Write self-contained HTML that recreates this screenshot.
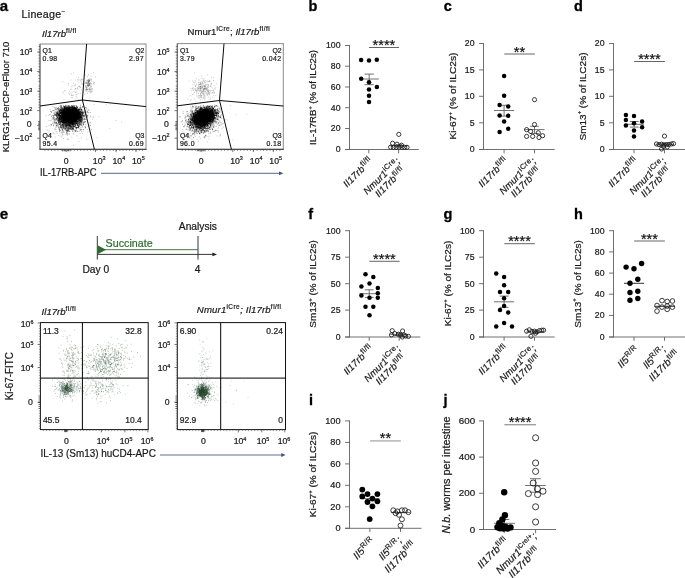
<!DOCTYPE html><html><head><meta charset="utf-8"><title>Figure</title><style>html,body{margin:0;padding:0;background:#fff;}svg{display:block;font-family:"Liberation Sans", sans-serif;will-change:transform;}</style></head><body>
<svg width="685" height="578" viewBox="0 0 685 578">
<rect width="685" height="578" fill="#fff"/>
<text x="-0.30" y="10.90" font-size="15" text-anchor="start" fill="#000" stroke="#000" stroke-width="0.3" font-weight="bold">a</text>
<text x="21.60" y="18.30" font-size="10.7" text-anchor="start" fill="#1a1a1a" stroke="#1a1a1a" stroke-width="0.22" letter-spacing="0.25">Lineage<tspan font-size="6.5" dy="-4.20" font-style="normal" letter-spacing="0.45">−</tspan></text>
<path d="M68.8 116.8h.1M68.9 113.6h.1M65.0 114.0h.1M76.4 116.5h.1M76.0 115.8h.1M72.4 115.5h.1M60.9 118.1h.1M73.0 116.7h.1M60.7 108.0h.1M65.2 113.0h.1M71.9 114.6h.1M73.1 112.3h.1M71.9 116.3h.1M66.5 121.5h.1M73.3 119.5h.1M66.7 111.9h.1M68.3 114.4h.1M73.7 115.8h.1M67.7 111.1h.1M67.3 119.6h.1M65.7 115.8h.1M72.6 109.0h.1M70.5 119.9h.1M58.9 113.5h.1M69.6 111.6h.1M73.0 114.6h.1M62.0 118.0h.1M73.9 118.5h.1M78.3 116.2h.1M70.9 109.7h.1M73.6 112.4h.1M67.7 109.9h.1M64.8 112.7h.1M77.4 106.9h.1M62.0 115.7h.1M78.3 117.1h.1M72.2 111.9h.1M63.9 118.6h.1M76.4 115.4h.1M71.6 116.5h.1M79.1 117.2h.1M73.1 116.9h.1M61.4 119.8h.1M75.5 116.9h.1M59.1 112.3h.1M74.9 107.7h.1M69.2 118.8h.1M62.9 121.1h.1M73.3 114.2h.1M72.0 117.3h.1M70.9 119.3h.1M66.5 113.2h.1M76.0 114.9h.1M65.3 118.5h.1M78.4 113.1h.1M62.5 114.3h.1M69.4 113.6h.1M78.1 110.8h.1M77.3 109.9h.1M65.8 117.3h.1M76.5 118.2h.1M72.1 115.4h.1M71.1 117.0h.1M69.2 115.9h.1M73.4 114.8h.1M74.5 117.0h.1M81.5 116.1h.1M67.8 113.3h.1M70.1 118.4h.1M68.3 116.3h.1M63.9 115.8h.1M72.4 115.7h.1M67.8 117.4h.1M71.8 112.8h.1M83.8 116.2h.1M67.1 114.4h.1M68.9 114.6h.1M54.9 112.9h.1M75.8 110.2h.1M69.8 118.5h.1M75.0 120.6h.1M60.7 113.4h.1M68.3 117.2h.1M76.3 109.2h.1M74.0 109.0h.1M71.2 119.5h.1M69.4 115.5h.1M74.7 115.4h.1M69.7 120.8h.1M76.1 113.7h.1M85.6 110.3h.1M75.3 113.8h.1M70.9 117.5h.1M71.4 117.3h.1M61.6 108.9h.1M73.6 111.0h.1M64.5 109.1h.1M77.3 117.7h.1M78.4 111.1h.1M70.2 110.4h.1M74.5 121.0h.1M65.2 120.9h.1M75.7 114.1h.1M59.2 120.3h.1M69.7 112.4h.1M72.4 116.4h.1M78.6 110.8h.1M76.6 120.6h.1M78.3 114.1h.1M66.0 118.8h.1M70.8 115.3h.1M78.2 113.8h.1M57.3 113.3h.1M59.8 118.0h.1M72.0 112.4h.1M70.1 118.0h.1M70.6 120.0h.1M69.9 118.9h.1M78.6 121.1h.1M66.4 118.2h.1M59.7 110.6h.1M59.2 119.0h.1M63.3 114.8h.1M69.1 114.7h.1M66.9 115.7h.1M80.2 115.0h.1M73.2 118.7h.1M69.1 109.9h.1M67.1 119.0h.1M61.0 112.5h.1M75.8 117.9h.1M70.2 117.9h.1M71.1 110.2h.1M61.4 112.3h.1M75.4 112.6h.1M65.1 111.8h.1M61.6 114.3h.1M63.6 116.2h.1M57.0 116.1h.1M66.6 107.2h.1M74.3 113.7h.1M57.7 111.4h.1M71.8 113.0h.1M74.6 117.7h.1M73.9 116.1h.1M77.7 117.4h.1M72.7 106.7h.1M75.2 119.9h.1M68.5 113.0h.1M81.1 107.9h.1M72.8 124.3h.1M65.0 117.5h.1M80.8 114.3h.1M73.3 118.3h.1M65.1 114.5h.1M71.8 118.0h.1M70.0 114.0h.1M64.5 113.4h.1M75.2 115.2h.1M65.4 111.5h.1M85.1 119.2h.1M73.7 116.7h.1M79.6 116.5h.1M69.8 116.8h.1M59.3 118.8h.1M72.0 112.1h.1M77.6 121.9h.1M62.3 112.2h.1M71.8 115.5h.1M68.0 111.0h.1M82.1 118.8h.1M63.5 109.6h.1M79.7 118.7h.1M80.4 118.0h.1M65.3 115.8h.1M58.1 111.9h.1M69.9 116.8h.1M66.1 114.3h.1M72.8 116.3h.1M73.8 115.6h.1M68.4 117.9h.1M70.5 111.6h.1M66.7 114.8h.1M69.6 115.4h.1M70.2 115.5h.1M69.4 109.9h.1M72.6 118.9h.1M72.6 114.1h.1M72.7 111.0h.1M59.6 115.0h.1M65.0 117.7h.1M64.4 121.0h.1M68.1 109.5h.1M65.9 116.8h.1M73.0 115.5h.1M78.5 117.6h.1M70.1 117.1h.1M79.5 118.6h.1M75.9 110.6h.1M69.4 117.6h.1M68.5 119.0h.1M73.5 118.3h.1M69.0 124.7h.1M77.1 114.0h.1M70.7 124.9h.1M68.3 118.2h.1M75.7 114.8h.1M63.7 115.5h.1M72.2 119.2h.1M74.6 114.9h.1M75.0 116.9h.1M71.4 115.0h.1M68.8 117.5h.1M64.3 112.3h.1M70.2 109.1h.1M67.8 107.0h.1M66.4 117.0h.1M73.4 114.6h.1M68.9 109.3h.1M80.4 116.8h.1M76.3 111.4h.1M69.2 107.7h.1M74.6 118.4h.1M59.6 114.6h.1M73.7 107.9h.1M60.0 110.6h.1M66.7 109.3h.1M70.4 115.8h.1M73.8 117.5h.1M78.6 119.3h.1M62.9 112.8h.1M64.3 110.6h.1M69.7 114.8h.1M72.9 108.6h.1M63.3 114.7h.1M69.1 113.6h.1M69.8 111.8h.1M74.1 116.2h.1M69.7 112.2h.1M64.7 114.9h.1M61.8 115.6h.1M71.0 109.4h.1M68.8 113.6h.1M72.8 117.2h.1M70.0 111.5h.1M69.4 114.5h.1M74.3 115.9h.1M66.2 109.5h.1M68.1 111.9h.1M64.0 114.3h.1M67.5 115.2h.1M73.1 113.2h.1M83.2 113.5h.1M76.4 115.3h.1M66.0 115.8h.1M73.6 123.9h.1M72.0 119.8h.1M74.5 118.5h.1M73.1 114.2h.1M73.1 110.6h.1M76.8 110.8h.1M71.6 123.1h.1M68.9 114.9h.1M76.7 114.9h.1M65.7 115.8h.1M73.5 117.6h.1M65.9 121.6h.1M79.5 114.9h.1M71.7 113.1h.1M78.1 112.1h.1M74.0 112.9h.1M66.3 117.6h.1M77.7 114.8h.1M66.4 118.0h.1M69.9 116.0h.1M78.7 119.2h.1M67.3 123.7h.1M70.2 117.9h.1M66.6 114.6h.1M60.4 121.8h.1M77.8 110.1h.1M61.8 108.5h.1M76.8 113.0h.1M69.9 113.6h.1M69.5 110.6h.1M70.3 109.2h.1M69.8 116.0h.1M72.8 113.9h.1M65.1 115.4h.1M67.5 120.9h.1M74.5 114.4h.1M67.6 112.1h.1M65.0 113.4h.1M71.9 116.8h.1M73.4 123.0h.1M66.3 114.9h.1M85.8 107.5h.1M67.3 115.5h.1M71.1 116.4h.1M68.9 116.2h.1M70.5 117.8h.1M59.6 111.3h.1M70.2 110.8h.1M64.3 117.2h.1M66.6 117.3h.1M74.4 116.0h.1M73.0 114.4h.1M62.3 114.7h.1M72.7 112.7h.1M69.6 117.7h.1M65.3 117.3h.1M80.6 112.6h.1M71.0 114.2h.1M78.8 116.0h.1M75.2 112.1h.1M70.1 114.8h.1M60.3 120.4h.1M75.2 108.0h.1M74.4 114.3h.1M72.7 116.2h.1M61.8 114.0h.1M78.6 112.6h.1M64.5 109.5h.1M63.4 116.1h.1M79.7 116.5h.1M71.6 123.5h.1M67.3 112.2h.1M73.2 116.9h.1M64.5 110.2h.1M71.8 115.8h.1M62.9 114.0h.1M67.2 116.6h.1M69.5 114.5h.1M68.2 118.9h.1M78.0 113.4h.1M74.9 111.8h.1M70.6 117.7h.1M78.7 113.3h.1M69.8 115.6h.1M61.8 114.9h.1M66.4 116.2h.1M63.9 107.1h.1M70.4 115.8h.1M67.1 118.3h.1M68.7 112.4h.1M72.9 108.7h.1M66.4 114.7h.1M75.0 114.2h.1M71.9 112.2h.1M71.9 121.3h.1M66.4 124.0h.1M66.6 114.9h.1M71.2 118.8h.1M63.3 106.6h.1M73.6 117.9h.1M73.7 125.1h.1M71.3 115.8h.1M75.4 116.2h.1M79.5 110.0h.1M74.7 113.3h.1M75.4 123.2h.1M70.2 113.8h.1M67.4 111.5h.1M66.7 117.3h.1M70.4 115.1h.1M69.2 118.4h.1M73.0 114.2h.1M73.9 114.2h.1M63.7 120.5h.1M72.8 111.1h.1M76.2 116.1h.1M61.4 121.1h.1M72.1 118.3h.1M71.3 114.2h.1M61.5 118.6h.1M70.4 113.7h.1M72.2 115.1h.1M74.0 113.4h.1M70.0 106.5h.1M67.8 117.4h.1M77.7 113.4h.1M69.5 121.0h.1M68.4 117.7h.1M79.6 115.0h.1M77.1 112.0h.1M71.4 114.5h.1M70.8 119.2h.1M83.6 112.2h.1M67.0 116.7h.1M64.3 116.7h.1M73.4 113.7h.1M73.2 108.8h.1M74.5 108.8h.1M66.3 112.6h.1M68.0 118.1h.1M70.7 113.2h.1M73.2 121.0h.1M70.2 116.2h.1M77.1 115.8h.1M63.0 124.5h.1M82.6 107.1h.1M70.0 116.4h.1M75.6 117.4h.1M68.7 110.7h.1M70.8 118.8h.1M64.1 110.8h.1M70.1 107.2h.1M68.7 113.1h.1M72.7 112.1h.1M65.3 113.3h.1M69.9 112.2h.1M70.3 117.7h.1M76.8 121.4h.1M65.8 113.2h.1M56.3 122.2h.1M66.1 114.7h.1M73.1 109.5h.1M72.8 114.7h.1M60.0 115.9h.1M76.9 107.5h.1M74.7 115.6h.1M72.9 116.5h.1M77.5 113.9h.1M75.1 113.2h.1M74.3 111.6h.1M69.6 121.6h.1M72.7 114.2h.1M63.8 111.7h.1M71.3 118.5h.1M72.6 116.8h.1M70.0 120.1h.1M68.0 112.7h.1M75.2 115.0h.1M68.6 112.6h.1M68.8 117.2h.1M72.2 110.1h.1M72.6 115.5h.1M64.6 117.8h.1M68.6 113.5h.1M74.7 120.0h.1M66.3 116.5h.1M65.3 123.8h.1M67.4 119.5h.1M66.6 118.0h.1M67.8 116.8h.1M69.7 112.2h.1M82.3 115.1h.1M61.0 118.1h.1M60.6 119.3h.1M67.0 115.4h.1M77.3 115.3h.1M62.4 108.2h.1M76.8 117.7h.1M65.6 118.2h.1M73.0 117.3h.1M57.6 113.6h.1M75.2 117.7h.1M71.1 116.7h.1M84.5 111.1h.1M68.4 114.9h.1M75.2 113.1h.1M76.6 111.7h.1M71.7 112.7h.1M71.1 112.1h.1M61.3 119.1h.1M71.9 112.6h.1M71.3 118.7h.1M64.7 114.4h.1M73.2 116.9h.1M68.3 106.6h.1M77.2 116.1h.1M70.3 113.7h.1M71.7 113.1h.1M64.5 111.9h.1M66.9 112.4h.1M63.7 117.3h.1M62.9 117.4h.1M64.5 116.2h.1M77.9 115.6h.1M66.1 115.0h.1M71.0 108.0h.1M66.8 115.4h.1M67.6 115.1h.1M74.3 117.8h.1M75.3 117.1h.1M68.6 114.7h.1M68.7 113.6h.1M69.2 108.1h.1M68.3 114.7h.1M64.7 114.7h.1M73.1 114.2h.1M69.0 107.7h.1M75.7 125.2h.1M56.2 115.3h.1M73.1 113.6h.1M73.3 106.1h.1M75.0 116.3h.1M70.3 112.5h.1M73.8 112.9h.1M71.4 112.8h.1M57.6 114.7h.1M71.3 117.7h.1M65.3 114.7h.1M73.7 115.4h.1M77.2 122.6h.1M65.1 107.3h.1M75.0 120.8h.1M75.4 118.0h.1M66.7 112.0h.1M75.2 111.2h.1M60.0 110.9h.1M84.2 122.3h.1M66.4 112.0h.1M71.5 111.9h.1M77.5 114.5h.1M64.1 119.9h.1M66.9 115.7h.1M70.1 113.6h.1M72.0 112.1h.1M59.9 106.2h.1M63.1 111.8h.1M70.1 115.0h.1M73.3 115.3h.1M65.8 112.0h.1M58.3 114.1h.1M72.9 116.9h.1M69.5 114.1h.1M75.4 114.9h.1M74.3 117.1h.1M71.4 119.9h.1M67.0 113.4h.1M65.7 111.7h.1M78.9 121.7h.1M70.3 117.0h.1M76.8 117.9h.1M76.9 109.9h.1M66.6 116.6h.1M78.2 115.2h.1M65.4 113.4h.1M66.5 111.5h.1M78.6 112.4h.1M70.3 123.2h.1M76.8 116.1h.1M66.8 116.4h.1M79.3 117.2h.1M77.3 115.2h.1M73.1 114.0h.1M72.6 119.9h.1M62.2 114.6h.1M71.5 112.6h.1M68.5 117.9h.1M81.4 117.3h.1M72.0 108.7h.1M81.0 115.1h.1M70.0 110.4h.1M69.9 110.5h.1M70.6 116.6h.1M70.4 115.9h.1M65.4 120.4h.1M66.5 107.7h.1M69.1 111.8h.1M64.5 113.4h.1M71.8 110.2h.1M69.4 120.4h.1M74.0 114.2h.1M70.9 114.3h.1M69.9 117.7h.1M70.1 111.3h.1M73.8 112.4h.1M71.0 123.3h.1M64.3 110.4h.1M59.7 116.2h.1M66.6 107.5h.1M61.9 117.2h.1M65.9 113.4h.1M72.1 120.1h.1M81.1 118.8h.1M71.0 115.5h.1M80.3 120.4h.1M68.5 116.6h.1M71.8 115.0h.1M67.4 109.6h.1M67.2 108.8h.1M77.1 116.9h.1M63.4 120.2h.1M75.2 107.4h.1M80.5 118.0h.1M81.8 110.0h.1M73.2 116.5h.1M71.3 115.5h.1M76.1 109.0h.1M63.2 109.4h.1M67.1 112.4h.1M72.3 115.8h.1M70.4 112.2h.1M67.7 118.5h.1M74.5 115.2h.1M68.4 120.9h.1M66.9 117.3h.1M76.7 113.8h.1M74.8 110.4h.1M75.9 115.6h.1M61.3 117.4h.1M65.2 119.8h.1M66.4 114.2h.1M71.8 113.5h.1M71.7 112.6h.1M74.0 114.8h.1M76.7 114.9h.1M60.2 115.2h.1M72.8 119.0h.1M64.1 120.8h.1M69.3 124.1h.1M69.4 117.5h.1M68.1 110.4h.1M76.3 118.3h.1M78.8 118.1h.1M67.0 108.3h.1M66.6 112.2h.1M65.6 117.1h.1M72.0 113.7h.1M71.2 114.2h.1M71.4 117.7h.1M75.6 112.1h.1M61.8 120.4h.1M70.8 119.1h.1M61.0 113.5h.1M70.4 109.2h.1M67.3 117.6h.1M76.2 121.0h.1M65.4 109.3h.1M73.1 118.5h.1M71.3 109.7h.1M74.6 117.9h.1M73.3 112.9h.1M71.9 117.9h.1M67.1 107.6h.1M72.0 116.7h.1M70.3 118.3h.1M66.9 114.5h.1M68.5 117.0h.1M79.1 113.8h.1M81.7 120.8h.1M74.6 117.1h.1M80.1 114.1h.1M69.6 110.7h.1M72.8 120.0h.1M73.2 116.5h.1M69.1 115.5h.1M62.2 118.9h.1M67.9 110.5h.1M66.0 111.6h.1M75.0 118.9h.1M62.6 118.4h.1M75.2 112.5h.1M61.9 111.9h.1M66.7 116.1h.1M68.2 106.9h.1M71.5 108.8h.1M75.3 110.1h.1M66.3 111.5h.1M67.2 119.9h.1M75.0 117.1h.1M72.0 108.8h.1M67.3 112.6h.1M64.7 116.8h.1M66.0 112.0h.1M64.4 106.8h.1M73.5 120.0h.1M71.2 111.0h.1M55.1 115.5h.1M77.0 116.0h.1M75.4 120.6h.1M76.5 113.1h.1M76.1 117.8h.1M61.6 113.2h.1M62.2 114.4h.1M73.4 110.6h.1M58.7 119.9h.1M72.3 120.5h.1M62.8 118.9h.1M81.8 122.6h.1M69.0 115.8h.1M69.3 118.7h.1M76.0 115.1h.1M62.6 117.7h.1M67.6 117.3h.1M71.7 121.1h.1M76.6 113.0h.1M72.2 121.7h.1M67.2 116.5h.1M76.9 119.7h.1M73.1 109.7h.1M63.1 115.8h.1M72.4 124.7h.1M65.4 119.2h.1M74.5 108.3h.1M65.6 115.4h.1M67.4 114.2h.1M72.8 111.6h.1M72.8 112.3h.1M67.1 116.9h.1M67.0 115.9h.1M79.2 114.9h.1M69.4 117.7h.1M68.2 119.0h.1M63.0 117.2h.1M67.3 111.7h.1M80.1 111.5h.1M80.0 117.4h.1M78.3 111.0h.1M76.9 120.5h.1M69.5 114.3h.1M84.0 115.5h.1M67.8 112.3h.1M72.7 116.1h.1M71.2 121.5h.1M68.4 116.6h.1M78.4 110.9h.1M76.0 121.9h.1M62.6 110.5h.1M64.4 107.6h.1M72.7 107.6h.1M73.0 120.5h.1M61.2 113.6h.1M59.5 117.8h.1M66.1 113.8h.1M70.5 116.9h.1M68.3 114.9h.1M67.1 115.2h.1M63.6 115.0h.1M59.4 112.9h.1M80.9 115.1h.1M63.1 115.8h.1M64.8 108.4h.1M66.1 117.7h.1M72.3 114.4h.1M65.0 110.6h.1M77.8 115.8h.1M64.9 106.6h.1M62.5 124.5h.1M63.8 114.5h.1M71.4 114.2h.1M68.6 109.4h.1M64.3 121.4h.1M66.0 118.1h.1M60.7 113.7h.1M71.7 118.8h.1M63.9 117.1h.1M72.4 111.9h.1M72.9 111.3h.1M65.7 114.7h.1M55.0 114.4h.1M64.6 109.1h.1M67.8 117.8h.1M67.9 119.7h.1M63.7 109.7h.1M78.9 116.4h.1M75.5 111.6h.1M74.7 115.8h.1M73.8 114.9h.1M77.0 112.3h.1M64.8 109.0h.1M76.7 111.9h.1M64.4 111.1h.1M67.7 109.8h.1M68.6 112.4h.1M67.1 111.1h.1M70.4 113.0h.1M70.8 115.8h.1M72.1 106.3h.1M67.2 111.7h.1M74.5 108.6h.1M66.2 113.7h.1M68.3 118.7h.1M67.7 118.6h.1M62.0 107.7h.1M77.0 116.5h.1M72.9 115.3h.1M72.9 110.1h.1M75.5 112.7h.1M75.7 115.1h.1M59.1 109.8h.1M76.5 114.3h.1M68.0 115.7h.1M67.8 112.7h.1M70.8 115.4h.1M78.7 115.0h.1M80.7 121.8h.1M79.8 118.9h.1M70.9 115.3h.1M69.4 111.9h.1M69.8 112.3h.1M79.4 116.9h.1M67.7 107.3h.1M69.9 113.2h.1M64.1 110.4h.1M57.6 117.0h.1M69.8 124.9h.1M70.0 114.2h.1M78.3 115.3h.1M71.1 113.4h.1M66.8 120.6h.1M75.8 121.5h.1M68.2 114.9h.1M65.3 118.6h.1M62.4 117.0h.1M76.3 120.3h.1M64.9 119.0h.1M66.2 111.8h.1M62.8 119.3h.1M79.4 112.5h.1M65.9 113.5h.1M84.2 118.7h.1M67.2 107.8h.1M66.4 119.4h.1M80.7 113.8h.1M66.3 112.8h.1M59.6 118.3h.1M64.1 118.9h.1M60.6 109.8h.1M71.8 111.8h.1M74.6 114.8h.1M63.6 117.2h.1M74.9 107.3h.1M80.4 116.7h.1M74.5 107.5h.1M66.2 113.4h.1M76.2 109.1h.1M65.3 106.9h.1M68.9 116.1h.1M60.8 112.5h.1M73.1 121.0h.1M73.9 113.6h.1M63.6 111.1h.1M66.5 115.4h.1M69.9 121.3h.1M71.8 110.6h.1M78.8 118.5h.1M70.8 112.0h.1M59.7 110.8h.1M75.3 111.7h.1M62.8 115.6h.1M71.6 117.2h.1M73.9 120.3h.1M65.5 118.6h.1M64.7 117.5h.1M71.2 115.7h.1M75.6 114.7h.1M76.4 118.2h.1M71.0 112.6h.1M66.0 112.7h.1M69.1 114.7h.1M86.9 117.3h.1M74.5 111.4h.1M66.2 113.6h.1M71.3 110.8h.1M79.2 112.6h.1M76.2 105.7h.1M70.2 115.9h.1M71.3 117.1h.1M71.8 115.4h.1M59.6 112.0h.1M57.1 117.3h.1M71.9 114.0h.1M65.6 112.5h.1M80.5 121.6h.1M69.9 119.8h.1M61.3 107.3h.1M67.5 111.4h.1M67.1 115.5h.1M87.1 112.2h.1M70.5 115.9h.1M70.0 118.4h.1M80.1 110.0h.1M71.1 113.8h.1M72.2 108.8h.1M60.4 105.8h.1M73.1 115.5h.1M68.1 111.9h.1M62.3 111.2h.1M74.1 116.9h.1M70.1 116.8h.1M66.8 115.1h.1M70.4 117.0h.1M69.8 114.2h.1M69.4 112.3h.1M82.7 116.8h.1M72.6 123.7h.1M78.1 108.7h.1M74.1 118.1h.1M80.8 119.9h.1M74.5 110.2h.1M65.3 115.8h.1M73.0 110.8h.1M68.0 113.2h.1M70.5 116.1h.1M68.6 110.0h.1M77.2 121.0h.1M69.6 118.8h.1M72.7 117.4h.1M72.9 111.8h.1M73.4 118.7h.1M65.2 122.5h.1M81.9 121.9h.1M81.3 117.7h.1M68.3 112.5h.1M65.6 115.3h.1M70.0 117.4h.1M58.9 123.8h.1M82.9 114.7h.1M74.0 116.7h.1M71.7 114.0h.1M69.5 111.6h.1M71.2 114.7h.1M72.0 111.5h.1M70.4 115.0h.1M73.6 110.7h.1M72.5 118.6h.1M73.5 113.4h.1M67.4 113.9h.1M74.3 120.9h.1M69.3 112.3h.1M72.3 115.6h.1M65.1 111.9h.1M69.6 117.4h.1M63.5 110.8h.1M73.0 110.0h.1M70.8 116.2h.1M69.6 110.8h.1M69.9 113.5h.1M72.1 111.5h.1M76.3 108.3h.1M69.2 114.8h.1M75.6 112.4h.1M73.3 112.6h.1M74.3 121.6h.1M68.0 116.5h.1M65.0 118.6h.1M77.0 114.9h.1M63.8 116.4h.1M76.6 119.0h.1M74.8 107.7h.1M66.4 120.3h.1M63.3 119.2h.1M80.7 117.8h.1M76.5 113.5h.1M63.3 114.4h.1M69.1 114.6h.1M74.1 114.2h.1M71.3 116.5h.1M70.2 122.0h.1M72.7 115.1h.1M69.0 112.4h.1M77.7 115.4h.1M64.2 112.6h.1M69.4 113.1h.1M76.3 110.3h.1M73.0 115.4h.1M63.6 115.0h.1M69.7 116.8h.1M67.7 116.0h.1M60.9 110.6h.1M74.6 118.9h.1M70.1 112.5h.1M76.3 106.6h.1M65.7 117.4h.1M73.9 110.8h.1M59.6 120.5h.1M71.1 111.3h.1M70.5 118.3h.1M55.7 119.1h.1M74.3 106.7h.1M74.5 107.9h.1M76.6 116.4h.1M82.8 112.4h.1M70.2 118.9h.1M66.6 112.1h.1M68.1 114.5h.1M64.1 116.7h.1M73.2 115.1h.1M79.7 113.5h.1M77.5 112.7h.1M74.4 107.3h.1M71.3 114.1h.1M67.4 112.4h.1M68.3 112.0h.1M57.9 112.5h.1M67.1 112.8h.1M64.3 114.3h.1M74.6 113.8h.1M67.4 120.1h.1M75.7 118.4h.1M76.7 113.5h.1M69.5 119.1h.1M67.1 114.3h.1M72.3 116.3h.1M68.7 118.6h.1M69.2 117.6h.1M76.2 117.4h.1M74.3 110.3h.1M62.9 112.4h.1M72.9 120.7h.1M63.4 116.0h.1M65.4 111.9h.1M68.7 117.5h.1M71.4 119.4h.1M64.7 118.3h.1M75.4 115.1h.1M72.9 112.6h.1M64.1 113.2h.1M66.6 126.1h.1M67.5 121.2h.1M71.3 116.0h.1M74.4 111.8h.1M75.3 116.3h.1M61.7 117.1h.1M73.3 116.6h.1M79.1 113.2h.1M73.1 117.7h.1M65.2 119.5h.1M62.1 109.7h.1M73.1 110.6h.1M69.5 108.4h.1M70.6 110.4h.1M72.1 108.8h.1M72.7 113.8h.1M70.6 114.5h.1M70.9 109.6h.1M55.8 114.9h.1M65.0 113.0h.1M72.6 107.1h.1M65.9 112.4h.1M64.3 116.1h.1M69.4 111.6h.1M64.7 117.9h.1M66.5 117.1h.1M72.7 107.4h.1M64.1 114.8h.1M72.1 117.8h.1M74.7 118.8h.1M68.1 114.0h.1M74.5 113.1h.1M76.1 108.6h.1M73.9 114.1h.1M59.2 118.6h.1M71.9 114.9h.1M64.2 113.0h.1M78.7 111.6h.1M50.8 111.5h.1M63.5 114.3h.1M68.0 111.2h.1M65.5 118.9h.1M62.1 122.4h.1M67.2 110.5h.1M74.6 117.0h.1M64.4 117.7h.1M59.9 111.2h.1M76.5 113.8h.1M62.9 116.8h.1M75.3 114.7h.1M60.1 113.4h.1M72.5 117.8h.1M80.6 113.8h.1M67.5 114.7h.1M77.0 111.1h.1M74.7 112.2h.1M72.8 117.5h.1M63.6 114.5h.1M71.5 117.1h.1M65.0 110.9h.1M59.4 124.7h.1M69.1 113.9h.1M61.8 118.4h.1M67.2 120.4h.1M75.0 114.9h.1M74.3 110.5h.1M68.4 112.6h.1M63.1 114.9h.1M69.4 120.4h.1M51.4 112.2h.1M65.1 113.0h.1M72.6 116.4h.1M70.4 113.0h.1M73.0 116.2h.1M59.9 113.8h.1M62.5 110.2h.1M71.0 115.0h.1M70.8 111.4h.1M69.1 111.2h.1M72.3 117.5h.1M80.0 119.7h.1M65.7 113.0h.1M64.9 116.0h.1M81.3 117.6h.1M57.9 109.9h.1M63.0 116.8h.1M70.2 116.0h.1M80.2 111.6h.1M65.5 122.5h.1M72.1 111.8h.1M58.8 108.9h.1M56.5 115.1h.1M70.4 118.7h.1M69.4 112.1h.1M66.0 122.2h.1M60.3 115.5h.1M70.3 117.2h.1M67.9 116.7h.1M74.8 114.2h.1M67.6 114.1h.1M64.8 114.0h.1M68.5 115.6h.1M77.7 119.9h.1M67.7 117.2h.1M71.9 117.8h.1M70.3 115.8h.1M67.6 111.7h.1M75.1 119.9h.1M73.9 116.5h.1M71.7 113.0h.1M60.2 117.4h.1M71.3 112.6h.1M64.8 119.8h.1M60.1 121.7h.1M73.8 124.0h.1M66.2 114.7h.1M67.4 115.4h.1M69.0 111.9h.1M76.2 111.7h.1M67.4 117.0h.1M67.2 113.1h.1M72.2 113.4h.1M63.2 114.4h.1M69.0 121.4h.1M64.1 118.6h.1M65.8 113.4h.1M68.4 115.9h.1M75.0 121.6h.1M66.6 120.0h.1M75.8 118.0h.1M65.9 118.3h.1M69.6 116.2h.1M68.7 117.4h.1M76.4 119.2h.1M69.1 118.7h.1M78.3 111.2h.1M78.4 109.6h.1M73.2 117.1h.1M78.5 115.9h.1M67.5 111.7h.1M63.2 117.8h.1M68.9 112.0h.1M73.2 111.8h.1M67.8 113.0h.1M79.5 120.5h.1M69.3 108.7h.1M71.7 115.1h.1M72.2 117.0h.1M68.4 118.4h.1M74.9 115.6h.1M67.9 112.9h.1M74.1 110.5h.1M69.3 111.9h.1M62.4 117.2h.1M70.1 114.9h.1M75.1 109.0h.1M69.8 115.9h.1M74.9 110.6h.1M74.2 115.7h.1M77.8 119.2h.1M73.3 123.2h.1M70.2 113.1h.1M68.3 111.1h.1M70.0 107.5h.1M69.7 116.5h.1M75.8 113.4h.1M78.0 112.3h.1M69.4 107.5h.1M65.9 111.7h.1M78.4 116.8h.1M64.2 116.8h.1M72.8 113.9h.1M70.3 113.6h.1M67.2 108.0h.1M69.7 119.7h.1M78.0 113.7h.1M66.1 114.0h.1M75.1 116.1h.1M67.0 116.2h.1M69.1 116.8h.1M68.0 109.2h.1M70.5 117.7h.1M64.2 114.4h.1M75.0 113.4h.1M66.6 122.5h.1M74.7 118.7h.1M65.0 121.0h.1M61.2 112.8h.1M74.2 119.9h.1M65.1 112.3h.1M71.3 107.5h.1M73.7 116.9h.1M67.8 116.8h.1M74.4 116.0h.1M73.0 120.5h.1M67.6 115.4h.1M67.4 118.7h.1M68.0 116.6h.1M70.9 115.1h.1M79.5 114.5h.1M77.9 117.9h.1M77.4 114.2h.1M75.2 117.7h.1M66.9 115.8h.1M69.5 114.7h.1M77.2 112.1h.1M61.1 108.2h.1M67.8 112.4h.1M70.3 116.9h.1M79.7 116.0h.1M72.7 112.0h.1M73.3 119.9h.1M77.4 107.4h.1M75.0 120.8h.1M74.7 109.2h.1M68.5 117.0h.1M72.4 111.8h.1M65.4 118.4h.1M63.0 120.2h.1M70.3 115.9h.1M63.0 112.6h.1M73.9 109.3h.1M81.4 109.5h.1M63.6 115.0h.1M72.8 117.6h.1M68.2 114.0h.1M68.9 112.6h.1M56.3 118.4h.1M71.6 115.4h.1M66.8 115.7h.1M70.1 114.5h.1M76.1 108.3h.1M71.6 110.8h.1M68.5 120.4h.1M64.4 114.4h.1M67.0 118.4h.1M64.9 108.5h.1M73.0 113.5h.1M68.5 118.8h.1M65.4 113.4h.1M71.0 116.3h.1M67.4 118.7h.1M82.3 113.3h.1M80.3 106.9h.1M77.8 113.5h.1M70.9 113.5h.1M66.8 110.0h.1M68.1 119.7h.1M76.3 113.5h.1M67.4 112.2h.1M63.7 121.6h.1M73.8 115.2h.1M67.6 111.0h.1M77.3 117.7h.1M65.1 118.5h.1M64.2 117.2h.1M65.0 113.2h.1M72.9 116.4h.1M75.6 111.7h.1M78.7 119.8h.1M70.1 116.5h.1M66.0 114.2h.1M63.1 115.1h.1M71.3 119.8h.1M75.3 117.9h.1M68.3 114.0h.1M68.4 115.6h.1M59.8 117.7h.1M61.8 112.9h.1M70.3 112.9h.1M79.1 114.4h.1M78.6 119.2h.1M67.5 116.3h.1M77.2 113.6h.1M70.7 112.7h.1M70.5 113.5h.1M70.6 118.6h.1M77.7 115.3h.1M71.3 118.0h.1M68.6 110.8h.1M76.2 111.3h.1M75.2 111.2h.1M80.0 110.9h.1M74.8 120.4h.1M65.0 120.4h.1M65.8 108.2h.1M74.1 117.4h.1M69.9 113.7h.1M68.2 113.7h.1M60.6 112.7h.1M79.9 120.6h.1M68.3 112.1h.1M72.3 118.8h.1M74.1 110.4h.1M71.1 115.3h.1M77.9 119.3h.1M73.0 119.4h.1M68.1 120.6h.1M67.9 116.3h.1M75.1 111.4h.1M66.4 108.2h.1M71.1 114.6h.1M68.4 116.7h.1M58.8 114.7h.1M70.7 113.8h.1M74.5 121.4h.1M67.8 111.3h.1M67.0 115.1h.1M73.4 111.6h.1M75.6 111.0h.1M74.6 116.4h.1M72.7 122.9h.1M68.8 114.2h.1M72.8 118.0h.1M63.0 115.8h.1M66.2 117.2h.1M77.6 115.0h.1M69.6 115.5h.1M54.3 117.7h.1M73.2 115.4h.1M68.1 112.1h.1M69.2 119.3h.1M69.6 119.8h.1M56.4 113.1h.1M71.7 114.7h.1M61.3 112.3h.1M76.9 110.0h.1M64.9 110.7h.1M67.2 117.2h.1M73.4 107.2h.1M78.0 112.6h.1M67.0 121.0h.1M69.8 110.2h.1M66.8 112.1h.1M64.8 113.6h.1M74.9 116.1h.1M62.8 125.2h.1M64.9 115.2h.1M70.4 117.7h.1M68.4 116.5h.1M81.5 115.2h.1M64.4 116.0h.1M65.9 113.4h.1M71.2 116.1h.1M68.7 118.0h.1M69.2 109.9h.1M74.9 113.4h.1M76.7 112.3h.1M73.3 116.0h.1M55.7 109.2h.1M64.2 120.1h.1M60.0 118.2h.1M76.1 116.7h.1M73.8 112.9h.1M70.1 115.6h.1M72.5 117.4h.1M69.1 112.2h.1M67.2 116.3h.1M61.3 110.1h.1M68.0 112.7h.1M68.4 113.9h.1M74.4 107.4h.1M68.6 116.6h.1M72.8 119.3h.1M75.9 110.9h.1M73.6 113.5h.1M65.9 120.5h.1M66.8 111.6h.1M68.0 111.6h.1M75.6 116.2h.1M77.7 116.3h.1M66.9 118.7h.1M66.7 113.1h.1M69.3 114.9h.1M76.6 112.5h.1M72.1 114.7h.1M63.4 110.7h.1M69.0 116.3h.1M71.9 116.6h.1M70.5 113.1h.1M72.5 111.0h.1M63.0 113.5h.1M62.5 112.9h.1M66.2 112.7h.1M70.0 111.8h.1M67.9 108.4h.1M71.0 111.5h.1M65.9 115.7h.1M57.0 113.4h.1M70.7 115.2h.1M62.1 115.7h.1M71.0 111.1h.1M74.2 114.6h.1M70.3 113.1h.1M73.2 115.2h.1M76.3 116.5h.1M66.9 114.0h.1M75.2 113.4h.1M72.3 116.8h.1M69.2 106.0h.1M70.9 115.6h.1M70.9 111.9h.1M76.7 114.3h.1M66.8 112.1h.1M72.1 110.7h.1M64.8 122.3h.1M77.3 118.8h.1M77.6 117.0h.1M61.1 119.3h.1M76.9 116.6h.1M59.6 119.5h.1M77.6 112.9h.1M70.9 117.7h.1M69.7 118.9h.1M70.6 117.4h.1M70.7 109.2h.1M64.8 126.8h.1M71.7 119.8h.1M76.4 121.3h.1M73.2 112.5h.1M70.3 107.5h.1M69.2 118.2h.1M58.5 115.5h.1M74.7 119.8h.1M65.2 112.3h.1M60.0 110.9h.1M73.1 122.6h.1M64.0 120.0h.1M72.5 112.9h.1M69.8 115.6h.1M81.8 121.6h.1M82.5 115.3h.1M75.5 120.0h.1M73.0 116.2h.1M69.2 113.3h.1M63.5 122.2h.1M67.8 106.9h.1M71.6 114.7h.1M71.2 121.7h.1M69.6 113.8h.1M66.1 114.7h.1M67.8 115.6h.1M87.2 116.3h.1M65.5 122.1h.1M74.9 117.9h.1M74.1 117.9h.1M73.9 120.2h.1M75.7 119.9h.1M67.5 114.8h.1M66.2 118.4h.1M74.7 113.0h.1M73.4 124.8h.1M76.9 110.6h.1M69.7 117.2h.1M70.0 116.3h.1M76.6 116.0h.1M64.2 117.5h.1M69.7 115.2h.1M67.1 109.5h.1M63.4 113.5h.1M76.5 110.4h.1M66.2 116.8h.1M57.1 119.9h.1M66.0 117.3h.1M67.6 116.0h.1M70.8 114.8h.1M60.2 109.2h.1M70.0 120.2h.1M67.2 116.8h.1M71.1 116.6h.1M75.6 109.1h.1M71.7 114.1h.1M68.5 111.6h.1M65.9 110.9h.1M64.2 124.3h.1M79.5 114.8h.1M74.2 111.1h.1M55.0 107.9h.1M71.0 120.3h.1M70.0 111.0h.1M68.9 111.0h.1M62.6 113.9h.1M68.0 111.7h.1M65.4 111.3h.1M71.5 120.1h.1M69.1 123.3h.1M61.4 115.8h.1M63.9 114.2h.1M70.8 116.9h.1M76.4 112.7h.1M63.4 114.1h.1M71.8 112.1h.1M75.1 121.2h.1M62.4 116.2h.1M75.7 107.5h.1M71.3 113.9h.1M62.4 119.8h.1M71.4 113.0h.1M72.6 117.2h.1M74.4 117.0h.1M72.4 110.3h.1M67.9 115.3h.1M55.1 122.9h.1M68.1 110.8h.1M60.3 115.7h.1M70.4 112.6h.1M67.9 111.4h.1M66.1 114.4h.1M66.7 117.4h.1M69.4 115.3h.1M72.4 119.6h.1M73.5 115.7h.1M69.3 111.7h.1M68.3 117.4h.1M71.4 113.3h.1M62.9 109.0h.1M72.0 118.7h.1M72.2 109.6h.1M69.0 115.6h.1M65.2 116.1h.1M69.1 111.6h.1M63.4 117.9h.1M72.1 111.4h.1M64.7 118.2h.1M73.5 113.6h.1M78.9 113.7h.1M64.4 118.9h.1M69.2 116.1h.1M70.4 111.0h.1M63.7 114.1h.1M77.9 111.0h.1M77.6 115.6h.1M64.1 115.8h.1M73.3 111.4h.1M58.6 116.2h.1M64.1 116.5h.1M59.8 114.3h.1M65.8 109.2h.1M68.9 115.5h.1M67.2 110.3h.1M71.4 108.2h.1M73.1 116.7h.1M79.3 118.2h.1M72.1 115.8h.1M70.4 109.8h.1M78.2 116.8h.1M68.6 110.5h.1M78.3 116.8h.1M63.7 117.3h.1M80.5 114.7h.1M72.4 113.2h.1M66.8 118.9h.1M87.0 115.2h.1M69.5 117.8h.1M68.5 117.6h.1M74.7 111.0h.1M64.4 114.5h.1M74.7 115.8h.1M76.9 109.6h.1M72.9 112.4h.1M70.7 116.0h.1M64.9 113.9h.1M63.9 115.8h.1M65.6 112.9h.1M71.4 112.3h.1M76.4 112.4h.1M74.8 115.9h.1M64.6 114.0h.1M65.7 113.4h.1M68.7 121.7h.1M67.9 120.7h.1M72.6 109.9h.1M57.6 117.4h.1M59.4 117.5h.1M75.8 116.3h.1M69.1 113.9h.1M71.6 113.7h.1M67.3 113.4h.1M76.5 112.5h.1M72.3 110.5h.1M66.3 109.6h.1M69.1 117.4h.1M71.9 112.9h.1M73.5 113.5h.1M72.2 115.8h.1M63.1 117.7h.1M69.6 123.3h.1M68.9 112.7h.1M78.3 116.9h.1M80.5 116.7h.1M69.1 117.5h.1M65.9 113.1h.1M67.2 114.0h.1M74.4 113.0h.1M71.9 112.9h.1M69.1 115.4h.1M64.4 118.6h.1M71.4 119.6h.1M75.4 117.2h.1M69.4 110.7h.1M69.0 113.1h.1M71.6 113.0h.1M86.7 108.8h.1M76.6 113.0h.1M68.9 118.3h.1M70.2 110.2h.1M72.4 114.1h.1M59.1 115.5h.1M64.5 112.0h.1M72.8 115.9h.1M68.6 123.0h.1M72.5 112.5h.1M71.5 114.3h.1M58.3 108.9h.1M62.7 122.6h.1M69.2 113.8h.1M67.1 118.5h.1M70.4 121.2h.1M74.5 121.0h.1M69.6 116.2h.1M67.9 114.2h.1M60.8 112.6h.1M65.1 112.3h.1M76.8 115.8h.1M76.8 118.0h.1M75.2 118.6h.1M66.9 117.8h.1M68.5 112.8h.1M76.7 122.9h.1M64.9 121.3h.1M74.7 111.6h.1M71.7 116.2h.1M72.2 113.5h.1M63.3 114.9h.1M74.8 117.7h.1M73.8 118.9h.1M64.9 114.6h.1M72.0 118.6h.1M71.0 116.7h.1M70.9 122.7h.1M58.4 114.7h.1M83.6 115.7h.1M60.3 115.3h.1M62.5 112.2h.1M71.4 121.2h.1M72.7 117.3h.1M75.7 115.6h.1M65.6 114.4h.1M72.0 113.8h.1M66.6 113.5h.1M62.1 111.0h.1M69.7 113.4h.1M70.4 120.1h.1M71.8 114.7h.1M63.9 110.8h.1M72.2 111.5h.1M72.5 110.8h.1M70.9 114.5h.1M75.6 113.3h.1M68.2 115.7h.1M70.5 121.1h.1M68.8 112.8h.1M68.5 116.6h.1M71.5 117.4h.1M62.7 124.1h.1M80.1 114.7h.1M63.7 115.4h.1M72.4 106.4h.1M70.3 109.3h.1M72.7 120.0h.1M75.8 109.1h.1M77.6 118.2h.1M68.3 116.7h.1M78.4 113.6h.1M70.1 112.7h.1M76.4 106.7h.1M77.8 111.2h.1M75.2 108.7h.1M65.2 112.6h.1M74.7 108.7h.1M73.4 112.4h.1M76.9 113.6h.1M72.8 114.2h.1M79.9 113.4h.1M70.1 122.2h.1M70.6 117.4h.1M66.2 115.5h.1M58.0 115.2h.1M66.7 109.2h.1M62.6 119.1h.1M72.5 109.1h.1M80.0 112.2h.1M68.2 115.7h.1M64.1 108.7h.1M66.2 119.2h.1M75.3 108.9h.1M76.7 114.9h.1M72.9 115.0h.1M72.4 111.0h.1M65.3 112.2h.1M68.2 117.1h.1M63.6 120.8h.1M66.8 112.6h.1M74.0 116.4h.1M68.4 110.8h.1M64.8 108.8h.1M76.4 118.9h.1M80.3 116.7h.1M72.0 117.6h.1M75.3 113.8h.1M72.1 122.9h.1M61.1 109.5h.1M65.0 117.6h.1M76.6 113.5h.1M73.8 114.6h.1M71.8 112.8h.1M70.1 114.8h.1M76.3 123.2h.1M60.4 116.8h.1M70.2 118.4h.1M75.9 117.7h.1M74.6 111.2h.1M61.0 121.1h.1M76.7 111.2h.1M77.2 117.3h.1M57.0 118.2h.1M64.9 119.2h.1M66.5 112.0h.1M61.9 114.0h.1M75.7 112.3h.1M60.2 122.9h.1M80.2 117.4h.1M67.3 110.2h.1M61.4 116.9h.1M77.2 110.8h.1M70.2 113.8h.1M68.8 116.7h.1M81.5 112.4h.1M74.8 118.9h.1M68.7 114.2h.1M63.0 118.9h.1M67.3 112.3h.1M70.6 111.6h.1M64.6 113.7h.1M78.2 114.0h.1M73.0 109.3h.1M59.7 121.6h.1M68.1 109.0h.1M69.6 117.1h.1M60.9 111.5h.1M71.6 111.3h.1M74.5 118.4h.1M72.6 113.2h.1M69.9 112.4h.1M69.5 116.0h.1M68.6 118.5h.1M84.2 112.7h.1M72.1 117.9h.1M73.7 113.9h.1M67.6 118.6h.1M73.6 116.7h.1M65.9 117.2h.1M74.5 114.1h.1M73.7 123.0h.1M60.0 117.1h.1M63.9 109.7h.1M68.9 116.9h.1M70.5 110.4h.1M62.4 112.7h.1M70.3 111.7h.1M62.1 121.4h.1M65.7 114.2h.1M67.2 112.6h.1M70.4 113.7h.1M73.6 110.3h.1M62.1 122.2h.1M69.8 117.7h.1M76.6 116.9h.1M70.4 108.9h.1M61.5 118.5h.1M73.9 116.9h.1M61.2 106.7h.1M64.5 110.3h.1M71.1 110.9h.1M78.8 112.4h.1M67.2 118.1h.1M72.0 111.4h.1M74.7 122.1h.1M63.5 113.9h.1M64.4 107.5h.1M73.6 117.4h.1M75.5 116.4h.1M59.3 114.7h.1M66.6 110.3h.1M64.2 117.7h.1M68.6 122.2h.1M72.8 107.6h.1M75.1 119.5h.1M70.4 110.2h.1M79.8 109.8h.1M69.7 107.6h.1M63.4 108.4h.1M76.1 119.3h.1M68.0 109.7h.1M69.9 116.2h.1M61.9 110.4h.1M69.6 117.5h.1M70.6 116.5h.1M71.9 111.3h.1M69.5 113.4h.1M72.8 111.9h.1M78.1 114.9h.1M73.1 117.2h.1M75.9 116.3h.1M60.6 112.4h.1M80.4 116.6h.1M73.3 116.6h.1M66.7 112.2h.1M66.7 119.2h.1M72.2 121.6h.1M72.9 122.0h.1M72.7 110.3h.1M79.7 116.1h.1M76.7 115.6h.1M68.4 115.4h.1M64.0 110.2h.1M65.3 112.8h.1M62.8 114.4h.1M71.9 122.6h.1M80.3 114.6h.1M75.1 114.0h.1M72.3 114.7h.1M67.2 115.1h.1M62.1 116.5h.1M68.6 110.7h.1M68.2 116.9h.1M66.5 116.6h.1M73.3 120.8h.1M64.2 114.4h.1M73.0 120.6h.1M71.6 117.7h.1M62.1 112.6h.1M79.4 113.7h.1M82.1 112.0h.1M68.7 108.7h.1M73.7 115.8h.1M81.3 115.4h.1M68.8 109.4h.1M69.7 118.4h.1M74.3 119.5h.1M75.0 114.6h.1M73.5 115.5h.1M62.8 121.4h.1M72.3 110.8h.1M72.3 115.9h.1M75.7 120.4h.1M53.4 116.9h.1M78.7 111.1h.1M59.9 115.9h.1M72.1 116.2h.1M64.1 113.0h.1M71.3 117.7h.1M82.3 115.9h.1M66.9 105.7h.1M76.2 114.3h.1M69.6 111.0h.1M74.3 107.9h.1M70.8 115.3h.1M71.9 119.8h.1M69.7 115.2h.1M75.0 108.8h.1M68.6 115.1h.1M75.5 111.7h.1M74.7 116.3h.1M61.9 109.1h.1M62.2 115.3h.1M71.3 117.6h.1M74.8 112.7h.1M76.1 118.0h.1M72.8 116.7h.1M63.0 116.2h.1M64.5 110.2h.1M68.3 115.3h.1M69.9 113.5h.1M64.6 115.5h.1M66.1 109.3h.1M70.7 120.4h.1M67.9 110.7h.1M77.9 121.4h.1M68.6 114.0h.1M71.4 126.2h.1M70.9 118.7h.1M72.7 107.7h.1M64.1 110.0h.1M72.6 115.2h.1M80.2 113.8h.1M71.9 115.1h.1M71.0 123.8h.1M71.8 120.5h.1M77.4 112.4h.1M74.0 113.3h.1M70.8 115.4h.1M70.3 113.0h.1M78.9 113.8h.1M74.1 121.3h.1M73.7 118.8h.1M78.0 119.0h.1M79.8 109.2h.1M81.1 114.9h.1M60.4 112.3h.1M62.4 114.7h.1M61.9 110.9h.1M71.9 115.4h.1M65.7 113.9h.1M69.6 115.1h.1M70.2 113.9h.1M75.1 108.5h.1M67.4 115.3h.1M68.0 112.6h.1M67.8 115.6h.1M77.2 114.1h.1M68.7 116.2h.1M68.8 107.3h.1M71.7 113.3h.1M67.0 117.2h.1M70.4 112.6h.1M58.0 108.1h.1M70.3 114.3h.1M72.7 115.7h.1M67.5 109.9h.1M64.1 114.3h.1M63.8 117.7h.1M62.8 107.8h.1M69.1 107.9h.1M79.3 110.9h.1M69.9 113.8h.1M65.6 107.9h.1M59.8 118.2h.1M75.9 123.2h.1M62.0 117.0h.1M70.1 118.1h.1M67.3 117.6h.1M75.2 117.2h.1M78.3 114.1h.1M78.8 112.1h.1M70.3 111.7h.1M70.2 118.8h.1M74.2 115.2h.1M79.7 109.0h.1M65.6 120.7h.1M72.0 106.7h.1M72.1 110.2h.1M78.5 119.3h.1M67.1 119.8h.1M65.5 118.4h.1M73.4 114.3h.1M62.2 113.7h.1M57.4 112.6h.1M59.8 119.5h.1M73.5 116.2h.1M67.4 123.1h.1M74.5 115.1h.1M72.9 118.5h.1M66.9 109.3h.1M70.0 108.3h.1M70.2 117.8h.1M78.7 115.8h.1M71.3 117.7h.1M78.0 113.6h.1M63.3 111.7h.1M63.2 111.3h.1M69.5 116.1h.1M71.1 115.1h.1M68.2 116.5h.1M75.2 117.8h.1M78.6 113.7h.1M68.8 121.4h.1M71.3 116.4h.1M68.3 118.6h.1M67.9 110.9h.1M69.9 113.1h.1M74.9 113.3h.1M70.9 114.0h.1M72.1 112.3h.1M76.4 109.2h.1M68.0 112.0h.1M73.8 115.0h.1M72.9 113.5h.1M66.2 110.4h.1M68.3 112.7h.1M71.8 116.2h.1M75.7 114.4h.1M66.0 110.7h.1M70.5 116.2h.1M81.1 115.5h.1M80.0 122.1h.1M64.3 119.5h.1M76.6 120.0h.1M70.1 118.5h.1M67.5 114.5h.1M70.3 121.8h.1M69.0 118.5h.1M70.6 112.0h.1M71.6 117.4h.1M66.2 117.3h.1M66.2 111.4h.1M71.4 113.9h.1M64.7 108.4h.1M70.3 115.7h.1M67.6 115.5h.1M61.6 116.3h.1M72.5 115.9h.1M66.8 115.1h.1M70.9 119.0h.1M71.7 115.8h.1M66.1 118.2h.1M76.8 112.9h.1M73.8 116.0h.1M69.9 109.8h.1M80.0 107.5h.1M71.9 113.3h.1M76.6 113.2h.1M70.4 117.2h.1M72.8 112.8h.1M74.0 116.3h.1M75.7 112.8h.1M69.9 113.3h.1M65.5 115.8h.1M72.5 120.3h.1M68.4 116.3h.1M76.6 114.4h.1M70.6 115.3h.1M66.3 111.0h.1M76.4 115.5h.1M69.8 110.0h.1M70.9 119.4h.1M63.8 111.3h.1M76.4 120.4h.1M78.9 112.7h.1M73.5 111.9h.1M73.1 113.4h.1M71.3 120.0h.1M72.1 113.9h.1M70.5 115.8h.1M67.3 115.6h.1M73.5 120.9h.1M58.7 110.2h.1M63.3 118.2h.1M83.8 115.6h.1M70.9 119.2h.1M56.6 114.1h.1M52.9 115.4h.1M67.4 112.9h.1M72.1 112.5h.1M76.4 114.8h.1M72.3 124.6h.1M67.7 118.4h.1M65.6 119.6h.1M75.6 115.3h.1M75.7 121.0h.1M77.9 114.8h.1M69.9 119.1h.1M62.0 112.5h.1M72.9 117.0h.1M80.5 121.6h.1M72.0 116.5h.1M62.9 114.1h.1M71.7 113.9h.1M70.5 117.2h.1M64.9 112.6h.1M60.3 119.2h.1M64.3 108.2h.1M74.5 114.0h.1M75.6 113.4h.1M82.0 117.6h.1M71.0 115.2h.1M69.1 117.9h.1M81.3 113.2h.1M64.2 117.1h.1M76.1 109.0h.1M66.4 111.0h.1M73.3 116.7h.1M66.1 110.5h.1M74.0 106.9h.1M73.8 114.2h.1M80.8 118.6h.1M67.0 113.7h.1M68.7 112.0h.1M70.7 118.5h.1M61.9 113.9h.1M78.4 117.7h.1M65.7 111.7h.1M65.5 108.6h.1M76.5 115.1h.1M66.4 109.3h.1M68.1 112.8h.1M79.7 113.0h.1M70.8 118.9h.1M73.9 114.1h.1M58.2 120.2h.1M73.5 113.1h.1M69.7 111.1h.1M65.2 109.1h.1M73.0 116.8h.1M71.2 117.8h.1M73.2 115.3h.1M65.3 117.1h.1M76.7 117.2h.1M77.1 113.0h.1M64.8 119.6h.1M67.0 115.7h.1M69.2 114.9h.1M68.7 112.7h.1M60.4 122.1h.1M71.3 107.4h.1M65.2 110.5h.1M73.4 121.1h.1M68.8 117.6h.1M73.5 110.0h.1M76.9 108.4h.1M67.0 113.4h.1M77.1 115.3h.1M69.5 111.7h.1M70.7 115.0h.1M74.2 120.1h.1M74.2 114.9h.1M69.4 120.9h.1M71.3 114.7h.1M80.1 120.8h.1M73.3 114.4h.1M66.7 118.9h.1M67.7 118.5h.1M65.9 115.2h.1M72.4 115.4h.1M71.5 116.3h.1M64.0 110.6h.1M69.4 121.7h.1M69.5 111.3h.1M66.6 114.9h.1M76.7 112.6h.1M73.3 115.5h.1M68.3 111.2h.1M69.4 112.0h.1M73.1 108.1h.1M76.4 117.7h.1M73.4 120.5h.1M73.5 108.3h.1M70.5 116.5h.1M66.5 110.5h.1M72.6 116.7h.1M67.9 113.9h.1M67.4 112.6h.1M69.9 118.9h.1M61.4 113.5h.1M79.0 116.0h.1M71.0 118.0h.1M64.7 110.2h.1M61.1 109.3h.1M71.6 118.0h.1M67.9 112.2h.1M72.4 117.1h.1M71.6 107.6h.1M71.5 111.6h.1M66.6 120.5h.1M77.4 116.6h.1M71.7 115.5h.1M67.0 114.6h.1M80.6 111.5h.1M66.6 115.4h.1M75.1 118.0h.1M64.9 114.3h.1M68.8 110.1h.1M70.6 113.0h.1M75.2 116.4h.1M65.9 115.1h.1M68.3 112.4h.1M67.5 118.8h.1M67.9 108.3h.1M66.0 117.9h.1M81.9 110.8h.1M68.3 113.6h.1M62.5 116.3h.1M69.9 115.9h.1M82.4 113.8h.1M74.5 118.0h.1M66.7 112.6h.1M78.7 117.5h.1M71.0 110.7h.1M75.0 116.8h.1M82.2 120.4h.1M74.6 115.8h.1M70.5 112.7h.1M71.9 115.7h.1M73.8 118.9h.1M71.9 112.7h.1M74.6 120.7h.1M65.7 116.4h.1M73.2 116.8h.1M72.9 114.5h.1M69.6 121.2h.1M79.6 109.5h.1M56.4 116.5h.1M66.5 112.8h.1M61.5 116.1h.1M69.9 112.8h.1M75.1 124.0h.1M78.2 119.3h.1M68.0 117.3h.1M70.0 119.2h.1M73.4 114.7h.1M73.2 112.1h.1M74.5 120.5h.1M68.2 116.9h.1M61.1 118.4h.1M75.0 110.9h.1M79.7 115.2h.1M60.8 109.6h.1M75.0 113.8h.1M76.2 108.9h.1M69.7 118.5h.1M66.5 117.4h.1M68.2 116.1h.1M72.0 123.3h.1M63.5 117.8h.1M77.3 110.5h.1M70.6 123.6h.1M68.9 108.3h.1M71.9 112.1h.1M67.1 111.6h.1M71.8 113.0h.1M65.3 113.9h.1M72.4 111.6h.1M76.2 108.5h.1M72.4 113.3h.1M78.8 112.4h.1M66.6 109.7h.1M81.0 117.1h.1M64.3 113.5h.1M65.0 120.6h.1M72.5 107.1h.1M71.3 118.3h.1M70.2 116.6h.1M69.6 115.6h.1M71.4 112.1h.1M72.1 115.4h.1M70.0 112.2h.1M64.7 115.7h.1M74.7 105.6h.1M67.3 119.9h.1M75.2 112.1h.1M77.6 111.1h.1M65.9 122.2h.1M67.8 114.0h.1M61.2 111.0h.1M63.8 114.3h.1M60.2 118.8h.1M68.3 112.5h.1M66.7 117.6h.1M78.6 113.3h.1M79.0 120.9h.1M77.5 115.9h.1M62.1 117.4h.1M68.0 115.5h.1M59.9 113.7h.1M71.5 111.2h.1M71.8 121.1h.1M71.5 112.2h.1M83.2 106.6h.1M65.2 116.3h.1M67.0 106.1h.1M71.6 118.0h.1M65.9 120.4h.1M72.9 119.3h.1M61.9 114.8h.1M78.9 122.5h.1M77.4 114.8h.1M71.2 112.4h.1M76.2 112.2h.1M70.9 107.0h.1M62.0 121.6h.1M70.5 115.6h.1M58.2 114.7h.1M81.5 109.1h.1M57.2 114.2h.1M67.3 114.0h.1M63.3 109.6h.1M63.5 117.2h.1M69.9 117.9h.1M64.3 117.0h.1M67.8 115.1h.1M75.3 114.9h.1M68.3 108.5h.1M70.5 117.8h.1M66.7 114.5h.1M60.5 109.7h.1M72.4 119.7h.1M68.5 108.4h.1M68.1 108.8h.1M68.7 122.2h.1M71.8 114.2h.1M75.9 113.3h.1M72.0 115.6h.1M72.6 109.2h.1M74.1 118.2h.1M65.3 120.5h.1M70.3 117.4h.1M73.2 118.2h.1M66.7 112.6h.1M72.3 117.1h.1M73.4 116.1h.1M67.5 119.0h.1M72.8 118.9h.1M56.2 118.7h.1M56.8 115.6h.1M66.5 115.3h.1M67.6 113.6h.1M71.3 116.1h.1M65.9 116.9h.1M65.5 116.4h.1M68.2 111.2h.1M76.6 121.2h.1M69.6 114.6h.1M75.5 109.7h.1M65.4 119.2h.1M75.2 112.9h.1M65.9 116.1h.1M62.4 112.9h.1M73.5 117.7h.1M76.1 109.3h.1M63.1 111.7h.1M63.0 122.7h.1M64.8 113.6h.1M71.3 116.6h.1M78.2 110.6h.1M75.1 115.4h.1M63.7 115.4h.1M62.4 121.1h.1M66.1 118.7h.1M77.4 112.4h.1M65.2 115.3h.1M64.4 118.3h.1M71.2 111.8h.1M66.4 117.6h.1M62.1 121.3h.1M65.8 114.0h.1M65.1 121.1h.1M74.8 119.8h.1M73.8 115.1h.1M79.6 117.4h.1M72.6 117.0h.1M74.3 115.9h.1M69.3 108.6h.1M81.7 109.8h.1M58.2 112.0h.1M81.0 119.5h.1M66.8 115.8h.1M70.1 107.1h.1M68.3 115.9h.1M76.7 110.1h.1M57.6 108.7h.1M72.0 115.1h.1M71.0 115.4h.1M68.2 109.5h.1M72.7 116.3h.1M73.4 119.7h.1M63.3 105.7h.1M60.2 123.1h.1M65.1 116.4h.1M70.1 117.6h.1M88.2 112.8h.1M69.2 112.5h.1M71.6 116.8h.1M64.8 119.9h.1M76.6 116.5h.1M69.6 113.9h.1M61.0 117.4h.1M64.7 112.8h.1M75.8 111.2h.1M67.3 118.1h.1M80.6 112.1h.1M76.4 112.2h.1M72.4 116.7h.1M63.8 118.8h.1M80.3 115.0h.1M71.7 110.2h.1M80.2 115.0h.1M63.1 117.8h.1M62.0 112.1h.1M58.3 120.2h.1M82.6 112.3h.1M66.5 112.5h.1M67.0 117.0h.1M78.4 110.9h.1M72.7 107.8h.1M78.7 114.5h.1M66.3 120.8h.1M69.6 120.1h.1M76.2 121.3h.1M65.7 115.0h.1M72.3 114.0h.1M78.7 112.0h.1M75.8 120.1h.1M59.3 111.0h.1M65.1 112.7h.1M72.4 114.1h.1M70.6 113.0h.1M69.7 116.7h.1M74.4 111.8h.1M69.6 111.8h.1M69.2 109.2h.1M75.5 117.4h.1M69.5 112.1h.1M67.6 112.2h.1M61.6 121.2h.1M88.6 110.0h.1M63.7 117.1h.1M73.6 108.7h.1M59.4 116.9h.1M59.0 120.4h.1M67.4 115.1h.1M70.2 112.6h.1M69.4 113.6h.1M77.2 114.4h.1M70.0 112.7h.1M66.6 111.9h.1M70.3 122.0h.1M76.4 115.7h.1M79.5 118.8h.1M71.4 114.2h.1M64.1 115.8h.1M68.4 108.6h.1M63.0 122.4h.1M71.4 116.7h.1M71.3 113.0h.1M72.8 119.0h.1M68.5 116.8h.1M75.9 112.9h.1M71.1 111.9h.1M73.6 113.4h.1M76.6 111.8h.1M79.7 113.6h.1M65.5 111.3h.1M73.9 111.5h.1M80.3 119.8h.1M73.1 109.3h.1M70.1 112.0h.1M60.1 116.5h.1M82.5 112.7h.1M74.7 119.8h.1M64.8 113.5h.1M71.7 116.6h.1M63.8 115.6h.1M69.6 118.5h.1M61.3 112.6h.1M67.4 113.6h.1M74.2 112.3h.1M85.5 112.0h.1M74.9 118.8h.1M75.6 114.0h.1M65.6 113.8h.1M73.9 115.3h.1M73.5 117.0h.1M65.3 111.2h.1M78.3 112.9h.1M61.3 122.1h.1M65.5 111.2h.1M75.6 110.4h.1M65.3 118.9h.1M65.6 124.6h.1M70.7 125.3h.1M70.9 115.0h.1M66.6 113.9h.1M67.4 114.7h.1M74.5 109.8h.1M65.1 106.6h.1M78.6 114.5h.1M70.1 114.6h.1M75.8 116.1h.1M75.0 114.1h.1M69.5 114.6h.1M59.8 119.1h.1M61.4 110.9h.1M74.0 115.0h.1M74.8 121.5h.1M80.6 120.2h.1M68.9 122.8h.1M65.3 114.5h.1M75.8 114.0h.1M69.5 113.4h.1M77.3 118.9h.1M69.8 117.0h.1M64.8 119.1h.1M87.3 111.2h.1M78.0 114.6h.1M68.3 112.9h.1M69.1 109.9h.1M62.6 121.3h.1M70.1 117.0h.1M71.9 116.7h.1M61.7 111.1h.1M73.7 118.7h.1M63.8 112.5h.1M64.2 117.3h.1M72.1 114.9h.1M66.6 116.1h.1M70.4 111.9h.1M72.1 112.2h.1M75.5 117.2h.1M66.3 117.1h.1M70.6 112.0h.1M65.1 108.3h.1M63.9 116.2h.1M77.0 112.3h.1M71.1 116.1h.1M74.6 116.5h.1M77.1 117.8h.1M65.9 116.3h.1M57.1 114.1h.1M70.3 117.1h.1M68.5 118.0h.1M77.6 111.5h.1M67.2 115.8h.1M72.9 115.4h.1M74.9 110.2h.1M74.5 119.3h.1M76.4 116.5h.1M68.9 116.4h.1M69.8 108.6h.1M66.8 114.6h.1M67.3 111.2h.1M68.9 113.4h.1M70.6 114.6h.1M71.2 118.7h.1M71.0 116.4h.1M68.0 117.4h.1M68.3 112.4h.1M63.3 118.3h.1M67.2 115.8h.1M76.5 116.9h.1M82.8 114.3h.1M75.6 117.5h.1M66.5 115.0h.1M67.0 110.8h.1M71.9 111.8h.1M79.6 111.9h.1M67.2 115.2h.1M67.3 115.0h.1M66.8 109.3h.1M56.7 109.8h.1M78.7 116.5h.1M71.1 113.0h.1M69.4 116.0h.1M62.4 111.7h.1M65.2 119.7h.1" stroke="#000" stroke-width="0.55" stroke-linecap="round" fill="none" opacity="1"/>
<path d="M62.8 125.1h.1M66.6 133.8h.1M69.1 118.7h.1M78.2 123.4h.1M75.6 112.5h.1M76.9 127.9h.1M68.9 115.8h.1M62.6 124.2h.1M71.5 118.5h.1M61.7 127.6h.1M75.2 118.4h.1M79.0 113.2h.1M75.2 112.9h.1M78.6 117.0h.1M77.4 116.2h.1M72.2 124.9h.1M63.8 119.0h.1M64.2 123.3h.1M65.7 116.4h.1M68.3 125.0h.1M62.9 118.4h.1M67.5 115.4h.1M64.6 117.6h.1M70.9 109.8h.1M71.1 111.9h.1M69.7 131.3h.1M63.4 118.1h.1M68.0 124.0h.1M66.6 108.5h.1M59.3 119.5h.1M71.2 124.5h.1M66.2 122.2h.1M62.8 125.8h.1M69.1 114.7h.1M70.7 128.3h.1M64.2 111.6h.1M63.1 112.0h.1M69.3 120.5h.1M68.5 119.6h.1M77.2 116.9h.1M61.6 105.7h.1M71.1 114.7h.1M68.0 120.8h.1M72.6 109.7h.1M63.5 118.9h.1M68.7 124.9h.1M66.4 106.9h.1M77.1 109.3h.1M63.4 120.7h.1M62.8 132.4h.1M71.1 121.5h.1M66.8 130.9h.1M73.1 114.5h.1M77.6 109.0h.1M65.8 120.1h.1M70.5 113.1h.1M79.7 126.7h.1M63.6 120.6h.1M65.5 116.1h.1M75.9 119.2h.1M68.9 119.1h.1M62.1 125.3h.1M64.8 125.8h.1M66.7 115.9h.1M79.1 119.6h.1M65.5 115.5h.1M73.5 129.0h.1M73.5 116.3h.1M62.4 114.7h.1M68.8 119.9h.1M65.4 125.7h.1M63.5 114.5h.1M72.8 121.2h.1M67.1 123.9h.1M60.6 127.6h.1M83.6 129.4h.1M70.4 129.5h.1M69.9 125.9h.1M68.3 119.6h.1M73.0 108.7h.1M68.3 128.1h.1M50.9 120.7h.1M75.5 120.3h.1M70.8 126.3h.1M71.7 107.9h.1M63.6 116.8h.1M70.5 116.0h.1M68.9 127.8h.1M50.8 124.9h.1M75.6 121.9h.1M69.7 118.9h.1M71.9 119.9h.1M65.0 122.9h.1M64.3 118.3h.1M67.3 112.1h.1M73.5 118.1h.1M62.1 118.1h.1M60.8 126.5h.1M72.9 129.6h.1M66.0 122.4h.1M63.4 113.7h.1M69.0 120.8h.1M75.5 117.0h.1M76.6 123.9h.1M64.0 117.5h.1M63.8 128.0h.1M66.1 123.4h.1M75.4 117.1h.1M66.5 120.4h.1M64.7 111.4h.1M63.4 120.4h.1M70.8 128.3h.1M57.9 121.3h.1M62.2 124.9h.1M74.0 119.2h.1M79.0 116.4h.1M66.2 112.6h.1M65.4 119.1h.1M73.9 125.6h.1M67.9 114.4h.1M67.5 116.1h.1M66.6 116.3h.1M64.1 118.2h.1M66.3 117.6h.1M60.8 119.3h.1M73.2 122.1h.1M66.1 112.2h.1M61.3 112.0h.1M65.5 116.8h.1M58.3 122.2h.1M59.8 114.7h.1M65.0 123.1h.1M81.3 116.5h.1M67.9 116.3h.1M68.3 117.6h.1M85.3 112.5h.1M68.9 114.1h.1M71.9 115.6h.1M73.2 112.5h.1M83.0 119.7h.1M58.4 122.4h.1M66.6 112.1h.1M72.4 115.6h.1M74.3 115.5h.1M75.3 119.3h.1M71.9 119.4h.1M67.3 116.5h.1M72.5 122.4h.1M67.0 130.9h.1M80.3 112.2h.1M76.5 118.1h.1M71.1 114.1h.1M80.1 113.9h.1M69.1 114.5h.1M81.8 125.4h.1M61.3 116.0h.1M71.9 116.1h.1M67.4 112.6h.1M71.2 112.5h.1M74.9 131.7h.1M67.5 127.6h.1M72.0 114.8h.1M67.4 113.2h.1M70.3 122.4h.1M75.5 117.0h.1M62.1 118.1h.1M80.2 120.1h.1M69.2 107.1h.1M66.9 121.5h.1M63.6 125.9h.1M66.0 113.7h.1M65.9 118.0h.1M75.9 115.4h.1M58.4 118.1h.1M72.9 127.0h.1M62.5 126.7h.1M73.9 121.0h.1M64.8 113.7h.1M63.6 123.6h.1M71.0 124.4h.1M81.1 118.6h.1M69.3 129.1h.1M61.4 116.1h.1M67.3 116.4h.1M70.5 113.9h.1M76.9 111.0h.1M64.5 109.2h.1M60.8 121.7h.1M73.6 117.4h.1M74.9 121.9h.1M66.0 118.3h.1M71.9 129.6h.1M66.8 120.6h.1M73.0 125.2h.1M72.3 124.4h.1M62.9 117.1h.1M57.4 118.3h.1M84.3 119.9h.1M70.2 120.0h.1M70.5 111.3h.1M65.2 117.6h.1M70.7 113.8h.1M68.9 114.5h.1M61.3 114.9h.1M64.5 123.1h.1M78.0 121.7h.1M68.3 115.5h.1M59.7 115.7h.1M79.4 124.8h.1M71.0 117.2h.1M69.6 120.8h.1M69.6 120.9h.1M64.8 118.8h.1M67.4 124.4h.1M61.8 125.6h.1M69.1 115.8h.1M69.7 119.2h.1M68.1 120.9h.1M66.0 109.3h.1M74.0 118.4h.1M80.1 120.7h.1M57.0 125.3h.1M65.3 121.5h.1M83.6 124.5h.1M62.7 118.0h.1M59.5 122.2h.1M73.1 112.9h.1M72.5 123.6h.1M74.7 114.9h.1M65.2 112.4h.1M61.5 120.3h.1M69.9 125.6h.1M71.3 116.8h.1M60.6 127.0h.1M70.6 118.4h.1M63.3 112.8h.1M73.6 113.2h.1M73.3 122.0h.1M67.2 109.7h.1M72.2 126.2h.1M64.4 111.7h.1M76.4 119.3h.1M65.7 125.2h.1M67.9 121.0h.1M67.1 114.5h.1M71.0 113.9h.1M58.4 115.6h.1M77.4 124.5h.1M83.3 124.0h.1M79.7 119.9h.1M66.9 121.1h.1M63.6 122.6h.1M66.8 120.0h.1M64.2 117.8h.1M75.8 117.4h.1M65.4 120.1h.1M75.1 117.5h.1M62.3 110.1h.1M61.2 124.3h.1M69.0 121.2h.1M76.3 120.1h.1M72.6 115.8h.1M59.5 122.0h.1M69.0 121.7h.1M62.9 117.8h.1M82.2 114.0h.1M70.2 125.7h.1M68.1 119.2h.1M56.2 122.8h.1M66.8 125.5h.1M69.0 116.5h.1M72.3 117.3h.1M66.4 126.9h.1M75.8 119.2h.1M74.7 123.0h.1M73.2 118.8h.1M70.1 120.8h.1M73.1 120.5h.1M66.1 118.2h.1M72.5 113.3h.1M69.5 122.7h.1M70.7 117.0h.1M69.5 116.0h.1M75.8 116.5h.1M59.2 112.1h.1M71.5 119.7h.1M66.6 111.5h.1M68.7 114.1h.1M65.5 118.6h.1M64.8 120.3h.1M65.0 116.1h.1M68.2 126.4h.1M79.5 123.7h.1M65.0 118.6h.1M75.3 122.9h.1M59.4 118.3h.1M65.0 122.6h.1M73.6 115.7h.1M83.0 117.1h.1M84.9 117.7h.1M69.1 128.8h.1M66.3 116.1h.1M78.8 118.4h.1M72.6 111.8h.1M80.8 123.9h.1M71.8 122.4h.1M66.5 116.0h.1M59.8 120.6h.1M77.3 123.2h.1M75.4 122.4h.1M63.8 111.6h.1M73.6 119.5h.1M75.8 117.1h.1M64.1 121.0h.1M66.1 109.8h.1M65.8 113.9h.1M62.6 115.6h.1M75.5 131.2h.1M80.4 116.4h.1M76.8 118.2h.1M72.1 115.0h.1M69.1 109.6h.1M80.8 114.5h.1M73.3 115.5h.1M71.3 112.3h.1M67.3 123.5h.1M73.3 108.2h.1M74.9 111.6h.1M71.4 121.4h.1M65.6 116.9h.1M68.1 120.7h.1M75.3 125.9h.1M71.6 129.2h.1M63.7 128.1h.1M68.0 122.7h.1M68.8 119.0h.1M63.8 120.7h.1M82.3 119.4h.1M69.5 118.6h.1M74.1 117.5h.1M69.6 119.7h.1M77.8 123.7h.1M63.0 115.2h.1M69.7 123.1h.1M75.7 117.5h.1M82.9 117.7h.1M78.4 126.2h.1M79.6 119.7h.1M73.2 110.5h.1M58.5 115.3h.1M74.1 124.3h.1M69.0 124.1h.1M73.2 126.7h.1M59.6 114.2h.1M63.6 113.0h.1M79.9 113.7h.1M64.4 116.5h.1M75.1 116.1h.1M74.2 121.5h.1M65.6 106.0h.1M63.9 112.0h.1M79.9 114.8h.1M62.9 120.6h.1M69.9 113.6h.1M76.5 123.5h.1M71.4 114.6h.1M64.1 107.7h.1M72.0 120.7h.1M63.8 118.7h.1M90.2 112.6h.1M58.9 121.8h.1M66.9 116.0h.1M73.5 117.9h.1M75.8 121.3h.1M76.9 119.2h.1M56.1 125.8h.1M58.9 124.1h.1M71.2 111.2h.1M70.0 123.3h.1M63.2 118.8h.1M65.0 113.2h.1M65.7 125.4h.1M73.9 118.4h.1M69.1 119.2h.1M71.4 119.6h.1M58.8 123.5h.1M74.0 112.1h.1M68.7 118.1h.1M65.9 121.4h.1M67.9 117.1h.1M63.6 117.1h.1M63.1 118.8h.1M77.9 123.9h.1M72.3 111.3h.1M76.1 123.5h.1M82.6 106.6h.1M69.7 116.8h.1M76.4 112.8h.1M67.2 130.9h.1M75.9 107.9h.1M69.7 125.8h.1M65.7 121.7h.1M70.2 110.8h.1M65.7 124.6h.1M77.1 115.3h.1M76.7 114.8h.1M71.2 118.4h.1M61.7 120.3h.1M64.4 114.0h.1M64.3 113.3h.1M65.3 105.5h.1M75.2 118.9h.1M71.2 117.1h.1M70.0 117.1h.1M62.7 110.4h.1M70.1 124.0h.1M71.1 127.2h.1M61.0 117.1h.1M65.7 125.1h.1M80.3 115.8h.1M74.2 117.2h.1M63.3 117.9h.1M63.0 126.8h.1M73.3 124.9h.1M71.9 105.5h.1M74.7 119.0h.1M54.6 119.1h.1M76.0 127.7h.1M63.2 122.7h.1M71.7 117.6h.1M67.8 121.4h.1M73.2 122.0h.1M67.0 111.5h.1M77.9 125.5h.1M66.0 118.4h.1M74.7 109.1h.1M72.7 131.5h.1M71.3 114.7h.1M82.5 118.6h.1M70.9 116.2h.1M70.7 108.9h.1M61.5 110.6h.1M75.3 118.0h.1M76.9 107.6h.1M65.8 126.3h.1M64.6 108.5h.1M64.9 116.7h.1M69.5 125.5h.1M78.0 126.8h.1M73.3 115.8h.1M66.5 110.6h.1M77.6 125.2h.1M70.2 113.7h.1M73.8 121.1h.1M70.6 112.3h.1M71.1 115.5h.1M74.3 121.7h.1M72.4 116.2h.1M79.2 122.7h.1M77.6 123.0h.1M73.8 120.6h.1M62.9 108.7h.1M63.7 121.8h.1M75.3 119.5h.1M70.2 128.4h.1M67.1 108.9h.1M59.9 116.8h.1M74.0 122.5h.1M68.2 122.9h.1M69.3 114.6h.1M67.2 122.6h.1M75.6 112.5h.1M63.4 119.2h.1M83.0 112.2h.1M61.7 120.8h.1M72.8 115.2h.1M69.4 121.1h.1M58.7 118.4h.1M73.4 123.5h.1M76.9 118.1h.1M60.6 125.7h.1M74.4 115.1h.1M76.1 124.1h.1M68.7 105.8h.1M66.7 114.4h.1M64.4 118.1h.1M62.8 120.6h.1M81.5 112.1h.1M76.1 115.6h.1M73.0 117.8h.1M77.6 114.7h.1M74.2 114.3h.1M71.0 118.4h.1M76.4 110.0h.1M61.1 126.0h.1M72.0 127.6h.1M63.1 119.6h.1M73.4 128.0h.1M69.3 116.1h.1M74.1 118.0h.1M64.9 122.6h.1M57.7 113.1h.1M78.1 115.8h.1M67.6 120.5h.1M76.6 121.3h.1M63.6 115.5h.1M76.2 117.9h.1M65.7 123.2h.1M76.7 130.2h.1M62.9 114.7h.1M65.3 120.4h.1M66.6 124.5h.1M52.8 123.7h.1M65.6 117.0h.1M73.2 119.6h.1M63.3 126.6h.1M73.2 115.9h.1M70.9 112.6h.1M61.9 116.9h.1M71.9 119.0h.1M64.8 111.1h.1M59.1 127.1h.1M71.9 114.2h.1M77.0 121.4h.1M67.0 115.2h.1M76.7 120.3h.1M79.8 120.4h.1M66.0 115.3h.1M65.2 119.9h.1M71.2 121.8h.1M72.4 112.9h.1M68.3 113.4h.1M72.6 111.4h.1M66.0 113.9h.1M65.7 117.1h.1M79.0 117.1h.1M60.7 116.9h.1M74.3 121.5h.1M71.1 129.2h.1M76.5 119.0h.1M77.2 111.3h.1M68.5 113.8h.1M70.7 127.2h.1M66.5 127.1h.1M63.2 126.2h.1M59.1 113.9h.1M75.8 118.0h.1M70.5 118.4h.1M70.7 117.5h.1M63.5 116.9h.1M70.3 113.7h.1M72.5 128.0h.1M59.4 115.6h.1M67.9 118.6h.1M70.2 114.6h.1M69.4 118.5h.1M69.1 126.8h.1M70.4 110.6h.1M59.9 121.7h.1M67.5 115.2h.1M61.2 116.8h.1M69.0 114.8h.1M67.4 123.3h.1M74.5 121.4h.1M68.5 111.2h.1M74.4 126.5h.1M77.5 124.8h.1M71.3 120.5h.1M69.5 125.2h.1M67.9 130.0h.1M74.4 116.8h.1M69.6 109.9h.1M65.0 116.9h.1M84.8 114.1h.1M75.3 118.9h.1M67.8 121.9h.1M57.2 123.6h.1M81.6 120.1h.1M69.2 119.4h.1M73.7 115.9h.1M70.4 121.2h.1M67.4 120.6h.1M71.7 122.3h.1M63.5 115.6h.1M66.9 124.9h.1M71.2 109.6h.1M61.7 128.9h.1M71.7 111.5h.1M63.9 119.3h.1M78.5 127.2h.1M67.3 116.9h.1M81.5 113.2h.1M79.3 120.3h.1M70.2 125.4h.1M72.6 114.0h.1M60.1 118.6h.1M72.8 125.8h.1M53.4 125.7h.1M73.4 126.7h.1M74.6 119.6h.1M72.3 120.6h.1M65.7 117.9h.1M70.4 116.1h.1M60.5 110.7h.1M72.7 121.3h.1M70.3 112.2h.1M74.9 116.4h.1M56.7 126.9h.1M60.3 130.6h.1M72.9 116.1h.1M55.0 114.7h.1M78.8 125.8h.1M71.2 109.3h.1M67.2 117.0h.1M72.5 117.8h.1M71.7 109.7h.1M65.6 126.3h.1M60.6 123.5h.1M83.9 122.0h.1M61.0 125.2h.1M58.1 120.3h.1M67.1 125.2h.1M76.9 119.5h.1M80.7 123.8h.1M66.6 113.2h.1M84.9 116.3h.1M72.2 117.9h.1M66.7 109.8h.1M68.7 117.9h.1M75.7 115.7h.1M59.9 112.7h.1M69.4 119.8h.1M74.1 116.4h.1M73.0 119.3h.1M80.1 118.2h.1M70.5 121.6h.1M77.2 113.5h.1M66.7 117.0h.1M56.4 125.5h.1M76.3 118.6h.1M90.5 125.4h.1M82.2 127.0h.1M75.2 110.9h.1M79.1 120.8h.1M62.2 118.8h.1M74.3 123.8h.1M70.7 115.7h.1M74.4 114.4h.1M69.1 122.6h.1M60.7 120.5h.1M57.4 113.5h.1M61.9 118.0h.1M74.0 118.2h.1M75.3 119.0h.1M68.3 121.2h.1M68.1 119.2h.1M76.1 115.4h.1M76.8 112.5h.1M68.2 109.1h.1M66.3 127.1h.1M71.8 125.4h.1M60.5 113.0h.1M72.5 123.0h.1M74.8 109.5h.1M72.8 118.1h.1M70.4 121.1h.1M67.9 109.4h.1M63.0 110.7h.1M61.4 117.8h.1M77.7 114.6h.1M64.8 112.3h.1M58.8 118.9h.1M66.6 117.2h.1M63.6 121.1h.1M62.1 121.5h.1M65.5 122.8h.1M64.1 120.9h.1M72.3 118.1h.1M79.8 119.5h.1M64.1 122.2h.1M64.5 115.6h.1M69.7 119.5h.1M80.2 109.1h.1M68.0 124.6h.1M68.6 120.2h.1M79.1 111.8h.1M69.9 122.8h.1M65.9 109.0h.1M63.4 119.6h.1M70.8 128.5h.1M77.9 110.1h.1M76.1 123.4h.1M79.7 117.7h.1M66.1 119.3h.1M79.2 121.9h.1M80.2 122.8h.1M65.9 113.0h.1M81.1 110.3h.1M67.4 116.8h.1M63.9 115.4h.1M69.6 131.4h.1M69.2 115.7h.1M70.4 123.6h.1M64.5 116.3h.1M58.7 122.3h.1M73.8 126.6h.1M62.1 130.3h.1M75.0 117.0h.1M67.2 116.8h.1M62.0 122.7h.1M65.8 114.6h.1M72.8 119.1h.1M66.0 117.2h.1M66.5 125.8h.1M75.9 114.6h.1M69.4 125.9h.1M67.8 128.2h.1M72.4 122.1h.1M56.6 123.1h.1M71.7 121.7h.1M72.6 121.4h.1M66.4 123.4h.1M70.0 112.8h.1M63.2 119.4h.1M71.7 106.5h.1M56.7 124.2h.1M69.5 134.0h.1M60.0 117.2h.1M65.9 121.5h.1M78.4 127.2h.1M63.3 125.2h.1M62.0 120.2h.1M70.7 121.9h.1M64.6 125.8h.1M69.2 118.4h.1M67.9 112.7h.1M74.1 120.3h.1M72.4 128.6h.1M64.2 117.0h.1M69.6 123.1h.1M68.5 123.6h.1M72.5 108.9h.1M65.3 107.5h.1M67.8 116.2h.1M73.3 119.4h.1M69.2 125.4h.1M73.3 111.8h.1M65.3 120.3h.1M80.2 117.4h.1M68.5 119.9h.1M74.5 118.0h.1M71.4 116.2h.1M66.2 114.2h.1M73.7 115.5h.1M73.0 120.7h.1M63.6 111.9h.1M68.6 122.9h.1M85.4 126.9h.1M78.1 120.6h.1M67.2 121.4h.1M56.0 123.6h.1M69.7 121.9h.1M63.2 112.5h.1M65.6 118.3h.1M71.8 116.6h.1M71.8 122.2h.1M62.3 117.9h.1M59.9 115.5h.1M75.3 114.6h.1M81.2 121.3h.1M75.2 119.1h.1M75.0 124.5h.1M70.3 115.6h.1M66.2 129.0h.1M68.5 116.0h.1M65.2 109.3h.1M66.5 120.3h.1M66.6 114.4h.1M72.2 121.0h.1M66.9 120.2h.1M63.5 123.2h.1M63.4 116.7h.1M70.5 116.2h.1M62.4 129.9h.1M79.1 109.0h.1M70.4 111.6h.1M71.6 111.4h.1M73.2 121.4h.1M80.3 125.1h.1M66.7 123.7h.1M66.7 117.9h.1M66.5 108.9h.1M73.4 107.4h.1M68.1 121.4h.1M70.3 109.9h.1M65.5 122.2h.1M76.5 127.2h.1M58.3 121.0h.1M66.6 122.7h.1M59.0 117.7h.1M74.0 115.0h.1M67.3 113.2h.1M76.6 111.3h.1M63.9 116.7h.1M67.6 130.0h.1M71.3 114.0h.1M73.2 120.4h.1M71.4 118.1h.1M72.5 112.1h.1M62.1 116.2h.1M62.7 122.3h.1M81.7 125.2h.1M72.4 120.3h.1M65.3 111.4h.1M73.0 110.4h.1M71.5 117.7h.1M74.3 118.8h.1M70.3 115.3h.1M58.8 116.6h.1M74.0 124.2h.1M78.2 113.1h.1M63.7 122.3h.1M66.8 132.5h.1M71.6 110.2h.1M66.1 127.1h.1M58.2 119.3h.1M60.9 127.2h.1M66.8 112.9h.1M58.9 114.6h.1M53.6 115.9h.1M83.2 119.0h.1M67.9 112.2h.1M71.7 115.9h.1M64.3 126.0h.1M72.4 113.7h.1M78.9 118.2h.1M72.7 119.3h.1M77.0 121.9h.1M67.4 122.4h.1M67.2 119.2h.1M79.9 112.7h.1M63.1 116.3h.1M66.5 125.6h.1M59.6 131.0h.1M79.5 116.0h.1M70.8 116.5h.1M73.8 122.1h.1M74.3 122.7h.1M81.7 117.6h.1M74.0 117.5h.1M69.8 119.7h.1M69.3 120.4h.1M64.3 117.7h.1M65.8 112.1h.1M65.2 115.8h.1M68.7 110.0h.1M68.0 112.3h.1M64.5 119.5h.1M76.5 120.1h.1M66.5 116.1h.1M78.0 109.6h.1M76.7 110.3h.1M65.6 118.8h.1M68.2 127.6h.1M72.7 118.2h.1M75.6 118.7h.1M64.6 124.6h.1M79.0 125.5h.1M62.2 128.9h.1M67.0 122.7h.1M77.1 131.5h.1M59.5 112.9h.1M77.0 121.2h.1M72.4 117.5h.1M53.2 133.1h.1M53.9 115.4h.1M69.6 119.8h.1M74.3 117.0h.1M64.0 116.5h.1M56.4 112.4h.1M82.0 114.7h.1M69.1 128.9h.1M76.2 119.2h.1M74.2 117.0h.1M63.9 124.0h.1M70.4 127.3h.1M68.0 116.5h.1M71.8 117.5h.1M67.6 113.6h.1M71.2 120.3h.1M81.1 118.4h.1M58.6 121.0h.1M84.0 116.1h.1M64.6 117.6h.1M51.7 116.7h.1M68.4 110.2h.1M73.2 113.7h.1M58.0 114.6h.1M73.6 129.0h.1M77.4 119.6h.1M66.4 117.1h.1M75.7 115.7h.1M72.2 123.8h.1M63.9 115.3h.1M72.4 118.5h.1M68.8 115.6h.1M69.2 128.7h.1M78.1 109.7h.1M69.9 119.0h.1M69.8 110.9h.1M68.8 119.3h.1M65.3 120.2h.1M54.3 110.2h.1M70.2 120.6h.1M68.6 116.0h.1M70.8 124.4h.1M75.2 118.1h.1M66.7 124.3h.1M73.0 123.3h.1M67.9 113.8h.1M70.8 115.1h.1M76.8 123.2h.1M55.9 122.2h.1M78.0 124.2h.1M66.6 113.8h.1M75.7 124.1h.1M70.0 112.2h.1M60.0 120.0h.1M64.4 114.8h.1M72.4 124.3h.1M56.6 114.8h.1M77.8 118.3h.1M67.4 122.0h.1M62.4 111.8h.1M69.7 127.1h.1M76.0 118.5h.1M76.0 116.3h.1M62.2 109.3h.1M71.3 123.4h.1M71.9 118.3h.1M67.1 124.5h.1M69.3 110.6h.1M78.2 114.9h.1M72.1 118.5h.1M76.2 119.9h.1M77.3 119.7h.1M66.7 115.7h.1M73.7 114.0h.1M75.4 117.2h.1M63.8 113.7h.1M68.7 128.2h.1M74.4 118.6h.1M63.9 129.0h.1M67.9 118.5h.1M66.9 125.8h.1M70.7 116.0h.1M70.8 113.0h.1M63.0 117.6h.1M51.5 125.0h.1M82.1 112.4h.1M68.7 109.8h.1M70.7 119.7h.1M74.3 111.2h.1M65.8 115.0h.1M68.1 131.0h.1M68.3 118.3h.1M66.4 122.9h.1M85.7 124.9h.1M79.2 112.6h.1M76.3 118.7h.1M77.5 124.3h.1M73.7 109.3h.1M70.4 115.8h.1M72.4 118.7h.1M76.2 109.7h.1M64.9 118.1h.1M71.6 116.3h.1M69.4 118.8h.1M76.2 117.9h.1M71.1 108.5h.1M53.1 110.5h.1M71.8 105.8h.1M72.2 118.0h.1M69.6 114.5h.1M67.0 123.1h.1M71.9 118.4h.1M66.5 119.7h.1M77.1 118.4h.1M67.3 112.0h.1M70.2 113.5h.1M60.6 123.3h.1M65.7 107.3h.1M65.1 128.6h.1M68.9 111.2h.1M62.7 122.5h.1M72.2 119.7h.1M68.4 121.2h.1M79.3 121.2h.1M68.6 110.8h.1M72.4 127.1h.1M73.7 111.6h.1M70.8 125.6h.1M65.6 121.2h.1M77.2 127.5h.1M59.6 108.9h.1M72.0 122.4h.1M67.4 118.4h.1M67.0 125.1h.1M55.7 119.9h.1M61.5 114.8h.1M59.9 113.5h.1M69.5 118.6h.1M80.9 117.3h.1M71.8 120.4h.1M71.2 126.6h.1M70.5 119.3h.1M68.9 118.5h.1M69.2 124.0h.1M69.7 118.9h.1M69.3 122.7h.1M66.6 123.7h.1M66.0 122.3h.1M81.7 119.8h.1M69.1 112.0h.1M74.3 118.6h.1M75.3 114.9h.1M72.9 128.5h.1M72.1 116.7h.1M61.4 118.5h.1M73.8 121.8h.1M62.5 112.8h.1M63.4 112.9h.1M67.9 120.0h.1M81.7 119.6h.1M78.8 109.4h.1M79.3 122.9h.1M72.4 123.1h.1M73.5 129.1h.1M74.7 108.9h.1M58.6 127.4h.1M69.1 125.8h.1M67.4 114.9h.1M67.4 120.2h.1M70.8 115.1h.1M73.0 121.9h.1M63.8 112.3h.1M57.2 116.8h.1M69.7 114.7h.1M65.8 117.8h.1M69.8 121.7h.1M74.9 120.9h.1M76.7 113.1h.1M73.4 120.6h.1M63.0 114.8h.1M72.4 118.9h.1M61.7 115.4h.1M79.2 123.2h.1M70.1 126.0h.1M63.9 117.6h.1M75.7 116.6h.1M62.5 121.7h.1M70.6 111.6h.1M67.7 110.7h.1M86.0 114.7h.1M69.9 114.6h.1M63.3 116.0h.1M70.9 128.2h.1M71.4 127.2h.1M62.9 118.9h.1M66.8 109.8h.1M93.2 117.2h.1M71.1 114.3h.1M66.0 112.8h.1M76.1 116.3h.1M68.7 119.5h.1M61.8 119.8h.1M68.5 121.0h.1M67.2 118.7h.1M72.9 123.8h.1M65.2 123.9h.1M63.4 117.5h.1M70.4 119.3h.1M53.8 113.1h.1M68.4 123.6h.1M65.1 126.9h.1M58.2 118.9h.1M73.0 118.6h.1M71.3 123.7h.1M64.5 121.8h.1M76.3 117.2h.1M55.0 111.9h.1M64.2 112.6h.1M72.3 114.0h.1M85.3 121.7h.1M61.3 116.9h.1M79.3 122.3h.1M63.2 124.2h.1M66.6 130.8h.1M66.1 121.8h.1M73.2 116.0h.1M68.6 124.9h.1M72.7 118.2h.1M72.4 128.2h.1M75.5 121.1h.1M71.7 109.8h.1M70.5 115.8h.1M74.2 115.1h.1M72.4 112.7h.1M75.3 114.5h.1M69.4 121.7h.1M67.6 118.5h.1M76.3 128.3h.1M58.2 113.5h.1M73.9 123.7h.1M66.6 119.0h.1M68.4 131.1h.1M68.3 111.9h.1M59.8 111.4h.1M77.8 116.3h.1M81.9 122.0h.1M72.0 122.1h.1M74.6 123.6h.1M63.4 115.4h.1M66.1 119.1h.1M68.0 111.7h.1M65.2 128.4h.1M83.0 113.8h.1M72.0 118.3h.1M64.2 122.4h.1M69.2 127.7h.1M72.5 116.8h.1M52.9 117.9h.1M75.0 114.6h.1M75.2 122.3h.1M58.4 117.4h.1M71.6 122.7h.1M70.6 118.4h.1M67.4 116.9h.1M69.6 112.6h.1M73.7 116.7h.1M72.9 115.7h.1M72.2 119.2h.1M75.2 121.1h.1M75.5 117.6h.1M69.2 117.1h.1M61.7 117.8h.1M76.5 122.8h.1M64.2 120.2h.1M74.4 111.0h.1M71.8 120.3h.1M74.3 119.9h.1M58.6 107.4h.1M82.1 116.3h.1M77.6 125.5h.1M70.2 112.2h.1M78.2 118.3h.1M72.9 121.1h.1M75.6 124.1h.1M60.6 110.7h.1M70.5 118.6h.1M74.5 117.8h.1M68.5 129.7h.1M78.3 124.9h.1M76.2 114.2h.1M69.1 118.1h.1M62.7 113.7h.1M70.6 111.8h.1M73.0 121.1h.1M68.1 116.6h.1M73.4 121.1h.1M71.9 111.8h.1M59.3 129.8h.1M65.5 116.5h.1M58.1 114.1h.1M65.0 122.9h.1M52.9 110.8h.1M67.0 115.8h.1M64.7 116.1h.1M59.6 120.0h.1M77.2 119.3h.1M66.2 125.5h.1M72.7 112.8h.1M66.0 115.1h.1M69.3 125.2h.1M65.1 117.7h.1M70.3 111.9h.1M66.6 121.9h.1M76.8 108.2h.1M74.1 116.9h.1M77.8 121.9h.1M82.1 120.2h.1M67.1 113.9h.1M60.5 121.6h.1M72.9 123.0h.1M71.8 110.3h.1M67.0 117.2h.1M70.6 122.7h.1M78.6 120.1h.1M56.6 112.9h.1M56.1 114.3h.1M62.0 119.8h.1M68.2 124.6h.1M76.4 116.0h.1M75.6 118.6h.1M72.5 125.9h.1M62.3 118.1h.1M79.3 114.3h.1M71.0 119.2h.1M67.0 111.3h.1M65.3 113.1h.1M76.4 119.9h.1M74.0 112.0h.1M72.8 119.3h.1M76.2 114.5h.1M74.7 126.0h.1M81.0 113.4h.1M62.5 110.5h.1M75.7 121.8h.1M71.8 113.7h.1M77.5 127.3h.1M69.4 117.8h.1M77.1 121.3h.1M78.1 116.3h.1M71.7 116.6h.1M66.0 116.9h.1M67.8 121.3h.1M67.7 118.9h.1M64.5 111.8h.1M78.6 113.1h.1M81.1 123.7h.1M55.1 115.0h.1M67.0 118.6h.1M68.5 115.2h.1M77.5 117.8h.1M75.7 114.7h.1M65.2 125.8h.1M67.8 112.5h.1M68.5 124.3h.1M68.6 114.6h.1M73.6 123.9h.1M68.3 116.8h.1M67.3 133.3h.1M68.4 128.1h.1M68.7 120.7h.1M56.7 119.5h.1M69.9 116.8h.1M67.0 111.0h.1M60.2 119.4h.1M65.6 118.0h.1M68.5 115.7h.1M65.0 128.7h.1M62.6 115.7h.1M67.7 112.2h.1M63.5 123.2h.1M75.5 119.2h.1M90.1 123.0h.1M77.4 114.0h.1M76.5 127.7h.1M67.2 128.4h.1M64.5 112.3h.1M69.3 114.1h.1M73.6 112.5h.1M70.1 107.8h.1M69.4 124.3h.1M67.9 120.2h.1M76.5 112.5h.1M61.6 118.9h.1M71.4 117.0h.1M63.5 125.1h.1M62.3 117.1h.1M69.4 122.5h.1M66.8 114.0h.1M82.3 113.9h.1M74.7 117.7h.1M66.6 118.3h.1M68.0 120.2h.1M53.5 118.4h.1M70.1 113.2h.1M67.2 131.3h.1M81.3 122.0h.1M71.1 116.8h.1M78.4 116.1h.1M64.4 122.3h.1M63.5 114.2h.1M78.8 109.7h.1M69.2 119.2h.1M71.3 110.5h.1M68.2 116.7h.1M81.8 124.0h.1M64.8 123.3h.1M73.8 117.9h.1M68.1 117.0h.1M59.9 115.1h.1M75.5 126.4h.1M81.3 116.4h.1M73.5 105.4h.1M67.9 111.6h.1M74.8 109.4h.1M63.0 112.5h.1M72.1 123.1h.1M63.8 128.4h.1M70.6 113.9h.1M71.8 118.4h.1M74.9 120.4h.1M83.5 124.9h.1M65.6 122.8h.1M74.4 113.0h.1M64.9 114.1h.1M54.0 122.0h.1M68.3 125.2h.1M66.1 118.9h.1M74.2 123.8h.1M71.7 112.8h.1M83.5 123.2h.1M78.2 127.3h.1M78.5 120.8h.1M72.6 122.0h.1M60.1 122.9h.1M63.5 120.8h.1M63.3 122.4h.1M66.6 132.1h.1M70.8 121.3h.1M63.9 116.9h.1M69.3 116.9h.1M66.9 113.7h.1M74.5 116.4h.1M64.5 120.5h.1M64.5 117.6h.1M66.4 113.5h.1M68.2 114.0h.1M61.7 120.4h.1M67.8 110.5h.1M67.2 119.5h.1M72.3 120.5h.1M71.2 121.8h.1M66.5 114.1h.1M73.5 116.3h.1M69.7 122.1h.1M75.6 125.2h.1M65.3 116.5h.1M73.2 110.7h.1M61.7 121.8h.1M65.8 113.5h.1M74.7 121.4h.1M75.4 116.7h.1M67.8 116.7h.1M71.5 107.4h.1M65.3 122.4h.1M64.7 118.2h.1M70.4 121.3h.1M66.7 112.3h.1M85.4 114.6h.1M80.4 108.9h.1M70.4 117.4h.1M81.6 129.6h.1M75.8 113.0h.1M64.6 114.4h.1M66.4 119.9h.1M64.7 117.2h.1M78.9 126.3h.1M57.9 113.3h.1M67.3 125.6h.1M67.6 128.9h.1M72.0 126.3h.1M64.3 116.8h.1M76.1 121.6h.1M57.9 117.0h.1M70.8 121.9h.1M65.7 128.0h.1M70.6 126.4h.1M72.2 119.0h.1M67.7 112.2h.1M75.1 122.6h.1M75.5 116.5h.1M63.3 116.4h.1M67.7 118.4h.1M75.8 113.6h.1M66.6 122.3h.1M75.3 130.5h.1M73.0 113.9h.1M63.1 114.2h.1M70.1 119.9h.1M69.2 115.2h.1M68.5 118.1h.1M73.4 119.0h.1M64.6 112.2h.1M79.0 118.0h.1M68.6 118.4h.1M76.8 116.8h.1M70.8 117.2h.1M73.3 113.0h.1M71.0 124.1h.1M77.1 121.9h.1M71.5 127.0h.1M74.1 126.1h.1M62.1 112.6h.1M74.7 117.1h.1M67.0 113.4h.1M79.0 112.0h.1M70.3 110.9h.1M68.6 130.7h.1M85.0 115.8h.1M63.3 127.3h.1M64.3 108.8h.1M71.9 112.7h.1M60.6 124.6h.1M65.1 112.7h.1M70.7 117.5h.1M76.7 119.0h.1M79.7 124.7h.1M80.9 124.6h.1M70.1 121.5h.1M69.8 110.1h.1M62.3 122.5h.1M54.9 114.0h.1M61.6 118.2h.1M63.2 119.9h.1M68.5 116.0h.1M64.4 106.5h.1M70.2 111.5h.1M67.8 120.5h.1M76.3 122.3h.1M79.0 110.8h.1M73.9 127.0h.1M72.2 112.5h.1M72.2 115.7h.1M65.7 124.3h.1M68.6 112.5h.1M65.5 129.1h.1M64.4 122.2h.1M70.8 124.8h.1M68.0 113.4h.1M65.7 112.9h.1M85.9 119.6h.1M67.7 125.3h.1M73.8 117.5h.1M73.6 120.0h.1M76.8 127.5h.1M67.7 118.3h.1M68.6 125.1h.1M72.1 122.8h.1M75.3 115.1h.1M70.5 126.0h.1M75.5 122.9h.1M67.9 116.6h.1M64.3 117.1h.1M69.3 110.8h.1M77.0 114.4h.1M71.3 121.8h.1M66.3 108.7h.1M75.7 120.7h.1M68.1 124.7h.1M75.3 113.3h.1M69.2 109.0h.1M68.1 126.2h.1M64.5 123.0h.1M60.3 116.9h.1M75.6 127.8h.1M72.5 122.6h.1M80.4 105.3h.1M59.0 128.8h.1M85.1 121.8h.1M70.1 119.9h.1M69.9 115.2h.1M69.6 117.8h.1M73.9 122.2h.1M75.8 121.7h.1M63.6 126.1h.1M53.0 119.1h.1M71.8 115.6h.1M81.4 112.6h.1M62.4 115.8h.1M72.3 122.8h.1M70.4 122.1h.1M65.3 115.2h.1M70.5 111.2h.1M70.9 116.4h.1M74.0 113.0h.1M66.4 115.4h.1M67.4 113.1h.1M68.1 111.2h.1M73.0 122.2h.1M69.6 117.5h.1M64.2 113.3h.1M68.3 113.6h.1M62.4 119.4h.1M69.6 116.3h.1M64.6 118.2h.1M65.4 116.2h.1M70.9 122.4h.1M74.4 115.2h.1M77.2 112.3h.1M68.6 125.6h.1M84.5 119.2h.1M67.5 116.5h.1" stroke="#000" stroke-width="0.5" stroke-linecap="round" fill="none" opacity="0.85"/>
<path d="M59.0 120.0h.1M65.3 115.6h.1M78.2 115.5h.1M82.1 127.0h.1M73.7 116.8h.1M64.6 106.8h.1M70.8 119.1h.1M71.7 116.2h.1M72.5 110.3h.1M51.2 124.4h.1M78.8 118.5h.1M67.3 110.0h.1M60.7 126.1h.1M62.8 120.7h.1M67.4 135.2h.1M75.7 111.6h.1M64.8 112.8h.1M57.6 116.1h.1M77.4 121.4h.1M74.0 120.1h.1M65.3 121.6h.1M68.0 134.8h.1M82.9 123.7h.1M73.4 106.8h.1M67.7 138.1h.1M62.3 126.8h.1M78.3 118.2h.1M66.8 117.8h.1M74.9 121.2h.1M80.5 129.5h.1M68.5 139.6h.1M66.2 116.7h.1M66.7 114.7h.1M65.3 120.5h.1M75.7 109.7h.1M57.5 115.5h.1M66.2 124.3h.1M62.4 131.8h.1M64.4 119.5h.1M69.0 129.4h.1M71.0 121.2h.1M64.3 122.2h.1M71.8 118.5h.1M68.4 107.8h.1M64.4 129.5h.1M79.8 120.5h.1M51.5 134.2h.1M67.3 139.4h.1M65.3 128.2h.1M63.7 130.8h.1M77.8 113.4h.1M78.8 141.5h.1M66.8 112.3h.1M70.8 118.1h.1M56.8 113.5h.1M70.5 110.1h.1M77.1 124.2h.1M67.2 131.1h.1M61.3 125.9h.1M57.9 118.7h.1M73.7 117.2h.1M67.7 125.7h.1M80.6 130.4h.1M72.2 119.1h.1M57.2 133.3h.1M83.4 105.5h.1M75.5 120.7h.1M74.2 123.3h.1M67.1 121.0h.1M68.3 129.4h.1M66.5 117.1h.1M73.8 125.6h.1M72.0 123.0h.1M80.2 129.0h.1M70.3 119.5h.1M73.8 107.6h.1M64.5 115.9h.1M69.9 118.2h.1M88.0 126.3h.1M71.8 137.2h.1M68.6 118.7h.1M78.3 127.0h.1M75.9 129.7h.1M65.7 116.3h.1M62.9 121.7h.1M76.5 113.4h.1M64.4 111.4h.1M84.4 126.8h.1M70.3 112.2h.1M60.5 116.4h.1M68.8 111.9h.1M66.8 129.8h.1M68.7 121.7h.1M52.1 119.0h.1M67.4 116.0h.1M57.7 120.5h.1M60.5 117.1h.1M56.0 120.3h.1M75.7 114.9h.1M71.1 110.1h.1M73.1 124.9h.1M65.5 127.4h.1M61.7 121.3h.1M81.8 120.8h.1M59.7 129.3h.1M72.8 119.0h.1M54.2 107.4h.1M56.6 131.7h.1M70.9 114.9h.1M77.7 131.6h.1M61.9 124.5h.1M55.6 123.7h.1M82.9 110.8h.1M69.0 116.4h.1M67.8 121.6h.1M70.8 127.4h.1M72.6 128.6h.1M76.6 128.9h.1M63.3 124.0h.1M65.6 114.9h.1M84.0 123.1h.1M68.9 105.8h.1M66.8 126.6h.1M67.0 117.1h.1M80.2 118.8h.1M66.0 120.3h.1M66.7 128.6h.1M73.1 120.5h.1M65.7 119.4h.1M81.9 118.8h.1M73.7 109.6h.1M71.1 126.0h.1M78.6 123.3h.1M73.1 123.3h.1M77.0 135.8h.1M70.2 115.1h.1M73.3 120.2h.1M73.6 126.6h.1M69.8 117.8h.1M71.0 112.0h.1M70.7 114.6h.1M72.1 121.9h.1M66.9 112.3h.1M69.0 116.1h.1M67.5 126.0h.1M76.1 111.7h.1M75.9 130.8h.1M77.4 123.0h.1M67.9 133.6h.1M66.1 110.0h.1M69.3 123.1h.1M60.5 112.2h.1M84.1 121.8h.1M74.7 116.8h.1M56.7 119.7h.1M79.1 116.2h.1M54.5 119.8h.1M66.4 121.1h.1M60.4 118.8h.1M64.3 127.4h.1M69.8 127.3h.1M68.2 105.6h.1M53.2 124.9h.1M75.5 127.3h.1M68.0 108.1h.1M64.7 123.9h.1M79.4 118.5h.1M64.2 115.4h.1M76.6 127.3h.1M54.3 129.8h.1M61.4 110.4h.1M56.1 115.8h.1M86.8 139.4h.1M58.8 116.1h.1M69.8 124.0h.1M64.8 109.6h.1M65.4 116.1h.1M54.5 122.0h.1M57.1 108.5h.1M80.5 127.8h.1M79.9 121.9h.1M65.4 120.4h.1M57.9 126.4h.1M70.7 118.8h.1M53.9 120.2h.1M81.4 131.5h.1M75.5 118.5h.1M69.7 125.0h.1M70.1 128.6h.1M49.6 114.4h.1M57.7 125.8h.1M77.0 121.0h.1M72.8 121.6h.1M70.0 117.6h.1M65.4 129.6h.1M66.5 120.7h.1M78.0 128.1h.1M65.5 122.8h.1M60.7 122.0h.1M71.1 121.0h.1M69.9 123.6h.1M48.7 115.0h.1M69.2 117.4h.1M61.0 119.3h.1M81.2 119.4h.1M63.5 117.5h.1M59.3 124.5h.1M60.9 127.6h.1M75.7 125.1h.1M76.7 120.4h.1M54.8 120.5h.1M73.6 109.8h.1M59.0 128.9h.1M72.0 130.7h.1M73.8 121.5h.1M72.0 127.1h.1M68.4 119.5h.1M71.1 118.7h.1M87.5 115.5h.1M56.7 111.7h.1M76.8 118.1h.1M69.8 119.4h.1M70.8 110.5h.1M69.3 116.9h.1M77.1 125.5h.1M58.7 114.0h.1M73.1 129.7h.1M74.6 119.9h.1M64.4 113.9h.1M60.5 125.1h.1M70.8 123.1h.1M67.6 125.5h.1M74.8 116.9h.1M76.0 114.3h.1M82.5 111.6h.1M66.3 113.2h.1M68.9 130.5h.1M62.7 133.9h.1M79.8 123.8h.1M64.0 127.5h.1M46.0 115.5h.1M76.2 120.7h.1M88.2 116.1h.1M58.1 119.4h.1M73.2 133.4h.1M54.7 122.1h.1M78.6 116.1h.1M65.0 112.2h.1M74.7 127.0h.1M73.3 122.8h.1M76.5 120.1h.1M74.3 126.9h.1M78.9 124.7h.1M69.3 126.1h.1M56.3 108.2h.1M81.4 122.0h.1M60.3 116.8h.1M67.4 121.5h.1M62.5 128.2h.1M55.1 141.4h.1M60.0 133.1h.1M73.9 108.8h.1M58.9 121.4h.1M70.8 117.9h.1M68.7 122.2h.1M59.5 121.4h.1M86.7 116.3h.1M60.5 125.8h.1M79.3 128.6h.1M63.6 120.5h.1M70.2 119.5h.1M71.8 128.9h.1M73.0 120.9h.1M67.0 134.0h.1M58.8 135.6h.1M74.5 121.6h.1M62.7 134.4h.1M78.3 127.6h.1M85.3 107.9h.1M69.4 118.8h.1M62.8 121.6h.1M72.9 124.8h.1M67.5 111.4h.1M73.1 125.4h.1M85.6 127.8h.1M68.7 112.6h.1M90.5 116.1h.1M70.2 126.5h.1M72.7 130.7h.1M60.3 116.0h.1M70.0 112.0h.1M63.7 131.1h.1M71.0 120.3h.1M64.0 121.4h.1M68.3 113.1h.1M75.0 111.7h.1M78.9 118.5h.1M50.2 109.7h.1M70.9 114.7h.1M83.2 131.1h.1M85.6 127.5h.1M79.5 116.6h.1M79.1 117.8h.1M68.2 111.0h.1M69.1 124.0h.1M68.1 112.9h.1M75.9 127.7h.1M67.9 126.7h.1M76.6 113.8h.1M68.3 107.4h.1M60.2 124.1h.1M61.5 123.9h.1M71.5 105.9h.1M64.7 132.1h.1M68.7 121.9h.1M62.9 109.2h.1M55.7 142.1h.1M67.1 114.6h.1M69.5 106.8h.1M80.0 133.6h.1M62.5 123.4h.1M61.3 127.3h.1M61.8 119.9h.1M79.3 124.9h.1M65.9 109.8h.1M55.6 129.8h.1M72.8 121.4h.1M78.9 122.1h.1M62.7 120.2h.1M67.8 120.9h.1M89.0 125.3h.1M70.8 119.2h.1M63.0 113.7h.1M53.2 117.6h.1M56.2 107.3h.1M60.9 106.1h.1M79.8 130.2h.1M60.7 136.1h.1M68.8 113.6h.1M54.3 119.1h.1M78.0 124.3h.1M56.6 116.1h.1M62.4 129.5h.1M67.8 113.8h.1M61.1 106.5h.1M61.7 127.6h.1M52.9 122.4h.1M67.7 127.0h.1M59.2 127.7h.1M81.3 137.9h.1M55.2 120.8h.1M66.9 121.9h.1M60.5 127.3h.1M87.8 132.1h.1M60.7 116.7h.1M74.6 122.0h.1M62.3 130.1h.1M72.8 128.6h.1M67.1 130.5h.1M64.7 112.7h.1M68.5 110.7h.1M78.9 126.4h.1M54.7 122.3h.1M75.5 118.3h.1M72.0 116.7h.1M68.0 120.4h.1M72.5 113.8h.1M59.3 123.4h.1M64.4 124.8h.1M64.4 111.3h.1M74.6 123.0h.1M74.6 118.5h.1M65.6 130.4h.1M54.6 133.9h.1M72.8 120.6h.1M69.3 125.5h.1M62.2 123.1h.1M60.7 107.3h.1M70.2 121.7h.1M73.9 125.1h.1M74.3 126.9h.1M59.8 130.0h.1M90.6 116.8h.1M58.2 126.1h.1M76.1 128.5h.1M81.2 110.7h.1M71.6 124.4h.1M78.8 114.4h.1M68.7 118.2h.1M67.2 119.9h.1M67.3 107.9h.1M68.2 121.5h.1M62.8 116.1h.1M61.4 132.9h.1M76.2 119.6h.1M73.5 145.4h.1M60.5 124.5h.1M63.6 132.0h.1M77.7 120.1h.1M73.6 115.1h.1M55.5 127.3h.1M82.0 118.7h.1M64.2 107.7h.1M86.2 112.1h.1M60.5 119.6h.1M78.5 121.4h.1M68.4 121.2h.1M75.5 120.7h.1M69.8 120.5h.1M59.4 131.0h.1M62.8 111.2h.1M64.9 121.2h.1M75.3 110.1h.1M58.1 122.3h.1M71.7 112.8h.1M59.2 122.3h.1M67.3 109.0h.1M61.3 132.0h.1M59.8 128.8h.1M55.9 132.0h.1M81.7 116.3h.1M62.9 125.7h.1M58.3 125.1h.1M78.6 123.0h.1M71.2 119.8h.1M76.8 114.9h.1M81.6 120.8h.1M65.8 108.9h.1M64.9 122.8h.1M78.8 109.0h.1M67.5 115.9h.1M58.6 121.0h.1M62.3 127.5h.1M46.3 126.5h.1M52.8 106.5h.1M72.8 118.5h.1M69.6 113.8h.1M59.9 115.5h.1M68.1 114.8h.1M65.1 114.6h.1M70.4 112.5h.1M68.3 121.7h.1M76.4 115.5h.1M59.1 109.9h.1M74.8 116.4h.1M76.6 120.4h.1M66.2 107.2h.1M62.9 126.9h.1M63.5 126.0h.1M55.0 128.5h.1M91.4 129.3h.1M71.1 111.8h.1M64.2 116.1h.1M70.0 106.0h.1M61.4 126.9h.1M69.7 126.5h.1M75.5 112.5h.1M57.4 124.4h.1M68.8 121.6h.1M61.8 128.6h.1M72.6 129.5h.1M65.6 126.1h.1M68.0 114.0h.1M67.8 108.7h.1M67.0 122.3h.1M74.2 113.2h.1M57.6 115.6h.1M51.5 116.1h.1M90.0 122.1h.1M62.3 115.9h.1M83.1 112.3h.1M67.6 120.4h.1M62.5 115.7h.1M54.7 114.8h.1M79.2 131.5h.1M66.2 126.2h.1M72.3 121.8h.1M67.4 130.0h.1M73.2 119.3h.1M66.6 127.9h.1M63.6 115.7h.1M66.2 117.3h.1M78.9 123.6h.1M67.8 117.1h.1M80.1 124.3h.1M85.6 127.8h.1M66.7 116.9h.1M66.2 122.3h.1M75.0 124.6h.1M81.4 109.7h.1M68.7 110.5h.1M60.0 116.5h.1M63.1 113.8h.1M56.0 129.4h.1M65.9 128.2h.1M63.6 127.5h.1M63.9 123.9h.1M59.6 131.3h.1M72.1 128.8h.1M66.2 130.5h.1M69.1 117.4h.1M63.2 121.4h.1M61.0 112.1h.1M69.6 126.3h.1M66.1 127.2h.1M81.5 111.6h.1M70.6 113.8h.1M63.2 122.3h.1M49.0 125.5h.1M75.4 125.0h.1M73.8 134.5h.1M65.5 129.1h.1M80.4 124.6h.1M53.8 119.8h.1M66.1 109.0h.1M68.0 126.6h.1M66.4 119.6h.1M80.6 116.4h.1M60.7 121.3h.1M77.7 125.4h.1M69.1 117.3h.1M78.6 127.6h.1M54.2 123.5h.1M48.7 132.1h.1M73.5 116.3h.1M57.9 118.8h.1M54.1 125.2h.1M64.3 107.9h.1M68.3 129.8h.1M58.0 118.4h.1M83.4 122.4h.1M63.9 122.4h.1M74.9 113.5h.1M67.7 108.9h.1M55.5 109.6h.1M75.4 123.3h.1M74.5 130.0h.1M68.9 122.7h.1M71.8 124.5h.1M59.7 119.0h.1M67.2 121.3h.1M62.3 120.0h.1M70.9 122.4h.1M73.3 127.1h.1M73.1 128.2h.1M75.4 131.3h.1M73.7 116.4h.1M87.6 129.4h.1M78.8 126.4h.1M68.9 112.5h.1M72.1 118.4h.1M65.2 105.1h.1M81.2 112.3h.1M59.5 124.4h.1M73.2 115.1h.1M68.4 122.9h.1M69.8 124.9h.1M74.9 118.3h.1M55.2 137.0h.1M65.3 113.6h.1M74.7 125.3h.1M63.4 138.4h.1M49.2 130.5h.1M68.2 123.3h.1M71.1 119.3h.1M71.1 111.3h.1M65.2 134.7h.1M47.3 130.1h.1M50.1 114.7h.1M75.7 118.0h.1M63.7 109.9h.1M67.5 119.7h.1M63.2 109.4h.1M69.8 124.1h.1M77.9 124.8h.1M81.0 129.9h.1M45.3 133.3h.1M67.6 113.2h.1M72.1 128.1h.1M55.8 111.8h.1M74.2 116.9h.1M80.5 122.6h.1M64.0 111.1h.1M73.4 108.2h.1M57.8 111.3h.1M82.5 133.7h.1M66.7 118.1h.1M74.3 130.2h.1M61.8 137.3h.1M66.8 129.4h.1M49.0 120.6h.1M62.8 135.7h.1M66.7 111.5h.1" stroke="#000" stroke-width="0.42" stroke-linecap="round" fill="none" opacity="0.6"/>
<path d="M93.1 82.1h.1M88.6 79.7h.1M90.2 85.8h.1M87.9 83.3h.1M87.3 82.0h.1M85.3 90.1h.1M90.7 79.1h.1M85.9 86.7h.1M93.8 84.1h.1M87.9 83.9h.1M89.2 84.3h.1M91.1 89.1h.1M89.9 91.6h.1M88.1 82.7h.1M95.5 76.9h.1M85.0 75.1h.1M89.4 80.5h.1M91.0 76.2h.1M88.3 83.3h.1M86.1 89.7h.1M87.7 86.9h.1M87.4 85.6h.1M87.6 85.3h.1M88.4 82.1h.1M89.6 84.2h.1M86.4 80.6h.1M89.6 90.6h.1M85.6 83.2h.1M89.6 89.4h.1M90.2 80.0h.1M88.7 88.8h.1M89.2 84.0h.1M85.9 85.7h.1M88.4 85.1h.1M92.1 90.0h.1M86.8 86.0h.1M87.9 85.4h.1M92.4 88.9h.1M88.7 82.2h.1M88.2 86.5h.1M87.4 89.6h.1M88.6 80.0h.1M93.3 72.8h.1M88.0 84.5h.1M90.9 89.7h.1M92.0 91.6h.1M89.3 85.5h.1M90.9 84.9h.1M85.7 83.1h.1M90.1 87.6h.1M86.0 90.0h.1M89.3 78.7h.1M89.7 89.2h.1M89.8 83.7h.1M86.7 89.7h.1M89.1 85.0h.1M87.7 80.6h.1M84.3 83.5h.1M91.2 88.2h.1M87.0 91.4h.1M88.1 80.8h.1M90.9 90.8h.1M87.7 79.8h.1M88.5 74.8h.1M88.7 91.4h.1M89.2 81.9h.1M90.2 82.9h.1M91.5 83.5h.1M93.3 83.5h.1M89.0 81.0h.1M85.6 86.4h.1M89.4 80.9h.1M89.9 83.3h.1M87.3 84.7h.1M89.5 88.1h.1M91.5 86.6h.1M86.9 82.1h.1M89.5 80.0h.1M88.2 83.4h.1M88.4 85.8h.1M91.0 91.9h.1M90.6 89.3h.1M86.1 89.4h.1M91.6 79.3h.1M94.4 82.6h.1M83.1 92.4h.1M88.7 81.6h.1M87.3 89.5h.1M89.2 83.4h.1M91.3 81.0h.1M86.6 82.6h.1M86.9 87.9h.1M88.1 80.6h.1M87.5 76.6h.1M89.0 85.4h.1M90.0 84.0h.1M89.5 81.1h.1M88.7 85.7h.1M85.8 87.5h.1M88.9 85.2h.1M87.5 93.4h.1M88.6 81.8h.1M86.6 87.5h.1M88.1 81.7h.1M86.9 88.9h.1M88.8 89.4h.1M88.6 80.0h.1M90.6 86.3h.1M87.1 83.7h.1M86.4 88.5h.1" stroke="#000" stroke-width="0.45" stroke-linecap="round" fill="none" opacity="0.6"/>
<path d="M74.1 91.3h.1M78.8 86.2h.1M79.6 86.3h.1M68.7 85.1h.1M68.7 93.3h.1M81.6 83.9h.1M81.3 89.7h.1M83.8 81.5h.1M77.2 81.0h.1M72.2 97.6h.1M62.9 81.6h.1M80.4 93.4h.1M71.5 73.8h.1M64.9 90.6h.1M84.7 94.4h.1M71.9 97.5h.1M75.7 92.3h.1M75.7 99.1h.1M73.4 73.0h.1M74.8 89.3h.1M78.9 83.0h.1M75.4 80.1h.1M75.4 88.6h.1M78.7 99.5h.1M63.0 91.6h.1M80.0 79.9h.1M77.5 87.9h.1M70.0 93.0h.1M90.4 92.7h.1M82.4 95.5h.1M76.1 94.8h.1M71.3 89.2h.1M81.9 97.1h.1M75.0 86.0h.1M80.3 87.4h.1M78.0 93.6h.1M71.6 94.1h.1M79.7 86.2h.1M68.3 83.6h.1M76.7 94.6h.1M63.2 93.0h.1M78.3 80.1h.1M83.0 90.8h.1M80.0 81.2h.1M69.3 94.3h.1M86.8 90.5h.1M75.7 84.9h.1M65.0 94.9h.1M76.3 96.6h.1M72.0 95.3h.1M72.0 92.1h.1M86.6 83.1h.1M83.3 87.9h.1M70.5 89.4h.1M81.5 83.0h.1M75.1 84.0h.1M71.6 86.5h.1M82.7 84.5h.1M85.7 85.4h.1M72.2 95.4h.1M86.8 83.5h.1M81.1 79.9h.1M74.2 85.4h.1M81.9 79.3h.1M73.4 83.2h.1M77.7 79.5h.1M67.7 107.6h.1M78.5 77.6h.1M82.8 78.9h.1M63.9 99.6h.1M85.7 82.2h.1M69.4 91.3h.1M91.1 92.2h.1M81.6 79.8h.1M64.7 90.7h.1M84.0 88.9h.1M77.0 97.6h.1M71.2 95.6h.1M82.8 83.7h.1M77.9 88.8h.1M81.0 81.2h.1M75.4 88.6h.1M77.2 88.1h.1M78.7 86.7h.1M73.5 95.1h.1M72.6 85.8h.1M70.9 80.1h.1M80.1 87.7h.1M76.1 91.1h.1M75.8 92.7h.1" stroke="#000" stroke-width="0.42" stroke-linecap="round" fill="none" opacity="0.5"/>
<path d="M121.4 122.1h.1M96.9 137.6h.1M108.4 98.3h.1M115.8 120.5h.1M110.1 104.3h.1M90.0 110.3h.1M106.5 104.7h.1M91.6 129.3h.1M92.4 119.4h.1M89.4 97.9h.1M99.0 116.6h.1M83.1 129.5h.1M109.7 128.4h.1M94.0 104.5h.1" stroke="#000" stroke-width="0.42" stroke-linecap="round" fill="none" opacity="0.45"/>
<rect x="40" y="44" width="106" height="105.30000000000001" fill="none" stroke="#8a8a8a" stroke-width="1"/>
<line x1="40.00" y1="44.00" x2="40.00" y2="149.30" stroke="#666" stroke-width="1"/>
<line x1="39.50" y1="149.30" x2="146.50" y2="149.30" stroke="#3a3a3a" stroke-width="1"/>
<line x1="82.40" y1="100.00" x2="86.60" y2="44.00" stroke="#0a0a0a" stroke-width="1.0"/>
<line x1="82.40" y1="100.00" x2="40.00" y2="106.00" stroke="#0a0a0a" stroke-width="1.0"/>
<line x1="82.40" y1="100.00" x2="146.00" y2="106.60" stroke="#0a0a0a" stroke-width="1.0"/>
<line x1="82.40" y1="100.00" x2="94.40" y2="149.30" stroke="#0a0a0a" stroke-width="1.0"/>
<text x="42.60" y="53.20" font-size="6.9" text-anchor="start" fill="#1a1a1a" stroke="#1a1a1a" stroke-width="0.22">Q1</text>
<text x="42.60" y="60.90" font-size="6.9" text-anchor="start" fill="#1a1a1a" stroke="#1a1a1a" stroke-width="0.22" letter-spacing="0.4">0.98</text>
<text x="144.40" y="53.20" font-size="6.9" text-anchor="end" fill="#1a1a1a" stroke="#1a1a1a" stroke-width="0.22">Q2</text>
<text x="144.10" y="60.90" font-size="6.9" text-anchor="end" fill="#1a1a1a" stroke="#1a1a1a" stroke-width="0.22" letter-spacing="0.4">2.97</text>
<text x="42.60" y="137.50" font-size="6.9" text-anchor="start" fill="#1a1a1a" stroke="#1a1a1a" stroke-width="0.22">Q4</text>
<text x="42.60" y="146.30" font-size="6.9" text-anchor="start" fill="#1a1a1a" stroke="#1a1a1a" stroke-width="0.22" letter-spacing="0.4">95.4</text>
<text x="144.40" y="137.50" font-size="6.9" text-anchor="end" fill="#1a1a1a" stroke="#1a1a1a" stroke-width="0.22">Q3</text>
<text x="144.10" y="146.30" font-size="6.9" text-anchor="end" fill="#1a1a1a" stroke="#1a1a1a" stroke-width="0.22" letter-spacing="0.4">0.69</text>
<text x="32.30" y="55.00" font-size="8.7" text-anchor="end" fill="#1a1a1a" stroke="#1a1a1a" stroke-width="0.22">10<tspan font-size="5.4" dy="-3.30" font-style="normal" letter-spacing="0">5</tspan></text>
<text x="32.30" y="75.30" font-size="8.7" text-anchor="end" fill="#1a1a1a" stroke="#1a1a1a" stroke-width="0.22">10<tspan font-size="5.4" dy="-3.30" font-style="normal" letter-spacing="0">4</tspan></text>
<text x="32.30" y="94.80" font-size="8.7" text-anchor="end" fill="#1a1a1a" stroke="#1a1a1a" stroke-width="0.22">10<tspan font-size="5.4" dy="-3.30" font-style="normal" letter-spacing="0">3</tspan></text>
<text x="32.30" y="114.50" font-size="8.7" text-anchor="end" fill="#1a1a1a" stroke="#1a1a1a" stroke-width="0.22">10<tspan font-size="5.4" dy="-3.30" font-style="normal" letter-spacing="0">2</tspan></text>
<text x="31.50" y="127.10" font-size="8.7" text-anchor="end" fill="#1a1a1a" stroke="#1a1a1a" stroke-width="0.22">0</text>
<text x="32.30" y="140.60" font-size="8.7" text-anchor="end" fill="#1a1a1a" stroke="#1a1a1a" stroke-width="0.22">−10<tspan font-size="5.4" dy="-3.30" font-style="normal" letter-spacing="0">2</tspan></text>
<line x1="37.20" y1="52.00" x2="40.00" y2="52.00" stroke="#555" stroke-width="0.8"/>
<line x1="37.20" y1="71.50" x2="40.00" y2="71.50" stroke="#555" stroke-width="0.8"/>
<line x1="37.20" y1="91.20" x2="40.00" y2="91.20" stroke="#555" stroke-width="0.8"/>
<line x1="37.20" y1="110.60" x2="40.00" y2="110.60" stroke="#555" stroke-width="0.8"/>
<line x1="37.20" y1="125.60" x2="40.00" y2="125.60" stroke="#555" stroke-width="0.8"/>
<line x1="37.20" y1="138.20" x2="40.00" y2="138.20" stroke="#555" stroke-width="0.8"/>
<line x1="38.40" y1="46.50" x2="40.00" y2="46.50" stroke="#444" stroke-width="0.6"/>
<line x1="38.40" y1="49.40" x2="40.00" y2="49.40" stroke="#444" stroke-width="0.6"/>
<line x1="38.40" y1="52.30" x2="40.00" y2="52.30" stroke="#444" stroke-width="0.6"/>
<line x1="38.40" y1="55.20" x2="40.00" y2="55.20" stroke="#444" stroke-width="0.6"/>
<line x1="38.40" y1="58.10" x2="40.00" y2="58.10" stroke="#444" stroke-width="0.6"/>
<line x1="38.40" y1="61.00" x2="40.00" y2="61.00" stroke="#444" stroke-width="0.6"/>
<line x1="38.40" y1="63.90" x2="40.00" y2="63.90" stroke="#444" stroke-width="0.6"/>
<line x1="38.40" y1="66.80" x2="40.00" y2="66.80" stroke="#444" stroke-width="0.6"/>
<line x1="38.40" y1="69.70" x2="40.00" y2="69.70" stroke="#444" stroke-width="0.6"/>
<line x1="38.40" y1="72.60" x2="40.00" y2="72.60" stroke="#444" stroke-width="0.6"/>
<line x1="38.40" y1="75.50" x2="40.00" y2="75.50" stroke="#444" stroke-width="0.6"/>
<line x1="38.40" y1="78.40" x2="40.00" y2="78.40" stroke="#444" stroke-width="0.6"/>
<line x1="38.40" y1="81.30" x2="40.00" y2="81.30" stroke="#444" stroke-width="0.6"/>
<line x1="38.40" y1="86.00" x2="40.00" y2="86.00" stroke="#444" stroke-width="0.6"/>
<line x1="38.40" y1="88.70" x2="40.00" y2="88.70" stroke="#444" stroke-width="0.6"/>
<line x1="38.40" y1="91.40" x2="40.00" y2="91.40" stroke="#444" stroke-width="0.6"/>
<line x1="38.40" y1="94.10" x2="40.00" y2="94.10" stroke="#444" stroke-width="0.6"/>
<line x1="38.40" y1="96.80" x2="40.00" y2="96.80" stroke="#444" stroke-width="0.6"/>
<line x1="38.40" y1="99.50" x2="40.00" y2="99.50" stroke="#444" stroke-width="0.6"/>
<line x1="38.40" y1="102.20" x2="40.00" y2="102.20" stroke="#444" stroke-width="0.6"/>
<line x1="38.40" y1="104.90" x2="40.00" y2="104.90" stroke="#444" stroke-width="0.6"/>
<line x1="38.40" y1="107.60" x2="40.00" y2="107.60" stroke="#444" stroke-width="0.6"/>
<line x1="38.10" y1="121.60" x2="40.00" y2="121.60" stroke="#333" stroke-width="0.7"/>
<line x1="38.10" y1="123.00" x2="40.00" y2="123.00" stroke="#333" stroke-width="0.7"/>
<line x1="38.10" y1="124.40" x2="40.00" y2="124.40" stroke="#333" stroke-width="0.7"/>
<line x1="38.10" y1="127.00" x2="40.00" y2="127.00" stroke="#333" stroke-width="0.7"/>
<line x1="38.10" y1="128.40" x2="40.00" y2="128.40" stroke="#333" stroke-width="0.7"/>
<line x1="38.10" y1="129.80" x2="40.00" y2="129.80" stroke="#333" stroke-width="0.7"/>
<text x="66.20" y="163.60" font-size="8.7" text-anchor="middle" fill="#1a1a1a" stroke="#1a1a1a" stroke-width="0.22">0</text>
<text x="105.50" y="163.60" font-size="8.7" text-anchor="end" fill="#1a1a1a" stroke="#1a1a1a" stroke-width="0.22">10<tspan font-size="5.4" dy="-3.30" font-style="normal" letter-spacing="0">3</tspan></text>
<text x="125.20" y="163.60" font-size="8.7" text-anchor="end" fill="#1a1a1a" stroke="#1a1a1a" stroke-width="0.22">10<tspan font-size="5.4" dy="-3.30" font-style="normal" letter-spacing="0">4</tspan></text>
<text x="144.70" y="163.60" font-size="8.7" text-anchor="end" fill="#1a1a1a" stroke="#1a1a1a" stroke-width="0.22">10<tspan font-size="5.4" dy="-3.30" font-style="normal" letter-spacing="0">5</tspan></text>
<line x1="66.20" y1="149.30" x2="66.20" y2="152.10" stroke="#555" stroke-width="0.8"/>
<line x1="95.50" y1="149.30" x2="95.50" y2="152.10" stroke="#555" stroke-width="0.8"/>
<line x1="116.00" y1="149.30" x2="116.00" y2="152.10" stroke="#555" stroke-width="0.8"/>
<line x1="136.00" y1="149.30" x2="136.00" y2="152.10" stroke="#555" stroke-width="0.8"/>
<line x1="45.00" y1="149.30" x2="45.00" y2="150.90" stroke="#444" stroke-width="0.6"/>
<line x1="48.25" y1="149.30" x2="48.25" y2="150.90" stroke="#444" stroke-width="0.6"/>
<line x1="51.50" y1="149.30" x2="51.50" y2="150.90" stroke="#444" stroke-width="0.6"/>
<line x1="54.75" y1="149.30" x2="54.75" y2="150.90" stroke="#444" stroke-width="0.6"/>
<line x1="58.00" y1="149.30" x2="58.00" y2="150.90" stroke="#444" stroke-width="0.6"/>
<line x1="61.25" y1="149.30" x2="61.25" y2="150.90" stroke="#444" stroke-width="0.6"/>
<line x1="64.50" y1="149.30" x2="64.50" y2="150.90" stroke="#444" stroke-width="0.6"/>
<line x1="67.75" y1="149.30" x2="67.75" y2="150.90" stroke="#444" stroke-width="0.6"/>
<line x1="71.00" y1="149.30" x2="71.00" y2="150.90" stroke="#444" stroke-width="0.6"/>
<line x1="74.25" y1="149.30" x2="74.25" y2="150.90" stroke="#444" stroke-width="0.6"/>
<line x1="77.50" y1="149.30" x2="77.50" y2="150.90" stroke="#444" stroke-width="0.6"/>
<line x1="80.75" y1="149.30" x2="80.75" y2="150.90" stroke="#444" stroke-width="0.6"/>
<line x1="84.00" y1="149.30" x2="84.00" y2="150.90" stroke="#444" stroke-width="0.6"/>
<line x1="87.25" y1="149.30" x2="87.25" y2="150.90" stroke="#444" stroke-width="0.6"/>
<line x1="90.50" y1="149.30" x2="90.50" y2="150.90" stroke="#444" stroke-width="0.6"/>
<line x1="93.75" y1="149.30" x2="93.75" y2="150.90" stroke="#444" stroke-width="0.6"/>
<line x1="97.00" y1="149.30" x2="97.00" y2="150.90" stroke="#444" stroke-width="0.6"/>
<line x1="100.25" y1="149.30" x2="100.25" y2="150.90" stroke="#444" stroke-width="0.6"/>
<line x1="103.50" y1="149.30" x2="103.50" y2="150.90" stroke="#444" stroke-width="0.6"/>
<line x1="106.75" y1="149.30" x2="106.75" y2="150.90" stroke="#444" stroke-width="0.6"/>
<line x1="110.00" y1="149.30" x2="110.00" y2="150.90" stroke="#444" stroke-width="0.6"/>
<line x1="113.25" y1="149.30" x2="113.25" y2="150.90" stroke="#444" stroke-width="0.6"/>
<line x1="116.50" y1="149.30" x2="116.50" y2="150.90" stroke="#444" stroke-width="0.6"/>
<line x1="119.75" y1="149.30" x2="119.75" y2="150.90" stroke="#444" stroke-width="0.6"/>
<line x1="123.00" y1="149.30" x2="123.00" y2="150.90" stroke="#444" stroke-width="0.6"/>
<line x1="126.25" y1="149.30" x2="126.25" y2="150.90" stroke="#444" stroke-width="0.6"/>
<line x1="129.50" y1="149.30" x2="129.50" y2="150.90" stroke="#444" stroke-width="0.6"/>
<line x1="132.75" y1="149.30" x2="132.75" y2="150.90" stroke="#444" stroke-width="0.6"/>
<line x1="136.00" y1="149.30" x2="136.00" y2="150.90" stroke="#444" stroke-width="0.6"/>
<line x1="139.25" y1="149.30" x2="139.25" y2="150.90" stroke="#444" stroke-width="0.6"/>
<line x1="142.50" y1="149.30" x2="142.50" y2="150.90" stroke="#444" stroke-width="0.6"/>
<line x1="62.50" y1="149.30" x2="62.50" y2="151.30" stroke="#333" stroke-width="0.7"/>
<line x1="64.00" y1="149.30" x2="64.00" y2="151.30" stroke="#333" stroke-width="0.7"/>
<line x1="65.20" y1="149.30" x2="65.20" y2="151.30" stroke="#333" stroke-width="0.7"/>
<line x1="67.20" y1="149.30" x2="67.20" y2="151.30" stroke="#333" stroke-width="0.7"/>
<line x1="68.50" y1="149.30" x2="68.50" y2="151.30" stroke="#333" stroke-width="0.7"/>
<line x1="70.00" y1="149.30" x2="70.00" y2="151.30" stroke="#333" stroke-width="0.7"/>
<text x="42.00" y="36.50" font-size="9.6" text-anchor="start" fill="#1a1a1a" stroke="#1a1a1a" stroke-width="0.22"><tspan font-style="italic">Il17rb</tspan><tspan font-size="6.4" dy="-3.60" font-style="normal" letter-spacing="0.5">fl/fl</tspan></text>
<path d="M203.1 117.4h.1M202.6 114.4h.1M198.0 114.9h.1M203.1 114.7h.1M212.9 113.4h.1M206.1 114.1h.1M202.6 112.9h.1M200.9 111.2h.1M192.0 124.6h.1M197.7 119.7h.1M202.9 114.5h.1M207.7 113.4h.1M206.0 114.6h.1M209.0 119.2h.1M204.0 120.9h.1M206.4 122.2h.1M202.9 110.5h.1M204.8 117.3h.1M201.6 116.2h.1M202.1 111.9h.1M213.2 111.3h.1M197.6 111.6h.1M198.9 117.5h.1M211.8 117.1h.1M199.5 112.5h.1M197.3 117.7h.1M208.4 113.6h.1M212.5 122.3h.1M204.5 107.7h.1M209.7 114.8h.1M207.3 119.7h.1M198.0 118.1h.1M204.6 113.3h.1M207.5 115.2h.1M201.3 124.7h.1M204.5 122.9h.1M202.7 121.0h.1M199.4 118.1h.1M209.6 106.5h.1M206.6 114.8h.1M209.7 115.9h.1M203.2 111.5h.1M220.0 109.9h.1M201.8 114.1h.1M201.9 117.9h.1M196.1 122.5h.1M202.1 119.3h.1M191.8 117.2h.1M201.9 115.4h.1M199.9 118.7h.1M205.9 112.1h.1M192.6 122.0h.1M201.8 121.3h.1M208.4 115.1h.1M195.6 116.9h.1M199.5 122.5h.1M194.1 122.4h.1M195.0 116.2h.1M195.7 115.6h.1M201.1 118.6h.1M200.3 120.1h.1M213.3 115.0h.1M197.2 117.3h.1M203.0 115.3h.1M210.0 119.8h.1M214.7 116.2h.1M188.7 119.4h.1M207.3 112.5h.1M200.2 121.0h.1M204.4 111.9h.1M203.6 111.7h.1M203.3 111.9h.1M198.4 115.7h.1M219.1 108.3h.1M197.0 115.9h.1M209.5 118.5h.1M207.4 114.4h.1M204.3 113.3h.1M202.6 113.6h.1M195.5 114.4h.1M214.3 115.8h.1M199.4 117.1h.1M201.0 122.1h.1M203.4 114.1h.1M207.3 117.0h.1M199.8 114.4h.1M204.3 109.8h.1M198.5 121.8h.1M208.4 120.0h.1M201.1 114.8h.1M202.0 115.0h.1M210.7 114.1h.1M211.1 112.0h.1M205.6 122.6h.1M199.4 114.9h.1M200.2 110.9h.1M201.9 114.4h.1M215.8 111.9h.1M191.7 123.1h.1M208.8 115.3h.1M205.1 119.1h.1M200.4 117.5h.1M204.3 123.1h.1M211.4 115.5h.1M196.1 121.8h.1M203.2 121.4h.1M203.8 117.3h.1M207.2 112.8h.1M199.9 126.6h.1M198.7 121.4h.1M207.3 119.0h.1M211.1 109.5h.1M208.8 107.1h.1M203.8 117.9h.1M209.3 119.7h.1M198.4 116.7h.1M202.7 114.0h.1M199.0 115.0h.1M209.9 120.6h.1M207.7 122.4h.1M204.0 112.1h.1M199.9 118.2h.1M209.2 120.2h.1M198.6 121.6h.1M200.6 119.7h.1M208.6 121.4h.1M200.6 118.2h.1M205.9 114.4h.1M204.0 118.9h.1M194.4 116.1h.1M216.3 115.5h.1M200.4 109.9h.1M198.2 119.9h.1M207.3 117.5h.1M206.8 113.4h.1M212.4 110.1h.1M206.4 114.9h.1M194.0 122.4h.1M202.0 119.8h.1M210.6 115.7h.1M199.9 116.6h.1M203.1 122.5h.1M208.3 121.9h.1M207.7 112.6h.1M208.7 119.3h.1M202.8 118.6h.1M201.8 111.9h.1M203.0 119.8h.1M201.5 108.0h.1M199.1 122.0h.1M204.8 120.8h.1M199.3 115.9h.1M198.0 114.7h.1M206.4 116.5h.1M200.8 118.4h.1M196.3 116.7h.1M195.2 112.5h.1M196.0 113.9h.1M212.3 120.2h.1M210.5 112.7h.1M207.0 111.3h.1M200.5 118.3h.1M194.7 119.4h.1M206.9 107.5h.1M190.0 118.6h.1M202.8 117.3h.1M197.2 120.3h.1M204.2 113.5h.1M212.6 115.6h.1M207.6 123.2h.1M200.8 116.3h.1M193.9 117.9h.1M205.9 126.2h.1M206.6 116.7h.1M196.5 114.8h.1M193.3 113.4h.1M204.1 117.7h.1M198.4 116.9h.1M199.1 120.1h.1M207.1 113.6h.1M201.0 112.2h.1M200.9 126.0h.1M203.4 120.1h.1M206.7 121.9h.1M201.7 113.4h.1M209.3 119.0h.1M199.8 121.9h.1M203.4 116.5h.1M213.7 116.5h.1M205.2 114.9h.1M204.6 120.6h.1M206.0 113.0h.1M206.0 115.6h.1M205.2 115.4h.1M191.4 112.8h.1M201.4 108.2h.1M195.2 126.7h.1M207.4 113.9h.1M205.3 107.1h.1M204.9 120.3h.1M204.6 111.1h.1M208.9 113.2h.1M200.3 118.1h.1M201.8 125.3h.1M202.7 125.5h.1M206.0 111.0h.1M203.5 116.8h.1M211.5 120.0h.1M217.7 110.7h.1M201.1 126.6h.1M198.5 119.2h.1M212.5 110.5h.1M201.6 114.0h.1M206.4 117.6h.1M203.3 119.3h.1M199.1 116.1h.1M206.1 124.2h.1M203.3 116.9h.1M210.8 115.3h.1M210.8 116.0h.1M209.9 115.9h.1M198.4 114.3h.1M205.9 123.7h.1M213.9 113.0h.1M217.4 108.9h.1M198.8 121.5h.1M195.0 122.3h.1M205.6 118.7h.1M196.8 119.7h.1M208.7 115.2h.1M209.2 115.4h.1M205.4 114.9h.1M195.9 117.7h.1M206.3 112.9h.1M192.6 112.8h.1M210.8 114.0h.1M199.2 122.6h.1M202.5 110.7h.1M201.1 113.6h.1M202.5 113.1h.1M203.9 118.4h.1M200.3 116.5h.1M202.6 120.2h.1M199.5 120.6h.1M210.5 114.2h.1M198.1 116.6h.1M193.6 116.6h.1M196.8 117.4h.1M201.4 119.2h.1M204.2 118.2h.1M203.2 117.8h.1M197.2 120.8h.1M210.8 119.5h.1M196.0 120.0h.1M194.4 121.8h.1M202.4 115.0h.1M199.3 116.6h.1M203.5 112.7h.1M203.8 117.6h.1M206.5 115.8h.1M203.5 126.1h.1M209.2 116.7h.1M195.7 120.9h.1M202.6 118.4h.1M203.7 117.0h.1M202.7 122.5h.1M205.7 115.0h.1M202.2 125.5h.1M198.7 115.6h.1M205.3 116.8h.1M205.2 121.8h.1M209.9 116.9h.1M203.8 116.3h.1M202.2 121.0h.1M196.4 114.0h.1M201.0 113.3h.1M199.4 122.4h.1M190.9 121.8h.1M196.2 117.3h.1M200.3 113.3h.1M195.2 118.8h.1M186.9 111.7h.1M201.3 121.6h.1M213.9 113.1h.1M199.0 116.5h.1M206.2 119.9h.1M198.2 119.8h.1M203.4 121.3h.1M201.2 116.3h.1M198.7 112.3h.1M205.1 119.2h.1M209.9 116.3h.1M200.9 113.4h.1M197.0 115.1h.1M205.4 116.6h.1M190.7 119.1h.1M201.9 112.7h.1M203.4 118.8h.1M197.7 112.4h.1M201.7 118.1h.1M202.1 123.3h.1M204.4 112.3h.1M207.9 113.0h.1M207.4 116.1h.1M210.5 111.0h.1M207.6 117.4h.1M198.4 120.7h.1M216.3 115.2h.1M199.2 117.0h.1M210.9 116.0h.1M211.9 112.0h.1M210.9 108.5h.1M202.6 115.6h.1M200.8 122.3h.1M200.2 118.8h.1M214.0 117.6h.1M201.2 114.1h.1M192.2 120.7h.1M208.6 120.0h.1M204.9 125.1h.1M207.9 106.1h.1M198.6 121.0h.1M201.3 120.6h.1M218.0 110.2h.1M216.0 113.5h.1M195.2 118.9h.1M208.7 113.1h.1M212.5 111.0h.1M202.5 120.6h.1M202.4 114.6h.1M203.5 119.3h.1M213.4 120.0h.1M214.2 114.1h.1M194.2 118.6h.1M201.2 113.1h.1M200.6 117.0h.1M203.9 120.3h.1M198.4 122.5h.1M203.8 119.6h.1M210.6 109.9h.1M212.6 111.6h.1M205.8 120.6h.1M208.8 109.0h.1M204.5 121.1h.1M202.9 116.4h.1M204.0 123.3h.1M200.5 113.4h.1M197.3 115.9h.1M202.2 118.3h.1M203.1 109.7h.1M194.6 121.4h.1M207.7 110.1h.1M216.8 116.0h.1M194.2 120.8h.1M203.4 114.8h.1M201.5 116.2h.1M203.0 113.0h.1M200.4 119.6h.1M206.6 110.5h.1M200.8 123.7h.1M207.7 122.5h.1M195.9 114.1h.1M191.2 111.4h.1M201.4 112.8h.1M197.4 115.1h.1M202.5 120.3h.1M206.8 108.7h.1M212.1 113.3h.1M197.9 117.8h.1M201.3 111.4h.1M212.5 112.2h.1M200.2 119.6h.1M213.1 116.4h.1M198.5 119.6h.1M209.9 116.7h.1M207.3 113.8h.1M203.2 109.8h.1M199.5 112.9h.1M203.6 122.7h.1M190.8 114.1h.1M198.3 117.4h.1M210.2 111.9h.1M199.1 122.6h.1M205.7 118.3h.1M208.3 112.5h.1M204.9 113.6h.1M199.5 118.1h.1M206.1 110.8h.1M199.2 120.1h.1M204.5 119.1h.1M201.8 113.7h.1M208.1 118.1h.1M187.4 123.8h.1M199.2 120.3h.1M212.6 113.4h.1M198.0 118.9h.1M204.1 118.8h.1M195.6 119.4h.1M208.7 118.3h.1M207.2 120.7h.1M198.9 122.7h.1M204.8 112.2h.1M201.9 118.1h.1M205.5 121.7h.1M204.7 114.3h.1M216.1 112.4h.1M198.9 121.5h.1M201.2 113.9h.1M197.5 122.9h.1M197.5 118.4h.1M201.0 116.4h.1M198.9 118.3h.1M207.1 120.2h.1M201.5 112.3h.1M195.1 118.6h.1M189.4 125.3h.1M203.8 117.1h.1M195.6 115.8h.1M199.3 120.3h.1M201.3 119.7h.1M206.5 108.0h.1M202.3 122.1h.1M200.7 117.8h.1M202.9 111.7h.1M216.1 113.2h.1M207.2 114.0h.1M211.6 119.5h.1M210.4 119.0h.1M207.6 121.4h.1M205.9 116.7h.1M208.2 111.9h.1M189.1 123.2h.1M204.5 113.5h.1M202.1 113.1h.1M198.8 118.5h.1M204.3 119.9h.1M203.1 119.3h.1M207.5 112.9h.1M193.9 116.0h.1M202.2 114.8h.1M216.2 111.0h.1M206.3 112.9h.1M207.5 110.6h.1M209.0 116.1h.1M201.3 112.2h.1M213.1 112.1h.1M196.7 125.6h.1M213.8 114.4h.1M209.3 117.8h.1M201.5 117.6h.1M197.0 112.6h.1M204.3 119.5h.1M204.5 111.4h.1M208.4 115.9h.1M207.9 114.5h.1M202.1 121.3h.1M211.4 109.9h.1M197.3 122.0h.1M205.7 116.4h.1M198.0 122.1h.1M204.7 117.3h.1M205.8 114.0h.1M205.9 116.7h.1M207.7 117.3h.1M196.3 115.4h.1M202.1 121.8h.1M199.9 122.1h.1M209.8 118.8h.1M216.5 113.7h.1M205.4 121.2h.1M205.9 120.2h.1M202.9 122.6h.1M205.6 108.4h.1M209.8 114.5h.1M198.6 116.6h.1M202.0 121.7h.1M205.5 115.9h.1M203.5 113.0h.1M199.9 115.6h.1M202.3 112.2h.1M201.3 121.3h.1M206.2 116.1h.1M205.6 115.2h.1M196.8 121.8h.1M216.4 115.8h.1M207.5 125.8h.1M196.7 120.4h.1M201.6 116.0h.1M194.1 118.5h.1M205.9 109.6h.1M202.3 114.9h.1M197.9 120.5h.1M213.0 116.2h.1M209.5 118.4h.1M203.2 119.1h.1M211.2 113.2h.1M202.8 111.2h.1M193.0 115.7h.1M208.7 117.0h.1M205.1 121.7h.1M193.5 124.6h.1M204.1 119.7h.1M211.5 111.6h.1M198.6 119.4h.1M203.3 114.4h.1M202.9 113.9h.1M204.4 114.9h.1M213.3 110.2h.1M206.9 116.2h.1M212.7 110.7h.1M200.9 124.3h.1M199.8 116.0h.1M201.4 113.2h.1M210.6 121.3h.1M202.7 113.8h.1M195.9 121.1h.1M200.6 119.6h.1M189.8 118.1h.1M207.2 117.5h.1M187.2 121.6h.1M204.3 116.4h.1M201.6 115.3h.1M204.4 118.5h.1M185.5 120.7h.1M208.9 114.6h.1M210.6 111.3h.1M214.5 118.1h.1M201.3 128.4h.1M211.8 121.2h.1M196.8 117.8h.1M206.3 120.3h.1M204.0 111.3h.1M210.6 114.4h.1M206.1 114.8h.1M203.0 111.2h.1M207.4 113.2h.1M193.4 120.6h.1M203.4 120.6h.1M208.3 110.7h.1M202.6 116.9h.1M204.1 112.3h.1M204.0 120.5h.1M210.7 121.0h.1M202.0 114.8h.1M187.0 126.7h.1M208.8 115.4h.1M205.7 118.2h.1M202.4 122.5h.1M214.0 117.6h.1M200.4 118.4h.1M209.2 118.3h.1M199.7 121.4h.1M207.8 118.1h.1M201.2 117.1h.1M192.7 119.0h.1M201.1 116.0h.1M202.0 115.7h.1M204.1 116.9h.1M200.1 116.9h.1M203.1 118.8h.1M206.1 114.6h.1M198.9 111.1h.1M196.4 119.9h.1M198.3 124.4h.1M202.7 115.3h.1M202.7 114.6h.1M200.0 117.7h.1M195.3 119.1h.1M203.1 113.1h.1M209.5 116.8h.1M209.8 112.5h.1M196.5 113.4h.1M194.6 111.0h.1M212.6 112.7h.1M204.7 114.2h.1M202.8 123.2h.1M193.7 114.9h.1M204.4 112.8h.1M207.6 121.0h.1M208.7 118.5h.1M202.7 120.9h.1M199.0 112.8h.1M202.1 116.0h.1M210.6 111.1h.1M210.1 112.0h.1M196.4 111.4h.1M203.4 110.8h.1M204.8 116.5h.1M201.3 109.3h.1M200.6 119.1h.1M193.4 121.7h.1M203.7 114.4h.1M204.8 119.0h.1M203.5 113.5h.1M208.1 112.9h.1M205.7 120.1h.1M211.1 121.4h.1M209.5 115.9h.1M202.4 117.7h.1M206.6 128.1h.1M207.4 112.4h.1M212.3 108.2h.1M209.3 110.2h.1M197.4 116.0h.1M202.0 111.5h.1M207.1 115.4h.1M211.3 110.8h.1M193.2 121.8h.1M202.3 120.9h.1M190.2 114.6h.1M204.1 124.4h.1M196.6 110.5h.1M201.0 122.9h.1M212.6 109.1h.1M200.1 109.9h.1M198.8 113.8h.1M206.0 120.7h.1M217.2 112.1h.1M208.3 116.5h.1M204.3 124.3h.1M207.6 122.0h.1M205.3 119.7h.1M206.5 115.6h.1M199.6 115.9h.1M203.7 115.1h.1M201.7 114.2h.1M208.5 114.5h.1M202.9 115.9h.1M211.1 112.7h.1M211.7 111.3h.1M212.3 117.1h.1M200.8 119.1h.1M210.1 111.3h.1M202.3 118.2h.1M202.4 115.7h.1M203.7 117.9h.1M208.0 121.6h.1M201.8 128.9h.1M201.7 124.2h.1M202.9 110.9h.1M201.1 115.8h.1M209.7 107.0h.1M200.0 116.9h.1M207.4 117.4h.1M208.5 114.9h.1M202.3 121.8h.1M213.4 115.9h.1M204.5 112.9h.1M215.6 115.5h.1M207.1 109.3h.1M207.1 125.7h.1M202.7 116.0h.1M212.4 113.9h.1M208.4 123.4h.1M197.0 114.8h.1M207.5 116.2h.1M203.8 115.9h.1M204.3 117.9h.1M200.9 116.1h.1M204.9 111.9h.1M206.1 107.1h.1M207.3 115.3h.1M196.9 123.6h.1M196.9 126.5h.1M199.5 122.5h.1M203.3 123.2h.1M202.4 121.1h.1M201.8 109.4h.1M205.8 118.0h.1M205.9 122.9h.1M199.4 111.8h.1M205.1 113.5h.1M203.0 116.7h.1M199.0 122.1h.1M202.9 124.0h.1M205.0 120.6h.1M202.0 114.3h.1M200.6 113.7h.1M206.2 116.6h.1M197.5 111.7h.1M198.7 110.3h.1M198.6 111.6h.1M207.6 111.0h.1M200.3 116.9h.1M203.8 118.3h.1M208.0 118.2h.1M201.7 122.1h.1M205.7 113.3h.1M212.1 109.9h.1M206.3 121.1h.1M204.3 117.9h.1M204.3 119.2h.1M204.9 116.4h.1M207.6 108.0h.1M205.1 115.1h.1M214.7 115.3h.1M199.9 120.1h.1M201.5 112.3h.1M202.0 119.0h.1M210.4 119.3h.1M204.9 115.7h.1M204.8 121.3h.1M202.9 121.5h.1M199.1 117.6h.1M208.0 118.5h.1M204.8 114.3h.1M193.5 117.1h.1M198.8 116.1h.1M212.5 111.5h.1M208.4 115.4h.1M197.4 118.5h.1M207.9 110.8h.1M197.1 116.5h.1M207.7 113.2h.1M206.0 117.9h.1M203.7 118.4h.1M210.8 114.2h.1M205.5 111.9h.1M199.6 117.1h.1M208.2 112.8h.1M195.8 122.1h.1M197.7 118.5h.1M206.4 112.1h.1M205.5 120.6h.1M202.1 119.9h.1M204.3 112.7h.1M200.2 114.9h.1M211.1 119.6h.1M205.0 110.0h.1M200.9 115.6h.1M192.8 119.0h.1M205.2 110.9h.1M201.2 115.3h.1M214.0 117.0h.1M207.9 116.0h.1M196.5 122.0h.1M199.8 109.7h.1M207.7 114.3h.1M203.6 118.7h.1M202.3 118.6h.1M210.8 113.7h.1M201.6 117.1h.1M207.2 114.2h.1M204.1 113.7h.1M203.2 118.9h.1M199.1 116.9h.1M195.5 115.6h.1M204.1 118.7h.1M197.9 117.5h.1M198.4 119.1h.1M205.1 118.1h.1M202.4 111.1h.1M200.5 111.9h.1M199.8 117.2h.1M209.6 112.6h.1M199.3 118.4h.1M192.1 127.3h.1M195.0 122.7h.1M209.1 119.3h.1M203.0 119.7h.1M201.7 120.9h.1M200.0 114.1h.1M205.7 114.3h.1M207.4 112.3h.1M205.1 112.3h.1M203.0 125.4h.1M197.6 113.0h.1M194.7 117.7h.1M212.6 112.7h.1M208.8 114.7h.1M200.1 125.5h.1M209.6 107.8h.1M198.2 119.5h.1M207.2 114.9h.1M205.4 118.4h.1M201.7 121.1h.1M198.9 120.7h.1M208.7 116.3h.1M201.7 117.0h.1M191.3 120.4h.1M195.7 110.2h.1M207.8 112.0h.1M205.6 116.3h.1M193.9 115.2h.1M202.1 118.8h.1M204.0 111.4h.1M200.7 117.7h.1M196.6 116.4h.1M200.6 108.7h.1M213.2 118.0h.1M201.0 121.0h.1M197.8 124.1h.1M201.6 117.6h.1M200.4 117.7h.1M205.4 116.3h.1M199.0 120.7h.1M206.7 115.9h.1M209.4 112.3h.1M210.7 114.4h.1M212.0 112.9h.1M202.2 117.8h.1M209.7 121.1h.1M201.1 114.2h.1M207.8 120.7h.1M207.5 114.4h.1M210.6 114.9h.1M204.5 118.9h.1M200.5 108.2h.1M204.8 119.2h.1M206.0 118.2h.1M204.5 120.6h.1M204.2 122.5h.1M203.9 119.8h.1M200.6 118.5h.1M206.0 116.6h.1M212.1 114.9h.1M209.8 116.6h.1M209.6 111.6h.1M201.6 121.0h.1M199.1 119.2h.1M206.7 116.7h.1M206.0 118.2h.1M202.3 118.6h.1M200.8 115.4h.1M194.9 118.2h.1M194.2 118.8h.1M204.8 111.9h.1M204.0 117.7h.1M201.7 113.4h.1M203.0 118.4h.1M208.7 123.3h.1M192.7 120.5h.1M206.0 113.5h.1M205.4 124.7h.1M204.2 122.0h.1M209.5 113.5h.1M190.8 124.2h.1M212.1 107.6h.1M202.5 114.0h.1M204.7 116.6h.1M209.9 112.8h.1M214.2 107.3h.1M204.8 127.2h.1M203.1 119.3h.1M201.0 130.5h.1M208.5 114.1h.1M193.0 119.9h.1M207.7 107.4h.1M200.9 119.5h.1M190.4 118.8h.1M194.8 113.2h.1M205.8 120.7h.1M210.0 112.5h.1M206.4 108.8h.1M195.4 120.7h.1M201.4 113.0h.1M193.3 118.0h.1M215.9 105.6h.1M197.8 122.5h.1M193.0 116.5h.1M204.0 121.1h.1M203.2 124.1h.1M203.4 116.2h.1M206.0 117.5h.1M195.3 114.6h.1M202.3 118.3h.1M196.8 115.2h.1M199.5 118.9h.1M201.2 119.6h.1M205.7 112.4h.1M202.0 111.9h.1M204.2 119.8h.1M198.2 110.7h.1M206.5 114.8h.1M203.4 118.5h.1M205.7 119.9h.1M201.1 108.2h.1M200.9 116.0h.1M201.3 118.7h.1M202.2 122.2h.1M200.1 117.4h.1M201.6 125.7h.1M198.3 113.7h.1M201.5 120.2h.1M203.7 115.9h.1M195.5 110.0h.1M202.4 115.9h.1M213.4 115.9h.1M206.0 120.0h.1M198.6 112.7h.1M201.6 123.1h.1M209.1 113.0h.1M196.7 121.9h.1M209.7 110.8h.1M212.5 111.4h.1M207.8 114.8h.1M201.8 114.5h.1M207.5 118.3h.1M208.1 114.4h.1M198.9 126.4h.1M213.1 113.7h.1M197.2 124.1h.1M204.3 116.7h.1M208.3 117.0h.1M204.2 124.6h.1M193.1 121.6h.1M198.1 118.1h.1M202.7 117.9h.1M190.2 122.5h.1M216.6 112.0h.1M208.6 118.0h.1M205.3 114.2h.1M207.1 116.9h.1M211.7 118.2h.1M212.0 116.7h.1M204.6 113.9h.1M217.6 118.9h.1M204.1 115.0h.1M206.8 121.4h.1M206.5 119.8h.1M205.1 117.7h.1M196.5 118.7h.1M203.9 116.2h.1M202.3 118.2h.1M200.4 116.5h.1M196.3 127.7h.1M198.6 112.8h.1M200.6 115.6h.1M197.6 108.0h.1M212.8 118.7h.1M201.5 119.4h.1M197.4 111.4h.1M205.5 118.5h.1M199.7 117.5h.1M186.3 120.0h.1M209.5 116.0h.1M204.6 118.7h.1M191.9 114.0h.1M196.4 119.2h.1M200.1 109.7h.1M208.6 114.7h.1M209.2 123.5h.1M194.3 113.5h.1M209.7 121.0h.1M205.8 117.6h.1M207.5 118.4h.1M196.4 121.3h.1M209.2 113.7h.1M198.4 115.8h.1M200.3 119.5h.1M208.0 115.7h.1M201.9 109.8h.1M201.2 113.1h.1M200.5 118.7h.1M204.5 130.7h.1M198.7 115.5h.1M197.1 117.0h.1M202.0 121.1h.1M192.6 122.8h.1M207.2 113.6h.1M199.7 118.3h.1M206.5 115.3h.1M202.7 116.9h.1M197.5 119.1h.1M206.9 116.1h.1M197.1 118.1h.1M203.0 118.0h.1M201.2 120.5h.1M209.7 118.6h.1M204.9 121.3h.1M203.4 116.0h.1M195.5 118.5h.1M210.5 111.2h.1M208.0 110.5h.1M205.3 123.6h.1M203.8 111.8h.1M205.2 115.6h.1M208.1 113.5h.1M193.8 116.9h.1M206.9 120.0h.1M205.1 116.4h.1M207.5 114.9h.1M201.0 118.1h.1M209.8 113.2h.1M206.4 113.4h.1M199.4 118.3h.1M196.0 114.9h.1M196.8 115.7h.1M198.4 127.2h.1M207.0 116.1h.1M196.0 108.8h.1M206.1 113.5h.1M209.5 113.7h.1M196.2 115.7h.1M194.9 112.9h.1M207.6 113.6h.1M207.5 113.5h.1M202.2 114.7h.1M200.5 114.7h.1M212.0 114.5h.1M192.5 125.9h.1M210.7 119.5h.1M203.0 116.1h.1M200.9 117.7h.1M206.2 116.0h.1M198.9 113.8h.1M213.0 121.3h.1M196.5 115.7h.1M203.3 119.0h.1M202.9 117.7h.1M205.6 120.7h.1M196.2 122.7h.1M206.0 118.2h.1M195.0 117.6h.1M202.1 119.5h.1M207.4 118.5h.1M196.2 123.3h.1M203.9 120.3h.1M203.5 113.8h.1M218.4 115.9h.1M207.9 113.8h.1M202.3 121.4h.1M206.1 123.0h.1M210.4 110.8h.1M194.8 123.2h.1M206.9 114.8h.1M201.9 114.8h.1M213.7 113.7h.1M195.7 122.0h.1M203.0 118.2h.1M201.4 117.0h.1M192.8 121.2h.1M199.6 116.0h.1M205.3 121.3h.1M191.3 118.9h.1M206.6 120.0h.1M198.4 119.1h.1M205.8 119.8h.1M200.0 116.7h.1M200.6 121.8h.1M209.7 113.5h.1M202.7 117.7h.1M198.4 117.4h.1M208.4 118.6h.1M199.6 115.0h.1M202.9 111.0h.1M205.3 116.7h.1M195.9 117.4h.1M199.7 116.4h.1M198.5 123.2h.1M198.0 120.9h.1M204.7 122.1h.1M203.2 116.7h.1M203.9 109.1h.1M217.2 112.7h.1M201.7 112.6h.1M202.7 123.2h.1M199.2 119.4h.1M209.4 119.0h.1M201.2 110.3h.1M205.8 118.4h.1M201.6 115.4h.1M213.5 108.2h.1M200.6 114.9h.1M194.6 116.0h.1M199.0 122.6h.1M193.6 113.5h.1M205.0 110.3h.1M192.1 116.8h.1M196.6 114.4h.1M202.6 118.6h.1M199.8 116.4h.1M207.6 115.2h.1M207.7 113.4h.1M206.3 121.0h.1M195.6 130.1h.1M201.7 115.8h.1M202.6 118.7h.1M196.6 118.4h.1M200.2 123.0h.1M193.7 121.4h.1M201.7 114.2h.1M204.3 115.6h.1M203.7 117.6h.1M210.3 113.6h.1M213.9 119.1h.1M212.4 115.4h.1M205.1 112.4h.1M211.1 110.4h.1M199.0 117.7h.1M204.8 117.7h.1M196.9 116.8h.1M206.3 120.7h.1M207.8 117.3h.1M202.0 114.9h.1M200.6 117.0h.1M206.5 114.0h.1M215.2 110.1h.1M208.1 114.8h.1M202.7 115.4h.1M212.2 113.5h.1M206.6 116.4h.1M207.8 118.0h.1M212.9 111.7h.1M198.8 124.3h.1M210.7 115.3h.1M201.9 118.0h.1M210.9 112.0h.1M211.7 114.6h.1M201.4 115.6h.1M191.6 120.6h.1M196.0 116.2h.1M198.4 118.7h.1M207.6 115.9h.1M204.6 118.0h.1M212.6 116.9h.1M212.4 114.4h.1M205.5 113.7h.1M206.9 112.6h.1M206.2 113.6h.1M201.5 121.9h.1M204.3 119.6h.1M202.1 109.8h.1M211.9 114.1h.1M199.8 121.2h.1M197.0 115.3h.1M210.0 112.5h.1M209.9 114.1h.1M202.3 117.2h.1M200.7 121.5h.1M209.7 115.5h.1M207.0 118.0h.1M213.1 108.4h.1M209.3 118.9h.1M201.7 117.1h.1M201.5 121.9h.1M197.0 120.5h.1M210.8 117.3h.1M200.8 115.5h.1M191.5 115.4h.1M209.7 111.6h.1M194.2 117.8h.1M195.0 120.4h.1M198.5 121.5h.1M202.8 111.4h.1M199.1 115.2h.1M198.7 122.5h.1M197.8 119.4h.1M200.2 119.7h.1M195.4 112.5h.1M206.4 121.6h.1M195.6 117.3h.1M200.6 113.7h.1M209.0 115.6h.1M195.6 117.6h.1M211.1 112.2h.1M200.6 114.2h.1M204.4 114.3h.1M208.6 112.3h.1M195.2 120.3h.1M185.5 117.1h.1M205.1 117.3h.1M200.2 115.7h.1M206.5 130.4h.1M198.9 117.0h.1M200.9 119.4h.1M203.6 118.8h.1M212.8 113.5h.1M201.9 118.5h.1M215.4 112.6h.1M213.1 119.1h.1M187.9 116.4h.1M197.9 119.5h.1M211.1 115.2h.1M204.4 124.9h.1M205.5 124.5h.1M198.4 124.2h.1M200.6 108.0h.1M198.8 115.9h.1M203.3 119.7h.1M207.4 117.8h.1M199.3 124.5h.1M210.3 115.3h.1M200.3 117.2h.1M202.2 114.3h.1M203.5 114.1h.1M207.2 113.3h.1M206.3 117.3h.1M204.5 118.5h.1M197.7 128.0h.1M199.6 120.4h.1M203.6 115.0h.1M213.4 118.7h.1M202.0 119.2h.1M207.4 121.9h.1M209.3 114.7h.1M202.1 112.5h.1M205.0 119.7h.1M201.3 119.8h.1M204.3 114.7h.1M196.6 122.6h.1M218.0 115.5h.1M197.4 114.1h.1M205.0 118.9h.1M214.1 114.9h.1M204.3 118.0h.1M201.5 116.0h.1M209.5 108.6h.1M202.9 119.0h.1M194.1 118.2h.1M212.2 116.2h.1M207.6 118.5h.1M204.8 117.8h.1M198.9 116.9h.1M214.1 109.5h.1M202.6 112.0h.1M200.5 114.4h.1M196.6 119.2h.1M198.2 119.9h.1M202.6 108.7h.1M202.8 118.3h.1M204.7 121.1h.1M204.5 109.8h.1M212.1 111.0h.1M203.0 118.0h.1M198.5 118.2h.1M212.1 108.2h.1M194.1 117.1h.1M202.6 111.9h.1M190.4 123.2h.1M205.8 111.0h.1M206.8 115.7h.1M204.5 111.3h.1M202.3 118.8h.1M193.6 114.8h.1M209.1 123.2h.1M207.3 115.5h.1M197.4 116.5h.1M202.1 118.7h.1M202.1 126.7h.1M211.1 106.4h.1M196.9 118.2h.1M209.2 117.0h.1M187.9 113.8h.1M211.3 117.2h.1M218.2 116.5h.1M206.2 122.0h.1M201.0 115.1h.1M197.8 118.9h.1M206.1 119.8h.1M211.8 117.2h.1M210.6 114.1h.1M198.1 120.8h.1M209.4 120.6h.1M202.6 115.0h.1M201.5 118.5h.1M203.3 116.0h.1M205.0 115.2h.1M205.5 113.9h.1M194.8 117.4h.1M214.4 111.0h.1M208.8 120.7h.1M200.5 118.4h.1M190.5 121.8h.1M212.4 115.4h.1M192.2 116.9h.1M199.3 118.0h.1M205.2 114.7h.1M201.8 113.8h.1M206.9 116.7h.1M205.6 114.2h.1M206.4 114.8h.1M205.3 115.6h.1M199.8 113.2h.1M192.9 113.7h.1M206.2 128.9h.1M194.2 115.6h.1M203.5 130.7h.1M202.4 112.3h.1M206.0 124.3h.1M187.6 115.6h.1M210.7 110.5h.1M203.0 114.3h.1M208.0 109.9h.1M205.4 117.1h.1M206.8 117.6h.1M204.5 109.4h.1M201.7 113.3h.1M206.6 115.0h.1M204.5 120.8h.1M203.0 123.4h.1M208.4 109.7h.1M200.3 122.2h.1M200.7 122.0h.1M200.4 116.9h.1M209.5 109.1h.1M204.0 114.7h.1M204.6 123.2h.1M206.4 110.6h.1M209.1 113.6h.1M204.5 121.0h.1M201.8 120.8h.1M204.6 112.8h.1M201.8 111.6h.1M210.3 115.7h.1M209.1 111.0h.1M208.4 110.8h.1M205.2 116.2h.1M200.2 118.6h.1M203.8 113.1h.1M199.4 112.4h.1M211.4 115.4h.1M201.5 119.8h.1M198.7 113.1h.1M205.6 122.4h.1M205.3 116.8h.1M213.6 108.2h.1M221.1 108.3h.1M203.2 111.4h.1M196.7 117.2h.1M217.5 109.7h.1M200.1 118.5h.1M197.8 116.9h.1M208.3 106.9h.1M201.9 115.8h.1M200.7 116.8h.1M193.3 117.2h.1M200.6 113.2h.1M210.8 122.9h.1M208.2 112.1h.1M211.7 116.8h.1M198.9 120.1h.1M200.3 119.6h.1M208.8 120.0h.1M197.6 117.5h.1M203.6 111.7h.1M206.0 118.8h.1M195.7 116.2h.1M197.3 113.0h.1M197.5 123.4h.1M199.8 115.9h.1M209.2 119.4h.1M211.6 106.5h.1M207.9 108.7h.1M200.0 115.8h.1M200.3 125.2h.1M202.6 121.5h.1M202.6 116.6h.1M206.5 117.7h.1M206.5 109.1h.1M206.5 117.2h.1M207.0 115.6h.1M205.9 110.9h.1M210.1 110.3h.1M211.6 118.8h.1M203.2 115.5h.1M208.0 114.4h.1M196.8 119.2h.1M196.6 116.4h.1M213.8 117.5h.1M201.0 116.9h.1M199.9 117.4h.1M195.3 121.2h.1M203.7 114.1h.1M200.1 127.9h.1M201.1 115.3h.1M200.3 115.4h.1M211.1 117.6h.1M206.0 117.5h.1M197.1 108.4h.1M212.2 117.5h.1M204.8 117.4h.1M204.7 116.4h.1M202.1 108.1h.1M206.8 116.1h.1M209.2 116.6h.1M202.0 119.4h.1M204.7 114.6h.1M201.5 115.4h.1M201.9 115.2h.1M209.2 127.0h.1M203.0 121.2h.1M192.4 106.3h.1M200.9 116.6h.1M199.4 112.1h.1M198.7 115.7h.1M204.5 115.1h.1M196.8 116.7h.1M212.2 111.1h.1M204.0 120.5h.1M199.0 115.4h.1M220.1 117.8h.1M200.6 117.9h.1M204.2 117.1h.1M206.3 114.8h.1M191.0 115.6h.1M204.5 111.0h.1M201.8 123.0h.1M205.0 113.7h.1M204.4 120.6h.1M193.8 113.8h.1M199.8 115.7h.1M203.1 114.4h.1M204.2 116.8h.1M197.0 115.6h.1M196.5 119.3h.1M205.1 118.9h.1M198.6 115.6h.1M191.0 119.5h.1M194.4 120.1h.1M209.7 117.0h.1M207.2 116.7h.1M205.7 119.9h.1M210.8 123.0h.1M202.1 120.3h.1M208.5 117.2h.1M205.1 111.2h.1M209.8 111.7h.1M199.9 114.0h.1M206.8 112.0h.1M206.2 118.3h.1M204.2 115.1h.1M207.0 121.1h.1M201.0 113.0h.1M200.2 113.9h.1M202.2 116.3h.1M190.5 125.4h.1M199.0 115.9h.1M192.5 111.3h.1M197.8 118.8h.1M208.4 108.3h.1M204.9 122.3h.1M202.0 120.6h.1M205.4 112.5h.1M209.3 112.9h.1M205.6 114.5h.1M202.4 117.5h.1M211.1 108.2h.1M197.3 118.4h.1M209.1 114.6h.1M202.5 118.9h.1M212.6 111.0h.1M194.5 117.5h.1M208.0 110.4h.1M210.0 118.9h.1M208.1 112.2h.1M196.2 120.9h.1M205.1 119.0h.1M195.9 106.6h.1M210.0 119.1h.1M202.0 116.9h.1M206.2 119.0h.1M202.5 114.8h.1M198.0 121.9h.1M205.5 113.9h.1M196.4 116.2h.1M196.3 116.5h.1M200.5 119.3h.1M197.8 110.7h.1M200.2 111.9h.1M207.8 114.8h.1M194.1 115.3h.1M203.4 116.5h.1M193.1 118.5h.1M205.3 120.1h.1M209.8 114.7h.1M196.2 116.8h.1M207.3 112.1h.1M210.8 111.2h.1M197.2 121.3h.1M203.0 118.0h.1M201.9 117.1h.1M200.3 124.9h.1M207.3 115.3h.1M206.3 119.3h.1M200.6 118.0h.1M204.8 114.1h.1M199.2 116.8h.1M201.9 115.4h.1M192.5 119.4h.1M207.3 116.0h.1M213.3 117.8h.1M201.6 114.4h.1M206.4 114.5h.1M194.4 119.2h.1M201.9 116.1h.1M207.1 116.6h.1M215.1 111.1h.1M203.0 117.9h.1M201.1 115.1h.1M213.5 108.6h.1M205.6 109.2h.1M205.5 108.5h.1M197.0 122.6h.1M212.4 115.1h.1M188.1 124.1h.1M205.0 111.9h.1M201.6 111.8h.1M203.1 116.4h.1M204.3 119.6h.1M199.9 108.7h.1M197.0 113.1h.1M201.5 115.3h.1M203.4 122.1h.1M203.7 112.3h.1M201.9 113.5h.1M202.2 119.2h.1M197.2 120.8h.1M213.7 120.3h.1M212.8 114.9h.1M195.9 126.3h.1M203.3 117.6h.1M201.6 113.3h.1M207.1 110.3h.1M195.8 120.5h.1M201.5 113.8h.1M206.4 121.6h.1M202.0 116.4h.1M206.8 119.6h.1M209.5 117.9h.1M199.8 119.6h.1M203.6 109.9h.1M210.6 117.3h.1M211.4 114.6h.1M207.7 115.4h.1M204.5 120.0h.1M203.9 118.9h.1M203.4 121.5h.1M207.3 109.2h.1M213.0 116.2h.1M200.7 114.8h.1M214.9 114.4h.1M206.5 118.3h.1M200.2 124.3h.1M215.5 110.8h.1M210.0 108.7h.1M201.7 117.3h.1M203.9 118.8h.1M205.9 117.5h.1M202.8 118.0h.1M200.5 125.1h.1M204.0 121.4h.1M204.2 115.9h.1M202.6 111.8h.1M215.4 115.6h.1M204.3 114.6h.1M210.9 113.7h.1M201.0 115.1h.1M212.3 115.8h.1M202.8 114.3h.1M210.9 116.1h.1M201.7 120.5h.1M208.6 111.6h.1M210.1 119.4h.1M202.2 111.7h.1M209.8 113.9h.1M202.5 115.7h.1M202.1 120.2h.1M197.4 120.1h.1M210.2 119.3h.1M207.7 116.7h.1M202.5 116.4h.1M198.7 124.3h.1M203.0 112.8h.1M208.3 121.5h.1M205.2 115.0h.1M197.3 120.6h.1M202.3 114.3h.1M207.0 110.8h.1M207.8 106.1h.1M200.2 111.8h.1M202.3 120.0h.1M196.3 123.6h.1M199.8 115.6h.1M209.2 112.5h.1M211.8 113.9h.1M203.1 113.0h.1M210.1 114.9h.1M200.9 113.5h.1M200.1 117.0h.1M199.6 120.6h.1M203.4 114.2h.1M206.2 121.6h.1M192.0 120.6h.1M209.7 115.8h.1M208.3 109.5h.1M199.5 121.5h.1M203.1 117.0h.1M207.2 117.2h.1M206.2 114.1h.1M202.0 122.1h.1M200.9 111.6h.1M201.7 120.5h.1M213.7 114.9h.1M200.2 119.7h.1M205.4 120.8h.1M206.6 118.9h.1M206.5 117.6h.1M198.6 117.1h.1M212.6 119.7h.1M209.1 116.9h.1M203.1 118.1h.1M201.9 121.2h.1M202.0 114.0h.1M194.7 124.7h.1M199.5 114.2h.1M206.0 123.1h.1M207.4 114.5h.1M206.9 112.7h.1M202.3 117.0h.1M203.8 119.6h.1M206.7 123.2h.1M208.4 114.4h.1M205.2 113.0h.1M200.3 116.0h.1M209.4 112.6h.1M195.1 114.6h.1M197.1 117.4h.1M202.1 112.4h.1M199.3 116.0h.1M205.9 118.5h.1M211.1 113.9h.1M207.2 116.1h.1M197.7 115.5h.1M215.9 113.2h.1M212.9 117.7h.1M213.0 113.8h.1M208.9 114.2h.1M197.6 113.4h.1M206.2 109.8h.1M205.8 112.7h.1M205.8 110.8h.1M208.5 114.6h.1M195.3 112.9h.1M204.2 110.1h.1M205.6 118.0h.1M200.2 122.8h.1M211.8 116.0h.1M206.3 117.8h.1M202.4 122.0h.1M200.9 107.5h.1M203.9 118.2h.1M208.4 111.3h.1M211.5 111.6h.1M207.3 118.6h.1M204.8 120.7h.1M201.1 125.1h.1M206.5 114.3h.1M218.2 113.3h.1M194.9 124.1h.1M212.4 112.4h.1M198.4 122.2h.1M204.1 112.8h.1M201.2 117.4h.1M209.2 121.4h.1M200.4 123.3h.1M195.5 121.2h.1M203.1 118.4h.1M201.4 114.3h.1M205.4 120.6h.1M191.6 119.5h.1M201.6 112.9h.1M196.4 120.2h.1M206.9 118.4h.1M192.9 113.1h.1M200.5 115.6h.1M213.6 112.9h.1M204.5 120.3h.1M213.0 115.9h.1M205.7 123.6h.1M201.6 110.1h.1M199.7 116.3h.1M211.1 116.1h.1M210.5 115.5h.1M204.1 114.3h.1M197.0 120.1h.1M205.8 118.3h.1M200.9 115.6h.1M205.9 118.4h.1M214.8 110.7h.1M209.3 118.8h.1M202.4 117.4h.1M203.5 122.6h.1M217.9 114.6h.1M202.4 120.6h.1M206.6 115.2h.1M208.0 119.0h.1M201.7 120.4h.1M191.5 114.4h.1M202.1 117.6h.1M195.8 124.1h.1M201.8 117.6h.1M203.6 119.5h.1M200.7 120.2h.1M199.3 111.8h.1M206.7 116.5h.1M208.7 107.9h.1M204.5 113.9h.1M202.8 115.3h.1M201.8 114.4h.1M209.5 108.6h.1M194.6 120.0h.1M214.9 111.1h.1M198.9 113.1h.1M198.2 122.7h.1M207.6 119.2h.1M205.8 117.0h.1M200.6 113.5h.1M207.3 125.4h.1M201.8 121.9h.1M200.0 117.6h.1M213.2 114.2h.1M207.3 113.6h.1M214.2 109.4h.1M206.9 114.9h.1M204.9 117.7h.1M211.1 118.3h.1M209.7 116.7h.1M198.0 123.1h.1M212.3 116.5h.1M208.2 114.7h.1M195.9 122.2h.1M199.8 124.9h.1M207.6 115.6h.1M200.5 117.7h.1M198.3 116.4h.1M212.6 113.4h.1M214.0 113.9h.1M206.1 112.4h.1M202.2 115.2h.1M196.2 125.8h.1M207.1 115.5h.1M197.8 118.1h.1M198.0 114.1h.1M202.8 125.2h.1M194.2 120.9h.1M200.8 105.9h.1M196.0 117.8h.1M204.2 113.5h.1M213.6 116.4h.1M200.3 110.9h.1M204.8 113.7h.1M209.5 111.2h.1M210.4 113.3h.1M204.9 115.3h.1M207.3 120.3h.1M200.8 113.7h.1M214.3 117.9h.1M214.4 117.9h.1M204.6 122.8h.1M200.1 115.7h.1M201.6 119.7h.1M199.1 116.9h.1M199.1 116.7h.1M210.0 119.5h.1M202.6 126.8h.1M199.9 119.2h.1M201.2 108.5h.1M197.2 122.9h.1M194.6 130.1h.1M203.1 117.8h.1M210.7 115.1h.1M200.3 115.0h.1M198.6 119.9h.1M201.2 119.2h.1M195.5 116.8h.1M215.2 115.4h.1M203.2 121.3h.1M205.3 122.2h.1M197.4 121.0h.1M197.9 120.6h.1M217.4 119.5h.1M199.0 119.3h.1M206.3 113.2h.1M205.1 112.1h.1M209.1 118.9h.1M202.9 119.5h.1M217.0 113.0h.1M193.4 120.2h.1M201.3 114.1h.1M208.8 119.4h.1M207.1 122.2h.1M200.3 115.7h.1M188.6 121.3h.1M202.6 117.1h.1M198.4 118.7h.1M209.6 112.8h.1M206.9 115.3h.1M202.9 117.2h.1M212.1 116.7h.1M207.6 116.3h.1M191.8 123.0h.1M203.6 117.0h.1M200.9 111.2h.1M212.0 121.9h.1M212.5 107.4h.1M206.8 111.3h.1M202.7 114.8h.1M200.3 114.3h.1M201.1 120.2h.1M212.7 118.2h.1M203.7 116.0h.1M202.4 116.8h.1M200.3 116.7h.1M208.4 114.6h.1M199.2 117.1h.1M204.2 116.2h.1M202.3 119.7h.1M203.5 112.7h.1M206.9 113.1h.1M208.0 118.8h.1M206.4 117.2h.1M196.2 117.5h.1M204.4 118.9h.1M197.5 117.4h.1M195.2 119.2h.1M204.2 117.0h.1M212.9 117.4h.1M202.6 114.6h.1M201.2 120.2h.1M208.8 113.5h.1M203.1 115.0h.1M207.5 116.5h.1M199.7 114.0h.1M211.0 109.4h.1M193.6 106.8h.1M215.0 111.9h.1M208.5 117.7h.1M208.4 120.0h.1M201.1 117.1h.1M209.2 117.5h.1M199.5 114.6h.1M195.6 119.4h.1M200.7 111.2h.1M200.6 118.6h.1M204.7 115.5h.1M204.6 118.9h.1M197.0 114.9h.1M209.1 118.2h.1M195.9 115.5h.1M211.8 117.7h.1M202.9 120.8h.1M211.4 120.4h.1M195.9 113.3h.1M200.9 117.0h.1M201.7 118.0h.1M212.0 119.0h.1M209.3 115.3h.1M213.0 116.3h.1M205.1 116.2h.1M193.4 127.4h.1M203.6 120.1h.1M216.4 113.0h.1M197.2 122.1h.1M205.1 112.6h.1M209.1 115.4h.1M198.4 107.9h.1M198.1 119.4h.1M197.9 121.7h.1M216.1 115.0h.1M205.0 116.0h.1M208.5 115.6h.1M209.5 120.8h.1M208.5 111.7h.1M207.4 114.7h.1M205.5 120.0h.1M200.0 118.2h.1M212.0 111.5h.1M202.6 119.7h.1M202.4 120.9h.1M198.0 112.0h.1M205.8 115.6h.1M205.5 120.0h.1M209.6 113.9h.1M201.5 109.5h.1M198.2 118.8h.1M204.9 110.5h.1M208.1 115.4h.1M209.9 113.8h.1M209.1 111.0h.1M193.3 115.8h.1M207.6 117.3h.1M193.1 119.6h.1M207.5 122.3h.1M208.1 117.6h.1M194.8 120.1h.1M192.6 117.9h.1M201.6 113.3h.1M198.0 117.3h.1M207.0 113.3h.1M205.4 119.0h.1M203.6 124.1h.1M201.9 114.1h.1M193.0 123.2h.1M207.5 115.0h.1M205.5 115.7h.1M208.6 115.4h.1M205.0 116.0h.1M198.7 109.1h.1M206.8 111.0h.1M205.9 118.6h.1M214.3 111.3h.1M204.5 120.1h.1M199.9 115.2h.1M206.2 124.1h.1M209.8 118.9h.1M198.3 120.4h.1M210.1 110.2h.1M203.8 115.8h.1M207.3 109.0h.1M207.7 115.7h.1M202.2 108.7h.1M192.0 117.1h.1M207.4 117.4h.1M207.9 109.0h.1M204.8 121.6h.1M195.0 121.1h.1M199.6 119.7h.1M204.3 110.1h.1M197.8 122.9h.1M203.1 121.5h.1M205.6 119.6h.1M201.5 117.9h.1M201.6 120.6h.1M200.4 121.6h.1M212.6 109.9h.1M202.7 118.9h.1M213.7 118.8h.1M204.2 109.8h.1M208.4 113.2h.1M204.8 117.9h.1M195.7 122.5h.1M208.9 117.7h.1M207.1 117.2h.1M195.8 116.4h.1M208.3 114.3h.1M203.8 118.0h.1M204.2 117.5h.1M206.4 116.0h.1M197.5 117.0h.1M209.1 112.7h.1M206.3 117.2h.1M198.7 106.8h.1M203.6 113.6h.1M200.1 121.0h.1M199.4 118.9h.1M204.3 117.2h.1M214.9 106.4h.1M209.1 114.8h.1M202.1 114.4h.1M203.9 116.7h.1M198.5 124.1h.1M199.5 117.0h.1M196.5 118.8h.1M205.7 120.3h.1M209.2 113.4h.1M212.7 114.1h.1M212.4 121.2h.1M201.4 112.9h.1M206.7 121.5h.1M205.9 120.3h.1M207.0 119.3h.1M211.1 113.8h.1M195.7 117.9h.1M199.2 113.0h.1M202.7 119.6h.1M193.3 113.1h.1M208.2 112.1h.1M201.5 122.3h.1M210.0 116.5h.1M206.8 117.4h.1M195.9 119.1h.1M206.2 115.6h.1M208.1 119.0h.1M204.0 115.6h.1M197.0 122.5h.1M200.5 118.5h.1M212.3 117.6h.1M196.5 117.9h.1M199.7 111.1h.1M199.2 119.9h.1M205.6 115.4h.1M204.7 111.9h.1M199.4 116.9h.1M208.1 114.3h.1M202.7 118.1h.1M211.9 109.9h.1M206.7 116.6h.1M203.3 117.6h.1M192.5 119.2h.1M202.3 112.1h.1M208.4 115.1h.1M201.7 120.0h.1M198.5 115.0h.1M208.3 118.9h.1M215.0 112.3h.1M195.5 112.7h.1M196.9 118.5h.1M202.3 114.3h.1M198.0 115.2h.1M201.6 121.6h.1M207.2 121.1h.1M208.3 118.5h.1M210.3 116.8h.1M212.3 119.0h.1M213.9 115.1h.1M199.3 127.3h.1M202.1 119.0h.1M201.5 114.4h.1M206.1 111.7h.1M202.8 122.2h.1M204.4 119.6h.1M207.3 117.3h.1M204.3 118.8h.1M198.2 120.1h.1M197.6 115.0h.1M200.4 112.2h.1M192.6 120.6h.1M206.5 118.5h.1M216.1 114.5h.1M207.9 112.8h.1M207.6 111.3h.1M214.7 110.4h.1M201.3 120.0h.1M191.3 124.6h.1M198.3 118.6h.1M209.2 115.9h.1M208.9 113.5h.1M207.0 107.4h.1M212.1 112.1h.1M198.8 117.8h.1M213.2 111.7h.1M203.5 115.2h.1M198.4 112.7h.1M207.0 118.6h.1M199.4 118.4h.1M206.2 117.5h.1M202.7 117.0h.1M205.2 112.1h.1M202.8 119.8h.1M200.5 122.4h.1M202.3 112.7h.1M202.0 111.7h.1M207.1 109.7h.1M203.7 115.7h.1M201.9 118.6h.1M205.2 114.1h.1M208.2 113.8h.1M208.7 120.6h.1M205.7 119.7h.1M196.1 120.5h.1M195.2 117.8h.1M199.2 114.6h.1M198.3 117.9h.1M207.2 111.3h.1M200.1 110.2h.1M199.7 109.4h.1M195.2 120.3h.1M208.5 112.3h.1M205.6 113.2h.1M209.6 122.0h.1M189.8 116.4h.1M200.0 115.6h.1M212.4 120.7h.1M203.5 119.1h.1M194.7 117.5h.1M202.0 116.4h.1M205.3 110.2h.1M197.8 126.2h.1M193.9 119.0h.1M207.7 117.6h.1M203.9 110.3h.1M201.0 111.2h.1M214.6 115.5h.1M207.7 116.5h.1M201.4 121.7h.1M208.6 117.9h.1M206.9 118.7h.1M202.0 118.6h.1M204.1 115.5h.1M207.2 124.0h.1M192.2 124.7h.1M201.2 121.8h.1M197.9 117.2h.1M209.4 115.0h.1M205.6 111.5h.1M197.2 124.5h.1M204.5 116.1h.1M195.8 114.4h.1M197.8 117.7h.1M203.0 114.4h.1M199.8 117.9h.1M210.2 109.7h.1M195.6 122.8h.1M195.6 116.8h.1M204.3 123.5h.1M192.1 108.0h.1M203.2 120.9h.1M204.4 113.3h.1M204.7 108.4h.1M208.2 121.3h.1M202.5 120.0h.1M197.7 123.6h.1M200.0 114.3h.1M199.3 110.7h.1M207.4 123.5h.1M195.6 117.7h.1M206.1 113.8h.1M194.8 119.9h.1M209.3 115.7h.1M197.6 116.8h.1M192.7 118.8h.1M210.5 119.3h.1M203.1 118.4h.1M200.7 117.8h.1M200.3 118.0h.1M200.7 118.0h.1M207.5 115.6h.1M196.3 120.2h.1M202.2 115.0h.1M206.8 112.7h.1M208.8 117.6h.1M199.7 114.8h.1M202.9 113.2h.1M208.9 106.7h.1M204.4 115.1h.1M197.4 120.4h.1M200.9 119.0h.1M201.2 116.1h.1M206.5 119.6h.1M209.2 115.3h.1M211.9 113.4h.1M196.0 111.1h.1M195.5 115.1h.1M193.6 120.1h.1M203.8 116.4h.1M204.9 115.9h.1M202.2 115.7h.1M203.8 112.2h.1M210.8 120.9h.1M203.8 125.4h.1M198.2 121.3h.1M194.5 121.0h.1M199.4 121.4h.1M204.2 120.1h.1M207.0 117.9h.1M202.1 123.1h.1M205.6 118.0h.1M211.6 113.8h.1M213.4 118.6h.1M204.1 110.9h.1M210.4 113.9h.1M204.2 117.0h.1M209.0 117.8h.1M193.4 116.4h.1M205.6 116.8h.1M208.1 117.8h.1M212.7 111.7h.1M210.9 116.4h.1M205.3 118.9h.1M201.7 119.8h.1M202.4 119.7h.1M199.4 122.1h.1M195.1 116.0h.1M203.4 117.6h.1M199.2 116.1h.1M205.1 120.3h.1M210.9 113.1h.1M203.2 115.5h.1M195.1 116.8h.1M210.0 109.9h.1M219.6 116.8h.1M213.3 115.1h.1M190.7 121.2h.1M212.5 112.4h.1M210.7 117.9h.1M208.0 118.5h.1M206.9 118.4h.1M210.3 116.7h.1M207.2 117.5h.1M204.4 113.0h.1M193.6 114.9h.1M196.7 112.4h.1M207.5 114.4h.1M210.7 127.1h.1M208.0 113.8h.1M205.8 115.3h.1M205.2 124.3h.1M212.6 119.5h.1M205.2 123.2h.1M208.3 119.0h.1M197.1 115.7h.1M204.6 115.5h.1M200.7 109.5h.1M199.5 117.1h.1M205.4 112.0h.1M202.9 123.8h.1M204.5 108.8h.1M202.6 116.9h.1M210.7 115.8h.1M211.3 116.2h.1M210.2 120.4h.1M212.3 115.4h.1M207.3 131.0h.1M196.8 118.9h.1M206.3 113.3h.1M208.3 114.9h.1M208.1 116.3h.1M198.4 121.9h.1M214.9 117.7h.1M205.2 109.5h.1M205.5 116.1h.1M199.2 110.2h.1M206.2 119.8h.1M207.6 124.6h.1M193.0 120.4h.1M203.5 122.2h.1M203.5 112.9h.1M203.3 118.4h.1M199.5 114.5h.1M205.1 119.7h.1M202.4 118.8h.1M200.8 115.9h.1M204.7 120.1h.1M212.5 114.1h.1M206.2 123.7h.1M208.3 114.2h.1M206.0 110.5h.1M191.9 116.3h.1M199.7 112.3h.1M209.4 113.5h.1M204.2 116.8h.1M202.5 112.3h.1M214.5 106.4h.1M203.5 119.4h.1M202.5 116.5h.1M205.4 117.1h.1M201.8 121.2h.1M206.5 121.8h.1M204.2 108.7h.1M194.5 116.7h.1M206.2 109.7h.1M200.5 122.2h.1M205.5 113.4h.1M203.1 117.2h.1M201.3 115.9h.1M200.1 118.3h.1M212.5 120.3h.1M196.8 127.2h.1M203.0 111.3h.1M195.4 119.0h.1M205.0 113.8h.1M199.2 116.8h.1M205.1 118.9h.1M206.8 106.6h.1M200.4 118.4h.1M205.8 119.3h.1M195.4 124.6h.1M197.1 117.3h.1M201.1 115.3h.1M199.4 120.8h.1M208.1 117.0h.1M196.6 115.7h.1M203.4 118.2h.1M200.6 116.2h.1M218.3 113.5h.1M202.0 107.4h.1M199.5 123.9h.1M208.4 110.9h.1M208.1 116.3h.1M199.3 120.7h.1M200.3 116.2h.1M203.8 117.4h.1M201.3 118.3h.1M203.7 117.4h.1M205.9 113.6h.1M196.1 118.0h.1M210.5 116.4h.1M204.9 113.4h.1M197.4 113.2h.1M198.6 116.3h.1M195.2 118.1h.1M195.0 121.1h.1M203.6 109.8h.1M200.7 118.2h.1M205.8 119.2h.1M201.8 116.5h.1M202.4 119.0h.1M199.9 116.8h.1M204.5 115.1h.1M197.7 123.3h.1M206.5 112.4h.1M214.6 111.2h.1M198.9 116.3h.1M206.7 121.8h.1M211.3 117.0h.1M204.1 119.1h.1M199.4 114.8h.1M206.6 116.7h.1M205.0 112.3h.1M205.1 110.7h.1M208.8 115.5h.1M200.1 115.6h.1M219.0 125.4h.1M199.8 122.8h.1M187.7 124.6h.1M203.8 117.6h.1M198.4 112.7h.1M205.0 114.6h.1M206.5 120.1h.1M203.1 118.8h.1M204.7 117.3h.1M200.8 118.2h.1M206.1 116.4h.1M201.2 111.5h.1M197.8 124.0h.1M209.3 116.5h.1M205.3 115.7h.1M207.5 119.5h.1M202.3 118.1h.1M209.0 109.2h.1M198.5 115.5h.1M197.3 116.3h.1M199.1 116.1h.1M206.3 111.4h.1M204.3 121.9h.1M204.8 111.6h.1M200.4 121.9h.1M202.3 114.5h.1M208.0 112.8h.1M197.6 120.4h.1M203.8 114.0h.1M206.3 120.3h.1M209.7 115.7h.1M206.2 118.0h.1M195.6 124.9h.1M200.1 115.2h.1M199.2 113.9h.1M209.7 115.3h.1M200.5 110.2h.1M204.6 116.2h.1M198.0 117.5h.1M193.7 121.4h.1M197.0 120.1h.1M204.3 108.2h.1M197.6 115.4h.1M208.1 118.0h.1M207.2 122.4h.1M202.1 115.0h.1M193.4 114.9h.1M206.8 112.6h.1M198.9 121.4h.1M190.2 125.1h.1M210.8 108.0h.1M206.3 116.0h.1M208.7 114.2h.1M203.1 122.3h.1M200.5 119.0h.1M207.2 115.4h.1M208.5 117.6h.1M208.3 108.9h.1M198.0 119.0h.1M210.1 120.8h.1M203.8 113.7h.1M197.7 110.4h.1M201.0 119.5h.1M203.3 110.9h.1M203.2 116.9h.1M199.6 123.2h.1M206.1 120.4h.1M204.3 112.7h.1M209.6 119.6h.1M200.5 112.1h.1M208.2 113.4h.1M197.4 117.7h.1M206.7 113.0h.1M203.9 120.5h.1M207.8 109.6h.1M207.6 122.7h.1M208.8 115.1h.1M205.7 110.0h.1M200.5 115.3h.1M215.1 114.1h.1M198.4 124.4h.1M210.5 108.6h.1M202.6 110.3h.1M209.4 106.4h.1M213.9 110.2h.1M198.0 126.2h.1M206.7 117.3h.1M208.4 111.7h.1M208.5 114.4h.1M206.6 116.9h.1M211.3 109.9h.1M196.1 120.9h.1M216.6 115.8h.1M202.8 119.5h.1M197.1 118.5h.1M194.5 119.2h.1M207.7 122.4h.1M201.0 120.9h.1M211.1 110.9h.1M202.2 109.7h.1M198.9 119.4h.1M192.6 118.0h.1M207.7 121.3h.1M190.1 121.2h.1M200.4 108.4h.1M198.2 120.2h.1M203.6 119.4h.1M202.1 119.6h.1M198.4 114.0h.1M202.8 110.0h.1M210.5 114.1h.1M198.4 114.4h.1M198.4 118.3h.1M201.7 120.5h.1M197.4 117.8h.1M195.5 116.7h.1M211.1 114.5h.1M208.6 115.3h.1M197.8 114.5h.1M197.6 119.3h.1M205.0 127.9h.1M212.8 117.9h.1M198.4 118.3h.1M198.8 127.0h.1M199.8 122.1h.1M196.4 121.3h.1M197.0 116.3h.1M204.6 116.9h.1M203.4 116.4h.1M199.0 117.2h.1M203.3 113.0h.1M206.8 116.6h.1M199.6 122.7h.1M200.6 109.8h.1M210.6 113.6h.1M211.7 116.5h.1M198.9 122.1h.1M206.2 119.7h.1M203.9 122.7h.1M208.8 114.2h.1M195.5 118.3h.1M204.1 112.6h.1M202.7 122.8h.1M201.1 121.6h.1M198.6 113.9h.1M208.8 114.8h.1M204.9 120.4h.1M212.6 109.7h.1M206.9 116.8h.1M204.5 123.5h.1M202.4 114.6h.1M206.4 108.0h.1M205.7 112.6h.1M205.5 113.3h.1M206.5 115.0h.1M199.8 119.6h.1M207.8 109.4h.1M196.7 117.2h.1M201.6 122.3h.1M212.3 116.5h.1M209.7 114.0h.1M196.2 119.5h.1M194.1 125.2h.1M205.1 120.9h.1M200.2 111.0h.1M202.6 118.8h.1M202.5 114.9h.1M204.1 115.8h.1M211.3 109.7h.1M191.6 119.0h.1M205.1 110.2h.1M203.5 118.4h.1M205.5 117.4h.1M199.6 111.8h.1M208.9 114.1h.1M196.2 124.4h.1M217.8 114.0h.1M194.9 122.4h.1M205.5 121.1h.1M203.7 110.0h.1M202.8 115.1h.1M205.2 115.5h.1M206.7 111.1h.1M200.7 115.2h.1M205.9 109.3h.1M203.7 126.0h.1M193.8 122.9h.1M204.2 120.4h.1M204.0 117.6h.1M205.7 118.0h.1M197.1 117.6h.1M213.6 120.0h.1M199.0 113.9h.1M202.7 121.0h.1M208.7 113.2h.1M190.7 119.4h.1M194.6 123.4h.1M211.7 117.4h.1M206.9 118.1h.1M213.7 118.6h.1M211.5 110.3h.1M200.8 117.2h.1M191.5 118.2h.1M203.5 116.4h.1M217.4 112.7h.1M202.6 116.4h.1M201.8 111.4h.1M209.8 115.3h.1M205.6 116.3h.1M199.4 111.3h.1M202.1 119.1h.1M203.0 119.7h.1M199.3 116.4h.1M204.5 116.0h.1M204.6 122.1h.1M201.4 117.7h.1M200.1 119.6h.1M204.9 113.4h.1M198.1 113.1h.1M202.1 117.6h.1M200.9 116.8h.1M204.4 125.7h.1M210.1 124.3h.1M204.4 117.3h.1M214.3 115.7h.1M207.2 113.8h.1M200.7 120.4h.1M200.4 114.7h.1M195.5 119.6h.1M203.1 118.9h.1M198.9 112.8h.1M209.7 115.3h.1M207.9 111.1h.1M196.5 108.2h.1M205.3 120.2h.1M210.9 122.0h.1M193.7 114.5h.1M200.7 114.1h.1M202.5 113.7h.1M195.6 118.3h.1M204.3 113.4h.1M203.8 111.4h.1M201.8 115.7h.1M201.1 116.9h.1M196.7 112.9h.1M199.1 120.5h.1M198.4 114.1h.1M214.5 113.1h.1M201.5 113.6h.1M211.7 116.9h.1M205.1 122.6h.1M197.1 111.4h.1M209.7 116.9h.1M200.8 120.4h.1M203.1 124.5h.1M196.7 119.6h.1M209.0 118.9h.1M201.6 115.5h.1M201.2 119.9h.1M201.4 116.6h.1M209.2 114.9h.1M204.9 115.8h.1M203.7 107.8h.1M198.5 119.2h.1M200.1 115.0h.1M203.9 125.6h.1M199.4 113.8h.1M193.8 120.7h.1M203.3 113.3h.1M201.4 121.0h.1M209.2 116.8h.1M209.9 119.2h.1M201.1 120.3h.1M204.5 119.5h.1M205.1 124.7h.1M196.7 119.6h.1M197.7 127.2h.1M200.8 115.8h.1M203.5 116.5h.1M213.0 114.3h.1M205.0 120.5h.1M211.9 110.9h.1" stroke="#000" stroke-width="0.55" stroke-linecap="round" fill="none" opacity="1"/>
<path d="M205.1 112.0h.1M206.3 126.2h.1M199.9 118.6h.1M210.6 120.1h.1M208.2 115.9h.1M201.2 117.9h.1M213.0 109.4h.1M200.0 128.3h.1M202.8 113.7h.1M204.7 117.9h.1M202.4 122.2h.1M208.1 110.5h.1M204.4 127.0h.1M194.8 120.7h.1M195.9 124.5h.1M197.9 118.8h.1M200.6 122.4h.1M195.0 113.8h.1M204.4 126.3h.1M200.0 122.3h.1M204.8 119.6h.1M203.1 116.5h.1M201.7 126.1h.1M206.0 125.6h.1M198.6 121.0h.1M199.2 113.3h.1M208.8 116.7h.1M204.7 111.6h.1M201.6 119.1h.1M200.8 125.3h.1M206.0 119.5h.1M204.6 116.7h.1M198.7 118.9h.1M196.8 119.9h.1M202.5 125.5h.1M200.5 132.8h.1M199.9 120.8h.1M203.0 116.2h.1M202.8 110.1h.1M210.2 114.8h.1M203.0 109.8h.1M206.7 111.9h.1M211.7 112.0h.1M198.6 123.9h.1M211.2 107.2h.1M192.6 130.2h.1M205.9 110.8h.1M200.4 123.7h.1M200.7 127.9h.1M198.7 121.3h.1M210.4 125.7h.1M204.6 122.2h.1M201.1 119.5h.1M199.6 122.2h.1M208.4 112.9h.1M195.9 121.2h.1M215.6 117.9h.1M204.0 119.0h.1M192.7 117.9h.1M212.6 106.2h.1M214.4 110.6h.1M215.9 130.6h.1M212.5 116.7h.1M206.8 115.7h.1M200.4 121.1h.1M183.5 126.6h.1M201.2 114.1h.1M201.4 123.2h.1M198.3 122.3h.1M194.8 121.7h.1M196.0 125.0h.1M196.7 124.1h.1M190.7 123.0h.1M210.0 113.5h.1M203.5 114.7h.1M206.1 122.8h.1M210.3 124.9h.1M211.3 113.8h.1M203.9 122.1h.1M204.3 112.1h.1M215.8 130.3h.1M203.5 105.4h.1M214.5 116.0h.1M217.3 110.8h.1M206.4 122.9h.1M194.2 119.6h.1M206.2 122.3h.1M188.3 124.6h.1M213.1 109.0h.1M205.6 123.8h.1M197.1 112.2h.1M204.8 116.7h.1M202.5 118.4h.1M202.4 121.2h.1M199.8 119.9h.1M199.6 115.5h.1M205.3 114.5h.1M206.5 118.5h.1M209.9 121.1h.1M190.7 121.9h.1M207.2 119.1h.1M203.4 125.1h.1M207.3 111.3h.1M203.7 124.6h.1M204.1 112.3h.1M208.0 121.6h.1M210.3 118.8h.1M203.8 123.8h.1M196.3 130.1h.1M205.6 120.0h.1M207.9 122.6h.1M189.4 127.3h.1M202.5 115.3h.1M208.8 123.2h.1M205.5 115.5h.1M203.8 114.1h.1M218.8 112.5h.1M208.6 127.0h.1M197.8 117.7h.1M189.2 121.1h.1M194.9 122.0h.1M201.7 119.8h.1M203.4 116.8h.1M203.8 118.9h.1M198.7 118.7h.1M199.6 113.2h.1M203.0 109.4h.1M206.4 118.5h.1M204.2 125.4h.1M209.1 115.8h.1M205.3 125.3h.1M202.1 121.6h.1M205.7 113.3h.1M204.9 116.9h.1M201.5 122.1h.1M207.2 113.7h.1M201.5 118.7h.1M197.2 122.7h.1M201.8 115.9h.1M209.0 117.7h.1M195.9 120.4h.1M202.0 121.2h.1M217.2 119.3h.1M212.1 116.5h.1M206.1 121.4h.1M202.5 120.8h.1M200.3 123.7h.1M197.5 129.8h.1M180.0 116.9h.1M202.3 121.5h.1M204.0 110.5h.1M205.8 114.1h.1M204.4 116.9h.1M201.4 111.6h.1M195.0 118.2h.1M196.5 122.1h.1M194.4 122.4h.1M206.6 114.6h.1M197.1 118.8h.1M208.0 125.8h.1M216.5 117.0h.1M207.0 119.6h.1M203.0 113.7h.1M200.9 125.9h.1M211.7 114.3h.1M193.0 131.7h.1M203.3 121.8h.1M202.0 109.9h.1M205.1 113.8h.1M201.3 116.4h.1M201.5 132.6h.1M212.5 106.9h.1M193.5 118.7h.1M199.0 124.5h.1M212.8 113.4h.1M206.7 117.5h.1M190.8 128.4h.1M214.0 112.6h.1M207.0 115.8h.1M202.5 117.1h.1M202.2 119.8h.1M199.3 121.7h.1M195.0 125.5h.1M197.2 110.7h.1M208.3 116.4h.1M199.8 125.0h.1M202.9 129.9h.1M205.8 111.1h.1M200.0 116.5h.1M201.3 128.8h.1M220.0 125.0h.1M205.9 121.7h.1M204.1 107.3h.1M211.8 128.2h.1M199.8 119.9h.1M198.7 119.2h.1M197.7 114.5h.1M210.6 107.3h.1M209.5 111.9h.1M201.5 108.9h.1M207.2 113.1h.1M218.6 111.0h.1M204.7 122.6h.1M197.0 116.2h.1M196.5 123.8h.1M205.0 124.5h.1M194.2 116.3h.1M202.4 117.1h.1M205.1 125.0h.1M203.9 114.9h.1M202.9 115.6h.1M199.0 130.3h.1M207.3 128.3h.1M201.8 119.3h.1M195.2 122.4h.1M207.6 122.1h.1M195.9 121.5h.1M208.9 115.6h.1M207.5 115.7h.1M203.1 116.3h.1M193.9 116.9h.1M204.2 117.6h.1M203.1 116.3h.1M208.6 117.3h.1M205.6 116.3h.1M211.2 117.1h.1M205.8 130.7h.1M205.8 110.4h.1M199.0 122.0h.1M194.9 113.2h.1M202.4 111.1h.1M209.9 120.3h.1M201.2 126.3h.1M198.9 113.9h.1M208.8 118.3h.1M201.7 125.3h.1M202.3 123.1h.1M204.5 125.3h.1M206.6 116.1h.1M212.5 115.5h.1M213.9 110.2h.1M203.5 107.3h.1M206.4 125.9h.1M200.7 122.5h.1M201.7 127.4h.1M205.2 120.9h.1M210.0 109.7h.1M207.5 119.2h.1M211.2 117.8h.1M206.9 118.3h.1M197.0 118.0h.1M202.0 112.5h.1M202.9 116.9h.1M214.5 115.6h.1M203.9 119.7h.1M207.5 109.8h.1M192.3 130.3h.1M197.9 115.7h.1M210.4 119.4h.1M198.1 124.5h.1M196.1 129.7h.1M201.2 121.6h.1M203.1 129.7h.1M197.2 120.2h.1M216.5 105.6h.1M200.1 121.5h.1M201.8 122.1h.1M210.4 111.8h.1M199.1 127.3h.1M206.5 124.0h.1M199.0 115.6h.1M196.1 119.8h.1M196.0 124.7h.1M198.9 123.1h.1M193.4 126.3h.1M207.3 123.6h.1M204.9 131.4h.1M209.2 118.4h.1M213.2 115.3h.1M204.1 128.0h.1M200.3 120.0h.1M204.7 120.1h.1M201.7 125.1h.1M216.6 114.4h.1M194.0 118.9h.1M194.6 114.4h.1M196.7 126.5h.1M204.2 123.0h.1M202.5 125.0h.1M200.7 127.0h.1M208.7 119.4h.1M194.1 115.5h.1M204.8 113.5h.1M202.1 118.8h.1M211.8 113.9h.1M204.0 116.7h.1M198.5 122.8h.1M209.2 110.4h.1M212.5 129.4h.1M204.2 122.0h.1M196.7 118.6h.1M205.1 118.5h.1M211.8 112.8h.1M201.7 122.6h.1M202.8 118.2h.1M202.5 121.7h.1M191.2 135.9h.1M207.9 112.7h.1M197.6 114.5h.1M205.9 108.9h.1M218.5 113.2h.1M194.5 132.3h.1M203.2 122.1h.1M202.0 118.3h.1M216.0 106.1h.1M204.8 115.1h.1M201.1 119.5h.1M191.8 125.2h.1M204.5 122.1h.1M199.5 124.2h.1M200.3 124.2h.1M211.6 120.9h.1M194.3 121.7h.1M196.8 131.2h.1M204.5 112.3h.1M193.7 128.5h.1M197.0 122.9h.1M201.2 119.1h.1M200.5 120.0h.1M213.2 112.6h.1M206.4 121.3h.1M199.1 114.5h.1M197.7 123.7h.1M204.2 124.7h.1M205.5 119.5h.1M203.3 120.6h.1M203.5 122.9h.1M197.9 126.3h.1M213.3 116.8h.1M206.8 112.4h.1M203.9 111.6h.1M209.4 118.3h.1M209.9 124.0h.1M198.7 124.7h.1M212.8 129.2h.1M202.6 122.5h.1M199.3 123.7h.1M207.0 126.4h.1M202.3 119.9h.1M206.3 117.8h.1M192.6 119.0h.1M207.6 118.6h.1M205.9 110.8h.1M206.9 121.5h.1M213.4 121.6h.1M199.4 116.3h.1M196.2 118.3h.1M202.6 126.2h.1M213.5 117.6h.1M207.0 117.7h.1M195.2 124.0h.1M198.7 111.8h.1M198.0 128.5h.1M196.0 128.2h.1M194.7 120.9h.1M206.4 116.6h.1M197.2 120.7h.1M213.7 120.7h.1M204.5 122.2h.1M210.6 124.9h.1M201.6 115.1h.1M197.1 121.1h.1M201.4 119.9h.1M199.4 133.5h.1M198.9 127.9h.1M197.9 116.4h.1M195.9 115.2h.1M193.0 117.2h.1M201.7 123.4h.1M192.1 124.2h.1M202.5 119.6h.1M189.8 124.9h.1M207.4 124.6h.1M201.4 126.4h.1M203.7 114.5h.1M206.5 123.9h.1M204.7 118.9h.1M201.7 123.3h.1M191.9 123.5h.1M195.2 118.4h.1M204.5 125.7h.1M203.2 114.5h.1M220.3 117.5h.1M186.3 122.6h.1M198.6 117.2h.1M209.8 129.3h.1M203.9 112.2h.1M208.7 118.7h.1M200.7 121.1h.1M196.0 122.0h.1M205.5 125.3h.1M215.8 113.4h.1M205.6 114.7h.1M204.0 125.4h.1M207.3 117.0h.1M214.5 121.7h.1M211.0 118.2h.1M211.6 116.8h.1M208.7 118.5h.1M203.2 111.2h.1M209.4 121.2h.1M199.3 120.6h.1M207.0 122.0h.1M190.2 130.1h.1M196.8 130.9h.1M210.4 118.6h.1M204.5 120.7h.1M200.7 128.0h.1M199.0 117.5h.1M201.8 111.3h.1M209.8 111.8h.1M212.8 122.4h.1M216.0 113.5h.1M201.3 117.5h.1M208.3 113.6h.1M201.2 107.6h.1M203.5 120.5h.1M215.8 112.3h.1M209.4 121.1h.1M208.8 112.4h.1M181.2 121.6h.1M209.4 119.0h.1M212.4 129.0h.1M198.8 118.2h.1M213.0 108.5h.1M187.3 124.3h.1M205.3 127.1h.1M207.9 118.2h.1M199.6 110.4h.1M206.6 115.5h.1M200.8 121.7h.1M190.3 121.8h.1M199.3 130.9h.1M202.5 125.6h.1M197.0 112.3h.1M208.9 116.4h.1M194.7 127.0h.1M206.5 109.5h.1M201.8 130.5h.1M204.0 112.0h.1M197.9 128.0h.1M212.9 121.1h.1M193.6 126.0h.1M198.0 117.8h.1M200.1 125.9h.1M206.5 121.8h.1M200.4 117.3h.1M210.2 114.7h.1M201.5 122.8h.1M202.1 125.0h.1M206.9 122.1h.1M218.1 113.3h.1M216.7 109.6h.1M198.2 107.0h.1M198.9 116.0h.1M207.8 125.3h.1M218.2 113.3h.1M210.1 116.9h.1M201.0 109.4h.1M208.9 113.1h.1M207.5 114.9h.1M206.4 113.6h.1M205.8 128.8h.1M205.7 111.4h.1M198.2 121.3h.1M208.5 111.6h.1M197.4 111.8h.1M214.6 118.6h.1M205.4 116.6h.1M215.6 119.9h.1M202.6 126.2h.1M207.1 117.1h.1M200.9 120.0h.1M212.2 109.7h.1M192.6 125.4h.1M210.1 125.9h.1M207.0 110.4h.1M208.5 119.2h.1M196.8 112.1h.1M193.3 121.9h.1M194.9 123.1h.1M202.3 123.1h.1M208.9 113.2h.1M200.8 124.0h.1M199.1 125.9h.1M207.1 123.5h.1M199.4 124.5h.1M201.9 120.9h.1M207.3 115.5h.1M203.0 106.4h.1M198.8 123.8h.1M196.3 109.3h.1M194.0 119.8h.1M207.6 121.4h.1M194.1 123.6h.1M195.4 127.1h.1M205.8 115.4h.1M200.2 119.6h.1M199.5 126.6h.1M205.2 115.8h.1M206.2 111.2h.1M204.3 117.4h.1M199.6 119.9h.1M204.7 111.0h.1M205.6 135.2h.1M208.3 115.0h.1M205.5 128.0h.1M196.4 130.0h.1M201.0 130.3h.1M198.0 126.3h.1M199.6 127.1h.1M209.0 120.0h.1M197.9 126.3h.1M205.6 112.9h.1M206.8 117.7h.1M202.5 114.1h.1M204.6 123.9h.1M197.9 125.0h.1M191.7 122.5h.1M204.9 113.7h.1M204.2 111.9h.1M215.1 119.0h.1M210.1 112.8h.1M189.0 122.0h.1M211.7 116.7h.1M210.6 120.0h.1M205.3 124.8h.1M199.5 117.9h.1M210.2 120.4h.1M199.8 114.1h.1M209.0 117.3h.1M195.1 123.4h.1M206.2 131.3h.1M197.4 124.8h.1M200.2 119.7h.1M202.7 127.4h.1M205.3 118.1h.1M199.2 125.8h.1M198.9 122.6h.1M205.8 123.0h.1M208.1 119.9h.1M215.5 121.1h.1M198.5 115.4h.1M198.9 127.7h.1M196.4 129.5h.1M205.9 115.6h.1M197.1 120.2h.1M207.9 118.0h.1M207.7 119.4h.1M211.6 114.9h.1M202.4 113.3h.1M201.3 114.3h.1M193.9 120.2h.1M207.4 106.1h.1M195.4 113.3h.1M205.5 122.0h.1M205.2 117.9h.1M198.5 121.4h.1M197.9 119.3h.1M205.7 117.4h.1M210.6 105.8h.1M193.5 127.0h.1M199.8 117.5h.1M199.8 119.8h.1M202.3 121.6h.1M208.9 128.4h.1M190.2 121.6h.1M197.8 121.7h.1M197.1 121.1h.1M204.9 118.8h.1M204.7 122.7h.1M196.8 120.5h.1M209.7 123.1h.1M209.2 113.5h.1M199.2 125.7h.1M203.2 121.0h.1M201.1 124.9h.1M204.3 113.7h.1M205.5 117.0h.1M201.6 122.9h.1M204.1 116.0h.1M196.1 118.5h.1M202.4 113.0h.1M199.4 133.0h.1M199.3 120.6h.1M195.7 119.2h.1M204.7 119.9h.1M192.9 121.8h.1M197.2 126.7h.1M202.6 128.2h.1M205.4 112.5h.1M209.0 115.4h.1M202.6 120.1h.1M195.3 127.5h.1M204.1 113.5h.1M194.8 123.7h.1M210.6 120.0h.1M205.1 116.7h.1M209.9 120.9h.1M198.3 117.1h.1M190.0 128.6h.1M221.5 114.8h.1M205.9 123.0h.1M201.9 131.5h.1M197.0 116.1h.1M213.1 122.3h.1M207.8 117.8h.1M202.9 120.3h.1M205.8 115.5h.1M209.6 127.6h.1M200.0 114.9h.1M204.0 132.8h.1M197.4 128.1h.1M199.1 116.1h.1M209.8 117.0h.1M203.0 123.3h.1M210.1 119.2h.1M212.7 113.7h.1M200.0 123.9h.1M207.2 109.0h.1M201.3 123.6h.1M202.3 129.5h.1M193.6 122.6h.1M198.1 111.8h.1M201.8 119.4h.1M200.7 116.5h.1M208.5 112.6h.1M199.4 112.6h.1M210.3 109.8h.1M213.8 112.1h.1M202.9 128.4h.1M196.7 128.1h.1M195.3 118.6h.1M206.6 120.6h.1M205.3 120.7h.1M212.8 108.5h.1M199.0 125.1h.1M194.2 117.6h.1M218.2 123.6h.1M206.3 119.2h.1M202.2 114.8h.1M197.9 115.2h.1M195.4 121.9h.1M205.8 113.8h.1M204.0 112.0h.1M205.5 117.2h.1M202.8 120.6h.1M211.2 118.9h.1M199.2 121.2h.1M205.6 121.9h.1M209.7 113.6h.1M195.9 124.5h.1M196.3 123.5h.1M219.9 122.7h.1M194.2 116.9h.1M205.6 117.4h.1M207.5 119.9h.1M205.3 122.1h.1M193.6 127.8h.1M194.5 116.5h.1M188.4 122.7h.1M205.7 116.9h.1M195.9 109.1h.1M206.7 112.4h.1M201.0 121.3h.1M202.8 121.8h.1M213.4 121.2h.1M197.0 120.6h.1M201.8 115.1h.1M207.2 116.5h.1M204.7 122.7h.1M216.1 113.4h.1M207.7 130.3h.1M213.0 119.0h.1M198.7 121.4h.1M199.4 118.0h.1M192.6 120.2h.1M190.9 127.6h.1M206.4 116.6h.1M203.4 120.1h.1M201.7 121.4h.1M202.1 122.2h.1M198.2 121.0h.1M213.6 112.8h.1M198.3 125.8h.1M205.2 120.0h.1M204.4 117.0h.1M200.0 123.0h.1M204.3 122.8h.1M206.0 131.2h.1M203.8 127.1h.1M204.2 131.7h.1M209.3 114.1h.1M213.0 114.3h.1M209.5 114.1h.1M205.5 119.9h.1M212.1 105.9h.1M191.3 127.5h.1M207.9 115.8h.1M203.8 109.9h.1M200.9 116.5h.1M208.7 119.8h.1M202.3 126.1h.1M199.2 124.6h.1M201.8 122.4h.1M201.4 127.7h.1M200.5 131.2h.1M208.2 114.0h.1M200.5 127.6h.1M212.4 111.0h.1M204.3 122.8h.1M218.0 120.1h.1M202.0 125.0h.1M203.8 114.8h.1M203.0 118.5h.1M201.9 120.4h.1M205.5 114.9h.1M207.5 110.1h.1M207.4 121.4h.1M205.9 110.9h.1M200.2 121.4h.1M206.2 123.1h.1M193.8 121.8h.1M210.0 111.8h.1M195.7 118.7h.1M201.6 118.6h.1M211.0 119.5h.1M191.4 126.6h.1M203.9 124.2h.1M203.1 127.3h.1M204.2 116.8h.1M195.8 126.4h.1M202.4 110.3h.1M208.5 125.7h.1M190.3 125.6h.1M207.3 128.3h.1M210.9 114.0h.1M206.1 123.2h.1M194.1 129.6h.1M206.4 123.7h.1M197.8 125.5h.1M203.0 118.1h.1M203.5 121.6h.1M193.8 121.8h.1M205.5 110.4h.1M213.8 131.5h.1M207.5 118.8h.1M196.8 115.1h.1M195.6 126.2h.1M197.8 122.0h.1M200.5 125.3h.1M211.2 123.1h.1M207.4 124.7h.1M213.9 112.7h.1M204.9 115.9h.1M203.6 118.5h.1M204.0 123.5h.1M195.2 107.3h.1M205.0 125.2h.1M200.8 128.4h.1M217.3 117.1h.1M201.9 122.9h.1M208.0 110.6h.1M206.4 107.9h.1M196.6 122.5h.1M205.2 112.9h.1M203.5 126.8h.1M193.0 125.1h.1M211.2 110.7h.1M210.7 120.7h.1M201.3 120.4h.1M203.0 120.1h.1M202.0 116.0h.1M208.9 127.9h.1M202.0 127.8h.1M198.4 113.8h.1M207.2 120.3h.1M206.1 114.0h.1M200.8 125.9h.1M213.2 119.1h.1M199.2 127.9h.1M215.1 112.7h.1M187.5 126.0h.1M195.1 119.3h.1M199.5 118.6h.1M197.2 124.7h.1M205.1 112.2h.1M193.4 133.4h.1M206.8 120.2h.1M192.7 134.0h.1M196.8 121.9h.1M205.3 115.4h.1M204.0 117.2h.1M190.4 115.0h.1M199.3 117.8h.1M205.9 128.4h.1M201.7 132.2h.1M200.5 121.0h.1M201.8 110.9h.1M202.8 118.8h.1M198.0 125.1h.1M205.7 117.6h.1M197.7 122.7h.1M198.2 116.3h.1M200.1 125.7h.1M201.4 119.4h.1M201.1 123.6h.1M202.2 124.6h.1M202.2 124.7h.1M201.3 116.2h.1M205.7 118.2h.1M200.3 128.4h.1M200.0 116.3h.1M201.0 128.3h.1M194.8 128.1h.1M206.3 117.0h.1M201.0 116.4h.1M190.5 117.5h.1M194.4 113.0h.1M200.4 123.8h.1M197.3 119.3h.1M198.3 119.8h.1M205.5 126.1h.1M206.8 121.2h.1M211.6 122.0h.1M206.0 122.4h.1M208.1 113.2h.1M197.5 121.6h.1M192.0 120.8h.1M200.9 122.2h.1M207.3 126.2h.1M188.3 124.3h.1M205.1 127.4h.1M199.1 123.1h.1M202.0 115.0h.1M204.5 124.9h.1M200.8 121.0h.1M209.7 117.5h.1M201.0 122.0h.1M205.7 121.6h.1M210.6 120.8h.1M195.5 112.6h.1M202.3 129.4h.1M203.2 117.5h.1M204.6 122.5h.1M210.6 111.3h.1M207.7 120.0h.1M208.0 124.9h.1M189.1 128.0h.1M206.0 115.0h.1M202.1 126.0h.1M193.6 126.9h.1M207.8 128.6h.1M197.7 117.7h.1M209.1 117.1h.1M217.7 106.6h.1M192.7 125.0h.1M206.0 114.9h.1M189.2 126.0h.1M204.3 114.6h.1M203.7 116.6h.1M196.5 125.2h.1M202.9 120.2h.1M195.2 117.8h.1M201.1 117.1h.1M205.0 119.7h.1M201.5 119.4h.1M205.4 125.0h.1M196.2 126.7h.1M208.4 123.2h.1M199.4 121.9h.1M215.9 109.9h.1M208.0 117.4h.1M213.1 118.5h.1M208.1 115.4h.1M199.8 129.5h.1M195.0 118.8h.1M201.3 113.4h.1M206.7 112.4h.1M203.1 118.6h.1M189.2 123.8h.1M193.3 122.2h.1M188.4 120.1h.1M207.9 120.4h.1M209.8 127.5h.1M207.4 117.9h.1M202.1 123.6h.1M195.1 115.9h.1M202.8 129.6h.1M195.9 122.9h.1M198.5 124.9h.1M205.0 119.3h.1M208.5 117.4h.1M192.5 133.8h.1M202.1 121.8h.1M207.7 114.4h.1M199.9 116.4h.1M206.4 121.4h.1M204.1 112.5h.1M197.7 113.1h.1M194.4 117.7h.1M204.6 122.3h.1M191.7 125.9h.1M205.0 128.3h.1M208.1 110.5h.1M205.9 120.6h.1M204.8 115.5h.1M211.7 118.6h.1M199.2 110.7h.1M201.2 112.7h.1M193.7 131.0h.1M202.4 125.5h.1M209.7 122.6h.1M200.2 114.0h.1M201.8 120.9h.1M201.9 118.5h.1M203.7 111.8h.1M209.4 112.0h.1M203.6 114.9h.1M211.2 115.0h.1M197.1 119.1h.1M208.3 111.9h.1M194.8 118.7h.1M208.6 131.3h.1M201.7 125.4h.1M202.0 109.8h.1M200.2 124.0h.1M195.9 119.8h.1M198.7 123.0h.1M218.2 117.1h.1M194.8 131.0h.1M201.0 118.0h.1M205.9 123.5h.1M204.2 121.6h.1M203.9 113.0h.1M207.7 123.8h.1M198.0 111.2h.1M199.1 121.8h.1M211.6 119.3h.1M182.5 120.8h.1M203.2 121.2h.1M193.4 120.0h.1M203.7 123.6h.1M207.9 128.1h.1M198.6 118.4h.1M200.0 123.3h.1M215.3 118.3h.1M203.9 114.6h.1M194.8 131.6h.1M202.3 128.0h.1M208.0 116.0h.1M204.4 114.5h.1M206.8 118.2h.1M207.8 125.9h.1M199.2 125.2h.1M205.6 116.4h.1M204.6 126.5h.1M203.9 125.2h.1M205.0 126.6h.1M202.0 118.2h.1M206.8 106.2h.1M199.6 129.2h.1M198.2 131.3h.1M213.0 115.0h.1M198.1 123.2h.1M208.6 128.5h.1M212.5 113.9h.1M208.3 115.9h.1M209.7 121.1h.1M211.9 117.5h.1M208.1 111.6h.1M196.8 124.1h.1M203.5 124.7h.1M217.4 113.3h.1M195.5 115.5h.1M199.0 127.3h.1M205.3 117.7h.1M207.2 118.0h.1M204.5 119.4h.1M194.4 126.3h.1M204.1 132.2h.1M203.6 116.4h.1M204.1 115.5h.1M202.7 117.8h.1M205.1 114.2h.1M202.3 117.7h.1M196.8 120.8h.1M207.3 123.0h.1M204.9 118.8h.1M209.0 117.0h.1M207.2 109.2h.1M195.4 117.4h.1M210.1 116.8h.1M205.9 113.0h.1M193.4 137.7h.1M213.4 127.5h.1M203.0 116.1h.1M204.6 118.1h.1M200.0 106.5h.1M204.4 107.0h.1M199.8 111.9h.1M215.6 109.8h.1M200.5 122.5h.1M201.0 121.6h.1M208.9 114.9h.1M206.3 118.4h.1M194.7 123.2h.1M196.2 127.1h.1M203.1 120.8h.1M209.4 113.7h.1M198.0 129.0h.1M207.6 121.2h.1M190.4 122.6h.1M197.0 117.6h.1M192.6 112.7h.1M200.3 122.5h.1M199.8 119.4h.1M203.5 127.3h.1M199.3 121.3h.1M220.6 115.8h.1M208.3 111.9h.1M196.3 118.7h.1M222.7 112.0h.1M212.1 114.9h.1M195.0 110.8h.1M204.1 125.5h.1M198.0 118.5h.1M195.9 117.1h.1M209.6 115.2h.1M196.3 124.6h.1M204.8 119.1h.1M216.3 118.6h.1M210.5 111.1h.1M202.6 127.0h.1M207.9 123.8h.1M193.6 120.2h.1M213.9 125.7h.1M183.1 113.3h.1M211.9 122.3h.1M203.7 124.1h.1M211.1 112.5h.1M210.0 122.7h.1M199.7 129.4h.1M211.4 123.0h.1M200.1 121.9h.1M203.0 129.2h.1M219.1 111.4h.1M216.2 119.4h.1M198.7 116.5h.1M213.2 119.3h.1M198.8 119.5h.1M200.6 119.5h.1M215.0 113.2h.1M206.5 124.3h.1M216.7 113.2h.1M201.2 117.8h.1M195.0 121.4h.1M198.0 119.5h.1M204.2 123.7h.1M203.6 133.2h.1M205.4 122.2h.1M206.6 118.4h.1M209.5 119.1h.1M194.3 118.6h.1M213.0 108.4h.1M214.8 117.8h.1M204.9 126.3h.1M204.7 116.6h.1M188.7 119.2h.1M195.4 125.3h.1M203.8 114.1h.1M211.0 123.0h.1M218.0 118.0h.1M195.0 122.0h.1M208.2 123.6h.1M194.4 124.2h.1M207.7 120.9h.1M192.4 119.3h.1M202.4 118.5h.1M209.3 116.1h.1M191.0 110.2h.1M206.4 114.3h.1M202.9 125.9h.1M199.7 120.1h.1M193.6 114.8h.1M207.1 125.3h.1M198.8 119.5h.1M205.4 116.6h.1M203.7 117.2h.1M207.2 115.8h.1M200.0 112.5h.1M198.1 112.2h.1M202.3 125.4h.1M194.6 116.6h.1M198.1 123.2h.1M201.2 118.1h.1M196.8 119.4h.1M200.9 115.5h.1M212.6 120.3h.1M202.1 121.5h.1M218.5 119.7h.1M199.6 120.1h.1M210.8 120.5h.1M201.4 120.5h.1M195.7 119.3h.1M200.5 118.7h.1M212.3 117.7h.1M211.0 117.8h.1M193.2 128.5h.1M199.6 119.6h.1M210.6 125.8h.1M204.3 126.4h.1M199.9 123.8h.1M197.1 126.3h.1M199.4 124.0h.1M195.2 129.3h.1M214.1 115.7h.1M203.6 114.0h.1M201.9 111.7h.1M208.0 118.1h.1M211.0 117.8h.1M201.7 115.2h.1M207.5 117.9h.1M195.2 112.9h.1M209.6 117.5h.1M202.8 116.5h.1M199.7 120.2h.1M204.5 112.5h.1M219.7 121.0h.1M190.5 122.6h.1M210.7 114.2h.1M194.1 124.4h.1M199.1 120.3h.1M214.2 117.1h.1M212.1 113.2h.1M191.0 119.9h.1M200.6 123.8h.1M206.2 107.8h.1M195.8 118.6h.1M198.4 116.9h.1M201.0 120.8h.1M193.2 116.4h.1M197.1 127.5h.1M202.1 111.4h.1M206.5 123.9h.1M192.5 115.0h.1M206.2 119.1h.1M207.3 127.5h.1M207.6 124.0h.1M200.0 128.0h.1M198.6 122.3h.1M189.8 120.1h.1M208.4 113.2h.1M200.1 108.1h.1M200.9 112.6h.1M203.6 116.7h.1M198.6 118.6h.1M200.5 120.0h.1M201.4 126.2h.1M212.2 116.3h.1M205.6 113.9h.1M207.2 121.7h.1M199.5 114.0h.1M206.6 121.1h.1M197.2 108.8h.1M195.8 123.2h.1M211.7 112.2h.1M199.4 114.2h.1M205.6 114.5h.1M214.4 120.2h.1M201.9 117.4h.1M209.9 115.7h.1M200.7 120.5h.1M210.2 125.8h.1M200.9 113.1h.1M197.2 119.7h.1M207.5 120.7h.1M204.6 110.9h.1M203.9 116.4h.1M197.0 124.0h.1M211.5 118.6h.1M207.1 124.1h.1M203.5 117.0h.1M213.2 113.8h.1M201.3 121.6h.1M200.5 114.7h.1M210.5 117.7h.1M198.7 117.1h.1M207.2 123.0h.1M204.7 125.4h.1M203.3 128.1h.1M209.3 111.7h.1M202.7 121.3h.1M203.2 113.9h.1M206.5 118.3h.1M193.6 114.4h.1M200.8 125.0h.1M203.1 120.4h.1M209.6 116.7h.1M203.5 118.9h.1M209.3 114.4h.1M205.9 114.8h.1M204.0 125.2h.1M198.3 123.1h.1M203.9 120.4h.1M206.8 119.0h.1M206.6 128.5h.1M198.9 114.3h.1M208.3 120.4h.1M216.3 113.1h.1M208.1 115.3h.1M200.3 116.7h.1M198.2 115.3h.1M201.4 118.9h.1M203.8 123.7h.1M197.6 120.1h.1M197.8 125.0h.1M197.6 118.6h.1M198.4 126.3h.1M195.7 114.7h.1M200.9 117.9h.1M197.5 126.7h.1M199.9 108.6h.1M202.2 112.3h.1M199.3 117.5h.1M197.7 118.2h.1M200.9 123.2h.1M219.6 112.0h.1M200.5 126.1h.1M214.3 121.2h.1M201.8 130.2h.1M204.0 125.7h.1M200.0 113.3h.1M212.0 112.6h.1M196.8 121.5h.1M197.5 124.2h.1M203.9 118.1h.1M199.9 128.0h.1M212.2 123.6h.1M195.1 130.1h.1M204.1 128.5h.1M206.8 114.9h.1M192.9 117.9h.1M211.1 115.2h.1M213.9 110.0h.1M207.5 117.8h.1M194.6 123.3h.1M200.9 118.3h.1M190.2 116.7h.1M199.2 119.4h.1M198.1 131.6h.1M200.8 121.0h.1M201.4 126.7h.1M207.1 124.0h.1M193.6 122.3h.1M202.5 123.0h.1M199.2 121.0h.1M197.2 118.7h.1M205.7 116.1h.1M198.0 119.7h.1M205.5 121.1h.1M195.9 118.6h.1M196.0 115.4h.1M218.5 122.7h.1M207.9 116.8h.1M208.8 126.6h.1M211.2 121.6h.1M197.1 133.8h.1M208.2 123.0h.1M205.6 120.9h.1M200.8 110.6h.1M214.7 131.1h.1M206.4 122.4h.1M203.2 123.5h.1M202.4 119.1h.1M207.3 109.1h.1M212.2 115.3h.1M206.8 121.9h.1M213.5 126.4h.1M195.1 115.9h.1M204.4 110.2h.1M207.3 117.8h.1M198.3 125.0h.1M197.3 116.6h.1M203.2 124.1h.1M202.0 117.7h.1M204.5 117.1h.1M191.4 127.0h.1M206.3 124.7h.1M204.0 121.8h.1M192.6 114.2h.1M190.9 128.5h.1M198.8 127.6h.1M206.0 116.3h.1M202.6 115.2h.1M200.3 121.9h.1M207.5 115.8h.1M193.1 127.8h.1M196.1 124.8h.1M193.4 116.5h.1M190.4 125.7h.1M205.9 135.8h.1M215.1 117.5h.1M190.0 121.0h.1M204.7 121.1h.1M204.1 113.7h.1M201.1 130.2h.1M199.6 118.0h.1M195.4 117.7h.1M210.7 119.8h.1M199.8 118.1h.1M208.2 115.2h.1M197.9 118.8h.1M186.7 129.2h.1M197.8 124.7h.1M202.9 125.0h.1M199.6 133.7h.1M206.5 117.5h.1M205.0 107.6h.1M195.7 109.8h.1M201.3 131.7h.1M205.2 110.9h.1M193.1 123.6h.1M207.0 117.4h.1M212.3 118.8h.1M216.0 121.3h.1M207.8 122.7h.1M212.5 120.6h.1M205.6 120.6h.1M204.3 122.3h.1M213.3 108.4h.1M200.1 112.1h.1M199.2 121.8h.1M204.2 121.3h.1M207.7 120.8h.1M200.8 119.2h.1M196.1 118.5h.1M202.3 121.7h.1M192.8 127.7h.1M202.5 111.0h.1M201.9 122.8h.1M203.6 117.0h.1M197.2 121.9h.1M204.0 120.9h.1M200.5 126.7h.1M191.3 121.9h.1M192.5 111.1h.1M204.0 123.8h.1M201.0 122.3h.1M201.7 126.0h.1M199.1 123.2h.1M205.0 110.4h.1M210.4 114.7h.1M195.6 117.4h.1M208.4 116.1h.1M207.9 113.3h.1M204.5 109.7h.1M201.0 126.9h.1M199.5 121.2h.1M191.2 131.0h.1M201.4 122.2h.1M200.4 114.4h.1M200.6 118.2h.1M196.2 120.0h.1M196.6 118.1h.1M184.7 118.1h.1M204.8 120.2h.1M201.3 122.0h.1M213.8 119.0h.1M203.6 118.8h.1M204.9 122.5h.1M188.6 133.9h.1M208.9 120.7h.1M198.9 119.7h.1M197.9 127.8h.1M198.4 111.6h.1M201.3 115.2h.1M204.0 120.0h.1M197.4 112.3h.1M200.6 112.9h.1M201.5 120.7h.1M200.2 120.9h.1M200.1 128.9h.1M191.4 116.0h.1M209.9 111.3h.1M206.6 117.4h.1M202.7 111.8h.1M200.1 119.2h.1M189.1 122.5h.1M199.8 107.9h.1M203.6 117.3h.1M193.0 127.7h.1M201.8 113.5h.1M197.0 122.3h.1M199.1 124.0h.1M194.7 122.6h.1M205.4 121.6h.1M197.4 115.5h.1M195.3 121.5h.1M189.5 137.3h.1M200.8 126.3h.1M200.5 127.0h.1M200.9 125.2h.1M208.9 119.7h.1M194.6 123.4h.1M203.5 117.6h.1M201.1 123.5h.1M189.5 125.2h.1M212.7 113.7h.1M210.2 115.3h.1M200.6 118.0h.1M202.4 115.4h.1M198.7 119.0h.1M196.7 120.4h.1M208.9 113.6h.1M203.7 115.1h.1M195.2 120.9h.1M200.7 125.1h.1M206.9 119.0h.1M198.4 127.6h.1M194.2 117.1h.1M207.0 120.6h.1M206.4 117.4h.1M207.0 124.7h.1M190.4 124.8h.1M208.5 112.6h.1M196.5 122.7h.1M206.3 118.5h.1M192.2 122.8h.1M201.8 117.6h.1M208.9 106.7h.1M203.1 116.1h.1M206.1 117.0h.1M213.3 118.1h.1M199.1 111.5h.1M200.8 119.5h.1M212.3 119.3h.1M203.6 114.3h.1M203.8 114.0h.1M193.7 123.7h.1M199.7 112.9h.1M209.6 124.4h.1M205.3 110.1h.1M197.2 115.4h.1M204.0 137.1h.1M208.2 117.6h.1M197.2 113.1h.1M197.9 121.3h.1M200.9 122.4h.1M205.8 112.6h.1M207.7 118.4h.1M212.5 116.5h.1M200.3 119.2h.1M210.2 120.5h.1M209.8 123.3h.1M204.6 131.3h.1M202.0 118.3h.1M209.5 111.7h.1M204.5 124.2h.1M197.0 110.5h.1M193.7 127.3h.1M218.1 111.3h.1M194.4 114.5h.1M212.4 121.3h.1M206.8 114.6h.1M206.7 114.6h.1M206.1 114.6h.1M194.7 118.7h.1M205.2 120.5h.1M199.2 125.0h.1M192.6 111.1h.1M206.4 117.7h.1M202.4 117.0h.1M205.9 119.8h.1M211.3 112.4h.1M194.7 120.3h.1" stroke="#000" stroke-width="0.5" stroke-linecap="round" fill="none" opacity="0.85"/>
<path d="M199.9 119.5h.1M184.9 125.5h.1M215.2 122.8h.1M211.7 124.7h.1M204.0 124.0h.1M210.6 123.8h.1M207.1 120.5h.1M196.1 124.4h.1M198.8 125.7h.1M184.3 135.3h.1M212.5 131.1h.1M205.1 113.7h.1M198.9 113.5h.1M205.3 121.2h.1M203.3 108.3h.1M190.2 107.0h.1M213.3 123.9h.1M202.5 118.8h.1M187.8 120.0h.1M198.8 115.8h.1M210.1 106.5h.1M203.4 126.9h.1M208.6 110.2h.1M179.8 133.0h.1M213.5 119.2h.1M200.0 123.9h.1M210.8 121.5h.1M199.4 123.1h.1M205.3 135.5h.1M202.4 114.9h.1M217.6 130.5h.1M214.1 113.7h.1M197.5 112.1h.1M201.3 130.8h.1M209.8 121.1h.1M204.2 124.6h.1M201.2 114.1h.1M196.7 133.5h.1M194.8 114.0h.1M206.9 118.6h.1M199.6 122.7h.1M201.3 109.8h.1M210.0 122.2h.1M216.2 126.1h.1M197.7 118.7h.1M196.7 106.3h.1M208.3 116.1h.1M210.4 121.9h.1M201.5 132.9h.1M194.9 134.4h.1M199.4 136.8h.1M211.8 116.9h.1M216.7 123.1h.1M205.3 118.3h.1M202.1 118.5h.1M199.8 127.2h.1M209.1 129.6h.1M212.3 120.0h.1M208.6 119.1h.1M207.2 125.4h.1M205.6 115.5h.1M193.0 134.3h.1M196.2 117.6h.1M205.7 118.5h.1M206.1 130.8h.1M190.2 123.2h.1M207.5 111.2h.1M208.6 131.3h.1M202.9 124.8h.1M200.3 128.6h.1M198.5 121.9h.1M197.2 116.8h.1M212.0 120.2h.1M209.9 109.6h.1M193.1 115.9h.1M218.0 128.3h.1M220.7 116.7h.1M207.6 123.6h.1M200.6 125.8h.1M202.5 124.9h.1M188.3 115.4h.1M194.6 134.0h.1M209.8 114.0h.1M206.7 117.1h.1M193.6 115.8h.1M226.7 120.0h.1M202.0 130.3h.1M205.0 113.5h.1M220.1 135.4h.1M209.1 114.9h.1M202.2 122.3h.1M193.8 140.8h.1M202.8 117.5h.1M200.5 119.3h.1M182.3 124.2h.1M212.1 122.2h.1M206.3 120.6h.1M188.6 126.9h.1M208.2 113.7h.1M193.6 118.2h.1M192.0 104.9h.1M199.5 117.6h.1M203.7 129.8h.1M195.4 111.2h.1M201.8 126.3h.1M214.3 127.1h.1M203.8 121.7h.1M188.8 127.5h.1M209.0 120.4h.1M200.3 124.6h.1M206.2 124.8h.1M206.1 110.4h.1M198.2 110.2h.1M209.1 139.0h.1M196.3 121.1h.1M204.7 116.3h.1M216.4 121.7h.1M220.0 136.0h.1M206.6 115.8h.1M213.3 118.6h.1M196.2 120.6h.1M211.8 115.0h.1M200.8 127.8h.1M200.4 127.9h.1M212.5 117.1h.1M193.1 114.0h.1M212.9 124.4h.1M203.3 118.7h.1M211.3 117.3h.1M224.6 121.8h.1M189.7 130.0h.1M204.7 121.2h.1M201.2 130.0h.1M198.7 132.7h.1M196.5 128.3h.1M190.5 129.3h.1M194.8 120.4h.1M208.7 115.5h.1M206.9 121.0h.1M213.1 126.8h.1M204.6 119.9h.1M195.4 131.9h.1M200.7 112.8h.1M196.2 108.8h.1M195.6 118.9h.1M204.6 127.7h.1M209.3 108.1h.1M198.7 125.9h.1M205.3 121.0h.1M196.2 126.9h.1M201.8 119.7h.1M201.6 119.9h.1M205.0 128.8h.1M203.1 116.9h.1M201.6 120.4h.1M206.5 126.4h.1M215.8 126.5h.1M188.9 116.7h.1M192.4 124.4h.1M221.4 122.9h.1M198.0 131.5h.1M207.5 115.2h.1M194.8 132.3h.1M208.6 106.3h.1M196.5 125.8h.1M191.6 122.3h.1M195.4 110.3h.1M198.3 118.0h.1M204.7 109.2h.1M204.5 118.6h.1M189.6 130.9h.1M198.8 124.6h.1M215.1 123.1h.1M210.0 122.2h.1M197.8 123.1h.1M189.7 125.9h.1M209.1 123.8h.1M197.0 113.4h.1M196.4 119.9h.1M190.9 135.8h.1M195.9 122.9h.1M198.6 122.6h.1M185.0 115.7h.1M202.2 121.1h.1M205.6 117.4h.1M209.1 122.3h.1M202.0 121.5h.1M211.0 120.4h.1M215.0 121.2h.1M204.4 121.2h.1M204.8 124.4h.1M197.3 127.3h.1M223.2 123.3h.1M203.3 115.7h.1M196.2 116.2h.1M204.5 116.4h.1M215.4 117.3h.1M195.1 115.7h.1M201.6 120.4h.1M209.9 115.7h.1M205.1 127.8h.1M200.1 109.5h.1M204.3 128.4h.1M205.6 121.2h.1M186.7 134.0h.1M200.8 113.2h.1M199.6 122.7h.1M202.7 115.1h.1M221.9 128.3h.1M210.5 125.1h.1M199.1 113.5h.1M192.0 129.8h.1M203.0 132.7h.1M184.0 132.2h.1M206.1 117.2h.1M209.5 116.1h.1M200.1 125.2h.1M203.6 123.3h.1M204.1 128.4h.1M195.4 108.0h.1M194.9 105.2h.1M218.1 115.4h.1M202.0 123.7h.1M196.0 118.4h.1M204.4 121.3h.1M208.9 119.1h.1M196.9 111.7h.1M188.6 124.4h.1M204.9 118.3h.1M207.6 112.6h.1M199.6 120.0h.1M196.2 119.9h.1M204.6 137.9h.1M202.3 126.4h.1M209.0 114.2h.1M206.2 118.2h.1M209.6 116.7h.1M211.0 114.3h.1M198.5 127.6h.1M210.6 126.7h.1M218.5 127.1h.1M202.3 127.9h.1M195.6 127.6h.1M205.5 120.0h.1M196.4 129.3h.1M186.0 121.6h.1M190.8 120.0h.1M198.7 115.9h.1M197.3 123.8h.1M218.3 132.1h.1M200.7 118.6h.1M207.3 115.1h.1M190.2 129.2h.1M199.0 132.3h.1M205.0 111.0h.1M204.7 124.6h.1M202.8 111.8h.1M190.0 135.5h.1M179.5 116.7h.1M208.8 133.4h.1M207.6 120.7h.1M205.4 129.1h.1M198.0 130.7h.1M204.3 122.6h.1M205.9 123.3h.1M194.8 132.9h.1M198.3 119.9h.1M183.1 111.5h.1M206.9 120.3h.1M201.5 118.8h.1M207.3 116.4h.1M190.3 111.1h.1M195.8 124.2h.1M214.0 124.3h.1M196.8 112.6h.1M209.0 124.3h.1M201.9 125.8h.1M207.1 124.5h.1M213.1 109.6h.1M197.0 118.1h.1M194.2 135.9h.1M205.2 124.1h.1M208.8 119.2h.1M209.2 119.3h.1M208.4 124.8h.1M212.9 109.8h.1M194.8 116.7h.1M195.6 124.7h.1M210.2 118.2h.1M211.1 126.8h.1M197.5 126.5h.1M214.0 117.0h.1M184.5 126.8h.1M204.7 125.5h.1M206.5 120.7h.1M202.3 115.8h.1M218.3 130.9h.1M201.2 115.5h.1M205.9 132.3h.1M202.7 115.6h.1M210.0 122.5h.1M195.9 120.4h.1M203.7 113.5h.1M204.7 130.2h.1M211.0 129.4h.1M208.5 120.3h.1M207.4 129.6h.1M202.8 125.1h.1M197.3 122.0h.1M198.5 114.3h.1M205.7 136.7h.1M188.7 119.3h.1M204.0 116.1h.1M203.8 127.3h.1M189.2 121.9h.1M207.2 125.1h.1M217.2 121.6h.1M212.5 116.6h.1M195.1 118.3h.1M198.9 128.1h.1M208.6 121.1h.1M195.2 123.2h.1M199.1 119.2h.1M188.4 133.8h.1M207.2 142.0h.1M224.2 120.0h.1M220.5 117.0h.1M225.1 119.2h.1M187.6 122.8h.1M209.0 133.0h.1M210.4 133.3h.1M204.0 110.7h.1M203.8 115.2h.1M209.3 105.9h.1M194.6 114.0h.1M203.4 128.8h.1M200.1 112.5h.1M198.4 120.8h.1M211.9 121.6h.1M217.0 135.9h.1M198.3 141.1h.1M189.9 129.3h.1M192.0 118.1h.1M206.6 122.8h.1M204.9 120.0h.1M187.5 111.4h.1M195.6 115.1h.1M198.7 109.8h.1M201.6 125.1h.1M198.5 131.4h.1M204.2 128.0h.1M195.3 123.7h.1M191.0 109.1h.1M188.3 119.9h.1M204.5 136.5h.1M205.1 118.7h.1M211.1 121.6h.1M202.6 122.5h.1M210.5 132.3h.1M190.9 123.3h.1M198.7 122.0h.1M221.9 118.2h.1M182.5 129.5h.1M198.6 115.3h.1M220.6 134.3h.1M210.9 122.6h.1M196.6 132.5h.1M200.5 123.4h.1M201.1 122.8h.1M186.3 114.3h.1M192.0 106.9h.1M193.0 118.8h.1M201.0 121.1h.1M199.0 129.3h.1M185.6 119.2h.1M200.6 115.5h.1M213.8 119.7h.1M211.5 124.7h.1M200.3 128.8h.1M190.6 113.8h.1M199.0 120.4h.1M188.2 115.3h.1M191.8 139.4h.1M212.8 124.9h.1M204.3 130.9h.1M203.4 130.3h.1M209.7 136.0h.1M211.2 116.7h.1M207.6 129.1h.1M208.0 136.7h.1M204.9 118.3h.1M209.8 129.1h.1M202.4 125.3h.1M203.7 123.3h.1M205.5 118.4h.1M208.6 123.6h.1M216.8 122.4h.1M203.5 112.7h.1M221.1 118.2h.1M198.4 119.9h.1M202.6 120.8h.1M216.5 116.9h.1M200.7 118.5h.1M207.5 109.4h.1M210.7 118.2h.1M190.9 133.1h.1M191.7 127.5h.1M202.7 116.7h.1M189.0 117.6h.1M208.8 120.4h.1M197.8 128.8h.1M202.9 122.0h.1M195.4 112.2h.1M198.7 123.9h.1M199.1 124.0h.1M200.5 119.9h.1M202.2 124.0h.1M184.2 123.0h.1M200.9 118.4h.1M210.5 129.0h.1M212.0 125.8h.1M206.3 122.0h.1M208.7 116.2h.1M201.5 123.8h.1M201.3 112.7h.1M201.8 118.5h.1M197.3 126.3h.1M211.3 121.2h.1M193.1 121.0h.1M201.0 114.0h.1M197.5 122.8h.1M197.7 125.0h.1M191.8 127.0h.1M196.8 122.8h.1M202.7 117.7h.1M211.1 108.0h.1M204.1 125.8h.1M200.5 121.1h.1M193.1 121.8h.1M203.9 117.0h.1M202.6 118.7h.1M194.1 121.5h.1M196.0 128.1h.1M196.0 131.8h.1M202.3 121.1h.1M196.4 124.9h.1M194.0 111.1h.1M206.0 106.2h.1M211.8 116.7h.1M215.4 121.8h.1M215.9 109.8h.1M198.8 123.5h.1M197.9 122.2h.1M201.1 126.1h.1M214.2 105.0h.1M207.6 112.7h.1M215.9 109.7h.1M195.5 125.5h.1M201.0 126.2h.1M205.5 115.6h.1M189.0 130.6h.1M200.7 120.6h.1M199.9 119.6h.1M196.4 122.2h.1M204.5 112.3h.1M189.4 126.3h.1M209.6 116.8h.1M201.1 117.8h.1M205.8 120.4h.1M197.9 116.3h.1M206.1 123.5h.1M198.9 124.4h.1M203.9 106.8h.1M197.6 123.3h.1M212.9 123.1h.1M192.2 128.4h.1M200.1 127.2h.1M190.9 110.7h.1M189.2 126.5h.1M212.3 122.1h.1M203.9 120.3h.1M204.1 113.9h.1M212.6 126.0h.1M210.4 120.0h.1M209.4 127.5h.1M223.3 127.0h.1M196.3 116.2h.1M209.7 124.1h.1M207.0 121.2h.1M195.7 122.8h.1M190.4 124.3h.1M221.4 124.7h.1M195.3 115.8h.1M222.5 124.0h.1M198.2 125.7h.1M199.7 114.0h.1M203.6 124.7h.1M213.2 111.5h.1M214.8 118.5h.1M185.9 129.6h.1M210.8 124.3h.1M209.4 114.3h.1M206.8 109.4h.1M197.0 139.4h.1M216.3 122.8h.1M206.7 121.5h.1M207.7 122.2h.1M194.7 119.5h.1M186.5 116.6h.1M201.1 124.0h.1M221.1 108.2h.1M220.1 116.7h.1M198.9 121.0h.1M220.8 112.1h.1M199.4 125.4h.1M210.5 123.3h.1M203.5 128.1h.1M194.3 133.0h.1M198.4 124.3h.1M194.8 117.6h.1M210.8 124.5h.1M201.0 127.1h.1M185.3 124.1h.1M188.2 129.6h.1M195.6 121.8h.1M195.5 136.3h.1M215.3 108.3h.1M208.1 118.6h.1M214.8 122.5h.1M196.3 118.8h.1M203.0 133.1h.1M203.3 117.5h.1M199.2 127.5h.1M200.0 133.8h.1M210.0 121.7h.1M203.4 118.9h.1M182.7 131.3h.1M215.2 118.8h.1M204.9 111.6h.1M200.9 122.7h.1M201.9 121.7h.1M210.9 125.5h.1M209.2 116.7h.1M198.3 121.7h.1M189.1 112.4h.1M205.3 121.1h.1M203.2 129.6h.1M184.6 125.7h.1M200.6 112.3h.1M208.2 130.7h.1M190.1 122.7h.1M210.7 120.9h.1M198.8 128.4h.1M188.2 122.3h.1M197.1 121.3h.1M192.0 123.5h.1M213.0 123.5h.1M191.7 118.7h.1M196.2 111.5h.1M208.7 124.3h.1M201.1 131.8h.1M208.6 116.7h.1M202.9 120.3h.1M202.5 130.5h.1M213.2 113.6h.1M219.1 108.7h.1M200.3 138.6h.1M208.3 129.1h.1M203.7 124.8h.1M197.1 132.1h.1M200.9 117.8h.1M190.1 137.8h.1M190.1 115.3h.1M206.7 121.2h.1M217.1 124.5h.1M205.4 115.6h.1M207.2 110.9h.1M196.2 131.6h.1M204.9 113.1h.1M197.3 120.9h.1M205.2 122.5h.1M208.7 107.7h.1M198.8 122.6h.1M211.4 116.3h.1M191.4 116.6h.1M204.8 138.0h.1M192.2 118.7h.1M196.6 129.8h.1M207.4 119.9h.1M205.2 132.2h.1M200.2 113.7h.1M202.8 112.8h.1M204.5 127.3h.1M199.6 128.2h.1" stroke="#000" stroke-width="0.42" stroke-linecap="round" fill="none" opacity="0.6"/>
<path d="M209.9 99.3h.1M201.0 92.2h.1M207.7 93.5h.1M208.5 91.6h.1M207.0 94.1h.1M205.8 92.2h.1M204.7 88.5h.1M192.6 88.5h.1M203.2 85.8h.1M200.5 96.0h.1M201.6 76.1h.1M200.0 88.2h.1M210.1 90.6h.1M206.0 85.8h.1M199.8 79.9h.1M206.7 89.1h.1M199.0 89.3h.1M209.4 94.2h.1M207.6 95.5h.1M204.5 89.0h.1M203.0 91.7h.1M193.3 90.5h.1M203.3 84.0h.1M199.9 95.5h.1M200.8 88.4h.1M211.6 83.5h.1M202.8 86.6h.1M200.1 87.9h.1M206.2 87.4h.1M208.4 93.1h.1M196.9 89.3h.1M202.0 81.6h.1M192.9 94.6h.1M204.7 95.9h.1M212.0 93.3h.1M205.2 96.2h.1M202.3 86.7h.1M208.6 92.6h.1M200.1 86.6h.1M195.9 100.8h.1M200.9 86.2h.1M199.7 86.0h.1M203.8 89.2h.1M207.5 74.9h.1M203.8 98.4h.1M203.3 85.6h.1M214.4 86.0h.1M207.0 90.3h.1M202.2 83.3h.1M204.0 90.1h.1M213.4 80.4h.1M194.3 92.1h.1M194.5 72.9h.1M201.2 95.4h.1M192.7 80.4h.1M211.5 84.0h.1M198.0 88.0h.1M212.1 87.8h.1M207.5 88.0h.1M197.0 90.4h.1M192.8 94.7h.1M193.9 89.7h.1M190.9 88.3h.1M205.3 84.7h.1M214.0 88.9h.1M205.5 80.6h.1M200.2 90.2h.1M207.3 92.2h.1M195.1 80.5h.1M196.7 95.2h.1M193.1 81.9h.1M203.7 88.6h.1M202.6 84.2h.1M204.9 88.2h.1M201.9 90.1h.1M201.7 87.8h.1M209.4 92.8h.1M203.4 89.6h.1M210.7 81.3h.1M192.1 89.0h.1M193.3 82.9h.1M204.2 90.0h.1M201.0 84.6h.1M194.7 84.8h.1M198.3 88.7h.1M208.2 87.2h.1M196.6 91.2h.1M209.8 90.6h.1M200.4 86.7h.1M201.2 83.0h.1M208.1 87.1h.1M213.8 95.6h.1M200.2 103.3h.1M200.3 84.4h.1M193.0 88.9h.1M205.2 86.8h.1M202.3 91.5h.1M198.5 88.5h.1M201.5 97.3h.1M206.7 88.3h.1M197.2 88.0h.1M198.5 86.8h.1M204.9 93.4h.1M208.7 85.6h.1M204.0 88.7h.1M207.7 101.2h.1M208.7 93.9h.1M204.4 91.8h.1M191.8 90.7h.1M202.1 88.6h.1M207.0 106.5h.1M204.5 82.1h.1M200.8 93.5h.1M206.9 89.9h.1M206.1 84.5h.1M211.4 77.3h.1M201.0 84.6h.1M200.4 90.1h.1M203.6 94.3h.1M213.7 91.8h.1M197.8 89.0h.1M198.6 84.5h.1M200.7 94.2h.1M198.5 90.7h.1M198.8 93.8h.1M209.5 80.9h.1M207.1 84.1h.1M204.9 88.4h.1M207.7 81.9h.1M213.7 90.9h.1M199.4 96.0h.1M210.6 91.9h.1M200.2 84.4h.1M198.0 97.9h.1M203.3 88.8h.1M201.0 95.8h.1M201.0 93.7h.1M193.0 84.6h.1M204.9 83.6h.1M213.7 77.5h.1M205.2 91.9h.1M205.5 88.6h.1M202.4 108.7h.1M204.5 85.5h.1M187.9 99.3h.1M202.9 99.0h.1M202.9 95.1h.1M210.6 85.8h.1M190.1 95.6h.1M213.8 80.6h.1M200.2 88.5h.1M201.5 92.3h.1M202.4 92.3h.1M198.4 80.1h.1M213.2 90.4h.1M205.2 82.5h.1M205.6 88.7h.1M205.7 89.7h.1M208.9 96.8h.1M201.0 86.8h.1M207.1 80.9h.1M199.0 86.9h.1M191.3 99.7h.1M201.5 87.8h.1M196.4 92.0h.1M200.5 82.3h.1M204.9 97.5h.1M194.7 88.8h.1M215.2 87.9h.1M199.0 97.9h.1M204.3 94.2h.1M212.2 92.6h.1M204.8 99.8h.1M194.6 82.6h.1M201.8 85.6h.1M202.1 78.5h.1M194.0 93.0h.1M201.9 91.3h.1M200.8 88.9h.1M194.5 98.9h.1M208.9 81.5h.1M200.5 91.0h.1M200.6 88.7h.1M204.2 78.6h.1M207.2 91.6h.1M197.6 87.9h.1M202.5 87.5h.1M203.3 80.4h.1M203.3 91.3h.1M205.2 91.5h.1M199.8 89.8h.1M208.4 89.4h.1M204.2 89.3h.1M206.0 81.8h.1M202.7 93.8h.1M198.0 92.2h.1M200.4 86.6h.1M196.7 83.9h.1M209.6 80.8h.1M203.8 81.4h.1M214.3 92.9h.1M198.6 82.6h.1M201.5 90.9h.1M212.3 97.2h.1M197.5 90.3h.1M208.2 85.0h.1M200.4 94.2h.1M195.3 89.2h.1M202.6 87.4h.1M203.1 79.9h.1M207.6 86.4h.1M214.0 100.1h.1M200.4 99.9h.1M210.9 84.5h.1M201.6 95.8h.1M198.9 87.0h.1M189.0 81.1h.1M196.5 85.0h.1M198.9 90.5h.1M204.4 86.9h.1M195.4 90.4h.1M206.4 88.7h.1M210.7 86.4h.1M207.7 90.5h.1M210.4 98.1h.1M196.5 78.8h.1M208.8 90.8h.1M204.9 86.5h.1M198.8 95.8h.1M205.6 86.0h.1M203.3 90.7h.1M195.7 85.5h.1M205.8 89.8h.1M195.3 90.8h.1M214.1 92.5h.1M195.6 86.4h.1M199.5 84.6h.1M198.4 85.7h.1M202.5 82.1h.1M208.1 90.8h.1M213.9 93.7h.1M208.4 91.9h.1M202.4 83.0h.1M206.7 89.6h.1M199.4 91.3h.1M204.8 85.4h.1M211.1 86.3h.1M203.7 95.0h.1M200.1 87.3h.1M205.5 87.2h.1M200.2 82.7h.1M204.3 86.9h.1M207.6 94.7h.1M202.9 93.4h.1M199.1 98.0h.1M199.9 88.3h.1M201.0 86.3h.1M207.4 89.0h.1M198.1 93.4h.1M203.2 92.3h.1M204.2 86.5h.1M193.0 87.4h.1M198.1 95.8h.1M201.8 97.3h.1M215.8 95.6h.1M216.3 83.9h.1M200.2 83.3h.1M195.6 81.9h.1M208.0 84.6h.1M201.2 92.3h.1M200.7 97.7h.1M209.6 93.1h.1M212.3 92.1h.1M204.1 95.2h.1M208.8 81.5h.1M209.2 94.8h.1M190.5 100.5h.1M203.9 97.0h.1M196.5 90.3h.1M199.2 84.4h.1M204.6 81.0h.1M202.9 93.0h.1M198.9 83.0h.1M206.2 94.2h.1M208.1 86.1h.1M200.8 96.8h.1M207.9 90.9h.1M204.3 88.2h.1M206.4 93.0h.1M203.3 90.6h.1M195.3 88.4h.1M211.9 90.4h.1M195.4 86.6h.1M203.5 97.2h.1M214.9 88.9h.1M202.2 89.9h.1M196.9 96.5h.1M196.4 93.2h.1M200.5 83.4h.1M204.9 98.4h.1" stroke="#000" stroke-width="0.42" stroke-linecap="round" fill="none" opacity="0.5"/>
<path d="M220.7 122.8h.1M226.8 132.6h.1M217.6 105.7h.1M230.5 105.5h.1M246.7 103.2h.1M235.8 114.6h.1M246.8 114.2h.1M232.8 139.8h.1" stroke="#000" stroke-width="0.42" stroke-linecap="round" fill="none" opacity="0.45"/>
<rect x="177.3" y="43.6" width="106.0" height="105.70000000000002" fill="none" stroke="#8a8a8a" stroke-width="1"/>
<line x1="177.30" y1="43.60" x2="177.30" y2="149.30" stroke="#666" stroke-width="1"/>
<line x1="176.80" y1="149.30" x2="283.80" y2="149.30" stroke="#3a3a3a" stroke-width="1"/>
<line x1="219.50" y1="100.50" x2="224.00" y2="43.60" stroke="#0a0a0a" stroke-width="1.0"/>
<line x1="219.50" y1="100.50" x2="177.30" y2="105.80" stroke="#0a0a0a" stroke-width="1.0"/>
<line x1="219.50" y1="100.50" x2="283.30" y2="106.00" stroke="#0a0a0a" stroke-width="1.0"/>
<line x1="219.50" y1="100.50" x2="231.40" y2="149.30" stroke="#0a0a0a" stroke-width="1.0"/>
<text x="179.90" y="52.80" font-size="6.9" text-anchor="start" fill="#1a1a1a" stroke="#1a1a1a" stroke-width="0.22">Q1</text>
<text x="179.90" y="60.50" font-size="6.9" text-anchor="start" fill="#1a1a1a" stroke="#1a1a1a" stroke-width="0.22" letter-spacing="0.4">3.79</text>
<text x="281.70" y="52.80" font-size="6.9" text-anchor="end" fill="#1a1a1a" stroke="#1a1a1a" stroke-width="0.22">Q2</text>
<text x="281.40" y="60.50" font-size="6.9" text-anchor="end" fill="#1a1a1a" stroke="#1a1a1a" stroke-width="0.22" letter-spacing="0.4">0.042</text>
<text x="179.90" y="137.50" font-size="6.9" text-anchor="start" fill="#1a1a1a" stroke="#1a1a1a" stroke-width="0.22">Q4</text>
<text x="179.90" y="146.30" font-size="6.9" text-anchor="start" fill="#1a1a1a" stroke="#1a1a1a" stroke-width="0.22" letter-spacing="0.4">96.0</text>
<text x="281.70" y="137.50" font-size="6.9" text-anchor="end" fill="#1a1a1a" stroke="#1a1a1a" stroke-width="0.22">Q3</text>
<text x="281.40" y="146.30" font-size="6.9" text-anchor="end" fill="#1a1a1a" stroke="#1a1a1a" stroke-width="0.22" letter-spacing="0.4">0.18</text>
<text x="169.60" y="55.00" font-size="8.7" text-anchor="end" fill="#1a1a1a" stroke="#1a1a1a" stroke-width="0.22">10<tspan font-size="5.4" dy="-3.30" font-style="normal" letter-spacing="0">5</tspan></text>
<text x="169.60" y="75.30" font-size="8.7" text-anchor="end" fill="#1a1a1a" stroke="#1a1a1a" stroke-width="0.22">10<tspan font-size="5.4" dy="-3.30" font-style="normal" letter-spacing="0">4</tspan></text>
<text x="169.60" y="94.80" font-size="8.7" text-anchor="end" fill="#1a1a1a" stroke="#1a1a1a" stroke-width="0.22">10<tspan font-size="5.4" dy="-3.30" font-style="normal" letter-spacing="0">3</tspan></text>
<text x="169.60" y="114.50" font-size="8.7" text-anchor="end" fill="#1a1a1a" stroke="#1a1a1a" stroke-width="0.22">10<tspan font-size="5.4" dy="-3.30" font-style="normal" letter-spacing="0">2</tspan></text>
<text x="168.80" y="127.10" font-size="8.7" text-anchor="end" fill="#1a1a1a" stroke="#1a1a1a" stroke-width="0.22">0</text>
<text x="169.60" y="140.60" font-size="8.7" text-anchor="end" fill="#1a1a1a" stroke="#1a1a1a" stroke-width="0.22">−10<tspan font-size="5.4" dy="-3.30" font-style="normal" letter-spacing="0">2</tspan></text>
<line x1="174.50" y1="52.00" x2="177.30" y2="52.00" stroke="#555" stroke-width="0.8"/>
<line x1="174.50" y1="71.50" x2="177.30" y2="71.50" stroke="#555" stroke-width="0.8"/>
<line x1="174.50" y1="91.20" x2="177.30" y2="91.20" stroke="#555" stroke-width="0.8"/>
<line x1="174.50" y1="110.60" x2="177.30" y2="110.60" stroke="#555" stroke-width="0.8"/>
<line x1="174.50" y1="125.60" x2="177.30" y2="125.60" stroke="#555" stroke-width="0.8"/>
<line x1="174.50" y1="138.20" x2="177.30" y2="138.20" stroke="#555" stroke-width="0.8"/>
<line x1="175.70" y1="46.50" x2="177.30" y2="46.50" stroke="#444" stroke-width="0.6"/>
<line x1="175.70" y1="49.40" x2="177.30" y2="49.40" stroke="#444" stroke-width="0.6"/>
<line x1="175.70" y1="52.30" x2="177.30" y2="52.30" stroke="#444" stroke-width="0.6"/>
<line x1="175.70" y1="55.20" x2="177.30" y2="55.20" stroke="#444" stroke-width="0.6"/>
<line x1="175.70" y1="58.10" x2="177.30" y2="58.10" stroke="#444" stroke-width="0.6"/>
<line x1="175.70" y1="61.00" x2="177.30" y2="61.00" stroke="#444" stroke-width="0.6"/>
<line x1="175.70" y1="63.90" x2="177.30" y2="63.90" stroke="#444" stroke-width="0.6"/>
<line x1="175.70" y1="66.80" x2="177.30" y2="66.80" stroke="#444" stroke-width="0.6"/>
<line x1="175.70" y1="69.70" x2="177.30" y2="69.70" stroke="#444" stroke-width="0.6"/>
<line x1="175.70" y1="72.60" x2="177.30" y2="72.60" stroke="#444" stroke-width="0.6"/>
<line x1="175.70" y1="75.50" x2="177.30" y2="75.50" stroke="#444" stroke-width="0.6"/>
<line x1="175.70" y1="78.40" x2="177.30" y2="78.40" stroke="#444" stroke-width="0.6"/>
<line x1="175.70" y1="81.30" x2="177.30" y2="81.30" stroke="#444" stroke-width="0.6"/>
<line x1="175.70" y1="86.00" x2="177.30" y2="86.00" stroke="#444" stroke-width="0.6"/>
<line x1="175.70" y1="88.70" x2="177.30" y2="88.70" stroke="#444" stroke-width="0.6"/>
<line x1="175.70" y1="91.40" x2="177.30" y2="91.40" stroke="#444" stroke-width="0.6"/>
<line x1="175.70" y1="94.10" x2="177.30" y2="94.10" stroke="#444" stroke-width="0.6"/>
<line x1="175.70" y1="96.80" x2="177.30" y2="96.80" stroke="#444" stroke-width="0.6"/>
<line x1="175.70" y1="99.50" x2="177.30" y2="99.50" stroke="#444" stroke-width="0.6"/>
<line x1="175.70" y1="102.20" x2="177.30" y2="102.20" stroke="#444" stroke-width="0.6"/>
<line x1="175.70" y1="104.90" x2="177.30" y2="104.90" stroke="#444" stroke-width="0.6"/>
<line x1="175.70" y1="107.60" x2="177.30" y2="107.60" stroke="#444" stroke-width="0.6"/>
<line x1="175.40" y1="121.60" x2="177.30" y2="121.60" stroke="#333" stroke-width="0.7"/>
<line x1="175.40" y1="123.00" x2="177.30" y2="123.00" stroke="#333" stroke-width="0.7"/>
<line x1="175.40" y1="124.40" x2="177.30" y2="124.40" stroke="#333" stroke-width="0.7"/>
<line x1="175.40" y1="127.00" x2="177.30" y2="127.00" stroke="#333" stroke-width="0.7"/>
<line x1="175.40" y1="128.40" x2="177.30" y2="128.40" stroke="#333" stroke-width="0.7"/>
<line x1="175.40" y1="129.80" x2="177.30" y2="129.80" stroke="#333" stroke-width="0.7"/>
<text x="201.10" y="163.60" font-size="8.7" text-anchor="middle" fill="#1a1a1a" stroke="#1a1a1a" stroke-width="0.22">0</text>
<text x="242.80" y="163.60" font-size="8.7" text-anchor="end" fill="#1a1a1a" stroke="#1a1a1a" stroke-width="0.22">10<tspan font-size="5.4" dy="-3.30" font-style="normal" letter-spacing="0">3</tspan></text>
<text x="262.50" y="163.60" font-size="8.7" text-anchor="end" fill="#1a1a1a" stroke="#1a1a1a" stroke-width="0.22">10<tspan font-size="5.4" dy="-3.30" font-style="normal" letter-spacing="0">4</tspan></text>
<text x="282.00" y="163.60" font-size="8.7" text-anchor="end" fill="#1a1a1a" stroke="#1a1a1a" stroke-width="0.22">10<tspan font-size="5.4" dy="-3.30" font-style="normal" letter-spacing="0">5</tspan></text>
<line x1="201.10" y1="149.30" x2="201.10" y2="152.10" stroke="#555" stroke-width="0.8"/>
<line x1="232.80" y1="149.30" x2="232.80" y2="152.10" stroke="#555" stroke-width="0.8"/>
<line x1="253.30" y1="149.30" x2="253.30" y2="152.10" stroke="#555" stroke-width="0.8"/>
<line x1="273.30" y1="149.30" x2="273.30" y2="152.10" stroke="#555" stroke-width="0.8"/>
<line x1="182.30" y1="149.30" x2="182.30" y2="150.90" stroke="#444" stroke-width="0.6"/>
<line x1="185.55" y1="149.30" x2="185.55" y2="150.90" stroke="#444" stroke-width="0.6"/>
<line x1="188.80" y1="149.30" x2="188.80" y2="150.90" stroke="#444" stroke-width="0.6"/>
<line x1="192.05" y1="149.30" x2="192.05" y2="150.90" stroke="#444" stroke-width="0.6"/>
<line x1="195.30" y1="149.30" x2="195.30" y2="150.90" stroke="#444" stroke-width="0.6"/>
<line x1="198.55" y1="149.30" x2="198.55" y2="150.90" stroke="#444" stroke-width="0.6"/>
<line x1="201.80" y1="149.30" x2="201.80" y2="150.90" stroke="#444" stroke-width="0.6"/>
<line x1="205.05" y1="149.30" x2="205.05" y2="150.90" stroke="#444" stroke-width="0.6"/>
<line x1="208.30" y1="149.30" x2="208.30" y2="150.90" stroke="#444" stroke-width="0.6"/>
<line x1="211.55" y1="149.30" x2="211.55" y2="150.90" stroke="#444" stroke-width="0.6"/>
<line x1="214.80" y1="149.30" x2="214.80" y2="150.90" stroke="#444" stroke-width="0.6"/>
<line x1="218.05" y1="149.30" x2="218.05" y2="150.90" stroke="#444" stroke-width="0.6"/>
<line x1="221.30" y1="149.30" x2="221.30" y2="150.90" stroke="#444" stroke-width="0.6"/>
<line x1="224.55" y1="149.30" x2="224.55" y2="150.90" stroke="#444" stroke-width="0.6"/>
<line x1="227.80" y1="149.30" x2="227.80" y2="150.90" stroke="#444" stroke-width="0.6"/>
<line x1="231.05" y1="149.30" x2="231.05" y2="150.90" stroke="#444" stroke-width="0.6"/>
<line x1="234.30" y1="149.30" x2="234.30" y2="150.90" stroke="#444" stroke-width="0.6"/>
<line x1="237.55" y1="149.30" x2="237.55" y2="150.90" stroke="#444" stroke-width="0.6"/>
<line x1="240.80" y1="149.30" x2="240.80" y2="150.90" stroke="#444" stroke-width="0.6"/>
<line x1="244.05" y1="149.30" x2="244.05" y2="150.90" stroke="#444" stroke-width="0.6"/>
<line x1="247.30" y1="149.30" x2="247.30" y2="150.90" stroke="#444" stroke-width="0.6"/>
<line x1="250.55" y1="149.30" x2="250.55" y2="150.90" stroke="#444" stroke-width="0.6"/>
<line x1="253.80" y1="149.30" x2="253.80" y2="150.90" stroke="#444" stroke-width="0.6"/>
<line x1="257.05" y1="149.30" x2="257.05" y2="150.90" stroke="#444" stroke-width="0.6"/>
<line x1="260.30" y1="149.30" x2="260.30" y2="150.90" stroke="#444" stroke-width="0.6"/>
<line x1="263.55" y1="149.30" x2="263.55" y2="150.90" stroke="#444" stroke-width="0.6"/>
<line x1="266.80" y1="149.30" x2="266.80" y2="150.90" stroke="#444" stroke-width="0.6"/>
<line x1="270.05" y1="149.30" x2="270.05" y2="150.90" stroke="#444" stroke-width="0.6"/>
<line x1="273.30" y1="149.30" x2="273.30" y2="150.90" stroke="#444" stroke-width="0.6"/>
<line x1="276.55" y1="149.30" x2="276.55" y2="150.90" stroke="#444" stroke-width="0.6"/>
<line x1="279.80" y1="149.30" x2="279.80" y2="150.90" stroke="#444" stroke-width="0.6"/>
<line x1="197.40" y1="149.30" x2="197.40" y2="151.30" stroke="#333" stroke-width="0.7"/>
<line x1="198.90" y1="149.30" x2="198.90" y2="151.30" stroke="#333" stroke-width="0.7"/>
<line x1="200.10" y1="149.30" x2="200.10" y2="151.30" stroke="#333" stroke-width="0.7"/>
<line x1="202.10" y1="149.30" x2="202.10" y2="151.30" stroke="#333" stroke-width="0.7"/>
<line x1="203.40" y1="149.30" x2="203.40" y2="151.30" stroke="#333" stroke-width="0.7"/>
<line x1="204.90" y1="149.30" x2="204.90" y2="151.30" stroke="#333" stroke-width="0.7"/>
<text x="187.60" y="34.60" font-size="9.6" text-anchor="start" fill="#1a1a1a" stroke="#1a1a1a" stroke-width="0.22">Nmur1<tspan font-size="6.4" dy="-3.60" font-style="normal" letter-spacing="0.5">iCre</tspan><tspan dy="3.60">; </tspan><tspan font-style="italic">Il17rb</tspan><tspan font-size="6.4" dy="-3.60" font-style="normal" letter-spacing="0.5">fl/fl</tspan></text>
<text x="0.00" y="0.00" font-size="9.3" text-anchor="middle" fill="#1a1a1a" stroke="#1a1a1a" stroke-width="0.22" transform="translate(9.30 97.00) rotate(-90)" textLength="110.5" lengthAdjust="spacingAndGlyphs">KLRG1-PerCP-eFluor 710</text>
<text x="40.00" y="176.40" font-size="10.2" text-anchor="start" fill="#1a1a1a" stroke="#1a1a1a" stroke-width="0.22" textLength="56.6" lengthAdjust="spacingAndGlyphs">IL-17RB-APC</text>
<line x1="101.00" y1="173.30" x2="281.00" y2="173.30" stroke="#3d5a80" stroke-width="0.9"/>
<path d="M283.4 173.3l-4.4-1.9v3.8z" fill="#3d5a80"/>
<text x="-0.30" y="219.20" font-size="15.2" text-anchor="start" fill="#000" stroke="#000" stroke-width="0.3" font-weight="bold">e</text>
<line x1="97.30" y1="254.40" x2="213.50" y2="254.40" stroke="#222" stroke-width="0.9"/>
<path d="M217 254.4l-4.6-1.9v3.8z" fill="#222"/>
<line x1="97.30" y1="236.00" x2="97.30" y2="259.60" stroke="#222" stroke-width="0.9"/>
<line x1="198.00" y1="236.00" x2="198.00" y2="259.60" stroke="#222" stroke-width="0.9"/>
<line x1="97.30" y1="249.70" x2="198.00" y2="249.70" stroke="#2f6b2f" stroke-width="0.9"/>
<path d="M97.5 245.2l8.6 4.5-8.6 4.5z" fill="#2f6b2f"/>
<text x="105.60" y="246.80" font-size="10.5" text-anchor="start" fill="#2f6b2f" stroke="#2f6b2f" stroke-width="0.22" textLength="47.0" lengthAdjust="spacingAndGlyphs">Succinate</text>
<text x="178.80" y="230.00" font-size="10" text-anchor="start" fill="#1a1a1a" stroke="#1a1a1a" stroke-width="0.22" textLength="38.2" lengthAdjust="spacingAndGlyphs">Analysis</text>
<text x="82.40" y="272.80" font-size="10.2" text-anchor="start" fill="#1a1a1a" stroke="#1a1a1a" stroke-width="0.22" textLength="26.8" lengthAdjust="spacingAndGlyphs">Day 0</text>
<text x="197.70" y="272.80" font-size="10.2" text-anchor="middle" fill="#1a1a1a" stroke="#1a1a1a" stroke-width="0.22">4</text>
<path d="M68.5 392.2h.1M70.7 390.1h.1M67.5 384.0h.1M61.7 387.5h.1M67.4 391.8h.1M64.4 387.8h.1M72.6 385.6h.1M66.1 388.4h.1M64.6 392.8h.1M62.0 387.9h.1M61.8 386.7h.1M71.1 383.1h.1M61.8 388.7h.1M67.6 386.6h.1M67.9 388.1h.1M65.5 388.9h.1M70.1 385.4h.1M69.1 389.5h.1M66.0 386.7h.1M67.6 390.9h.1M63.9 390.7h.1M66.7 391.0h.1M67.4 388.1h.1M67.2 390.5h.1M62.4 388.7h.1M59.6 389.3h.1M65.2 388.7h.1M69.5 391.3h.1M70.7 391.3h.1M66.0 386.5h.1M74.0 386.8h.1M65.6 389.9h.1M64.3 389.1h.1M67.2 387.2h.1M63.6 388.8h.1M67.8 385.9h.1M67.0 389.0h.1M64.1 389.8h.1M62.7 391.2h.1M64.6 391.5h.1M66.9 388.8h.1M62.8 390.8h.1M63.4 394.9h.1M67.9 389.2h.1M66.7 390.6h.1M67.9 389.8h.1M69.1 388.3h.1M71.2 384.5h.1M61.9 390.3h.1M66.5 384.5h.1M63.1 386.7h.1M70.2 390.5h.1M61.8 384.9h.1M67.0 385.2h.1M64.8 387.1h.1M66.7 390.3h.1M64.6 387.2h.1M67.4 393.2h.1M67.8 387.7h.1M69.3 388.3h.1M62.7 390.5h.1M71.3 385.6h.1M68.8 385.3h.1M66.4 388.4h.1M65.6 388.4h.1M68.6 387.3h.1M66.0 387.8h.1M67.4 386.9h.1M68.9 389.5h.1M64.9 385.1h.1M65.8 391.5h.1M68.4 388.7h.1M72.4 393.0h.1M68.1 392.6h.1M65.9 387.7h.1M67.3 383.4h.1M66.7 387.3h.1M70.5 390.2h.1M71.1 387.4h.1M70.9 389.1h.1M68.1 389.8h.1M63.0 391.2h.1M65.3 390.5h.1M66.5 385.9h.1M65.7 389.5h.1M65.8 393.4h.1M70.1 388.9h.1M65.6 392.7h.1M66.7 391.9h.1M62.7 383.1h.1M68.8 391.2h.1M66.2 388.2h.1M67.9 390.1h.1M66.4 388.7h.1M67.3 391.7h.1M68.7 381.4h.1M67.6 387.8h.1M69.7 390.7h.1M65.1 388.4h.1M59.9 388.3h.1M63.5 389.0h.1M64.6 392.1h.1M70.3 387.7h.1M64.1 392.3h.1M62.7 387.7h.1M65.5 389.3h.1M66.8 386.1h.1M69.1 389.7h.1M67.6 393.1h.1M72.0 389.4h.1M65.4 387.9h.1M66.3 385.7h.1M64.6 387.2h.1M68.1 390.7h.1M59.5 384.2h.1M64.8 385.6h.1M66.5 383.7h.1M65.9 389.2h.1M67.8 387.4h.1M67.8 390.8h.1M65.6 385.7h.1M65.1 389.5h.1M67.4 383.9h.1M62.3 384.1h.1M71.8 389.8h.1M67.1 385.3h.1M60.5 394.3h.1M68.4 381.8h.1M71.3 389.7h.1M66.5 389.4h.1M69.2 383.1h.1M67.4 385.1h.1M65.4 388.1h.1M65.4 386.6h.1M67.1 387.5h.1M67.4 390.7h.1M64.1 388.1h.1M64.1 390.9h.1M68.7 391.5h.1M69.7 389.0h.1M63.7 386.5h.1M70.1 389.0h.1M68.9 387.0h.1M66.0 394.0h.1M69.4 384.2h.1M64.6 389.0h.1M69.6 391.3h.1M69.1 392.1h.1M68.6 391.0h.1M64.1 385.3h.1M65.1 392.2h.1M70.5 385.6h.1M65.8 388.9h.1M68.3 389.6h.1M70.9 389.4h.1M66.0 387.9h.1M69.7 387.9h.1M68.1 387.5h.1M63.2 382.7h.1M65.8 386.4h.1M68.9 387.6h.1M63.9 390.7h.1M65.4 394.5h.1M65.3 388.8h.1M64.4 392.9h.1M67.4 388.0h.1M66.3 382.8h.1M70.2 388.7h.1M70.0 386.3h.1M70.8 386.8h.1M66.7 394.3h.1M65.2 388.7h.1M66.2 389.0h.1M67.0 388.2h.1M67.9 387.4h.1M70.4 390.5h.1M63.3 387.2h.1M65.7 391.3h.1M61.0 391.7h.1M61.0 386.9h.1M64.1 387.7h.1M68.9 391.2h.1M66.3 388.1h.1M63.8 391.9h.1M65.2 396.2h.1M62.1 386.8h.1M68.6 393.7h.1M65.7 389.9h.1M64.8 389.2h.1M60.5 390.4h.1M65.1 389.8h.1M66.2 385.9h.1M62.1 385.9h.1M66.5 390.7h.1M69.8 391.3h.1M72.5 391.4h.1M71.8 390.9h.1M67.5 383.8h.1M69.4 388.3h.1M65.5 384.9h.1M70.2 388.6h.1M65.4 386.4h.1M66.4 389.9h.1M68.3 388.9h.1M67.2 388.8h.1M65.4 391.8h.1M66.2 387.0h.1M71.6 386.0h.1M65.3 389.0h.1M66.1 388.4h.1M69.4 391.4h.1M62.8 393.9h.1M63.2 385.8h.1M68.6 385.8h.1M63.1 391.0h.1M68.1 389.7h.1M70.7 391.5h.1M65.3 387.3h.1M67.8 387.5h.1M67.4 391.1h.1M67.4 384.7h.1M71.3 388.5h.1M67.6 384.1h.1M66.5 385.1h.1M71.2 387.3h.1M62.6 388.3h.1M63.9 388.8h.1M63.9 383.8h.1M66.1 387.8h.1M64.3 390.5h.1" stroke="#2a4a32" stroke-width="0.5" stroke-linecap="round" fill="none" opacity="0.8"/>
<path d="M73.4 387.1h.1M67.5 389.5h.1M73.9 388.5h.1M60.8 390.9h.1M83.4 390.9h.1M70.1 384.6h.1M58.1 390.3h.1M71.7 389.9h.1M69.0 394.3h.1M67.3 377.6h.1M67.1 388.5h.1M73.0 390.6h.1M72.5 390.0h.1M69.9 381.4h.1M65.9 392.9h.1M78.6 373.5h.1M67.1 385.3h.1M73.5 377.2h.1M64.4 388.5h.1M62.8 378.4h.1M80.0 386.2h.1M68.4 390.8h.1M80.3 383.8h.1M67.0 385.8h.1M74.1 392.5h.1M78.2 385.2h.1M60.2 384.2h.1M55.7 389.4h.1M54.7 389.8h.1M61.2 389.8h.1M77.5 386.9h.1M67.1 387.8h.1M63.9 389.4h.1M66.3 388.4h.1M62.7 390.4h.1M70.1 383.0h.1M67.5 380.2h.1M58.8 381.7h.1M70.6 385.5h.1M67.7 389.0h.1M66.1 386.6h.1M64.3 399.0h.1M62.6 390.8h.1M66.3 397.1h.1M60.5 387.1h.1M70.5 385.0h.1M81.7 388.9h.1M70.6 378.7h.1M70.6 381.2h.1M71.5 389.5h.1M67.1 384.6h.1M62.7 384.2h.1M77.9 383.3h.1M65.9 389.7h.1M59.1 385.3h.1M75.3 388.9h.1M71.5 391.3h.1M67.7 375.1h.1M72.8 390.5h.1M52.6 386.4h.1M77.1 381.4h.1M74.0 395.2h.1M67.2 386.1h.1M61.4 390.9h.1M69.5 390.5h.1M67.5 387.8h.1M64.0 393.2h.1M67.0 394.1h.1M73.7 383.7h.1M60.7 393.0h.1M70.5 385.6h.1M74.7 376.9h.1M71.6 385.7h.1M72.7 384.5h.1M64.8 391.1h.1M70.3 380.0h.1M71.3 391.2h.1M57.3 382.5h.1M60.5 382.4h.1M63.4 397.5h.1M61.4 382.5h.1M66.2 394.5h.1M65.3 392.5h.1M74.6 385.4h.1M70.5 392.8h.1M69.4 396.1h.1M70.4 395.9h.1M61.4 388.8h.1M52.4 380.0h.1M64.3 385.4h.1M66.4 390.3h.1M58.5 378.5h.1M72.8 389.1h.1M74.0 391.9h.1M69.9 384.8h.1M71.1 382.6h.1M59.4 385.8h.1M82.3 382.5h.1M76.5 386.6h.1M79.0 384.9h.1M60.2 384.1h.1M66.6 390.5h.1M63.2 388.6h.1M83.1 387.7h.1M72.1 401.4h.1M63.0 387.5h.1M65.7 388.9h.1M62.7 385.9h.1M72.6 387.6h.1M55.4 393.5h.1M70.3 397.6h.1M62.4 389.4h.1M62.0 391.7h.1M64.2 394.3h.1M68.5 376.0h.1M60.5 391.0h.1M72.7 392.8h.1M71.1 385.1h.1M68.7 387.8h.1M67.9 392.8h.1M61.8 385.9h.1M76.4 386.8h.1M71.4 384.7h.1M68.2 394.3h.1M78.2 387.7h.1M63.7 395.4h.1M55.6 386.5h.1M72.5 400.0h.1M74.6 386.8h.1M67.4 387.2h.1M61.7 385.4h.1M69.9 378.6h.1M62.6 371.9h.1M73.9 388.1h.1M57.1 379.7h.1M63.3 396.2h.1M70.9 381.6h.1M64.5 378.9h.1M61.6 378.4h.1M79.5 391.2h.1M76.2 389.9h.1M63.0 392.7h.1M70.9 383.7h.1M57.1 387.3h.1M59.9 386.0h.1M54.6 377.8h.1M74.0 390.4h.1M68.7 386.1h.1M69.1 382.4h.1M72.8 395.9h.1M63.9 379.3h.1M67.9 378.4h.1M80.7 386.9h.1M70.5 388.4h.1M64.5 383.5h.1M60.8 398.0h.1M68.3 393.2h.1M77.5 385.9h.1M64.5 385.3h.1M70.2 382.2h.1M74.0 386.1h.1M62.8 391.2h.1M77.1 382.7h.1M66.6 386.5h.1M71.2 391.6h.1M67.0 382.5h.1M63.9 392.1h.1M79.8 388.4h.1M62.4 400.9h.1M75.3 383.6h.1M59.5 382.5h.1M87.1 394.1h.1M61.3 383.3h.1M65.4 380.5h.1M71.6 381.6h.1M66.2 390.5h.1M66.2 392.7h.1M64.4 393.7h.1M63.5 384.3h.1M58.2 389.2h.1M72.3 387.5h.1M77.2 390.9h.1M70.1 378.6h.1M66.6 389.3h.1M60.0 395.3h.1M69.9 395.5h.1M59.7 397.0h.1M76.8 388.2h.1M65.5 396.1h.1M61.4 386.3h.1M75.2 387.0h.1M62.5 381.2h.1M64.6 394.2h.1M85.8 382.2h.1M59.8 390.8h.1M66.6 385.1h.1M66.8 394.6h.1M72.9 383.3h.1M71.1 380.8h.1M75.2 376.5h.1M64.9 392.3h.1M79.1 390.2h.1M54.8 386.4h.1M73.9 390.9h.1M70.3 384.4h.1M55.1 384.8h.1M68.8 383.8h.1M62.2 389.5h.1M65.6 388.4h.1M74.8 383.6h.1M74.3 381.3h.1M73.6 389.6h.1M71.1 391.3h.1M69.2 378.0h.1M78.9 388.6h.1M69.2 387.7h.1M70.4 386.2h.1M59.0 381.0h.1M79.5 390.7h.1M60.7 396.1h.1M69.7 381.4h.1M62.7 383.8h.1M75.3 391.5h.1M66.2 386.1h.1M63.1 388.0h.1M61.0 392.2h.1M67.2 392.5h.1M78.1 389.1h.1M73.6 370.9h.1M61.7 388.8h.1M62.1 393.3h.1M65.7 386.4h.1M53.9 391.1h.1M64.5 394.5h.1M71.2 387.1h.1M73.6 386.0h.1M62.4 387.2h.1M66.3 393.3h.1M63.3 381.6h.1M76.8 392.3h.1M65.4 388.1h.1M57.2 396.4h.1M64.3 375.7h.1M67.0 390.2h.1M72.2 388.7h.1M69.5 386.5h.1M67.3 386.1h.1M84.3 387.8h.1M68.8 376.2h.1M67.6 390.5h.1M72.5 379.0h.1M67.4 396.0h.1M66.6 386.4h.1M71.8 386.9h.1M64.4 383.9h.1M56.5 388.4h.1M71.6 390.7h.1M62.9 389.7h.1M61.0 378.5h.1M72.1 380.5h.1" stroke="#2a4a32" stroke-width="0.48" stroke-linecap="round" fill="none" opacity="0.7"/>
<path d="M91.4 361.7h.1M102.7 374.8h.1M117.3 376.8h.1M108.2 348.6h.1M92.6 366.2h.1M91.7 367.7h.1M117.4 364.9h.1M88.3 373.6h.1M124.7 367.3h.1M131.5 351.6h.1M104.9 368.9h.1M117.0 372.2h.1M104.7 356.7h.1M104.1 356.5h.1M107.3 359.1h.1M114.5 355.1h.1M116.1 354.2h.1M119.4 369.6h.1M106.0 360.2h.1M110.0 364.9h.1M95.4 369.3h.1M86.5 355.7h.1M93.5 365.5h.1M97.4 344.5h.1M117.9 355.5h.1M102.8 365.1h.1M110.1 366.0h.1M92.6 366.6h.1M116.6 366.3h.1M122.0 347.9h.1M119.2 348.4h.1M94.3 365.4h.1M131.3 367.6h.1M104.9 362.9h.1M118.0 350.3h.1M102.6 357.8h.1M119.1 364.4h.1M109.7 371.2h.1M103.7 355.1h.1M116.1 345.8h.1M109.3 361.3h.1M89.2 366.2h.1M97.1 374.3h.1M114.6 367.9h.1M116.9 360.3h.1M118.2 365.0h.1M112.4 369.6h.1M127.5 345.2h.1M101.5 351.0h.1M93.1 369.6h.1M96.1 361.9h.1M100.4 370.7h.1M123.6 360.2h.1M99.1 358.5h.1M104.4 349.3h.1M93.5 365.5h.1M109.0 362.9h.1M110.1 355.5h.1M105.2 354.1h.1M109.0 345.5h.1M112.0 363.0h.1M102.0 363.9h.1M117.3 360.8h.1M127.0 368.4h.1M107.7 360.2h.1M93.9 355.3h.1M108.6 362.6h.1M110.2 374.7h.1M110.9 364.4h.1M104.0 353.6h.1M101.6 362.0h.1M114.1 366.3h.1M95.7 362.8h.1M114.5 349.3h.1M103.9 350.8h.1M99.2 372.3h.1M110.4 378.7h.1M95.6 371.0h.1M104.8 349.5h.1M108.6 363.5h.1M103.7 372.1h.1M103.2 368.4h.1M106.5 357.8h.1M110.6 369.8h.1M121.8 369.1h.1M88.6 354.1h.1M103.8 371.9h.1M86.5 366.2h.1M94.0 370.2h.1M117.5 358.1h.1M120.9 365.7h.1M104.9 373.8h.1M129.1 357.8h.1M109.3 364.2h.1M115.3 357.4h.1M104.3 371.8h.1M105.3 372.8h.1M109.5 375.2h.1M122.3 350.4h.1M114.0 358.9h.1M100.3 369.9h.1M117.9 364.5h.1M118.3 373.2h.1M110.5 366.4h.1M111.9 373.3h.1M97.5 362.9h.1M94.0 359.6h.1M110.5 358.6h.1M98.8 361.4h.1M118.6 376.8h.1M108.1 356.0h.1M108.8 356.8h.1M110.2 367.0h.1M127.1 352.9h.1M105.4 355.7h.1M118.1 352.7h.1M120.4 374.4h.1M88.8 373.6h.1M130.9 359.2h.1M106.2 378.4h.1M104.5 361.7h.1M97.2 368.8h.1M120.7 353.7h.1M115.6 364.8h.1M123.4 358.8h.1M98.8 365.2h.1M111.7 359.2h.1M97.0 368.8h.1M90.1 355.5h.1M105.6 351.5h.1M112.1 348.4h.1M104.8 365.8h.1M121.1 353.2h.1M109.8 371.3h.1M98.3 366.5h.1M118.8 369.2h.1M106.2 365.1h.1M99.3 367.7h.1M111.3 357.3h.1M132.1 363.4h.1M98.1 363.8h.1M112.0 353.0h.1M97.3 369.6h.1M106.1 361.8h.1M117.8 358.3h.1M91.2 355.7h.1M105.2 360.9h.1M102.8 355.8h.1M88.4 363.1h.1M111.3 363.7h.1M113.4 384.7h.1M94.5 359.2h.1M108.5 342.6h.1M114.2 360.2h.1M140.4 356.2h.1M105.7 362.4h.1M104.4 357.2h.1M118.4 363.0h.1M110.2 359.5h.1M86.8 361.5h.1M83.0 360.8h.1M110.6 359.5h.1M107.6 374.7h.1M112.6 369.2h.1M103.4 360.0h.1M92.1 376.3h.1M118.7 359.7h.1M111.7 363.4h.1M121.2 364.0h.1M105.7 353.9h.1M80.9 347.4h.1M104.2 372.1h.1M99.2 361.4h.1M113.3 374.0h.1M81.9 364.9h.1M101.5 369.5h.1M102.6 348.8h.1M81.8 352.6h.1M102.3 354.3h.1M92.2 380.3h.1M90.7 362.1h.1M119.5 360.1h.1M85.2 365.5h.1M106.4 372.9h.1M98.0 351.1h.1M102.4 353.8h.1M108.7 367.0h.1M105.8 361.8h.1M93.6 353.0h.1M109.8 372.9h.1M115.2 380.2h.1M96.0 346.6h.1M106.1 364.3h.1M97.6 348.3h.1M121.0 344.6h.1M112.0 368.0h.1M120.6 359.4h.1M116.5 358.5h.1M114.4 371.5h.1M106.2 348.1h.1M111.1 337.2h.1M121.4 354.7h.1M100.7 371.0h.1M115.9 364.6h.1M100.4 368.8h.1M108.0 358.9h.1M98.1 367.2h.1M98.5 373.8h.1M87.4 356.9h.1M108.5 348.0h.1M126.4 347.6h.1M100.0 359.7h.1M108.4 372.9h.1M101.9 358.6h.1M120.3 359.8h.1M114.8 361.1h.1M101.0 357.9h.1M95.9 357.3h.1M108.4 361.3h.1M114.9 361.6h.1M110.9 354.3h.1M89.1 372.9h.1M125.6 356.7h.1M115.8 353.4h.1M96.8 366.7h.1M115.7 365.2h.1M118.3 360.9h.1M105.0 363.0h.1M97.1 360.6h.1M88.8 355.3h.1M114.8 356.3h.1M82.2 356.6h.1M114.8 360.2h.1M105.6 366.9h.1M118.8 357.6h.1M109.1 377.7h.1M112.9 356.6h.1M97.6 359.7h.1M118.9 343.5h.1M113.3 357.5h.1M113.3 362.5h.1M89.6 360.7h.1M85.2 364.1h.1M98.3 370.6h.1M87.0 367.3h.1M96.1 359.6h.1M88.3 379.7h.1M104.0 363.0h.1M131.0 344.2h.1M105.4 354.7h.1M103.5 359.1h.1M111.9 367.2h.1M107.2 371.4h.1M103.0 352.2h.1M88.3 371.7h.1M102.7 366.4h.1M114.2 353.5h.1M120.3 365.8h.1M124.1 365.0h.1M94.2 368.6h.1M107.9 350.2h.1M115.9 358.5h.1M110.9 374.6h.1M120.5 356.5h.1M114.3 369.1h.1M108.2 370.5h.1M112.7 357.5h.1M121.5 357.7h.1M101.4 359.7h.1M87.4 373.6h.1M93.6 349.3h.1M110.1 343.8h.1M103.5 368.5h.1M110.2 364.5h.1M103.4 354.8h.1M109.6 367.8h.1M105.9 369.9h.1M80.7 358.6h.1M78.4 362.9h.1M108.2 351.5h.1M100.7 362.2h.1M97.8 361.5h.1M116.8 360.5h.1M117.7 363.8h.1M101.0 363.5h.1M116.4 355.9h.1M99.5 373.0h.1M115.5 365.8h.1M100.9 361.4h.1M110.7 364.7h.1M115.9 351.7h.1M116.1 352.4h.1M96.2 359.7h.1M100.8 371.3h.1M119.4 377.1h.1M99.2 364.4h.1M120.6 345.9h.1M115.1 375.9h.1M117.0 354.4h.1M105.6 363.4h.1M99.3 354.8h.1M118.9 353.0h.1M117.9 351.5h.1M98.1 344.9h.1M79.7 381.3h.1M99.6 360.0h.1M115.6 348.9h.1M106.5 371.2h.1M115.2 372.6h.1M105.1 350.0h.1M106.7 366.3h.1M95.5 361.2h.1M106.2 379.8h.1M99.5 356.7h.1M104.5 357.2h.1M107.0 357.7h.1M93.3 358.4h.1M86.0 378.9h.1M121.3 358.8h.1M108.8 367.2h.1M110.0 354.3h.1M97.2 370.0h.1M103.7 365.9h.1M102.3 369.8h.1M105.0 364.2h.1M112.7 344.7h.1M116.3 371.2h.1M101.4 349.6h.1M110.7 354.2h.1M95.9 376.3h.1M105.4 353.5h.1M92.7 367.3h.1M110.2 364.7h.1M94.4 358.3h.1M106.3 358.8h.1M107.3 359.2h.1M106.0 363.6h.1M113.4 371.4h.1M106.1 345.6h.1M121.8 347.3h.1M109.2 371.3h.1M113.2 371.7h.1M106.7 379.9h.1M112.2 347.8h.1M114.3 358.2h.1M118.1 354.5h.1M115.6 350.1h.1M103.6 361.6h.1M118.7 353.5h.1M110.1 370.5h.1M87.3 377.6h.1M105.6 363.9h.1M127.3 358.3h.1M114.3 371.0h.1M122.2 369.5h.1M100.1 366.1h.1M91.2 354.4h.1M103.3 360.0h.1M100.5 356.7h.1M124.7 348.5h.1M112.2 350.9h.1M109.9 354.6h.1M88.4 348.4h.1M119.0 370.1h.1M103.6 361.0h.1M110.2 348.8h.1M113.3 385.2h.1M101.8 349.3h.1M100.4 363.0h.1M103.2 376.7h.1M113.2 356.2h.1M109.0 357.9h.1M98.2 375.7h.1M104.7 357.6h.1M121.7 357.3h.1M117.3 338.8h.1M113.9 351.6h.1M102.4 370.0h.1M125.2 340.3h.1M120.8 357.3h.1M101.4 371.3h.1M105.2 357.6h.1M104.2 360.5h.1M101.1 371.7h.1M124.2 351.8h.1M99.5 362.0h.1M98.3 364.0h.1M108.1 361.7h.1M98.7 365.7h.1M93.0 360.9h.1M104.9 362.6h.1M115.4 359.1h.1M95.9 367.0h.1M105.0 368.6h.1M124.0 371.6h.1M106.3 354.0h.1M108.9 360.0h.1M98.6 350.7h.1M118.7 352.0h.1M117.4 368.9h.1M96.6 366.8h.1M105.6 350.2h.1M99.8 364.1h.1M116.6 354.4h.1M104.3 370.8h.1M102.2 357.1h.1M90.3 368.0h.1M99.0 355.2h.1M101.6 356.6h.1M137.4 352.5h.1M114.6 350.2h.1M115.6 363.4h.1M102.4 380.9h.1M96.4 354.6h.1M76.0 347.7h.1M98.9 362.6h.1M114.7 360.0h.1M98.2 355.3h.1M123.7 355.5h.1M124.9 358.2h.1M102.5 359.5h.1M111.7 367.7h.1M102.5 366.7h.1M92.8 350.7h.1M89.5 360.7h.1M99.3 368.8h.1M102.7 359.0h.1M103.2 350.4h.1M93.2 379.7h.1M112.5 349.2h.1M93.4 366.9h.1M83.2 346.7h.1M101.4 357.9h.1M114.6 351.9h.1M92.8 367.6h.1M96.1 364.7h.1M86.3 361.9h.1M125.6 347.2h.1M105.7 361.0h.1M107.8 360.5h.1M114.2 355.2h.1M96.4 365.0h.1M108.8 346.7h.1M114.2 357.6h.1M116.7 360.3h.1M93.2 360.9h.1M113.7 369.2h.1M104.5 367.4h.1M120.4 362.1h.1M121.6 364.9h.1M96.3 353.3h.1M97.7 377.3h.1M118.8 352.6h.1M106.1 378.9h.1M97.7 363.4h.1M102.7 369.5h.1M86.5 367.8h.1M108.4 371.0h.1M111.0 364.4h.1M96.4 365.8h.1M101.1 377.6h.1M109.9 361.7h.1M108.1 362.3h.1M102.3 367.9h.1M106.3 354.7h.1M115.9 366.7h.1M118.4 356.8h.1M116.4 372.9h.1M113.4 364.2h.1M106.0 349.3h.1M95.7 363.2h.1M117.6 364.6h.1M100.9 364.7h.1M105.3 356.3h.1M106.1 369.1h.1M94.5 360.5h.1M106.1 353.8h.1M96.7 367.3h.1M129.2 359.2h.1M101.1 375.9h.1M108.1 346.4h.1M100.7 347.2h.1M103.2 374.5h.1M127.9 385.5h.1M117.0 357.8h.1M99.8 359.9h.1M95.2 356.3h.1M110.2 362.6h.1M108.6 360.5h.1M91.0 369.1h.1M106.8 368.7h.1M108.2 353.7h.1M116.5 367.0h.1M103.9 368.4h.1M111.3 357.5h.1M109.0 355.6h.1M120.7 356.3h.1M116.7 375.2h.1M107.2 367.5h.1M122.0 344.4h.1M129.1 363.6h.1M93.8 365.4h.1M129.2 359.5h.1M121.1 368.6h.1M99.9 366.2h.1M124.9 352.9h.1M107.7 357.5h.1M101.0 361.5h.1M84.3 360.5h.1M88.6 357.2h.1M100.6 371.6h.1M95.1 371.1h.1M102.3 356.6h.1M88.9 366.2h.1M105.7 368.8h.1M100.1 346.3h.1M112.4 372.2h.1M106.9 363.2h.1M111.8 363.5h.1M133.7 357.1h.1" stroke="#2a4a32" stroke-width="0.48" stroke-linecap="round" fill="none" opacity="0.75"/>
<path d="M74.2 370.0h.1M74.3 344.9h.1M73.6 358.1h.1M66.4 370.3h.1M68.1 365.2h.1M67.9 367.1h.1M78.5 353.1h.1M67.5 370.3h.1M66.9 371.5h.1M73.6 352.6h.1M68.7 374.1h.1M76.0 362.8h.1M72.7 371.9h.1M68.4 364.7h.1M74.0 374.2h.1M69.7 359.6h.1M73.0 359.3h.1M70.3 366.7h.1M69.0 358.8h.1M72.9 362.6h.1M69.7 360.6h.1M65.3 354.2h.1M67.9 350.9h.1M79.4 381.6h.1M70.3 360.5h.1M70.9 358.0h.1M68.6 370.1h.1M74.3 349.0h.1M72.7 353.4h.1M74.8 354.1h.1M73.1 354.3h.1M70.6 364.9h.1M75.1 348.2h.1M68.7 353.5h.1M62.8 363.7h.1M70.4 358.5h.1M67.3 378.4h.1M67.0 336.3h.1M69.7 364.1h.1M66.0 360.1h.1M59.6 358.9h.1M71.8 352.4h.1M65.8 351.2h.1M68.8 371.4h.1M72.1 355.4h.1M69.0 368.8h.1M68.0 352.8h.1M75.5 361.3h.1M78.3 359.0h.1M69.9 365.4h.1M72.5 361.7h.1M66.6 354.9h.1M67.6 356.5h.1M78.2 352.6h.1M73.9 365.5h.1M63.5 371.0h.1M72.7 364.8h.1M72.5 370.8h.1M73.5 355.0h.1M68.3 353.1h.1M67.5 353.1h.1M72.7 370.5h.1M70.5 371.1h.1M77.3 367.8h.1M63.0 336.6h.1M77.1 366.0h.1M64.2 354.2h.1M72.7 361.1h.1M64.8 360.7h.1M63.9 358.9h.1M74.7 363.8h.1M68.5 367.2h.1M81.5 358.5h.1M72.2 347.5h.1M75.6 345.8h.1M70.4 369.9h.1M74.6 330.0h.1M67.3 338.1h.1M70.0 347.2h.1M83.1 372.6h.1M66.4 358.2h.1M71.8 370.5h.1M78.7 367.6h.1M64.9 331.0h.1M63.5 350.1h.1M75.5 348.4h.1M78.2 368.7h.1M71.9 369.1h.1M67.8 371.2h.1M72.0 355.5h.1M67.4 341.2h.1M69.8 366.2h.1M69.4 356.8h.1M80.4 388.7h.1M64.5 373.1h.1M71.4 361.0h.1M67.2 358.6h.1M73.1 365.2h.1M68.5 356.0h.1M74.9 375.6h.1M69.3 366.1h.1M75.3 364.6h.1M66.7 361.4h.1M71.9 350.4h.1M71.8 361.0h.1M67.9 377.0h.1M73.1 353.0h.1M77.7 358.3h.1M66.3 349.6h.1M77.1 349.8h.1M73.2 365.6h.1M68.6 368.3h.1M76.9 360.5h.1M71.5 367.6h.1M71.9 373.8h.1M75.5 362.0h.1M72.7 357.3h.1M75.0 354.1h.1M71.3 349.1h.1M83.9 364.0h.1M71.8 365.6h.1M62.9 375.1h.1M63.0 367.2h.1M69.5 368.3h.1M74.9 363.6h.1M76.8 358.1h.1M72.8 358.1h.1M68.0 350.7h.1M73.5 377.6h.1M67.1 356.4h.1M67.9 364.9h.1M61.1 362.7h.1M67.7 351.4h.1M72.8 363.0h.1M73.1 372.9h.1M64.2 371.8h.1M74.3 384.6h.1M78.7 366.1h.1M61.4 363.6h.1M79.5 369.1h.1M71.2 349.2h.1M71.8 347.0h.1M67.4 357.2h.1M73.7 355.0h.1M71.2 360.8h.1M72.9 367.0h.1M74.0 358.4h.1M72.4 355.0h.1M65.2 355.5h.1M71.4 341.5h.1M75.6 364.6h.1M63.3 351.1h.1M66.9 339.0h.1M62.4 365.2h.1M61.1 382.4h.1M78.9 376.2h.1M74.1 372.4h.1M78.5 351.7h.1M79.8 353.4h.1M69.7 335.6h.1M69.8 344.4h.1M83.4 364.7h.1M76.2 356.3h.1M76.4 366.4h.1M69.5 366.3h.1M69.3 348.5h.1M60.9 345.2h.1M74.6 380.1h.1M69.1 355.1h.1M78.4 359.5h.1M73.3 361.2h.1M58.7 347.8h.1M73.2 362.0h.1M70.0 348.0h.1M72.2 358.2h.1M66.3 358.7h.1M72.8 382.0h.1M77.3 352.2h.1M75.7 345.7h.1M59.1 353.3h.1M81.7 368.3h.1M67.8 365.0h.1M60.5 359.1h.1M66.3 348.7h.1M69.4 353.1h.1M73.2 348.6h.1M73.5 365.5h.1M75.8 367.3h.1M75.2 371.3h.1M78.2 371.5h.1M77.8 348.1h.1M70.2 375.4h.1M68.3 368.3h.1M77.2 374.3h.1M68.3 363.4h.1M70.8 367.4h.1M61.4 360.3h.1M77.8 360.9h.1M76.9 375.1h.1M72.3 356.9h.1" stroke="#2a4a32" stroke-width="0.48" stroke-linecap="round" fill="none" opacity="0.7"/>
<path d="M94.1 381.2h.1M95.4 386.9h.1M110.4 384.1h.1M92.6 387.7h.1M97.7 395.3h.1M100.3 396.1h.1M101.0 373.1h.1M98.2 381.7h.1M100.2 382.7h.1M109.9 386.4h.1M96.2 399.9h.1M96.6 385.4h.1M96.4 392.2h.1M102.8 388.2h.1M112.6 384.6h.1M108.0 392.8h.1M103.4 385.2h.1M98.6 394.4h.1M71.0 396.7h.1M90.1 393.4h.1M105.8 390.5h.1M105.8 385.3h.1M117.5 388.4h.1M109.0 386.9h.1M96.6 394.2h.1M89.7 387.8h.1M91.2 378.9h.1M110.7 388.2h.1M80.4 387.6h.1M125.2 394.1h.1M97.8 390.1h.1M97.1 389.4h.1M98.8 389.1h.1M95.2 392.9h.1M87.4 378.2h.1M82.1 384.2h.1M101.4 391.3h.1M108.6 379.3h.1M83.3 391.6h.1M119.2 391.6h.1M98.7 393.9h.1M117.8 393.7h.1M102.4 386.3h.1M94.2 385.5h.1M87.2 390.1h.1M111.2 386.4h.1M108.5 391.9h.1M98.8 387.7h.1M116.1 383.7h.1M92.7 385.7h.1M92.0 391.3h.1M106.6 386.5h.1M107.0 377.8h.1M101.3 401.6h.1M110.5 382.2h.1M109.6 384.3h.1M106.7 392.0h.1M84.9 398.6h.1M85.4 385.5h.1M107.6 391.6h.1M102.5 386.2h.1M108.8 390.2h.1M96.7 394.5h.1M117.0 384.7h.1M95.9 382.1h.1M87.4 389.1h.1M110.6 379.9h.1M97.7 390.0h.1M94.0 393.1h.1M106.7 387.8h.1M112.8 390.1h.1M112.1 391.6h.1M97.6 396.8h.1M93.0 390.3h.1M96.8 383.4h.1M86.5 394.8h.1M114.8 394.4h.1M79.3 391.9h.1M101.5 391.6h.1M103.2 391.6h.1M105.3 394.4h.1M102.0 385.1h.1M76.8 389.9h.1M77.7 384.8h.1M100.1 387.4h.1M92.3 398.2h.1M85.1 395.1h.1M97.2 387.4h.1M101.0 390.8h.1M81.7 391.0h.1M98.5 388.0h.1M100.5 387.4h.1M112.0 383.1h.1M92.1 391.0h.1M98.2 393.4h.1M69.7 386.7h.1M101.1 398.3h.1M111.2 382.8h.1M111.7 383.3h.1M103.6 386.0h.1M85.4 392.8h.1M106.3 386.3h.1M91.2 383.7h.1M98.7 394.4h.1M95.5 387.8h.1M95.9 381.1h.1M96.2 384.5h.1M112.9 389.1h.1M113.9 387.7h.1M102.0 396.1h.1M105.1 388.6h.1M105.4 390.1h.1M112.4 384.7h.1M95.3 383.0h.1M113.2 391.8h.1M97.0 391.3h.1M120.6 392.6h.1M99.4 382.7h.1M106.4 402.9h.1M112.9 386.4h.1M83.7 393.7h.1M91.3 385.8h.1M123.3 385.8h.1M97.8 403.1h.1M118.4 374.7h.1M108.7 386.7h.1M102.1 384.6h.1M103.5 391.8h.1M97.0 392.7h.1M108.3 381.5h.1M119.4 389.0h.1M109.5 396.2h.1M100.0 401.8h.1M90.8 382.1h.1M96.5 398.6h.1M117.4 392.8h.1M90.0 385.9h.1M98.1 388.7h.1M88.1 388.3h.1M95.1 390.7h.1M90.0 385.0h.1M101.6 391.9h.1M101.1 389.1h.1M98.6 384.6h.1M95.7 383.2h.1M105.9 390.3h.1M98.4 383.2h.1M95.9 387.1h.1M111.0 386.1h.1M102.4 384.3h.1M107.1 386.5h.1M91.1 377.2h.1M96.6 386.0h.1M112.5 380.9h.1M93.8 381.1h.1M108.4 389.6h.1M96.2 391.5h.1M101.8 385.3h.1M99.5 391.4h.1M110.0 397.9h.1M103.1 388.4h.1M101.1 383.4h.1M98.4 391.2h.1M96.0 386.3h.1M86.5 391.4h.1M111.3 388.0h.1M101.9 389.1h.1M100.6 386.8h.1M110.4 400.6h.1M110.8 389.7h.1" stroke="#2a4a32" stroke-width="0.48" stroke-linecap="round" fill="none" opacity="0.65"/>
<rect x="40.4" y="322.6" width="107.79999999999998" height="107.0" fill="none" stroke="#111" stroke-width="1.0"/>
<line x1="82.40" y1="322.60" x2="82.40" y2="429.60" stroke="#000" stroke-width="1.0"/>
<line x1="40.40" y1="378.10" x2="148.20" y2="378.10" stroke="#000" stroke-width="1.0"/>
<text x="42.90" y="333.80" font-size="8.5" text-anchor="start" fill="#1a1a1a" stroke="#1a1a1a" stroke-width="0.22">11.3</text>
<text x="141.80" y="333.80" font-size="8.5" text-anchor="end" fill="#1a1a1a" stroke="#1a1a1a" stroke-width="0.22">32.8</text>
<text x="42.90" y="422.90" font-size="8.5" text-anchor="start" fill="#1a1a1a" stroke="#1a1a1a" stroke-width="0.22">45.5</text>
<text x="141.80" y="422.90" font-size="8.5" text-anchor="end" fill="#1a1a1a" stroke="#1a1a1a" stroke-width="0.22">10.4</text>
<text x="33.40" y="326.80" font-size="8.7" text-anchor="end" fill="#1a1a1a" stroke="#1a1a1a" stroke-width="0.22">10<tspan font-size="5.4" dy="-3.30" font-style="normal" letter-spacing="0">6</tspan></text>
<line x1="37.60" y1="322.90" x2="40.40" y2="322.90" stroke="#555" stroke-width="0.8"/>
<text x="33.40" y="348.40" font-size="8.7" text-anchor="end" fill="#1a1a1a" stroke="#1a1a1a" stroke-width="0.22">10<tspan font-size="5.4" dy="-3.30" font-style="normal" letter-spacing="0">5</tspan></text>
<line x1="37.60" y1="344.50" x2="40.40" y2="344.50" stroke="#555" stroke-width="0.8"/>
<text x="33.40" y="371.40" font-size="8.7" text-anchor="end" fill="#1a1a1a" stroke="#1a1a1a" stroke-width="0.22">10<tspan font-size="5.4" dy="-3.30" font-style="normal" letter-spacing="0">4</tspan></text>
<line x1="37.60" y1="367.50" x2="40.40" y2="367.50" stroke="#555" stroke-width="0.8"/>
<text x="32.80" y="405.30" font-size="8.7" text-anchor="end" fill="#1a1a1a" stroke="#1a1a1a" stroke-width="0.22">0</text>
<line x1="38.90" y1="326.00" x2="40.40" y2="326.00" stroke="#666" stroke-width="0.6"/>
<line x1="38.90" y1="328.60" x2="40.40" y2="328.60" stroke="#666" stroke-width="0.6"/>
<line x1="38.90" y1="331.20" x2="40.40" y2="331.20" stroke="#666" stroke-width="0.6"/>
<line x1="38.90" y1="333.80" x2="40.40" y2="333.80" stroke="#666" stroke-width="0.6"/>
<line x1="38.90" y1="336.40" x2="40.40" y2="336.40" stroke="#666" stroke-width="0.6"/>
<line x1="38.90" y1="339.00" x2="40.40" y2="339.00" stroke="#666" stroke-width="0.6"/>
<line x1="38.90" y1="341.60" x2="40.40" y2="341.60" stroke="#666" stroke-width="0.6"/>
<line x1="38.90" y1="344.20" x2="40.40" y2="344.20" stroke="#666" stroke-width="0.6"/>
<line x1="38.90" y1="346.80" x2="40.40" y2="346.80" stroke="#666" stroke-width="0.6"/>
<line x1="38.90" y1="349.40" x2="40.40" y2="349.40" stroke="#666" stroke-width="0.6"/>
<line x1="38.90" y1="352.00" x2="40.40" y2="352.00" stroke="#666" stroke-width="0.6"/>
<line x1="38.90" y1="354.60" x2="40.40" y2="354.60" stroke="#666" stroke-width="0.6"/>
<line x1="38.90" y1="357.20" x2="40.40" y2="357.20" stroke="#666" stroke-width="0.6"/>
<line x1="38.90" y1="359.80" x2="40.40" y2="359.80" stroke="#666" stroke-width="0.6"/>
<line x1="38.90" y1="362.40" x2="40.40" y2="362.40" stroke="#666" stroke-width="0.6"/>
<line x1="38.90" y1="365.00" x2="40.40" y2="365.00" stroke="#666" stroke-width="0.6"/>
<line x1="38.90" y1="367.60" x2="40.40" y2="367.60" stroke="#666" stroke-width="0.6"/>
<line x1="38.90" y1="370.20" x2="40.40" y2="370.20" stroke="#666" stroke-width="0.6"/>
<line x1="38.90" y1="372.80" x2="40.40" y2="372.80" stroke="#666" stroke-width="0.6"/>
<line x1="38.90" y1="375.40" x2="40.40" y2="375.40" stroke="#666" stroke-width="0.6"/>
<line x1="38.90" y1="378.00" x2="40.40" y2="378.00" stroke="#666" stroke-width="0.6"/>
<line x1="38.90" y1="380.60" x2="40.40" y2="380.60" stroke="#666" stroke-width="0.6"/>
<line x1="38.90" y1="383.20" x2="40.40" y2="383.20" stroke="#666" stroke-width="0.6"/>
<line x1="38.90" y1="385.80" x2="40.40" y2="385.80" stroke="#666" stroke-width="0.6"/>
<line x1="38.90" y1="388.40" x2="40.40" y2="388.40" stroke="#666" stroke-width="0.6"/>
<line x1="38.90" y1="391.00" x2="40.40" y2="391.00" stroke="#666" stroke-width="0.6"/>
<line x1="38.50" y1="396.00" x2="40.40" y2="396.00" stroke="#333" stroke-width="0.7"/>
<line x1="38.50" y1="398.00" x2="40.40" y2="398.00" stroke="#333" stroke-width="0.7"/>
<line x1="38.50" y1="400.00" x2="40.40" y2="400.00" stroke="#333" stroke-width="0.7"/>
<line x1="38.50" y1="402.30" x2="40.40" y2="402.30" stroke="#333" stroke-width="0.7"/>
<line x1="38.50" y1="404.50" x2="40.40" y2="404.50" stroke="#333" stroke-width="0.7"/>
<line x1="38.50" y1="406.50" x2="40.40" y2="406.50" stroke="#333" stroke-width="0.7"/>
<line x1="38.50" y1="408.50" x2="40.40" y2="408.50" stroke="#333" stroke-width="0.7"/>
<line x1="37.60" y1="402.30" x2="40.40" y2="402.30" stroke="#222" stroke-width="0.9"/>
<line x1="38.90" y1="411.00" x2="40.40" y2="411.00" stroke="#666" stroke-width="0.6"/>
<line x1="38.90" y1="413.50" x2="40.40" y2="413.50" stroke="#666" stroke-width="0.6"/>
<line x1="38.90" y1="416.00" x2="40.40" y2="416.00" stroke="#666" stroke-width="0.6"/>
<line x1="38.90" y1="418.50" x2="40.40" y2="418.50" stroke="#666" stroke-width="0.6"/>
<line x1="38.90" y1="421.00" x2="40.40" y2="421.00" stroke="#666" stroke-width="0.6"/>
<line x1="38.90" y1="423.50" x2="40.40" y2="423.50" stroke="#666" stroke-width="0.6"/>
<line x1="38.90" y1="426.00" x2="40.40" y2="426.00" stroke="#666" stroke-width="0.6"/>
<line x1="38.90" y1="428.50" x2="40.40" y2="428.50" stroke="#666" stroke-width="0.6"/>
<text x="66.40" y="444.10" font-size="8.7" text-anchor="middle" fill="#1a1a1a" stroke="#1a1a1a" stroke-width="0.22">0</text>
<text x="109.40" y="444.10" font-size="8.7" text-anchor="end" fill="#1a1a1a" stroke="#1a1a1a" stroke-width="0.22">10<tspan font-size="5.4" dy="-3.30" font-style="normal" letter-spacing="0">4</tspan></text>
<text x="132.40" y="444.10" font-size="8.7" text-anchor="end" fill="#1a1a1a" stroke="#1a1a1a" stroke-width="0.22">10<tspan font-size="5.4" dy="-3.30" font-style="normal" letter-spacing="0">5</tspan></text>
<text x="153.40" y="444.10" font-size="8.7" text-anchor="end" fill="#1a1a1a" stroke="#1a1a1a" stroke-width="0.22">10<tspan font-size="5.4" dy="-3.30" font-style="normal" letter-spacing="0">6</tspan></text>
<line x1="101.40" y1="429.60" x2="101.40" y2="432.40" stroke="#555" stroke-width="0.8"/>
<line x1="124.90" y1="429.60" x2="124.90" y2="432.40" stroke="#555" stroke-width="0.8"/>
<line x1="147.90" y1="429.60" x2="147.90" y2="432.40" stroke="#555" stroke-width="0.8"/>
<line x1="43.40" y1="429.60" x2="43.40" y2="431.10" stroke="#666" stroke-width="0.6"/>
<line x1="46.50" y1="429.60" x2="46.50" y2="431.10" stroke="#666" stroke-width="0.6"/>
<line x1="49.60" y1="429.60" x2="49.60" y2="431.10" stroke="#666" stroke-width="0.6"/>
<line x1="52.70" y1="429.60" x2="52.70" y2="431.10" stroke="#666" stroke-width="0.6"/>
<line x1="55.80" y1="429.60" x2="55.80" y2="431.10" stroke="#666" stroke-width="0.6"/>
<line x1="58.90" y1="429.60" x2="58.90" y2="431.10" stroke="#666" stroke-width="0.6"/>
<line x1="62.00" y1="429.60" x2="62.00" y2="431.10" stroke="#666" stroke-width="0.6"/>
<line x1="65.10" y1="429.60" x2="65.10" y2="431.10" stroke="#666" stroke-width="0.6"/>
<line x1="68.20" y1="429.60" x2="68.20" y2="431.10" stroke="#666" stroke-width="0.6"/>
<line x1="71.30" y1="429.60" x2="71.30" y2="431.10" stroke="#666" stroke-width="0.6"/>
<line x1="74.40" y1="429.60" x2="74.40" y2="431.10" stroke="#666" stroke-width="0.6"/>
<line x1="77.50" y1="429.60" x2="77.50" y2="431.10" stroke="#666" stroke-width="0.6"/>
<line x1="80.60" y1="429.60" x2="80.60" y2="431.10" stroke="#666" stroke-width="0.6"/>
<line x1="83.70" y1="429.60" x2="83.70" y2="431.10" stroke="#666" stroke-width="0.6"/>
<line x1="86.80" y1="429.60" x2="86.80" y2="431.10" stroke="#666" stroke-width="0.6"/>
<line x1="89.90" y1="429.60" x2="89.90" y2="431.10" stroke="#666" stroke-width="0.6"/>
<line x1="93.00" y1="429.60" x2="93.00" y2="431.10" stroke="#666" stroke-width="0.6"/>
<line x1="96.10" y1="429.60" x2="96.10" y2="431.10" stroke="#666" stroke-width="0.6"/>
<line x1="99.20" y1="429.60" x2="99.20" y2="431.10" stroke="#666" stroke-width="0.6"/>
<line x1="102.30" y1="429.60" x2="102.30" y2="431.10" stroke="#666" stroke-width="0.6"/>
<line x1="105.40" y1="429.60" x2="105.40" y2="431.10" stroke="#666" stroke-width="0.6"/>
<line x1="108.50" y1="429.60" x2="108.50" y2="431.10" stroke="#666" stroke-width="0.6"/>
<line x1="111.60" y1="429.60" x2="111.60" y2="431.10" stroke="#666" stroke-width="0.6"/>
<line x1="114.70" y1="429.60" x2="114.70" y2="431.10" stroke="#666" stroke-width="0.6"/>
<line x1="117.80" y1="429.60" x2="117.80" y2="431.10" stroke="#666" stroke-width="0.6"/>
<line x1="120.90" y1="429.60" x2="120.90" y2="431.10" stroke="#666" stroke-width="0.6"/>
<line x1="124.00" y1="429.60" x2="124.00" y2="431.10" stroke="#666" stroke-width="0.6"/>
<line x1="127.10" y1="429.60" x2="127.10" y2="431.10" stroke="#666" stroke-width="0.6"/>
<line x1="130.20" y1="429.60" x2="130.20" y2="431.10" stroke="#666" stroke-width="0.6"/>
<line x1="133.30" y1="429.60" x2="133.30" y2="431.10" stroke="#666" stroke-width="0.6"/>
<line x1="136.40" y1="429.60" x2="136.40" y2="431.10" stroke="#666" stroke-width="0.6"/>
<line x1="139.50" y1="429.60" x2="139.50" y2="431.10" stroke="#666" stroke-width="0.6"/>
<line x1="142.60" y1="429.60" x2="142.60" y2="431.10" stroke="#666" stroke-width="0.6"/>
<line x1="145.70" y1="429.60" x2="145.70" y2="431.10" stroke="#666" stroke-width="0.6"/>
<line x1="64.90" y1="429.60" x2="64.90" y2="432.10" stroke="#111" stroke-width="0.9"/>
<line x1="65.90" y1="429.60" x2="65.90" y2="432.10" stroke="#111" stroke-width="0.9"/>
<line x1="66.90" y1="429.60" x2="66.90" y2="432.10" stroke="#111" stroke-width="0.9"/>
<text x="41.60" y="314.60" font-size="9.6" text-anchor="start" fill="#1a1a1a" stroke="#1a1a1a" stroke-width="0.22"><tspan font-style="italic">Il17rb</tspan><tspan font-size="6.4" dy="-3.60" font-style="normal" letter-spacing="0.5">fl/fl</tspan></text>
<path d="M201.6 387.9h.1M205.8 391.3h.1M204.4 390.3h.1M195.3 399.0h.1M199.1 394.0h.1M206.2 386.5h.1M203.3 391.6h.1M198.1 397.9h.1M201.3 393.8h.1M202.8 398.3h.1M200.0 390.7h.1M203.6 394.4h.1M202.7 395.8h.1M206.2 393.4h.1M198.6 388.8h.1M197.8 390.4h.1M205.4 397.4h.1M203.3 395.0h.1M201.6 391.1h.1M204.9 386.5h.1M202.1 389.1h.1M203.5 394.0h.1M203.3 396.6h.1M203.0 396.2h.1M203.4 385.2h.1M202.6 389.1h.1M201.6 384.0h.1M202.0 390.9h.1M199.4 391.2h.1M205.2 392.3h.1M204.8 389.0h.1M207.9 389.0h.1M199.0 392.7h.1M204.5 396.4h.1M205.0 395.3h.1M198.1 392.7h.1M200.9 384.8h.1M207.2 388.1h.1M204.7 394.8h.1M201.8 388.7h.1M206.7 392.0h.1M203.2 392.5h.1M203.7 394.1h.1M203.2 395.3h.1M202.6 387.5h.1M200.3 393.9h.1M200.0 392.8h.1M205.0 389.8h.1M202.6 387.8h.1M199.0 393.7h.1M203.4 388.3h.1M201.4 389.7h.1M201.7 389.9h.1M201.2 399.5h.1M201.2 387.6h.1M201.5 396.1h.1M202.1 394.2h.1M201.7 390.6h.1M207.0 392.9h.1M201.0 394.4h.1M198.5 387.0h.1M201.8 390.6h.1M203.0 387.9h.1M204.0 391.3h.1M201.9 393.1h.1M201.6 395.5h.1M200.1 393.0h.1M202.2 384.4h.1M199.7 390.3h.1M204.0 387.7h.1M201.0 390.3h.1M198.4 390.2h.1M205.5 395.1h.1M199.6 389.4h.1M200.5 384.8h.1M209.3 389.5h.1M203.6 390.3h.1M201.8 386.9h.1M199.5 391.4h.1M200.6 394.2h.1M201.0 393.3h.1M204.2 387.9h.1M206.2 391.3h.1M210.0 390.1h.1M205.7 394.4h.1M198.1 386.7h.1M198.3 394.7h.1M202.7 395.1h.1M199.4 394.5h.1M202.5 394.0h.1M204.5 392.3h.1M206.7 387.3h.1M201.5 395.4h.1M199.5 394.4h.1M202.8 393.0h.1M195.5 389.0h.1M204.7 388.0h.1M205.0 394.3h.1M193.9 392.4h.1M199.2 388.4h.1M197.8 393.0h.1M206.4 400.4h.1M206.9 390.4h.1M197.8 395.5h.1M204.9 392.2h.1M198.5 387.9h.1M201.9 397.0h.1M207.2 388.8h.1M197.3 391.6h.1M205.0 389.4h.1M202.9 395.0h.1M197.6 398.1h.1M206.9 392.2h.1M203.5 393.8h.1M200.5 394.5h.1M202.9 389.4h.1M202.3 391.0h.1M201.2 394.4h.1M205.0 395.2h.1M201.3 394.2h.1M201.8 397.6h.1M199.4 395.4h.1M201.0 386.2h.1M204.8 387.6h.1M200.0 391.8h.1M203.9 391.6h.1M203.8 392.9h.1M197.7 396.1h.1M206.9 390.0h.1M204.7 391.0h.1M200.1 391.0h.1M196.8 389.8h.1M204.6 395.4h.1M204.0 392.8h.1M200.7 395.2h.1M208.3 393.2h.1M207.8 392.4h.1M201.9 395.0h.1M203.0 391.2h.1M201.0 392.4h.1M202.5 386.6h.1M204.1 397.7h.1M203.7 393.6h.1M204.2 395.0h.1M204.9 390.9h.1M199.3 393.5h.1M203.9 390.2h.1M201.8 393.6h.1M207.3 390.0h.1M199.9 392.0h.1M200.3 390.4h.1M199.8 395.9h.1M204.0 392.6h.1M207.4 402.6h.1M204.4 394.9h.1M199.8 394.0h.1M200.8 387.1h.1M203.8 390.1h.1M207.0 391.2h.1M201.9 389.2h.1M202.2 391.8h.1M204.5 389.5h.1M200.5 388.5h.1M200.6 390.7h.1M202.2 389.8h.1M205.3 389.6h.1M203.4 391.6h.1M203.8 392.3h.1M201.4 392.0h.1M201.1 391.6h.1M206.0 394.8h.1M206.6 389.3h.1M206.2 393.5h.1M204.6 391.1h.1M207.8 389.1h.1M203.4 387.6h.1M201.8 393.3h.1M203.4 392.9h.1M206.5 388.6h.1M197.5 395.4h.1M198.2 391.0h.1M209.5 394.4h.1M202.3 395.1h.1M200.2 394.5h.1M201.5 389.8h.1M199.8 390.1h.1M203.4 398.0h.1M205.5 395.1h.1M202.3 397.7h.1M202.4 396.8h.1M199.1 394.0h.1M199.6 391.0h.1M202.1 386.1h.1M203.8 392.3h.1M197.6 391.7h.1M202.3 386.8h.1M200.7 395.4h.1M201.4 391.4h.1M202.3 391.3h.1M199.5 391.6h.1M196.9 392.5h.1M201.8 387.7h.1M198.2 392.7h.1M201.3 390.0h.1M201.0 392.8h.1M205.7 390.6h.1M197.0 389.1h.1M199.9 393.4h.1M205.9 393.2h.1M200.2 395.1h.1M201.4 388.2h.1M202.1 398.7h.1M202.6 389.8h.1M204.8 389.5h.1M206.0 394.4h.1M198.8 390.7h.1M201.6 389.4h.1M203.7 391.3h.1M207.6 392.9h.1M205.4 395.2h.1M204.0 394.7h.1M200.6 395.3h.1M205.5 395.5h.1M201.0 390.2h.1M206.0 391.8h.1M210.1 393.7h.1M199.3 394.1h.1M203.4 385.9h.1M200.9 384.9h.1M210.4 388.2h.1M200.2 390.9h.1M200.3 396.0h.1M201.9 387.4h.1M204.9 393.1h.1M198.5 395.1h.1M198.8 389.1h.1M207.0 390.4h.1M202.8 389.3h.1M201.8 385.4h.1M201.8 389.5h.1M205.4 390.6h.1M200.2 390.4h.1M197.1 393.3h.1M197.5 388.0h.1M203.4 391.0h.1M208.6 387.5h.1M203.7 397.8h.1M200.8 387.8h.1M205.6 398.1h.1M200.4 394.7h.1M204.6 392.4h.1M205.1 391.1h.1M204.6 391.2h.1M202.2 388.5h.1M202.5 391.7h.1M200.0 389.6h.1M201.5 396.6h.1M204.1 394.2h.1M206.5 394.3h.1M207.6 396.6h.1M204.8 391.7h.1M203.1 391.7h.1M200.5 387.0h.1M203.9 387.6h.1M204.7 397.7h.1M203.0 389.0h.1M200.8 394.0h.1M202.4 390.6h.1M203.5 388.2h.1M199.7 393.3h.1M200.6 394.0h.1M201.3 392.3h.1M202.2 396.1h.1M201.9 392.3h.1M199.4 392.5h.1M202.2 393.0h.1M196.8 394.0h.1M202.9 393.0h.1M203.8 395.3h.1M199.9 390.3h.1M203.4 387.2h.1M209.1 385.5h.1M204.3 390.4h.1M204.6 396.9h.1M208.2 389.7h.1M202.9 389.5h.1M198.7 392.4h.1M200.9 388.0h.1M201.7 390.1h.1M199.4 392.6h.1M204.2 393.2h.1M200.7 389.1h.1M196.0 394.3h.1M205.5 389.2h.1M198.7 388.1h.1M206.8 391.4h.1M201.4 392.2h.1M202.7 391.0h.1M202.2 394.1h.1M205.4 388.5h.1M202.3 391.8h.1M203.2 399.7h.1M204.7 394.4h.1M202.4 393.8h.1M206.2 395.9h.1M200.3 392.6h.1M203.7 388.6h.1M201.7 390.5h.1M205.3 392.2h.1M208.5 393.8h.1M201.4 392.9h.1M203.0 389.5h.1M203.8 387.6h.1M203.3 390.5h.1M203.0 389.8h.1M207.7 389.9h.1M205.0 392.2h.1M206.1 389.8h.1M199.0 394.2h.1M205.7 394.1h.1M191.5 397.5h.1M206.9 392.1h.1M200.1 393.7h.1M197.7 391.0h.1M204.5 396.4h.1M201.5 391.3h.1M198.7 391.6h.1M200.7 392.1h.1M200.5 393.5h.1M202.4 389.8h.1M204.4 393.7h.1M201.9 391.4h.1M205.1 393.6h.1M202.2 398.3h.1M201.3 387.9h.1M200.8 392.7h.1M197.6 398.1h.1M205.4 389.0h.1M203.8 388.0h.1M202.6 391.3h.1M207.2 386.1h.1M201.2 386.0h.1M201.3 391.0h.1M202.7 395.3h.1M200.0 390.3h.1M206.9 392.1h.1M199.9 392.1h.1M199.5 389.2h.1M201.1 387.2h.1M207.9 390.8h.1M203.3 391.2h.1M202.4 389.4h.1M203.9 390.6h.1M200.2 394.9h.1M207.1 393.4h.1M204.2 391.0h.1M203.0 394.3h.1M202.8 396.2h.1M206.8 392.8h.1M203.3 389.4h.1M201.4 389.9h.1M201.7 389.2h.1M203.8 393.0h.1M202.2 397.2h.1M203.4 391.8h.1M203.2 390.1h.1M204.9 389.1h.1M202.6 398.3h.1M203.5 388.7h.1M199.4 395.6h.1M197.3 397.2h.1M206.5 390.6h.1M203.4 390.5h.1M200.0 393.4h.1M200.7 393.9h.1M203.6 390.1h.1M202.9 392.2h.1M202.2 391.3h.1M206.2 389.7h.1M203.1 395.3h.1M203.8 390.7h.1M199.4 391.2h.1M197.0 390.6h.1M202.6 396.2h.1M204.5 395.3h.1M204.0 392.8h.1M198.1 390.2h.1M202.0 391.7h.1M199.1 387.2h.1M203.2 391.2h.1M202.7 391.3h.1M202.0 388.4h.1M205.2 393.3h.1M202.6 397.4h.1M200.6 394.6h.1M202.5 392.1h.1M205.2 392.0h.1M202.6 388.3h.1M203.5 393.3h.1M201.4 388.3h.1M205.5 392.5h.1M206.0 391.8h.1M210.1 388.2h.1M204.8 392.4h.1M203.4 391.4h.1M204.3 394.7h.1M203.0 388.8h.1M205.5 395.1h.1M199.3 392.8h.1M207.1 393.9h.1M201.2 392.9h.1M203.7 388.6h.1M201.9 391.0h.1M201.7 396.1h.1M197.5 388.9h.1M200.6 395.9h.1M202.4 391.2h.1M202.0 396.9h.1M208.3 392.8h.1M199.9 391.2h.1M197.6 394.9h.1M202.1 395.5h.1M201.0 389.7h.1M196.5 392.8h.1M205.7 385.3h.1M199.6 391.8h.1M205.7 397.9h.1M207.4 392.9h.1M198.5 389.4h.1M204.2 392.1h.1M200.4 391.8h.1M203.1 399.0h.1M201.8 393.8h.1M203.5 394.4h.1M200.7 396.6h.1M206.6 393.6h.1M199.6 388.7h.1M202.1 391.6h.1M200.1 391.6h.1M198.2 391.4h.1M198.8 392.9h.1M195.6 389.7h.1M201.4 387.5h.1M201.4 391.4h.1M206.4 394.1h.1M201.5 394.5h.1M202.5 394.5h.1M201.4 392.9h.1M201.7 394.9h.1M207.7 397.0h.1M206.7 391.5h.1M207.3 391.1h.1M202.6 389.3h.1M205.4 387.0h.1M202.4 394.2h.1M199.4 393.5h.1M199.5 391.0h.1M203.7 396.3h.1M208.7 388.9h.1M197.8 389.7h.1M203.3 391.7h.1M198.9 389.3h.1M203.3 392.1h.1M208.5 388.4h.1M201.0 402.7h.1M199.1 395.4h.1M201.2 392.4h.1M206.2 390.3h.1M201.9 392.1h.1M202.8 397.3h.1M206.8 390.0h.1M206.3 387.3h.1M200.7 389.8h.1M200.8 392.5h.1M203.4 389.2h.1M203.8 390.0h.1M204.2 392.9h.1M199.4 389.2h.1M205.5 391.7h.1M203.5 390.9h.1M207.1 393.4h.1M200.6 392.6h.1M199.5 390.7h.1M201.6 388.8h.1M200.2 395.3h.1M200.1 391.3h.1M199.1 395.8h.1M199.9 394.3h.1M204.5 393.6h.1M201.2 385.2h.1M200.1 391.2h.1M198.5 388.4h.1M203.6 391.9h.1M205.7 393.3h.1M206.4 392.8h.1M202.2 392.5h.1M205.2 394.9h.1M204.5 390.5h.1M199.6 395.1h.1M205.7 388.9h.1M202.8 389.0h.1M202.9 398.5h.1M201.6 390.7h.1M202.5 390.6h.1M203.8 387.1h.1M204.8 389.6h.1M202.8 399.6h.1M206.2 392.6h.1M202.2 393.5h.1M205.3 402.3h.1M208.4 396.5h.1M200.3 396.5h.1M202.2 392.5h.1M201.6 390.9h.1M204.3 392.6h.1M204.8 390.4h.1M200.1 390.7h.1M201.9 393.1h.1M208.0 392.4h.1M201.9 399.7h.1M208.0 394.8h.1M205.5 386.5h.1M201.6 391.9h.1M202.7 386.0h.1M203.5 397.6h.1M206.7 392.9h.1M204.2 392.0h.1M196.5 393.7h.1M205.4 387.5h.1M209.4 394.4h.1M204.2 396.5h.1M199.9 391.7h.1M198.4 395.0h.1M204.1 399.1h.1M204.9 390.7h.1M196.8 391.0h.1M201.7 391.8h.1M201.2 391.0h.1M203.1 390.1h.1M200.3 391.3h.1M198.3 384.9h.1M202.5 388.9h.1M198.4 391.5h.1M202.7 395.9h.1M201.0 391.9h.1M202.1 390.0h.1M198.8 385.9h.1M197.3 388.6h.1M200.0 390.3h.1M197.2 392.8h.1M203.7 388.1h.1M200.6 390.6h.1M204.4 395.6h.1M204.4 394.1h.1M206.3 394.1h.1M203.3 393.6h.1M205.5 392.5h.1M205.6 390.3h.1M199.4 391.9h.1M204.3 398.3h.1" stroke="#2a4a32" stroke-width="0.5" stroke-linecap="round" fill="none" opacity="0.9"/>
<path d="M201.9 385.6h.1M193.6 386.3h.1M201.1 389.1h.1M204.7 391.6h.1M199.8 405.5h.1M199.9 389.9h.1M196.3 387.8h.1M204.3 381.7h.1M201.2 387.1h.1M203.3 394.8h.1M202.3 396.8h.1M200.1 393.4h.1M198.0 382.2h.1M197.5 389.8h.1M205.5 401.8h.1M205.1 395.0h.1M198.4 401.0h.1M199.5 390.7h.1M213.0 396.6h.1M214.3 388.0h.1M205.0 384.5h.1M204.9 387.8h.1M209.8 394.4h.1M194.0 389.3h.1M198.8 391.9h.1M208.3 384.6h.1M201.7 395.2h.1M198.1 389.0h.1M199.4 397.3h.1M206.9 385.0h.1M208.5 400.6h.1M201.2 393.3h.1M206.0 395.4h.1M214.4 392.0h.1M201.3 392.7h.1M202.5 381.1h.1M207.5 393.1h.1M198.5 386.5h.1M194.7 392.4h.1M204.4 392.3h.1M208.0 390.0h.1M196.9 391.8h.1M211.1 399.2h.1M202.9 402.2h.1M198.0 388.2h.1M200.9 403.0h.1M187.6 393.1h.1M203.3 386.3h.1M205.1 380.2h.1M204.2 385.9h.1M199.1 393.0h.1M202.4 388.5h.1M203.0 387.3h.1M209.7 393.4h.1M204.5 399.4h.1M212.7 382.9h.1M203.7 384.5h.1M206.3 388.1h.1M199.4 389.9h.1M209.0 385.9h.1M204.9 389.9h.1M201.2 392.1h.1M212.2 389.0h.1M204.0 393.6h.1M194.9 389.9h.1M205.8 393.5h.1M203.5 385.8h.1M201.1 394.7h.1M199.2 396.7h.1M205.1 400.5h.1M194.6 391.3h.1M194.7 385.1h.1M213.2 395.5h.1M204.9 385.4h.1M203.1 394.2h.1M209.9 380.0h.1M202.5 384.8h.1M214.4 400.5h.1M203.2 389.6h.1M210.6 400.8h.1M200.8 396.8h.1M204.6 392.7h.1M195.3 403.3h.1M202.5 385.4h.1M195.9 400.1h.1M204.4 396.8h.1M203.6 383.6h.1M201.9 386.9h.1M197.3 392.3h.1M199.2 393.3h.1M203.7 388.5h.1M198.3 390.0h.1M208.4 397.5h.1M209.3 386.6h.1M198.3 392.7h.1M202.8 395.1h.1M205.2 383.3h.1M204.2 400.0h.1M202.4 391.1h.1M203.3 382.5h.1M206.6 393.8h.1M207.4 388.3h.1M199.2 385.4h.1M202.2 391.2h.1M206.0 386.0h.1M199.1 384.8h.1M200.3 396.3h.1M207.6 391.6h.1M208.8 393.9h.1M200.6 395.2h.1M196.3 387.3h.1M204.0 391.5h.1M199.5 389.6h.1M197.3 386.9h.1M217.2 394.8h.1M208.0 398.3h.1M194.9 395.7h.1M199.1 383.3h.1M200.1 392.0h.1M208.6 397.6h.1M203.7 398.5h.1M192.4 390.7h.1M206.2 405.4h.1M194.6 377.1h.1M201.9 389.9h.1M205.7 390.2h.1M198.0 388.8h.1M204.4 405.6h.1M187.9 384.5h.1M201.9 388.7h.1M195.0 388.6h.1M199.9 392.1h.1M205.8 389.0h.1M206.1 387.0h.1M199.9 393.2h.1M200.8 395.4h.1M207.2 387.9h.1M214.1 395.3h.1M199.7 384.6h.1M202.1 391.6h.1M206.3 393.2h.1M206.3 382.8h.1M199.9 390.9h.1M207.0 390.6h.1M204.2 385.6h.1M209.0 391.8h.1M196.0 389.7h.1M201.6 392.2h.1M213.1 384.5h.1M209.9 384.3h.1M202.4 384.9h.1M202.6 397.6h.1M211.9 396.5h.1M202.2 396.1h.1M195.0 390.5h.1M199.2 379.2h.1M201.4 384.0h.1M209.1 386.1h.1M209.1 390.0h.1M208.5 394.9h.1M210.1 386.1h.1M196.1 392.3h.1M215.4 398.4h.1M203.3 397.5h.1M202.9 392.5h.1M209.4 393.2h.1M202.3 392.0h.1M209.1 398.8h.1M211.0 394.1h.1M197.8 396.4h.1M201.4 386.8h.1M202.4 387.2h.1M196.3 391.8h.1M198.1 396.4h.1M204.7 384.2h.1M205.3 393.7h.1M196.9 395.9h.1M200.9 389.7h.1M206.7 379.0h.1M200.2 395.4h.1M205.0 399.6h.1M206.0 391.8h.1M209.1 390.5h.1M207.1 376.6h.1M195.4 397.5h.1M208.7 394.4h.1M208.4 381.4h.1M205.4 383.7h.1M200.2 386.8h.1M208.6 386.7h.1M208.1 395.7h.1M204.8 393.7h.1M209.4 392.7h.1M206.8 394.3h.1M194.3 402.3h.1M205.8 390.9h.1M206.3 386.0h.1M202.2 384.6h.1M202.3 397.6h.1M196.2 385.5h.1M205.8 387.6h.1M216.7 386.3h.1M209.1 391.6h.1M205.5 397.4h.1M213.3 399.2h.1M206.6 390.7h.1M207.3 396.3h.1M202.8 386.4h.1M198.2 383.2h.1M205.0 397.7h.1M206.0 390.1h.1M197.3 394.0h.1M217.8 400.5h.1M202.7 399.7h.1M203.1 391.4h.1M203.7 383.7h.1M211.5 388.8h.1M203.8 392.9h.1M206.2 386.9h.1M199.5 389.8h.1M198.1 386.5h.1M207.0 389.7h.1M206.4 389.8h.1M205.0 387.7h.1M211.2 388.0h.1M205.6 401.8h.1M211.2 387.5h.1M199.5 392.9h.1M204.6 398.8h.1M200.8 394.8h.1M202.2 388.0h.1M210.8 400.0h.1M206.4 393.3h.1M201.2 401.9h.1M198.4 398.2h.1M199.9 395.1h.1M204.0 389.4h.1M202.1 392.8h.1M200.9 387.4h.1M210.4 387.0h.1M203.7 384.9h.1M196.6 388.6h.1M214.6 392.5h.1M207.1 396.4h.1M197.8 386.1h.1M202.7 397.3h.1M204.0 384.6h.1M202.7 382.2h.1M204.7 383.7h.1M198.3 380.7h.1M198.9 387.9h.1M207.5 388.9h.1M201.8 388.4h.1M203.5 389.1h.1M196.8 389.9h.1M206.2 381.9h.1M192.9 396.0h.1M202.3 386.5h.1M195.0 389.7h.1M208.7 387.8h.1M204.0 404.5h.1M206.7 390.6h.1M197.0 398.5h.1M208.3 389.5h.1M207.3 394.7h.1M211.7 396.7h.1M203.7 395.9h.1M202.0 385.4h.1M201.4 388.8h.1M209.4 391.9h.1M206.0 386.8h.1M207.1 388.1h.1M195.1 395.1h.1M204.3 399.6h.1M212.0 391.4h.1M196.1 378.8h.1M203.3 383.6h.1M210.2 394.4h.1M196.9 380.2h.1M211.0 397.8h.1M208.5 400.3h.1M205.9 387.2h.1M204.3 391.6h.1M199.9 390.7h.1M188.3 384.7h.1M201.8 378.2h.1M204.1 387.6h.1M216.1 399.7h.1M208.0 390.2h.1M192.6 384.7h.1M201.1 397.1h.1M191.9 390.3h.1M209.6 394.8h.1M197.7 390.5h.1M205.1 397.6h.1M200.6 389.9h.1M202.1 384.7h.1M199.8 395.5h.1M200.7 388.2h.1M199.1 386.6h.1M206.9 393.1h.1M205.3 392.4h.1M203.4 395.2h.1M199.2 389.3h.1M197.0 398.7h.1M207.0 391.8h.1M205.3 395.4h.1M206.9 394.9h.1M203.1 390.8h.1M208.4 395.6h.1M205.1 398.0h.1M199.0 391.6h.1M197.2 397.9h.1M206.7 391.6h.1M200.7 390.6h.1M189.3 396.2h.1M206.5 394.6h.1M198.8 389.2h.1M200.5 391.0h.1M199.5 386.2h.1M212.9 387.6h.1M204.3 393.8h.1M209.9 398.7h.1M201.3 395.1h.1M207.8 393.5h.1M192.3 380.7h.1M199.1 401.5h.1M208.4 390.5h.1M203.6 392.9h.1M203.1 395.7h.1M198.9 388.7h.1M201.9 383.8h.1M196.4 386.5h.1M196.4 396.3h.1M208.5 394.1h.1M197.3 393.3h.1M203.6 383.2h.1M209.0 393.9h.1M206.7 378.9h.1M198.0 403.6h.1" stroke="#2a4a32" stroke-width="0.45" stroke-linecap="round" fill="none" opacity="0.6"/>
<path d="M201.5 379.2h.1M205.8 358.4h.1M201.9 355.5h.1M202.9 341.9h.1M208.8 387.3h.1M205.0 364.3h.1M202.5 362.3h.1M202.7 374.1h.1M201.9 362.4h.1M209.0 377.1h.1M202.3 347.2h.1M210.2 355.9h.1M203.3 364.0h.1M206.8 359.2h.1M203.2 359.8h.1M200.7 373.0h.1M202.9 365.3h.1M202.1 371.6h.1M210.5 357.5h.1M204.5 363.4h.1M209.1 358.8h.1M208.0 366.5h.1M207.2 359.1h.1M201.9 360.9h.1M207.2 362.6h.1M206.9 378.3h.1M199.4 353.8h.1M202.5 357.5h.1M206.1 353.3h.1M201.6 362.5h.1M204.2 364.6h.1M204.3 348.9h.1M202.6 368.1h.1M205.3 367.5h.1M200.8 357.4h.1M198.7 361.2h.1M201.3 369.7h.1M203.3 374.4h.1M211.1 366.3h.1M205.7 352.3h.1M202.7 341.1h.1M202.2 385.4h.1M206.3 375.8h.1M203.6 361.0h.1M204.8 359.5h.1M205.9 369.7h.1M200.1 344.3h.1M203.6 361.8h.1M199.7 370.2h.1M208.6 368.7h.1M199.9 365.5h.1M201.3 372.9h.1M205.4 367.0h.1M207.1 369.5h.1M212.5 350.7h.1M204.8 371.6h.1M206.8 338.9h.1M207.7 359.2h.1M201.1 380.0h.1M203.8 370.9h.1M206.2 369.3h.1M207.7 366.9h.1M208.4 363.8h.1M201.5 377.2h.1M204.5 370.9h.1M199.7 339.9h.1M204.7 366.2h.1M209.2 351.9h.1M201.6 366.2h.1M208.2 366.4h.1M206.0 371.5h.1M211.1 377.5h.1M203.4 348.8h.1M198.8 360.9h.1M201.4 364.8h.1M203.8 342.2h.1M207.4 369.6h.1M201.6 351.4h.1M208.9 366.1h.1M203.5 354.6h.1M202.1 378.4h.1M202.0 363.6h.1M203.0 362.2h.1M200.4 375.5h.1M204.6 371.2h.1M201.2 362.0h.1M210.7 363.3h.1M202.9 350.6h.1M202.2 368.9h.1M202.9 357.7h.1" stroke="#2a4a32" stroke-width="0.45" stroke-linecap="round" fill="none" opacity="0.55"/>
<path d="M247.9 397.4h.1M233.4 403.9h.1M230.1 385.4h.1M215.7 382.0h.1M225.7 402.2h.1M221.1 387.4h.1M236.5 390.7h.1M207.7 386.6h.1M220.3 387.1h.1M211.3 385.2h.1M231.2 380.9h.1M236.3 390.1h.1M244.1 380.8h.1M218.8 387.9h.1" stroke="#2a4a32" stroke-width="0.45" stroke-linecap="round" fill="none" opacity="0.5"/>
<rect x="177.3" y="322.6" width="108.19999999999999" height="107.0" fill="none" stroke="#111" stroke-width="1.0"/>
<line x1="220.70" y1="322.60" x2="220.70" y2="429.60" stroke="#000" stroke-width="1.0"/>
<line x1="177.30" y1="378.10" x2="285.50" y2="378.10" stroke="#000" stroke-width="1.0"/>
<text x="179.80" y="333.80" font-size="8.5" text-anchor="start" fill="#1a1a1a" stroke="#1a1a1a" stroke-width="0.22">6.90</text>
<text x="282.90" y="333.80" font-size="8.5" text-anchor="end" fill="#1a1a1a" stroke="#1a1a1a" stroke-width="0.22">0.24</text>
<text x="179.80" y="422.90" font-size="8.5" text-anchor="start" fill="#1a1a1a" stroke="#1a1a1a" stroke-width="0.22">92.9</text>
<text x="282.90" y="422.90" font-size="8.5" text-anchor="end" fill="#1a1a1a" stroke="#1a1a1a" stroke-width="0.22">0</text>
<text x="170.30" y="326.80" font-size="8.7" text-anchor="end" fill="#1a1a1a" stroke="#1a1a1a" stroke-width="0.22">10<tspan font-size="5.4" dy="-3.30" font-style="normal" letter-spacing="0">6</tspan></text>
<line x1="174.50" y1="322.90" x2="177.30" y2="322.90" stroke="#555" stroke-width="0.8"/>
<text x="170.30" y="348.40" font-size="8.7" text-anchor="end" fill="#1a1a1a" stroke="#1a1a1a" stroke-width="0.22">10<tspan font-size="5.4" dy="-3.30" font-style="normal" letter-spacing="0">5</tspan></text>
<line x1="174.50" y1="344.50" x2="177.30" y2="344.50" stroke="#555" stroke-width="0.8"/>
<text x="170.30" y="371.40" font-size="8.7" text-anchor="end" fill="#1a1a1a" stroke="#1a1a1a" stroke-width="0.22">10<tspan font-size="5.4" dy="-3.30" font-style="normal" letter-spacing="0">4</tspan></text>
<line x1="174.50" y1="367.50" x2="177.30" y2="367.50" stroke="#555" stroke-width="0.8"/>
<text x="169.70" y="405.30" font-size="8.7" text-anchor="end" fill="#1a1a1a" stroke="#1a1a1a" stroke-width="0.22">0</text>
<line x1="175.80" y1="326.00" x2="177.30" y2="326.00" stroke="#666" stroke-width="0.6"/>
<line x1="175.80" y1="328.60" x2="177.30" y2="328.60" stroke="#666" stroke-width="0.6"/>
<line x1="175.80" y1="331.20" x2="177.30" y2="331.20" stroke="#666" stroke-width="0.6"/>
<line x1="175.80" y1="333.80" x2="177.30" y2="333.80" stroke="#666" stroke-width="0.6"/>
<line x1="175.80" y1="336.40" x2="177.30" y2="336.40" stroke="#666" stroke-width="0.6"/>
<line x1="175.80" y1="339.00" x2="177.30" y2="339.00" stroke="#666" stroke-width="0.6"/>
<line x1="175.80" y1="341.60" x2="177.30" y2="341.60" stroke="#666" stroke-width="0.6"/>
<line x1="175.80" y1="344.20" x2="177.30" y2="344.20" stroke="#666" stroke-width="0.6"/>
<line x1="175.80" y1="346.80" x2="177.30" y2="346.80" stroke="#666" stroke-width="0.6"/>
<line x1="175.80" y1="349.40" x2="177.30" y2="349.40" stroke="#666" stroke-width="0.6"/>
<line x1="175.80" y1="352.00" x2="177.30" y2="352.00" stroke="#666" stroke-width="0.6"/>
<line x1="175.80" y1="354.60" x2="177.30" y2="354.60" stroke="#666" stroke-width="0.6"/>
<line x1="175.80" y1="357.20" x2="177.30" y2="357.20" stroke="#666" stroke-width="0.6"/>
<line x1="175.80" y1="359.80" x2="177.30" y2="359.80" stroke="#666" stroke-width="0.6"/>
<line x1="175.80" y1="362.40" x2="177.30" y2="362.40" stroke="#666" stroke-width="0.6"/>
<line x1="175.80" y1="365.00" x2="177.30" y2="365.00" stroke="#666" stroke-width="0.6"/>
<line x1="175.80" y1="367.60" x2="177.30" y2="367.60" stroke="#666" stroke-width="0.6"/>
<line x1="175.80" y1="370.20" x2="177.30" y2="370.20" stroke="#666" stroke-width="0.6"/>
<line x1="175.80" y1="372.80" x2="177.30" y2="372.80" stroke="#666" stroke-width="0.6"/>
<line x1="175.80" y1="375.40" x2="177.30" y2="375.40" stroke="#666" stroke-width="0.6"/>
<line x1="175.80" y1="378.00" x2="177.30" y2="378.00" stroke="#666" stroke-width="0.6"/>
<line x1="175.80" y1="380.60" x2="177.30" y2="380.60" stroke="#666" stroke-width="0.6"/>
<line x1="175.80" y1="383.20" x2="177.30" y2="383.20" stroke="#666" stroke-width="0.6"/>
<line x1="175.80" y1="385.80" x2="177.30" y2="385.80" stroke="#666" stroke-width="0.6"/>
<line x1="175.80" y1="388.40" x2="177.30" y2="388.40" stroke="#666" stroke-width="0.6"/>
<line x1="175.80" y1="391.00" x2="177.30" y2="391.00" stroke="#666" stroke-width="0.6"/>
<line x1="175.40" y1="396.00" x2="177.30" y2="396.00" stroke="#333" stroke-width="0.7"/>
<line x1="175.40" y1="398.00" x2="177.30" y2="398.00" stroke="#333" stroke-width="0.7"/>
<line x1="175.40" y1="400.00" x2="177.30" y2="400.00" stroke="#333" stroke-width="0.7"/>
<line x1="175.40" y1="402.30" x2="177.30" y2="402.30" stroke="#333" stroke-width="0.7"/>
<line x1="175.40" y1="404.50" x2="177.30" y2="404.50" stroke="#333" stroke-width="0.7"/>
<line x1="175.40" y1="406.50" x2="177.30" y2="406.50" stroke="#333" stroke-width="0.7"/>
<line x1="175.40" y1="408.50" x2="177.30" y2="408.50" stroke="#333" stroke-width="0.7"/>
<line x1="174.50" y1="402.30" x2="177.30" y2="402.30" stroke="#222" stroke-width="0.9"/>
<line x1="175.80" y1="411.00" x2="177.30" y2="411.00" stroke="#666" stroke-width="0.6"/>
<line x1="175.80" y1="413.50" x2="177.30" y2="413.50" stroke="#666" stroke-width="0.6"/>
<line x1="175.80" y1="416.00" x2="177.30" y2="416.00" stroke="#666" stroke-width="0.6"/>
<line x1="175.80" y1="418.50" x2="177.30" y2="418.50" stroke="#666" stroke-width="0.6"/>
<line x1="175.80" y1="421.00" x2="177.30" y2="421.00" stroke="#666" stroke-width="0.6"/>
<line x1="175.80" y1="423.50" x2="177.30" y2="423.50" stroke="#666" stroke-width="0.6"/>
<line x1="175.80" y1="426.00" x2="177.30" y2="426.00" stroke="#666" stroke-width="0.6"/>
<line x1="175.80" y1="428.50" x2="177.30" y2="428.50" stroke="#666" stroke-width="0.6"/>
<text x="203.30" y="444.10" font-size="8.7" text-anchor="middle" fill="#1a1a1a" stroke="#1a1a1a" stroke-width="0.22">0</text>
<text x="246.30" y="444.10" font-size="8.7" text-anchor="end" fill="#1a1a1a" stroke="#1a1a1a" stroke-width="0.22">10<tspan font-size="5.4" dy="-3.30" font-style="normal" letter-spacing="0">4</tspan></text>
<text x="269.30" y="444.10" font-size="8.7" text-anchor="end" fill="#1a1a1a" stroke="#1a1a1a" stroke-width="0.22">10<tspan font-size="5.4" dy="-3.30" font-style="normal" letter-spacing="0">5</tspan></text>
<text x="290.30" y="444.10" font-size="8.7" text-anchor="end" fill="#1a1a1a" stroke="#1a1a1a" stroke-width="0.22">10<tspan font-size="5.4" dy="-3.30" font-style="normal" letter-spacing="0">6</tspan></text>
<line x1="238.30" y1="429.60" x2="238.30" y2="432.40" stroke="#555" stroke-width="0.8"/>
<line x1="261.80" y1="429.60" x2="261.80" y2="432.40" stroke="#555" stroke-width="0.8"/>
<line x1="284.80" y1="429.60" x2="284.80" y2="432.40" stroke="#555" stroke-width="0.8"/>
<line x1="180.30" y1="429.60" x2="180.30" y2="431.10" stroke="#666" stroke-width="0.6"/>
<line x1="183.40" y1="429.60" x2="183.40" y2="431.10" stroke="#666" stroke-width="0.6"/>
<line x1="186.50" y1="429.60" x2="186.50" y2="431.10" stroke="#666" stroke-width="0.6"/>
<line x1="189.60" y1="429.60" x2="189.60" y2="431.10" stroke="#666" stroke-width="0.6"/>
<line x1="192.70" y1="429.60" x2="192.70" y2="431.10" stroke="#666" stroke-width="0.6"/>
<line x1="195.80" y1="429.60" x2="195.80" y2="431.10" stroke="#666" stroke-width="0.6"/>
<line x1="198.90" y1="429.60" x2="198.90" y2="431.10" stroke="#666" stroke-width="0.6"/>
<line x1="202.00" y1="429.60" x2="202.00" y2="431.10" stroke="#666" stroke-width="0.6"/>
<line x1="205.10" y1="429.60" x2="205.10" y2="431.10" stroke="#666" stroke-width="0.6"/>
<line x1="208.20" y1="429.60" x2="208.20" y2="431.10" stroke="#666" stroke-width="0.6"/>
<line x1="211.30" y1="429.60" x2="211.30" y2="431.10" stroke="#666" stroke-width="0.6"/>
<line x1="214.40" y1="429.60" x2="214.40" y2="431.10" stroke="#666" stroke-width="0.6"/>
<line x1="217.50" y1="429.60" x2="217.50" y2="431.10" stroke="#666" stroke-width="0.6"/>
<line x1="220.60" y1="429.60" x2="220.60" y2="431.10" stroke="#666" stroke-width="0.6"/>
<line x1="223.70" y1="429.60" x2="223.70" y2="431.10" stroke="#666" stroke-width="0.6"/>
<line x1="226.80" y1="429.60" x2="226.80" y2="431.10" stroke="#666" stroke-width="0.6"/>
<line x1="229.90" y1="429.60" x2="229.90" y2="431.10" stroke="#666" stroke-width="0.6"/>
<line x1="233.00" y1="429.60" x2="233.00" y2="431.10" stroke="#666" stroke-width="0.6"/>
<line x1="236.10" y1="429.60" x2="236.10" y2="431.10" stroke="#666" stroke-width="0.6"/>
<line x1="239.20" y1="429.60" x2="239.20" y2="431.10" stroke="#666" stroke-width="0.6"/>
<line x1="242.30" y1="429.60" x2="242.30" y2="431.10" stroke="#666" stroke-width="0.6"/>
<line x1="245.40" y1="429.60" x2="245.40" y2="431.10" stroke="#666" stroke-width="0.6"/>
<line x1="248.50" y1="429.60" x2="248.50" y2="431.10" stroke="#666" stroke-width="0.6"/>
<line x1="251.60" y1="429.60" x2="251.60" y2="431.10" stroke="#666" stroke-width="0.6"/>
<line x1="254.70" y1="429.60" x2="254.70" y2="431.10" stroke="#666" stroke-width="0.6"/>
<line x1="257.80" y1="429.60" x2="257.80" y2="431.10" stroke="#666" stroke-width="0.6"/>
<line x1="260.90" y1="429.60" x2="260.90" y2="431.10" stroke="#666" stroke-width="0.6"/>
<line x1="264.00" y1="429.60" x2="264.00" y2="431.10" stroke="#666" stroke-width="0.6"/>
<line x1="267.10" y1="429.60" x2="267.10" y2="431.10" stroke="#666" stroke-width="0.6"/>
<line x1="270.20" y1="429.60" x2="270.20" y2="431.10" stroke="#666" stroke-width="0.6"/>
<line x1="273.30" y1="429.60" x2="273.30" y2="431.10" stroke="#666" stroke-width="0.6"/>
<line x1="276.40" y1="429.60" x2="276.40" y2="431.10" stroke="#666" stroke-width="0.6"/>
<line x1="279.50" y1="429.60" x2="279.50" y2="431.10" stroke="#666" stroke-width="0.6"/>
<line x1="282.60" y1="429.60" x2="282.60" y2="431.10" stroke="#666" stroke-width="0.6"/>
<line x1="201.80" y1="429.60" x2="201.80" y2="432.10" stroke="#111" stroke-width="0.9"/>
<line x1="202.80" y1="429.60" x2="202.80" y2="432.10" stroke="#111" stroke-width="0.9"/>
<line x1="203.80" y1="429.60" x2="203.80" y2="432.10" stroke="#111" stroke-width="0.9"/>
<text x="196.80" y="312.60" font-size="9.6" text-anchor="start" fill="#1a1a1a" stroke="#1a1a1a" stroke-width="0.22" letter-spacing="0.17"><tspan font-style="italic">Nmur1</tspan><tspan font-size="6.4" dy="-3.60" font-style="normal" letter-spacing="0.5">iCre</tspan><tspan dy="3.60" font-style="italic">; Il17rb</tspan><tspan font-size="6.4" dy="-3.60" font-style="normal" letter-spacing="0.5">fl/fl</tspan></text>
<text x="0.00" y="0.00" font-size="10" text-anchor="middle" fill="#1a1a1a" stroke="#1a1a1a" stroke-width="0.22" transform="translate(13.20 376.20) rotate(-90)" textLength="48.0" lengthAdjust="spacingAndGlyphs">Ki-67-FITC</text>
<text x="40.60" y="457.40" font-size="10.2" text-anchor="start" fill="#1a1a1a" stroke="#1a1a1a" stroke-width="0.22" textLength="115.3" lengthAdjust="spacingAndGlyphs">IL-13 (Sm13) huCD4-APC</text>
<line x1="160.00" y1="455.00" x2="283.00" y2="455.00" stroke="#3d5a80" stroke-width="0.85"/>
<path d="M285.6 455l-4.4-1.9v3.8z" fill="#3d5a80"/>
<text x="308.60" y="10.70" font-size="14.5" text-anchor="start" fill="#000" stroke="#000" stroke-width="0.3" font-weight="bold">b</text>
<line x1="349.50" y1="45.05" x2="349.50" y2="149.95" stroke="#606060" stroke-width="0.9"/>
<line x1="345.10" y1="149.50" x2="418.80" y2="149.50" stroke="#606060" stroke-width="0.9"/>
<line x1="345.10" y1="45.50" x2="349.50" y2="45.50" stroke="#606060" stroke-width="0.9"/>
<text x="340.50" y="48.30" font-size="8.7" text-anchor="end" fill="#1a1a1a" stroke="#1a1a1a" stroke-width="0.22">100</text>
<line x1="345.10" y1="66.20" x2="349.50" y2="66.20" stroke="#606060" stroke-width="0.9"/>
<text x="340.50" y="69.00" font-size="8.7" text-anchor="end" fill="#1a1a1a" stroke="#1a1a1a" stroke-width="0.22">80</text>
<line x1="345.10" y1="87.00" x2="349.50" y2="87.00" stroke="#606060" stroke-width="0.9"/>
<text x="340.50" y="89.80" font-size="8.7" text-anchor="end" fill="#1a1a1a" stroke="#1a1a1a" stroke-width="0.22">60</text>
<line x1="345.10" y1="107.70" x2="349.50" y2="107.70" stroke="#606060" stroke-width="0.9"/>
<text x="340.50" y="110.50" font-size="8.7" text-anchor="end" fill="#1a1a1a" stroke="#1a1a1a" stroke-width="0.22">40</text>
<line x1="345.10" y1="128.50" x2="349.50" y2="128.50" stroke="#606060" stroke-width="0.9"/>
<text x="340.50" y="131.30" font-size="8.7" text-anchor="end" fill="#1a1a1a" stroke="#1a1a1a" stroke-width="0.22">20</text>
<line x1="345.10" y1="149.50" x2="349.50" y2="149.50" stroke="#606060" stroke-width="0.9"/>
<text x="340.50" y="152.30" font-size="8.7" text-anchor="end" fill="#1a1a1a" stroke="#1a1a1a" stroke-width="0.22">0</text>
<line x1="368.80" y1="149.50" x2="368.80" y2="153.30" stroke="#606060" stroke-width="0.9"/>
<line x1="398.60" y1="149.50" x2="398.60" y2="153.30" stroke="#606060" stroke-width="0.9"/>
<text x="0.00" y="0.00" font-size="9.4" text-anchor="middle" fill="#1a1a1a" stroke="#1a1a1a" stroke-width="0.22" transform="translate(315.80 97.50) rotate(-90)" textLength="95.0" lengthAdjust="spacingAndGlyphs">IL-17RB<tspan font-size="5.4" dy="-4.20" font-style="normal" letter-spacing="0">+</tspan><tspan dy="4.20"> (% of ILC2s)</tspan></text>
<line x1="369.00" y1="47.50" x2="399.00" y2="47.50" stroke="#666" stroke-width="1.0"/>
<text x="383.90" y="50.00" font-size="14.5" text-anchor="middle" fill="#111" stroke="#111" stroke-width="0.22">****</text>
<line x1="359.60" y1="79.00" x2="378.80" y2="79.00" stroke="#626262" stroke-width="0.9"/>
<line x1="369.20" y1="74.10" x2="369.20" y2="84.70" stroke="#626262" stroke-width="0.9"/>
<line x1="364.60" y1="74.10" x2="373.80" y2="74.10" stroke="#626262" stroke-width="0.9"/>
<line x1="364.60" y1="84.70" x2="373.80" y2="84.70" stroke="#626262" stroke-width="0.9"/>
<line x1="390.00" y1="145.80" x2="408.00" y2="145.80" stroke="#626262" stroke-width="0.9"/>
<line x1="399.00" y1="144.60" x2="399.00" y2="147.00" stroke="#626262" stroke-width="0.9"/>
<line x1="396.00" y1="144.60" x2="402.00" y2="144.60" stroke="#626262" stroke-width="0.9"/>
<line x1="396.00" y1="147.00" x2="402.00" y2="147.00" stroke="#626262" stroke-width="0.9"/>
<circle cx="361.1" cy="60.0" r="2.25" fill="#000"/>
<circle cx="369.0" cy="60.6" r="2.25" fill="#000"/>
<circle cx="376.8" cy="59.8" r="2.25" fill="#000"/>
<circle cx="361.2" cy="78.8" r="2.25" fill="#000"/>
<circle cx="369.0" cy="82.2" r="2.25" fill="#000"/>
<circle cx="376.9" cy="86.9" r="2.25" fill="#000"/>
<circle cx="369.0" cy="89.6" r="2.25" fill="#000"/>
<circle cx="369.0" cy="95.7" r="2.25" fill="#000"/>
<circle cx="369.0" cy="102.0" r="2.25" fill="#000"/>
<circle cx="398.8" cy="134.4" r="2.10" fill="none" stroke="#1a1a1a" stroke-width="0.85"/>
<circle cx="392.6" cy="143.3" r="2.10" fill="none" stroke="#1a1a1a" stroke-width="0.85"/>
<circle cx="397.0" cy="144.2" r="2.10" fill="none" stroke="#1a1a1a" stroke-width="0.85"/>
<circle cx="401.5" cy="145.2" r="2.10" fill="none" stroke="#1a1a1a" stroke-width="0.85"/>
<circle cx="390.6" cy="147.2" r="2.10" fill="none" stroke="#1a1a1a" stroke-width="0.85"/>
<circle cx="393.4" cy="147.3" r="2.10" fill="none" stroke="#1a1a1a" stroke-width="0.85"/>
<circle cx="396.2" cy="147.3" r="2.10" fill="none" stroke="#1a1a1a" stroke-width="0.85"/>
<circle cx="399.0" cy="147.2" r="2.10" fill="none" stroke="#1a1a1a" stroke-width="0.85"/>
<circle cx="402.0" cy="147.3" r="2.10" fill="none" stroke="#1a1a1a" stroke-width="0.85"/>
<circle cx="404.6" cy="147.3" r="2.10" fill="none" stroke="#1a1a1a" stroke-width="0.85"/>
<circle cx="407.0" cy="147.3" r="2.10" fill="none" stroke="#1a1a1a" stroke-width="0.85"/>
<text x="0.00" y="0.00" font-size="9.6" text-anchor="end" fill="#1a1a1a" stroke="#1a1a1a" stroke-width="0.22" font-style="italic" letter-spacing="0.35" transform="translate(373.60 161.30) rotate(-45)">Il17rb<tspan font-size="7.4" dy="-3.70" font-style="normal" letter-spacing="0.4">fl/fl</tspan></text>
<text x="0.00" y="0.00" font-size="9.6" text-anchor="end" fill="#1a1a1a" stroke="#1a1a1a" stroke-width="0.22" font-style="italic" letter-spacing="0.1" transform="translate(400.70 161.70) rotate(-45)">Nmur1<tspan font-size="7.4" dy="-3.70" font-style="normal" letter-spacing="0.4">iCre</tspan><tspan dy="3.70">;</tspan></text>
<text x="0.00" y="0.00" font-size="9.6" text-anchor="end" fill="#1a1a1a" stroke="#1a1a1a" stroke-width="0.22" font-style="italic" letter-spacing="0.35" transform="translate(405.50 171.20) rotate(-45)">Il17rb<tspan font-size="7.4" dy="-3.70" font-style="normal" letter-spacing="0.4">fl/fl</tspan></text>
<text x="443.80" y="10.70" font-size="14.5" text-anchor="start" fill="#000" stroke="#000" stroke-width="0.3" font-weight="bold">c</text>
<line x1="483.50" y1="43.05" x2="483.50" y2="149.95" stroke="#606060" stroke-width="0.9"/>
<line x1="479.10" y1="149.50" x2="554.70" y2="149.50" stroke="#606060" stroke-width="0.9"/>
<line x1="479.10" y1="43.50" x2="483.50" y2="43.50" stroke="#606060" stroke-width="0.9"/>
<text x="474.50" y="46.30" font-size="8.7" text-anchor="end" fill="#1a1a1a" stroke="#1a1a1a" stroke-width="0.22">20</text>
<line x1="479.10" y1="69.90" x2="483.50" y2="69.90" stroke="#606060" stroke-width="0.9"/>
<text x="474.50" y="72.70" font-size="8.7" text-anchor="end" fill="#1a1a1a" stroke="#1a1a1a" stroke-width="0.22">15</text>
<line x1="479.10" y1="96.30" x2="483.50" y2="96.30" stroke="#606060" stroke-width="0.9"/>
<text x="474.50" y="99.10" font-size="8.7" text-anchor="end" fill="#1a1a1a" stroke="#1a1a1a" stroke-width="0.22">10</text>
<line x1="479.10" y1="122.80" x2="483.50" y2="122.80" stroke="#606060" stroke-width="0.9"/>
<text x="474.50" y="125.60" font-size="8.7" text-anchor="end" fill="#1a1a1a" stroke="#1a1a1a" stroke-width="0.22">5</text>
<line x1="479.10" y1="149.50" x2="483.50" y2="149.50" stroke="#606060" stroke-width="0.9"/>
<text x="474.50" y="152.30" font-size="8.7" text-anchor="end" fill="#1a1a1a" stroke="#1a1a1a" stroke-width="0.22">0</text>
<line x1="504.10" y1="149.50" x2="504.10" y2="153.30" stroke="#606060" stroke-width="0.9"/>
<line x1="534.50" y1="149.50" x2="534.50" y2="153.30" stroke="#606060" stroke-width="0.9"/>
<text x="0.00" y="0.00" font-size="9.4" text-anchor="middle" fill="#1a1a1a" stroke="#1a1a1a" stroke-width="0.22" transform="translate(455.80 96.00) rotate(-90)" textLength="87.0" lengthAdjust="spacingAndGlyphs">Ki-67<tspan font-size="5.4" dy="-4.20" font-style="normal" letter-spacing="0">+</tspan><tspan dy="4.20"> (% of ILC2s)</tspan></text>
<line x1="504.30" y1="54.00" x2="534.90" y2="54.00" stroke="#666" stroke-width="1.0"/>
<text x="519.50" y="56.50" font-size="14.5" text-anchor="middle" fill="#111" stroke="#111" stroke-width="0.22">**</text>
<line x1="494.00" y1="110.50" x2="514.20" y2="110.50" stroke="#626262" stroke-width="0.9"/>
<line x1="504.10" y1="105.30" x2="504.10" y2="116.10" stroke="#626262" stroke-width="0.9"/>
<line x1="499.70" y1="105.30" x2="508.50" y2="105.30" stroke="#626262" stroke-width="0.9"/>
<line x1="499.70" y1="116.10" x2="508.50" y2="116.10" stroke="#626262" stroke-width="0.9"/>
<line x1="524.40" y1="129.60" x2="544.60" y2="129.60" stroke="#626262" stroke-width="0.9"/>
<line x1="534.50" y1="126.30" x2="534.50" y2="133.50" stroke="#626262" stroke-width="0.9"/>
<line x1="530.10" y1="126.30" x2="538.90" y2="126.30" stroke="#626262" stroke-width="0.9"/>
<line x1="530.10" y1="133.50" x2="538.90" y2="133.50" stroke="#626262" stroke-width="0.9"/>
<circle cx="504.1" cy="75.9" r="2.25" fill="#000"/>
<circle cx="504.1" cy="95.7" r="2.25" fill="#000"/>
<circle cx="499.6" cy="104.9" r="2.25" fill="#000"/>
<circle cx="508.2" cy="106.5" r="2.25" fill="#000"/>
<circle cx="499.6" cy="115.5" r="2.25" fill="#000"/>
<circle cx="508.2" cy="115.7" r="2.25" fill="#000"/>
<circle cx="504.1" cy="121.5" r="2.25" fill="#000"/>
<circle cx="508.2" cy="128.7" r="2.25" fill="#000"/>
<circle cx="499.6" cy="132.1" r="2.25" fill="#000"/>
<circle cx="534.5" cy="99.7" r="2.10" fill="none" stroke="#1a1a1a" stroke-width="0.85"/>
<circle cx="534.5" cy="124.5" r="2.10" fill="none" stroke="#1a1a1a" stroke-width="0.85"/>
<circle cx="526.6" cy="129.6" r="2.10" fill="none" stroke="#1a1a1a" stroke-width="0.85"/>
<circle cx="530.6" cy="131.4" r="2.10" fill="none" stroke="#1a1a1a" stroke-width="0.85"/>
<circle cx="538.3" cy="132.8" r="2.10" fill="none" stroke="#1a1a1a" stroke-width="0.85"/>
<circle cx="526.6" cy="136.4" r="2.10" fill="none" stroke="#1a1a1a" stroke-width="0.85"/>
<circle cx="532.7" cy="136.4" r="2.10" fill="none" stroke="#1a1a1a" stroke-width="0.85"/>
<circle cx="539.0" cy="137.5" r="2.10" fill="none" stroke="#1a1a1a" stroke-width="0.85"/>
<circle cx="542.6" cy="135.7" r="2.10" fill="none" stroke="#1a1a1a" stroke-width="0.85"/>
<text x="0.00" y="0.00" font-size="9.6" text-anchor="end" fill="#1a1a1a" stroke="#1a1a1a" stroke-width="0.22" font-style="italic" letter-spacing="0.35" transform="translate(508.90 161.30) rotate(-45)">Il17rb<tspan font-size="7.4" dy="-3.70" font-style="normal" letter-spacing="0.4">fl/fl</tspan></text>
<text x="0.00" y="0.00" font-size="9.6" text-anchor="end" fill="#1a1a1a" stroke="#1a1a1a" stroke-width="0.22" font-style="italic" letter-spacing="0.1" transform="translate(536.60 161.70) rotate(-45)">Nmur1<tspan font-size="7.4" dy="-3.70" font-style="normal" letter-spacing="0.4">iCre</tspan><tspan dy="3.70">;</tspan></text>
<text x="0.00" y="0.00" font-size="9.6" text-anchor="end" fill="#1a1a1a" stroke="#1a1a1a" stroke-width="0.22" font-style="italic" letter-spacing="0.35" transform="translate(541.40 171.20) rotate(-45)">Il17rb<tspan font-size="7.4" dy="-3.70" font-style="normal" letter-spacing="0.4">fl/fl</tspan></text>
<text x="574.00" y="10.70" font-size="14.5" text-anchor="start" fill="#000" stroke="#000" stroke-width="0.3" font-weight="bold">d</text>
<line x1="613.50" y1="43.05" x2="613.50" y2="149.95" stroke="#606060" stroke-width="0.9"/>
<line x1="609.10" y1="149.50" x2="685.00" y2="149.50" stroke="#606060" stroke-width="0.9"/>
<line x1="609.10" y1="43.50" x2="613.50" y2="43.50" stroke="#606060" stroke-width="0.9"/>
<text x="604.50" y="46.30" font-size="8.7" text-anchor="end" fill="#1a1a1a" stroke="#1a1a1a" stroke-width="0.22">20</text>
<line x1="609.10" y1="69.90" x2="613.50" y2="69.90" stroke="#606060" stroke-width="0.9"/>
<text x="604.50" y="72.70" font-size="8.7" text-anchor="end" fill="#1a1a1a" stroke="#1a1a1a" stroke-width="0.22">15</text>
<line x1="609.10" y1="96.30" x2="613.50" y2="96.30" stroke="#606060" stroke-width="0.9"/>
<text x="604.50" y="99.10" font-size="8.7" text-anchor="end" fill="#1a1a1a" stroke="#1a1a1a" stroke-width="0.22">10</text>
<line x1="609.10" y1="122.80" x2="613.50" y2="122.80" stroke="#606060" stroke-width="0.9"/>
<text x="604.50" y="125.60" font-size="8.7" text-anchor="end" fill="#1a1a1a" stroke="#1a1a1a" stroke-width="0.22">5</text>
<line x1="609.10" y1="149.50" x2="613.50" y2="149.50" stroke="#606060" stroke-width="0.9"/>
<text x="604.50" y="152.30" font-size="8.7" text-anchor="end" fill="#1a1a1a" stroke="#1a1a1a" stroke-width="0.22">0</text>
<line x1="634.00" y1="149.50" x2="634.00" y2="153.30" stroke="#606060" stroke-width="0.9"/>
<line x1="664.50" y1="149.50" x2="664.50" y2="153.30" stroke="#606060" stroke-width="0.9"/>
<text x="0.00" y="0.00" font-size="9.4" text-anchor="middle" fill="#1a1a1a" stroke="#1a1a1a" stroke-width="0.22" transform="translate(585.50 96.50) rotate(-90)" textLength="88.0" lengthAdjust="spacingAndGlyphs">Sm13<tspan font-size="5.4" dy="-4.20" font-style="normal" letter-spacing="0">+</tspan><tspan dy="4.20"> (% of ILC2s)</tspan></text>
<line x1="634.20" y1="61.50" x2="664.90" y2="61.50" stroke="#666" stroke-width="1.0"/>
<text x="649.45" y="64.00" font-size="14.5" text-anchor="middle" fill="#111" stroke="#111" stroke-width="0.22">****</text>
<line x1="624.60" y1="124.30" x2="643.80" y2="124.30" stroke="#626262" stroke-width="0.9"/>
<line x1="634.20" y1="121.50" x2="634.20" y2="127.10" stroke="#626262" stroke-width="0.9"/>
<line x1="629.80" y1="121.50" x2="638.60" y2="121.50" stroke="#626262" stroke-width="0.9"/>
<line x1="629.80" y1="127.10" x2="638.60" y2="127.10" stroke="#626262" stroke-width="0.9"/>
<line x1="655.50" y1="144.40" x2="673.50" y2="144.40" stroke="#626262" stroke-width="0.9"/>
<line x1="664.50" y1="143.40" x2="664.50" y2="145.40" stroke="#626262" stroke-width="0.9"/>
<line x1="661.50" y1="143.40" x2="667.50" y2="143.40" stroke="#626262" stroke-width="0.9"/>
<line x1="661.50" y1="145.40" x2="667.50" y2="145.40" stroke="#626262" stroke-width="0.9"/>
<circle cx="625.9" cy="114.9" r="2.25" fill="#000"/>
<circle cx="634.0" cy="116.1" r="2.25" fill="#000"/>
<circle cx="625.9" cy="119.9" r="2.25" fill="#000"/>
<circle cx="642.1" cy="121.5" r="2.25" fill="#000"/>
<circle cx="634.0" cy="123.3" r="2.25" fill="#000"/>
<circle cx="625.9" cy="125.5" r="2.25" fill="#000"/>
<circle cx="642.1" cy="127.3" r="2.25" fill="#000"/>
<circle cx="634.0" cy="130.4" r="2.25" fill="#000"/>
<circle cx="634.0" cy="136.5" r="2.25" fill="#000"/>
<circle cx="664.5" cy="136.1" r="2.10" fill="none" stroke="#1a1a1a" stroke-width="0.85"/>
<circle cx="656.5" cy="144.0" r="2.10" fill="none" stroke="#1a1a1a" stroke-width="0.85"/>
<circle cx="659.0" cy="144.6" r="2.10" fill="none" stroke="#1a1a1a" stroke-width="0.85"/>
<circle cx="661.5" cy="144.2" r="2.10" fill="none" stroke="#1a1a1a" stroke-width="0.85"/>
<circle cx="664.0" cy="144.8" r="2.10" fill="none" stroke="#1a1a1a" stroke-width="0.85"/>
<circle cx="666.5" cy="144.6" r="2.10" fill="none" stroke="#1a1a1a" stroke-width="0.85"/>
<circle cx="669.0" cy="144.4" r="2.10" fill="none" stroke="#1a1a1a" stroke-width="0.85"/>
<circle cx="671.5" cy="144.0" r="2.10" fill="none" stroke="#1a1a1a" stroke-width="0.85"/>
<circle cx="673.5" cy="143.6" r="2.10" fill="none" stroke="#1a1a1a" stroke-width="0.85"/>
<circle cx="661.6" cy="149.0" r="2.10" fill="none" stroke="#1a1a1a" stroke-width="0.85"/>
<circle cx="667.2" cy="146.9" r="2.10" fill="none" stroke="#1a1a1a" stroke-width="0.85"/>
<circle cx="663.5" cy="146.5" r="2.10" fill="none" stroke="#1a1a1a" stroke-width="0.85"/>
<text x="0.00" y="0.00" font-size="9.6" text-anchor="end" fill="#1a1a1a" stroke="#1a1a1a" stroke-width="0.22" font-style="italic" letter-spacing="0.35" transform="translate(638.80 161.30) rotate(-45)">Il17rb<tspan font-size="7.4" dy="-3.70" font-style="normal" letter-spacing="0.4">fl/fl</tspan></text>
<text x="0.00" y="0.00" font-size="9.6" text-anchor="end" fill="#1a1a1a" stroke="#1a1a1a" stroke-width="0.22" font-style="italic" letter-spacing="0.1" transform="translate(666.60 161.70) rotate(-45)">Nmur1<tspan font-size="7.4" dy="-3.70" font-style="normal" letter-spacing="0.4">iCre</tspan><tspan dy="3.70">;</tspan></text>
<text x="0.00" y="0.00" font-size="9.6" text-anchor="end" fill="#1a1a1a" stroke="#1a1a1a" stroke-width="0.22" font-style="italic" letter-spacing="0.35" transform="translate(671.40 171.20) rotate(-45)">Il17rb<tspan font-size="7.4" dy="-3.70" font-style="normal" letter-spacing="0.4">fl/fl</tspan></text>
<text x="308.20" y="218.80" font-size="14.5" text-anchor="start" fill="#000" stroke="#000" stroke-width="0.3" font-weight="bold">f</text>
<line x1="349.50" y1="230.25" x2="349.50" y2="337.45" stroke="#606060" stroke-width="0.9"/>
<line x1="345.10" y1="337.00" x2="420.30" y2="337.00" stroke="#606060" stroke-width="0.9"/>
<line x1="345.10" y1="230.70" x2="349.50" y2="230.70" stroke="#606060" stroke-width="0.9"/>
<text x="340.50" y="233.50" font-size="8.7" text-anchor="end" fill="#1a1a1a" stroke="#1a1a1a" stroke-width="0.22">100</text>
<line x1="345.10" y1="257.20" x2="349.50" y2="257.20" stroke="#606060" stroke-width="0.9"/>
<text x="340.50" y="260.00" font-size="8.7" text-anchor="end" fill="#1a1a1a" stroke="#1a1a1a" stroke-width="0.22">75</text>
<line x1="345.10" y1="283.70" x2="349.50" y2="283.70" stroke="#606060" stroke-width="0.9"/>
<text x="340.50" y="286.50" font-size="8.7" text-anchor="end" fill="#1a1a1a" stroke="#1a1a1a" stroke-width="0.22">50</text>
<line x1="345.10" y1="310.10" x2="349.50" y2="310.10" stroke="#606060" stroke-width="0.9"/>
<text x="340.50" y="312.90" font-size="8.7" text-anchor="end" fill="#1a1a1a" stroke="#1a1a1a" stroke-width="0.22">25</text>
<line x1="345.10" y1="337.00" x2="349.50" y2="337.00" stroke="#606060" stroke-width="0.9"/>
<text x="340.50" y="339.80" font-size="8.7" text-anchor="end" fill="#1a1a1a" stroke="#1a1a1a" stroke-width="0.22">0</text>
<line x1="369.20" y1="337.00" x2="369.20" y2="340.80" stroke="#606060" stroke-width="0.9"/>
<line x1="399.20" y1="337.00" x2="399.20" y2="340.80" stroke="#606060" stroke-width="0.9"/>
<text x="0.00" y="0.00" font-size="9.4" text-anchor="middle" fill="#1a1a1a" stroke="#1a1a1a" stroke-width="0.22" transform="translate(315.80 284.00) rotate(-90)" textLength="87.5" lengthAdjust="spacingAndGlyphs">Sm13<tspan font-size="5.4" dy="-4.20" font-style="normal" letter-spacing="0">+</tspan><tspan dy="4.20"> (% of ILC2s)</tspan></text>
<line x1="369.40" y1="261.30" x2="399.60" y2="261.30" stroke="#666" stroke-width="1.0"/>
<text x="384.40" y="263.80" font-size="14.5" text-anchor="middle" fill="#111" stroke="#111" stroke-width="0.22">****</text>
<line x1="359.60" y1="293.70" x2="378.80" y2="293.70" stroke="#626262" stroke-width="0.9"/>
<line x1="369.20" y1="289.80" x2="369.20" y2="297.40" stroke="#626262" stroke-width="0.9"/>
<line x1="364.80" y1="289.80" x2="373.60" y2="289.80" stroke="#626262" stroke-width="0.9"/>
<line x1="364.80" y1="297.40" x2="373.60" y2="297.40" stroke="#626262" stroke-width="0.9"/>
<line x1="390.20" y1="334.40" x2="408.20" y2="334.40" stroke="#626262" stroke-width="0.9"/>
<line x1="399.20" y1="333.20" x2="399.20" y2="335.60" stroke="#626262" stroke-width="0.9"/>
<line x1="396.20" y1="333.20" x2="402.20" y2="333.20" stroke="#626262" stroke-width="0.9"/>
<line x1="396.20" y1="335.60" x2="402.20" y2="335.60" stroke="#626262" stroke-width="0.9"/>
<circle cx="365.5" cy="274.3" r="2.25" fill="#000"/>
<circle cx="373.3" cy="277.0" r="2.25" fill="#000"/>
<circle cx="369.5" cy="283.5" r="2.25" fill="#000"/>
<circle cx="361.4" cy="286.5" r="2.25" fill="#000"/>
<circle cx="377.8" cy="288.0" r="2.25" fill="#000"/>
<circle cx="377.8" cy="293.2" r="2.25" fill="#000"/>
<circle cx="361.4" cy="295.5" r="2.25" fill="#000"/>
<circle cx="377.8" cy="297.7" r="2.25" fill="#000"/>
<circle cx="369.5" cy="297.7" r="2.25" fill="#000"/>
<circle cx="365.5" cy="306.7" r="2.25" fill="#000"/>
<circle cx="373.3" cy="306.7" r="2.25" fill="#000"/>
<circle cx="369.5" cy="315.3" r="2.25" fill="#000"/>
<circle cx="392.2" cy="330.7" r="2.10" fill="none" stroke="#1a1a1a" stroke-width="0.85"/>
<circle cx="402.6" cy="331.0" r="2.10" fill="none" stroke="#1a1a1a" stroke-width="0.85"/>
<circle cx="391.5" cy="334.9" r="2.10" fill="none" stroke="#1a1a1a" stroke-width="0.85"/>
<circle cx="394.8" cy="333.6" r="2.10" fill="none" stroke="#1a1a1a" stroke-width="0.85"/>
<circle cx="398.3" cy="334.2" r="2.10" fill="none" stroke="#1a1a1a" stroke-width="0.85"/>
<circle cx="400.5" cy="335.0" r="2.10" fill="none" stroke="#1a1a1a" stroke-width="0.85"/>
<circle cx="404.0" cy="335.0" r="2.10" fill="none" stroke="#1a1a1a" stroke-width="0.85"/>
<circle cx="405.7" cy="336.0" r="2.10" fill="none" stroke="#1a1a1a" stroke-width="0.85"/>
<circle cx="402.3" cy="337.0" r="2.10" fill="none" stroke="#1a1a1a" stroke-width="0.85"/>
<circle cx="408.4" cy="336.4" r="2.10" fill="none" stroke="#1a1a1a" stroke-width="0.85"/>
<text x="0.00" y="0.00" font-size="9.6" text-anchor="end" fill="#1a1a1a" stroke="#1a1a1a" stroke-width="0.22" font-style="italic" letter-spacing="0.35" transform="translate(374.00 348.80) rotate(-45)">Il17rb<tspan font-size="7.4" dy="-3.70" font-style="normal" letter-spacing="0.4">fl/fl</tspan></text>
<text x="0.00" y="0.00" font-size="9.6" text-anchor="end" fill="#1a1a1a" stroke="#1a1a1a" stroke-width="0.22" font-style="italic" letter-spacing="0.1" transform="translate(401.30 349.20) rotate(-45)">Nmur1<tspan font-size="7.4" dy="-3.70" font-style="normal" letter-spacing="0.4">iCre</tspan><tspan dy="3.70">;</tspan></text>
<text x="0.00" y="0.00" font-size="9.6" text-anchor="end" fill="#1a1a1a" stroke="#1a1a1a" stroke-width="0.22" font-style="italic" letter-spacing="0.35" transform="translate(406.10 358.70) rotate(-45)">Il17rb<tspan font-size="7.4" dy="-3.70" font-style="normal" letter-spacing="0.4">fl/fl</tspan></text>
<text x="443.60" y="218.70" font-size="14.5" text-anchor="start" fill="#000" stroke="#000" stroke-width="0.3" font-weight="bold">g</text>
<line x1="483.50" y1="230.25" x2="483.50" y2="337.45" stroke="#606060" stroke-width="0.9"/>
<line x1="479.10" y1="337.00" x2="554.70" y2="337.00" stroke="#606060" stroke-width="0.9"/>
<line x1="479.10" y1="230.70" x2="483.50" y2="230.70" stroke="#606060" stroke-width="0.9"/>
<text x="474.50" y="233.50" font-size="8.7" text-anchor="end" fill="#1a1a1a" stroke="#1a1a1a" stroke-width="0.22">100</text>
<line x1="479.10" y1="257.20" x2="483.50" y2="257.20" stroke="#606060" stroke-width="0.9"/>
<text x="474.50" y="260.00" font-size="8.7" text-anchor="end" fill="#1a1a1a" stroke="#1a1a1a" stroke-width="0.22">75</text>
<line x1="479.10" y1="283.70" x2="483.50" y2="283.70" stroke="#606060" stroke-width="0.9"/>
<text x="474.50" y="286.50" font-size="8.7" text-anchor="end" fill="#1a1a1a" stroke="#1a1a1a" stroke-width="0.22">50</text>
<line x1="479.10" y1="310.10" x2="483.50" y2="310.10" stroke="#606060" stroke-width="0.9"/>
<text x="474.50" y="312.90" font-size="8.7" text-anchor="end" fill="#1a1a1a" stroke="#1a1a1a" stroke-width="0.22">25</text>
<line x1="479.10" y1="337.00" x2="483.50" y2="337.00" stroke="#606060" stroke-width="0.9"/>
<text x="474.50" y="339.80" font-size="8.7" text-anchor="end" fill="#1a1a1a" stroke="#1a1a1a" stroke-width="0.22">0</text>
<line x1="504.10" y1="337.00" x2="504.10" y2="340.80" stroke="#606060" stroke-width="0.9"/>
<line x1="534.50" y1="337.00" x2="534.50" y2="340.80" stroke="#606060" stroke-width="0.9"/>
<text x="0.00" y="0.00" font-size="9.4" text-anchor="middle" fill="#1a1a1a" stroke="#1a1a1a" stroke-width="0.22" transform="translate(450.90 283.50) rotate(-90)" textLength="85.5" lengthAdjust="spacingAndGlyphs">Ki-67<tspan font-size="5.4" dy="-4.20" font-style="normal" letter-spacing="0">+</tspan><tspan dy="4.20"> (% of ILC2s)</tspan></text>
<line x1="504.30" y1="243.70" x2="534.90" y2="243.70" stroke="#666" stroke-width="1.0"/>
<text x="519.50" y="246.20" font-size="14.5" text-anchor="middle" fill="#111" stroke="#111" stroke-width="0.22">****</text>
<line x1="494.00" y1="301.80" x2="514.20" y2="301.80" stroke="#626262" stroke-width="0.9"/>
<line x1="504.10" y1="296.10" x2="504.10" y2="307.30" stroke="#626262" stroke-width="0.9"/>
<line x1="499.70" y1="296.10" x2="508.50" y2="296.10" stroke="#626262" stroke-width="0.9"/>
<line x1="499.70" y1="307.30" x2="508.50" y2="307.30" stroke="#626262" stroke-width="0.9"/>
<line x1="526.00" y1="332.10" x2="544.00" y2="332.10" stroke="#626262" stroke-width="0.9"/>
<line x1="535.00" y1="331.00" x2="535.00" y2="333.20" stroke="#626262" stroke-width="0.9"/>
<line x1="532.00" y1="331.00" x2="538.00" y2="331.00" stroke="#626262" stroke-width="0.9"/>
<line x1="532.00" y1="333.20" x2="538.00" y2="333.20" stroke="#626262" stroke-width="0.9"/>
<circle cx="496.2" cy="273.4" r="2.25" fill="#000"/>
<circle cx="504.1" cy="277.0" r="2.25" fill="#000"/>
<circle cx="504.1" cy="285.3" r="2.25" fill="#000"/>
<circle cx="500.0" cy="292.1" r="2.25" fill="#000"/>
<circle cx="508.2" cy="292.1" r="2.25" fill="#000"/>
<circle cx="504.1" cy="298.2" r="2.25" fill="#000"/>
<circle cx="504.1" cy="306.0" r="2.25" fill="#000"/>
<circle cx="500.0" cy="310.1" r="2.25" fill="#000"/>
<circle cx="508.2" cy="312.6" r="2.25" fill="#000"/>
<circle cx="504.1" cy="322.9" r="2.25" fill="#000"/>
<circle cx="496.2" cy="326.5" r="2.25" fill="#000"/>
<circle cx="512.0" cy="326.5" r="2.25" fill="#000"/>
<circle cx="526.6" cy="331.2" r="2.10" fill="none" stroke="#1a1a1a" stroke-width="0.85"/>
<circle cx="529.3" cy="329.8" r="2.10" fill="none" stroke="#1a1a1a" stroke-width="0.85"/>
<circle cx="531.8" cy="331.4" r="2.10" fill="none" stroke="#1a1a1a" stroke-width="0.85"/>
<circle cx="534.5" cy="331.2" r="2.10" fill="none" stroke="#1a1a1a" stroke-width="0.85"/>
<circle cx="537.0" cy="331.8" r="2.10" fill="none" stroke="#1a1a1a" stroke-width="0.85"/>
<circle cx="539.5" cy="330.6" r="2.10" fill="none" stroke="#1a1a1a" stroke-width="0.85"/>
<circle cx="541.8" cy="330.2" r="2.10" fill="none" stroke="#1a1a1a" stroke-width="0.85"/>
<circle cx="543.6" cy="330.2" r="2.10" fill="none" stroke="#1a1a1a" stroke-width="0.85"/>
<circle cx="531.0" cy="336.3" r="2.10" fill="none" stroke="#1a1a1a" stroke-width="0.85"/>
<circle cx="535.5" cy="333.2" r="2.10" fill="none" stroke="#1a1a1a" stroke-width="0.85"/>
<text x="0.00" y="0.00" font-size="9.6" text-anchor="end" fill="#1a1a1a" stroke="#1a1a1a" stroke-width="0.22" font-style="italic" letter-spacing="0.35" transform="translate(508.90 348.80) rotate(-45)">Il17rb<tspan font-size="7.4" dy="-3.70" font-style="normal" letter-spacing="0.4">fl/fl</tspan></text>
<text x="0.00" y="0.00" font-size="9.6" text-anchor="end" fill="#1a1a1a" stroke="#1a1a1a" stroke-width="0.22" font-style="italic" letter-spacing="0.1" transform="translate(536.60 349.20) rotate(-45)">Nmur1<tspan font-size="7.4" dy="-3.70" font-style="normal" letter-spacing="0.4">iCre</tspan><tspan dy="3.70">;</tspan></text>
<text x="0.00" y="0.00" font-size="9.6" text-anchor="end" fill="#1a1a1a" stroke="#1a1a1a" stroke-width="0.22" font-style="italic" letter-spacing="0.35" transform="translate(541.40 358.70) rotate(-45)">Il17rb<tspan font-size="7.4" dy="-3.70" font-style="normal" letter-spacing="0.4">fl/fl</tspan></text>
<text x="574.00" y="219.00" font-size="14.5" text-anchor="start" fill="#000" stroke="#000" stroke-width="0.3" font-weight="bold">h</text>
<line x1="613.50" y1="230.25" x2="613.50" y2="337.45" stroke="#606060" stroke-width="0.9"/>
<line x1="609.10" y1="337.00" x2="685.00" y2="337.00" stroke="#606060" stroke-width="0.9"/>
<line x1="609.10" y1="230.70" x2="613.50" y2="230.70" stroke="#606060" stroke-width="0.9"/>
<text x="604.50" y="233.50" font-size="8.7" text-anchor="end" fill="#1a1a1a" stroke="#1a1a1a" stroke-width="0.22">100</text>
<line x1="609.10" y1="251.90" x2="613.50" y2="251.90" stroke="#606060" stroke-width="0.9"/>
<text x="604.50" y="254.70" font-size="8.7" text-anchor="end" fill="#1a1a1a" stroke="#1a1a1a" stroke-width="0.22">80</text>
<line x1="609.10" y1="273.10" x2="613.50" y2="273.10" stroke="#606060" stroke-width="0.9"/>
<text x="604.50" y="275.90" font-size="8.7" text-anchor="end" fill="#1a1a1a" stroke="#1a1a1a" stroke-width="0.22">60</text>
<line x1="609.10" y1="294.20" x2="613.50" y2="294.20" stroke="#606060" stroke-width="0.9"/>
<text x="604.50" y="297.00" font-size="8.7" text-anchor="end" fill="#1a1a1a" stroke="#1a1a1a" stroke-width="0.22">40</text>
<line x1="609.10" y1="315.40" x2="613.50" y2="315.40" stroke="#606060" stroke-width="0.9"/>
<text x="604.50" y="318.20" font-size="8.7" text-anchor="end" fill="#1a1a1a" stroke="#1a1a1a" stroke-width="0.22">20</text>
<line x1="609.10" y1="337.00" x2="613.50" y2="337.00" stroke="#606060" stroke-width="0.9"/>
<text x="604.50" y="339.80" font-size="8.7" text-anchor="end" fill="#1a1a1a" stroke="#1a1a1a" stroke-width="0.22">0</text>
<line x1="634.00" y1="337.00" x2="634.00" y2="340.80" stroke="#606060" stroke-width="0.9"/>
<line x1="664.50" y1="337.00" x2="664.50" y2="340.80" stroke="#606060" stroke-width="0.9"/>
<text x="0.00" y="0.00" font-size="9.4" text-anchor="middle" fill="#1a1a1a" stroke="#1a1a1a" stroke-width="0.22" transform="translate(580.50 284.00) rotate(-90)" textLength="87.5" lengthAdjust="spacingAndGlyphs">Sm13<tspan font-size="5.4" dy="-4.20" font-style="normal" letter-spacing="0">+</tspan><tspan dy="4.20"> (% of ILC2s)</tspan></text>
<line x1="634.20" y1="241.00" x2="664.90" y2="241.00" stroke="#666" stroke-width="1.0"/>
<text x="649.45" y="243.50" font-size="14.5" text-anchor="middle" fill="#111" stroke="#111" stroke-width="0.22">***</text>
<line x1="624.00" y1="283.30" x2="644.00" y2="283.30" stroke="#1a1a1a" stroke-width="0.9"/>
<line x1="654.70" y1="306.30" x2="674.70" y2="306.30" stroke="#1a1a1a" stroke-width="0.9"/>
<circle cx="641.6" cy="263.5" r="2.7" fill="#000"/>
<circle cx="626.1" cy="267.1" r="2.7" fill="#000"/>
<circle cx="634.0" cy="268.7" r="2.7" fill="#000"/>
<circle cx="637.8" cy="279.2" r="2.7" fill="#000"/>
<circle cx="630.0" cy="283.3" r="2.7" fill="#000"/>
<circle cx="630.0" cy="292.5" r="2.7" fill="#000"/>
<circle cx="637.8" cy="291.3" r="2.7" fill="#000"/>
<circle cx="637.8" cy="298.5" r="2.7" fill="#000"/>
<circle cx="630.0" cy="300.3" r="2.7" fill="#000"/>
<circle cx="662.0" cy="300.6" r="2.35" fill="none" stroke="#1a1a1a" stroke-width="0.85"/>
<circle cx="667.2" cy="301.5" r="2.35" fill="none" stroke="#1a1a1a" stroke-width="0.85"/>
<circle cx="672.4" cy="301.0" r="2.35" fill="none" stroke="#1a1a1a" stroke-width="0.85"/>
<circle cx="657.0" cy="305.5" r="2.35" fill="none" stroke="#1a1a1a" stroke-width="0.85"/>
<circle cx="662.0" cy="307.1" r="2.35" fill="none" stroke="#1a1a1a" stroke-width="0.85"/>
<circle cx="672.4" cy="307.1" r="2.35" fill="none" stroke="#1a1a1a" stroke-width="0.85"/>
<circle cx="667.2" cy="309.3" r="2.35" fill="none" stroke="#1a1a1a" stroke-width="0.85"/>
<circle cx="657.0" cy="311.1" r="2.35" fill="none" stroke="#1a1a1a" stroke-width="0.85"/>
<circle cx="667.2" cy="306.0" r="2.35" fill="none" stroke="#1a1a1a" stroke-width="0.85"/>
<text x="0.00" y="0.00" font-size="10.1" text-anchor="end" fill="#1a1a1a" stroke="#1a1a1a" stroke-width="0.22" font-style="italic" letter-spacing="0.35" transform="translate(639.60 350.30) rotate(-45)">Il5<tspan font-size="7.4" dy="-3.70" font-style="normal" letter-spacing="0.4">R/R</tspan></text>
<text x="0.00" y="0.00" font-size="10.1" text-anchor="end" fill="#1a1a1a" stroke="#1a1a1a" stroke-width="0.22" font-style="italic" letter-spacing="0.1" transform="translate(666.60 349.70) rotate(-45)">Il5<tspan font-size="7.4" dy="-3.70" font-style="normal" letter-spacing="0.4">R/R</tspan><tspan dy="3.70">;</tspan></text>
<text x="0.00" y="0.00" font-size="10.1" text-anchor="end" fill="#1a1a1a" stroke="#1a1a1a" stroke-width="0.22" font-style="italic" letter-spacing="0.35" transform="translate(680.10 354.40) rotate(-45)">Il17rb<tspan font-size="7.4" dy="-3.70" font-style="normal" letter-spacing="0.4">fl/fl</tspan></text>
<text x="309.00" y="405.40" font-size="14.5" text-anchor="start" fill="#000" stroke="#000" stroke-width="0.3" font-weight="bold">i</text>
<line x1="349.50" y1="420.45" x2="349.50" y2="528.75" stroke="#606060" stroke-width="0.9"/>
<line x1="345.10" y1="528.30" x2="421.50" y2="528.30" stroke="#606060" stroke-width="0.9"/>
<line x1="345.10" y1="420.90" x2="349.50" y2="420.90" stroke="#606060" stroke-width="0.9"/>
<text x="340.50" y="423.86" font-size="9.2" text-anchor="end" fill="#1a1a1a" stroke="#1a1a1a" stroke-width="0.22">100</text>
<line x1="345.10" y1="442.40" x2="349.50" y2="442.40" stroke="#606060" stroke-width="0.9"/>
<text x="340.50" y="445.36" font-size="9.2" text-anchor="end" fill="#1a1a1a" stroke="#1a1a1a" stroke-width="0.22">80</text>
<line x1="345.10" y1="463.90" x2="349.50" y2="463.90" stroke="#606060" stroke-width="0.9"/>
<text x="340.50" y="466.86" font-size="9.2" text-anchor="end" fill="#1a1a1a" stroke="#1a1a1a" stroke-width="0.22">60</text>
<line x1="345.10" y1="485.30" x2="349.50" y2="485.30" stroke="#606060" stroke-width="0.9"/>
<text x="340.50" y="488.26" font-size="9.2" text-anchor="end" fill="#1a1a1a" stroke="#1a1a1a" stroke-width="0.22">40</text>
<line x1="345.10" y1="506.80" x2="349.50" y2="506.80" stroke="#606060" stroke-width="0.9"/>
<text x="340.50" y="509.76" font-size="9.2" text-anchor="end" fill="#1a1a1a" stroke="#1a1a1a" stroke-width="0.22">20</text>
<line x1="345.10" y1="528.30" x2="349.50" y2="528.30" stroke="#606060" stroke-width="0.9"/>
<text x="340.50" y="531.26" font-size="9.2" text-anchor="end" fill="#1a1a1a" stroke="#1a1a1a" stroke-width="0.22">0</text>
<line x1="369.90" y1="528.30" x2="369.90" y2="532.10" stroke="#606060" stroke-width="0.9"/>
<line x1="400.50" y1="528.30" x2="400.50" y2="532.10" stroke="#606060" stroke-width="0.9"/>
<text x="0.00" y="0.00" font-size="9.4" text-anchor="middle" fill="#1a1a1a" stroke="#1a1a1a" stroke-width="0.22" transform="translate(315.80 474.50) rotate(-90)" textLength="85.5" lengthAdjust="spacingAndGlyphs">Ki-67<tspan font-size="5.4" dy="-4.20" font-style="normal" letter-spacing="0">+</tspan><tspan dy="4.20"> (% of ILC2s)</tspan></text>
<line x1="370.10" y1="440.90" x2="400.90" y2="440.90" stroke="#999" stroke-width="1.1"/>
<text x="385.40" y="443.40" font-size="14.5" text-anchor="middle" fill="#111" stroke="#111" stroke-width="0.22">**</text>
<line x1="360.30" y1="498.60" x2="379.50" y2="498.60" stroke="#626262" stroke-width="0.9"/>
<line x1="390.90" y1="512.60" x2="410.10" y2="512.60" stroke="#626262" stroke-width="0.9"/>
<circle cx="362.3" cy="489.6" r="2.9" fill="#000"/>
<circle cx="367.5" cy="494.1" r="2.9" fill="#000"/>
<circle cx="377.4" cy="494.1" r="2.9" fill="#000"/>
<circle cx="362.3" cy="496.4" r="2.9" fill="#000"/>
<circle cx="372.4" cy="498.6" r="2.9" fill="#000"/>
<circle cx="377.4" cy="501.3" r="2.9" fill="#000"/>
<circle cx="367.5" cy="502.0" r="2.9" fill="#000"/>
<circle cx="372.4" cy="506.3" r="2.9" fill="#000"/>
<circle cx="369.7" cy="519.1" r="2.9" fill="#000"/>
<circle cx="393.3" cy="510.3" r="2.50" fill="none" stroke="#1a1a1a" stroke-width="0.85"/>
<circle cx="397.3" cy="511.4" r="2.50" fill="none" stroke="#1a1a1a" stroke-width="0.85"/>
<circle cx="401.9" cy="510.3" r="2.50" fill="none" stroke="#1a1a1a" stroke-width="0.85"/>
<circle cx="405.0" cy="510.3" r="2.50" fill="none" stroke="#1a1a1a" stroke-width="0.85"/>
<circle cx="408.4" cy="512.1" r="2.50" fill="none" stroke="#1a1a1a" stroke-width="0.85"/>
<circle cx="395.6" cy="513.2" r="2.50" fill="none" stroke="#1a1a1a" stroke-width="0.85"/>
<circle cx="399.0" cy="514.8" r="2.50" fill="none" stroke="#1a1a1a" stroke-width="0.85"/>
<circle cx="401.9" cy="519.3" r="2.50" fill="none" stroke="#1a1a1a" stroke-width="0.85"/>
<circle cx="400.5" cy="525.6" r="2.50" fill="none" stroke="#1a1a1a" stroke-width="0.85"/>
<text x="0.00" y="0.00" font-size="10.3" text-anchor="end" fill="#1a1a1a" stroke="#1a1a1a" stroke-width="0.22" font-style="italic" letter-spacing="0.35" transform="translate(375.50 541.60) rotate(-45)">Il5<tspan font-size="7.4" dy="-3.70" font-style="normal" letter-spacing="0.4">R/R</tspan></text>
<text x="0.00" y="0.00" font-size="10.3" text-anchor="end" fill="#1a1a1a" stroke="#1a1a1a" stroke-width="0.22" font-style="italic" letter-spacing="0.1" transform="translate(402.60 541.00) rotate(-45)">Il5<tspan font-size="7.4" dy="-3.70" font-style="normal" letter-spacing="0.4">R/R</tspan><tspan dy="3.70">;</tspan></text>
<text x="0.00" y="0.00" font-size="10.3" text-anchor="end" fill="#1a1a1a" stroke="#1a1a1a" stroke-width="0.22" font-style="italic" letter-spacing="0.35" transform="translate(416.30 545.50) rotate(-45)">Il17rb<tspan font-size="7.4" dy="-3.70" font-style="normal" letter-spacing="0.4">fl/fl</tspan></text>
<text x="443.50" y="405.40" font-size="14.5" text-anchor="start" fill="#000" stroke="#000" stroke-width="0.3" font-weight="bold">j</text>
<line x1="483.50" y1="420.45" x2="483.50" y2="529.95" stroke="#606060" stroke-width="0.9"/>
<line x1="479.10" y1="529.50" x2="556.00" y2="529.50" stroke="#606060" stroke-width="0.9"/>
<line x1="479.10" y1="420.90" x2="483.50" y2="420.90" stroke="#606060" stroke-width="0.9"/>
<text x="475.10" y="424.05" font-size="9.8" text-anchor="end" fill="#1a1a1a" stroke="#1a1a1a" stroke-width="0.22">600</text>
<line x1="479.10" y1="457.10" x2="483.50" y2="457.10" stroke="#606060" stroke-width="0.9"/>
<text x="475.10" y="460.25" font-size="9.8" text-anchor="end" fill="#1a1a1a" stroke="#1a1a1a" stroke-width="0.22">400</text>
<line x1="479.10" y1="493.30" x2="483.50" y2="493.30" stroke="#606060" stroke-width="0.9"/>
<text x="475.10" y="496.45" font-size="9.8" text-anchor="end" fill="#1a1a1a" stroke="#1a1a1a" stroke-width="0.22">200</text>
<line x1="479.10" y1="529.50" x2="483.50" y2="529.50" stroke="#606060" stroke-width="0.9"/>
<text x="475.10" y="532.65" font-size="9.8" text-anchor="end" fill="#1a1a1a" stroke="#1a1a1a" stroke-width="0.22">0</text>
<line x1="504.20" y1="529.50" x2="504.20" y2="533.30" stroke="#606060" stroke-width="0.9"/>
<line x1="535.60" y1="529.50" x2="535.60" y2="533.30" stroke="#606060" stroke-width="0.9"/>
<text x="0.00" y="0.00" font-size="10.4" text-anchor="middle" fill="#1a1a1a" stroke="#1a1a1a" stroke-width="0.22" transform="translate(449.80 475.00) rotate(-90)" textLength="117.0" lengthAdjust="spacingAndGlyphs"><tspan font-style="italic">N.b.</tspan> worms per intestine</text>
<line x1="504.40" y1="424.70" x2="536.00" y2="424.70" stroke="#999" stroke-width="1.3"/>
<text x="520.10" y="427.20" font-size="14.5" text-anchor="middle" fill="#111" stroke="#111" stroke-width="0.22">****</text>
<line x1="494.00" y1="523.30" x2="515.00" y2="523.30" stroke="#626262" stroke-width="0.9"/>
<line x1="504.50" y1="519.50" x2="504.50" y2="527.00" stroke="#626262" stroke-width="0.9"/>
<line x1="499.70" y1="519.50" x2="509.30" y2="519.50" stroke="#626262" stroke-width="0.9"/>
<line x1="499.70" y1="527.00" x2="509.30" y2="527.00" stroke="#626262" stroke-width="0.9"/>
<line x1="525.10" y1="485.50" x2="545.70" y2="485.50" stroke="#626262" stroke-width="0.9"/>
<line x1="535.40" y1="478.70" x2="535.40" y2="492.20" stroke="#626262" stroke-width="0.9"/>
<line x1="530.00" y1="478.70" x2="540.80" y2="478.70" stroke="#626262" stroke-width="0.9"/>
<line x1="530.00" y1="492.20" x2="540.80" y2="492.20" stroke="#626262" stroke-width="0.9"/>
<circle cx="504.2" cy="492.3" r="3.2" fill="#000"/>
<circle cx="504.9" cy="515.2" r="3.2" fill="#000"/>
<circle cx="502.4" cy="519.5" r="3.2" fill="#000"/>
<circle cx="499.3" cy="523.3" r="3.2" fill="#000"/>
<circle cx="497.5" cy="527.2" r="3.2" fill="#000"/>
<circle cx="501.5" cy="525.6" r="3.2" fill="#000"/>
<circle cx="505.3" cy="526.7" r="3.2" fill="#000"/>
<circle cx="507.6" cy="528.5" r="3.2" fill="#000"/>
<circle cx="510.5" cy="527.4" r="3.2" fill="#000"/>
<circle cx="503.5" cy="528.5" r="3.2" fill="#000"/>
<circle cx="500.0" cy="528.2" r="3.2" fill="#000"/>
<circle cx="535.6" cy="437.8" r="3.05" fill="none" stroke="#1a1a1a" stroke-width="0.85"/>
<circle cx="535.6" cy="463.0" r="3.05" fill="none" stroke="#1a1a1a" stroke-width="0.85"/>
<circle cx="535.6" cy="471.4" r="3.05" fill="none" stroke="#1a1a1a" stroke-width="0.85"/>
<circle cx="533.2" cy="483.0" r="3.05" fill="none" stroke="#1a1a1a" stroke-width="0.85"/>
<circle cx="537.4" cy="488.8" r="3.05" fill="none" stroke="#1a1a1a" stroke-width="0.85"/>
<circle cx="528.4" cy="493.6" r="3.05" fill="none" stroke="#1a1a1a" stroke-width="0.85"/>
<circle cx="543.0" cy="491.2" r="3.05" fill="none" stroke="#1a1a1a" stroke-width="0.85"/>
<circle cx="537.6" cy="494.6" r="3.05" fill="none" stroke="#1a1a1a" stroke-width="0.85"/>
<circle cx="535.6" cy="506.8" r="3.05" fill="none" stroke="#1a1a1a" stroke-width="0.85"/>
<circle cx="535.6" cy="522.0" r="3.05" fill="none" stroke="#1a1a1a" stroke-width="0.85"/>
<text x="0.00" y="0.00" font-size="10.2" text-anchor="end" fill="#1a1a1a" stroke="#1a1a1a" stroke-width="0.22" font-style="italic" letter-spacing="0.35" transform="translate(509.00 541.30) rotate(-45)">Il17rb<tspan font-size="7.4" dy="-3.70" font-style="normal" letter-spacing="0.4">fl/fl</tspan></text>
<text x="0.00" y="0.00" font-size="10.2" text-anchor="end" fill="#1a1a1a" stroke="#1a1a1a" stroke-width="0.22" font-style="italic" letter-spacing="0.1" transform="translate(537.70 536.90) rotate(-45)">Nmur1<tspan font-size="6.6" dy="-3.70" font-style="normal" letter-spacing="0.25">iCre/+</tspan><tspan dy="3.70">;</tspan></text>
<text x="0.00" y="0.00" font-size="10.2" text-anchor="end" fill="#1a1a1a" stroke="#1a1a1a" stroke-width="0.22" font-style="italic" letter-spacing="0.35" transform="translate(540.00 551.00) rotate(-45)">Il17rb<tspan font-size="7.4" dy="-3.70" font-style="normal" letter-spacing="0.4">fl/fl</tspan></text>
</svg></body></html>
